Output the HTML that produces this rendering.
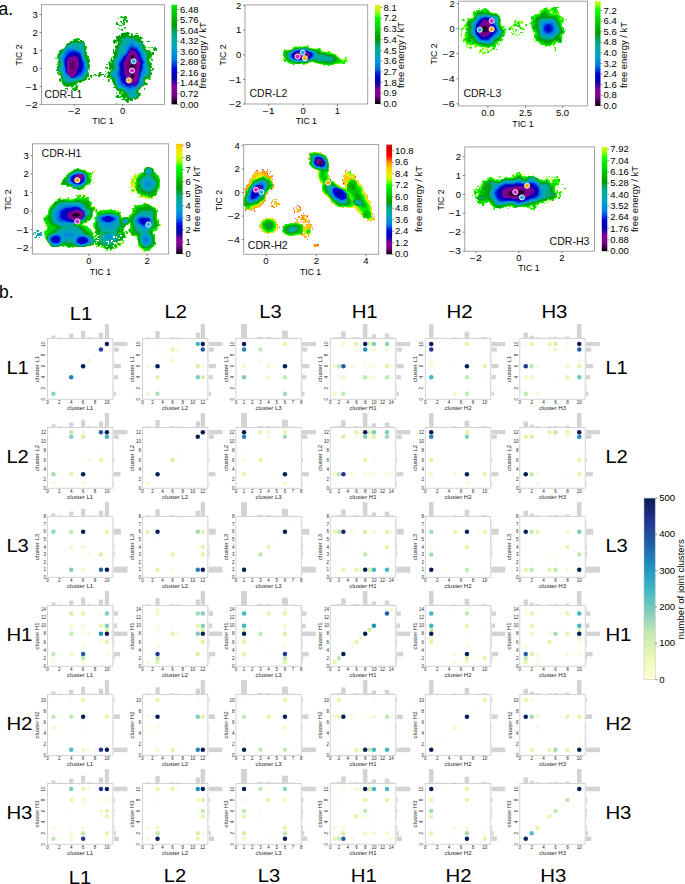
<!DOCTYPE html>
<html><head><meta charset="utf-8"><style>
html,body{margin:0;padding:0;background:#fff;}
svg{display:block;}
text{font-family:"Liberation Sans", sans-serif;}
.tk{font-size:4.5px;fill:#2a2a2a;text-anchor:middle;}
.te{text-anchor:end;}
</style></head><body>
<svg width="685" height="884" viewBox="0 0 685 884">
<rect width="685" height="884" fill="#fff"/>
<g clip-path="url(#ax0)"><g transform="scale(0.5)"><path d="M249 50l-3 0-2-3 4-1-2-1 0-3 0-1 2-4-2-1-4 0-2-2 2-2 2 0 1 2 1-2 0 2 2 0 0-1 0-3 0 2 3 0 1 2 2 2-1 2-2 0-1-2 0 1 2 2-1 3-1 0-2 1 2 1-2 3 2 1 0 1zM253 34l-1 0 1-2 1 1zM236 38l0-2 1 0 1 0zM242 38l0-1 0-1 0 1zM230 40l0-1 0-1 0 1zM253 46l-1-4 2-2 1 0 1 3zM243 46l-1-2-2 0 0-1 1-1 1 0 2 1 0 1zM235 44l-1-1 1-1 1 1zM240 54l-3-4-5 0 2-2-2-2 0-2 1 0 6 6 1 0 4 0 0 2-3 0zM252 48l0-1 0-1 0 1zM247 52l-1-1 1-1 1 1zM249 58l-1-2 2-2 2 2zM237 58l-1-1 0-1 2 0zM245 62l-2-2-4 0-1-1 2-1 1 2 2-2 2 0 1 3zM256 206l-2 0 0-2-3-2-1 0-1-2-1 0-3 0-2 0-1-1 1-1 5-1-5-3-2 2-7 0-1-2-3-1 2-1 2-2 2 0 1 0 2 4 3-2 0-3-1-1-1 0-2 2 0-4 0-2-1-2-3 0-2-2 2-1-3-3-5 0 0-2 3 0 1-2-2-2-2-2 0-2-2-3 0-3-1-2-2 0-2 2-1 1 2 2-3 1-1 0 0-3 2-1-2-1 6-3 2-1-2-1-2 1 0 1-1 0-1 0-2 0-2-2 0-2 2-2 0-2-2-3 3-3 1 2 4-1-2-2 2-1-4-1 0-4 2-2-2-2 0-4-2-2 3-3 2 4 3-1-1-1-3-1 2-2-2-2 2-2 0-2 0-1 2 2 0 4 1 0 1-1 0-3-2-2 3-2 1-1 0-2 0-2-2-1 0-1 0-1 0-5 0-1 2 1 0 1 0 4 1 0 1-2 0-1 0-2 1-1 1-1-2-1 0-2 0-2 1-2 1 2 1 0 1-3 2-2 0-2 0-2-3-1-1 2 2 2-3 0-1-2 0 2 0 2-1 0-1-1 0-2-2-2 2-3 1-2 1 0 0 1 1 1 1 0 2-2-2-2 0-2 9-4 1 1-2 3 0 2 0-2 2-2 0-2 0-2 0-2 1 0 5 0 1-2 3 2 2-2 2 2 3 0 1 1-4 3 4 2 1 0 1-2 1-4 3 3 0 3 2 0 0-2 9 0 1 4 1 2 1-4 1 0 3 4 1-2 1 2-4 3 0 2 2 1 1 0 3 2-2 1 0 1 0 2 4 3 1 3 2 0 1-2 0 1 0 1-3 2-1 1 4 3 3 0 1 0 4 4 0 4 2-2-2-1 2-1 3 0 1 1 0 2 0 2-4 1 0 3-2 2 0 2 4 2 0 1-2 2-3-4-2 0-1 2 1 0 1 2 0 2 4 3 0 3-2 1 2 2 0 2-4 2 0 2 2 1 2-2 1-2 3 1-2 3-1 2-3 0 0 2 2 2 0 3-1 1-3 1 2 3-2 2 0 1 2 2-2 1-2-2-4 0-2 0 0 1-2 2 0 2 6 5-2 2-2 0-2 2-1-2-4 2-7 8 0 1-2 2 2 3 2 0 2 1-2 2 2 3-4 0-3 6-3 0 0 2-1 0-3-4-2 2 0 2 0 2-5 0-1-2-2 0 0 5zM276 68l-4 0-2-2 1 0 5 0zM151 182l-3 0-4-4 0-1 2-1 2 0 0-1 4-2 0-1-3-2-1 1 0 2-4 3-4-4-2 0-1 2-2 0-2-2-1 0-2 2 0-1-4-3 0-1-2-3 0-2 0-1-2-1-1 2-3-3 0-2 4-3 0-3-2-3-3 0-3-4 0-1 4-3-2 0-2 0-2-1 2-2 0-6 2-1 0-2-4-2 4-1 0-2-2-1 4-2-2-2 0-2-2-3 0-3 2-4 2-2 0-4 0-1 3-1 4-2 2 0 5-6 0-2 0-2 2 0 2-2 2 0 2-2 1-2 5 0 1-4 11-2 2 2 0 1-4 1 0 1 1 1 1 0 3-2 3 0 0 2 2 0 1 0 1 0 2 9 4 4-2 2 2 1-2 2 0 4 4 1-2 1 0 2 0 2 4 2 0 5 2 4 0 3-2 2 0 2 2 2 0 5-2 2 0 2-2 1 0 3 2 2 0 2 0 1-2-2 0 1 2 2 0 3 0 2-2 0-2 2-1 4-2 0-1 2-1 0-2 0-4 2-2 2-2 0-2-2-3 4-1 0-1 0 4 4 0 3-2 1 2 1 0 2zM299 84l-5 0 0-1 1-1 4 0 1 0zM305 96l-1 0-2-1 2-1 2 1zM299 98l-1-1-2-2 1-1 3 1zM313 102l-1-2-1 0-1 2-1 0-3-3 2-3 1-2 5 3 0 4zM222 106l0-2 0 1zM177 106l-1 0 1 0 1 0zM113 118l-1 0-2-1 2-1 2 0zM300 117l-1-1-1 0 2 2zM215 130l-2 0-1-2 2 0 2 1zM216 138l-1 0-2-2-3 0 2-2 3 0 1 2zM180 142l-2-2 1-2 1 1zM224 139l-1-1-1 1 1 1zM211 144l-1-2 2 0zM197 154l-1-3 2-2-2-2 2-1 1-2 2 0 3 1-4 2 1 1 4 0 1 0 2 1-3 1-2 0zM120 147l0-1-1-2-1 1 0 1 1 2zM214 148l-2-1 2-1 0 1zM190 150l-2-1 2-1 1 0 1 0zM211 150l-1-2 2 0zM187 152l-1-1 0-1 2 0zM193 152l-1 0-2-2 1 0 1 0 2 1zM182 156l0-2-2-2 0-2 4 1 0 2 0 2zM211 154l-3-1 1-3 1 1 2 2zM218 153l0-1-2 1 1 1zM174 154l-1 0-1 0 1 0zM296 156l0-2 0 2zM213 156l-1 0 0-2 2 2zM179 160l-3-1 2-3 2 1zM124 161l0-2-1-1-1 3 1 1zM207 160l-1-1 1-1 1 1zM184 162l0-1 0-1 0 1zM157 170l-1-2 2 0zM158 174l0-1 0-1zM136 180l-1 0-1-1-1-1-2 0-1-2 1 0 2 0 1 0 2 0zM152 176l-1 0-1 0 1 0zM289 180l-1-1 0-3 2 1zM138 184l0-1 0-1 0 1zM234 188l-2 0 0-2 2-2 0 1zM246 186l0-2-4 1 1 1zM254 197l-1-3-1 0-2 3 0 1zM233 208l-1 0 0-2 2 2zM252 208l0-2 0 1z" fill="#00cc00" fill-rule="evenodd"/><path d="M253 38l-1 0-2-2-1 0-2 0-1 0-4 0-2-2 1 0 5 0 2 0 0-1 0-3 0 2 3 0 1 2 2 2zM253 34l-1 0 1 0 1 0zM236 38l0-2 1 0 1 0zM230 40l0-1 0-1 0 1zM249 50l-2-2-1 2-2-3 4-1-2-2 0-2 0-1 0-1 1-2 5 1-1 1-3 1 0 2 2 1-2 3 2 1 0 1zM253 46l-1-4 2-2 2 2 0 1zM243 46l-1-2-2 0 0-1 1-1 1 0 2 1 0 1zM235 50l-3 0 2-2-2-1 1-3 3 4 0 1zM244 52l-1 0-1-2-1 0-1 2-1 0-1-1 2-1 3 0 1 2zM249 58l-1-2 2-2 2 2zM237 58l-1-1 0-1 2 0zM246 62l-2 0-2-2 0-1 1-1 2 0 1 3zM239 60l-1 0 1 0 1 0zM255 206l-3-4-2 0-1-4-2 2-2 0-3-1 3-1 3-1 0-1-2 0-2-2-2 0-2 2-6 0-1-2-3-1 2-1 2-2 3 0 2 4 3-3 0-3 4 0 0-3-1-1-4 0-3-4-1 0-1 2-2 0 0-4-2 0-1-2-2 0-2 0-1-2 2 0 1 0 1-1 0-1-2-3 0-3-2-2-2-2 0-2-1-2-3 0 0-1 3-1 1-1-2-1-1 0-1 2-1 0-1 0-2 0-2-2 0-2 2-2 0-2 0-1 0-3 2 0 2 0 2-2 0-1 2-1-1-2-4 2-1-1 0-4 2-2-2-2 0-5-2-1 2-1 1 0 1 1 1 1 1 0 2-1-1-1-3-1 2-2 0-5 2 1 0 2-2 1 1 0 3 0 2-3-2-4 3-1 1-2-4-4 0-2 0-1 0-4 0-1 2 1 0 5 2-2 0-1 0-2 2-1 0-2-2-4 1 0 2 0 1-3 2-2 0-2 0-2-2-1-2 1 0 1 2 2-2 0-2-2-1 0-1 1 2 2-1 1-3-4 0-2 3-2 2 0 3 0 0-2-2-2 0-2 2-2 3 0 3-2 0 2-2 2 0 1 1 1 1-1 2-3 0-2 0-1 0-1 1-2 8 0 1 0 2-2 6 2 0 1-4 3 4 2 1 0 1-1 1-5 3 3-2 2 2 1 1 0 2-2 1 0 4 0 1 0 2 0 1 6 2-1 0-1 1-2 2 4 3 0-2 0-2 3 0 2 1 1 3 1 0 1 0 5 3 1 1 3 2 1 0 1-2 1 0 1 3 3 2 2 2-2 2 0 3 5 0 3 2-1 0-3 2 0 2 1 0 1 0 3-3 1-1 1 0 2-2 1 0 2-1 0-1 0-2 0 0 1 0 2 0 2 2 1 0 2-2 0 1 2 1-2 4 3 0 3-4 1 4 3 0 1-4 2 0 2 3 1 3-4 2 1 0 1-3 2-3 1 0 4 2 1 0 3-1 1-2 0-1-2 0 3 2 2 0 1-2 2 0 2 2 1-3 1-3-2-3 0-1-2-2 2 0 2 0 1 0 4 2 1 4 2-2 2-3 0-1 0-2 0-2 2-3 2-1 0-2 4-1 0-1 1-2 5 2 2 2 0 2 1-2 2 0 2 2 1-4 0-2 2-1 4-2 0-1-2 0 1 0 1 0 2-1 0-3-4-1 0-3 3 2 1 0 2-4 0-1-2-3 0 0 2-2 1 0 2zM275 68l-3 0 0-2 4 0zM274 76l0-2-2 2zM145 174l-1 0-2-2-4 0-2 2-4-2-2 2 0-2-4-2 0-2-2-2 0-3-2-1-1 2-3-3 2-3 1 0 1-3 0-3-2-2-1 0-2 0-1-2 0-2-2-1 4-3 0-1-1-1-2 2-1 0-2-1 2-2 0-6 4-3-4-1 0-1 1 0 1-1 0-3 2-1 0-3-2-4 0-6 0-2 4-3-2-1 2-1-2-1 2-2 2 0 2-2 3 0 5-5 2-5 2-2 2 0 4-4 4 0 2-2 2-1 0-1 3 0 3-2 1 2 3 0-1 2-2-2-1 2 0 1 2 3 4-4 2 0 0 2 0 2 4-2 0 3 2 4 0 3 0 1 0 1 2-2 2 2 0 2-2 1 0 9 2 1 0 2-2 1 3 4 1-2 0 1 2 5 2 3 0 3-2 1 0 3 2 2 0 4-4 5 0 5 2 1 0 2-1 1-1-2-2 1 4 3 0 2 0 2-3 0-1-1-1-1-1 2 2 1-1 5-2-2-1 4-4 0-2 2-2 0-1 2-1 0-2-2-3 0-1 2-2 0-2 2-2 2 0 2zM299 84l-4 0-1-2 1 0 2 0 2 0 1 0zM305 96l-1 0-2-1 2-1 2 1zM299 96l-1 0 0-2 2 1zM313 102l-1-2-1 0-2 2-3-3 0-1 2-1 1-3 3 2 2 2 0 3zM113 118l-3-1 2-1 1 0 1 0zM304 122l0-2-2-1 0-3 4 4zM118 127l0-1 0 1 0 1zM214 130l-2-1 2-1zM216 138l-1 0-2-2-3 0 2-2 3 0 1 2zM180 140l0-2 0 1zM211 144l-1-2 2 0zM198 154l-2-1 0-2 2-2 0-1 0-1 0-2 3-1 1 1 0 1-2 1 1 1 4 0 1 0 2 1-3 1-2 0-3 2zM120 148l2-1-3-3-1 0 0 2 2 2zM214 148l-2-1 2-1 0 1zM190 150l-2-1 2-1 1 0 1 0zM211 150l-1-2 2 0zM187 152l-1-2 2 0zM193 152l-1 0-2-2 1 0 1 0 2 1zM184 156l-2-1 0-1-2-2 0-2 4 1 0 2 0 1zM210 154l-2-1 1-3 1 1zM218 154l2-1-2-1-2 1 2 1zM298 156l0-1-2-1 0 2zM213 156l-1 0 1 0 1 0zM178 160l-2-1 0-1 2-2 1 0 1 2zM124 161l0-3-2 1 1 3zM218 164l-2-1 0-2 2-1-2-1 1-1 3 1-2 1 2 2zM136 168l-1 0-1 0 1 0zM154 176l-2 0-2-2 2-1 0-2-2-1 1 0 2 0 3 2 0 2zM135 180l-3-3 2-1 1 0 1 1 0 2zM151 182l-3 0 0-2-4-2 0-1 2-1 1 0 5 0 1 2 3 0zM131 178l-1 0 1-2 1 1zM289 180l-1-1 0-1 1-2 1 1zM138 184l0-1 0-1 0 1zM234 188l-2-1 2-1zM239 188l-1 0 0-2 3 0 1 1zM246 189l0-1-2 1 1 1zM254 198l-1-4-2 0-1 3 2 1 1 0zM233 208l-1 0 0-2 2 2zM252 208l0-2 0 1z" fill="#00ba00" fill-rule="evenodd"/><path d="M248 34l0-1 0-1 0 1zM253 38l-2-2-1-2-1 2-3 0-1-2-2 2-1-1 1-1 3 0 2 0 3-2 1 2 2 2zM253 34l-1 0 1 0 1 0zM230 40l0-1 0-1 0 1zM247 44l-1-4 2-2 2 0 0 1 0 1-2 1zM254 44l-2 0 0-2 2-2 2 2 0 1zM243 46l-1-2-2 0 1-2 3 0 0 1zM235 50l-3 0 2-2-2-1 1-3 3 3zM249 46l-1-1 1-1 1 1zM249 50l-1-2 0-2 0 1 2 1 0 1zM245 48l-1-1 1-1 1 1zM243 50l-1 0 1 0 1 0zM239 52l-1 0 1 0 1 0zM251 56l-3 0 2-2 2 2zM236 58l0-1 0-1 0 1zM246 62l-2-1 0-3 2 1 0 2zM256 206l-1 0-1-2 0-1-4-3 1-2 2 0 3 0-2-2 0-2-1 0-4 2-1 0-4-4-2 0 1-2 2 2 5-4-4-3 0-1-2-2-2 0-3-2-2 0-2 2-1-2 0-1-4-4 0-4-2-2 0-2 0-1-2-1 0-2-2-4-2-2 2-2-2-1-1 0-1 2-3 0-3-3 0-1 2-2 0-2 0-1 0-3 1 0 1 0 2 0 2 0 0-2 2-2 0-2-2-1 0-1-2 0 2 1-2 1-1 0-1-2 2-2-2-4 0-6 1 0 1 2 1 2 3-3 0-1-2 0 0-2 1-2 1 2 2-1 2-2 0-3 0-1-1-1-1-1 4-1 0-3-2-3 2-3 0-2 0-1 4-2-4-3 0-2 3-1 3-4 0-5-2-1-2 0 0 2 2 2-2 0-2-2-2 2-2-2 0-2 3-2 1 0 3 0 1-1 0-2-2-1 0-1 2-3 4 0 2-2 0 2-2 2 0 1 3 1 1-3 0-1 0-5 2-1 6 0 2 0 2-2 6 2 0 1-4 2 0 1 4 4 2-2 0-5 1-1 3 3-2 1 0 2 2 2 2 0 1-4 2 2 1-2 5 0 1 2-2 1 2 1 0 2 3-2 3 2-2 2-2 1 0 1 3 2 3 1 0 4 2 4 0 4 4 4 0 1 3 4 1 0 1-2 2 0 1 4 3 2 1-3 1-1 1 0 2 1 0 1-1 4-4 0-1 1 2 1-2 2-6 1 2 2 0 2-2 1 0 2 2 1 0 4 1 1 2-2 3 1 0 2-4 2 0 1 2 1 0 2-2 2 0 2 2 2 0 2 0 2 2 2 0 1-1 2-1 0-2-2 0 5 1 1 1 0-1 0-1 0-2 2 0-2-2-2-2 2 0 2-3 0-3 5 2 2-2 1 0 2 1 0 5 0 0 3 0 1-6 0-2 2-1 0-9 8-2 4 3 2 3 0 2 1 0 1-2 1 0 3-2 1-3 5-2-2-1 1 0 1 0 2-2 0-2-4-1 0-3 2 0 1 2 1-1 2-7-2-2 3 0 2zM275 68l-2 0-1-2 3 0 1 0zM272 77l4-1 0-1-2-1-2 1 0 2 0 1zM136 174l-1 0-2-2-1 0-2 2 0-3-4-2 2-1-4-2 0-1 2-2-2-2 2-2-2-1-2-1 0-2 0-3 0-1 0-5-4-3-1-3-2 2-3-1 2-2 0-5 2-2 1 0 3-4 0-1-2-1-2-1 0-1 2-2 0-1 0-3-2-2 0-5 0-2 4-3 0-4 1-2 1 2 1 0 1-2 6-4 0-1 2-3 0-2 4-4 2 2 5-6 3 2 2-2 0-1 2-1 0-2 4 0 2 0-2 2 3 4 1 0 4-4 1 0 1 1-2 1 2 2 4-2 0 4 2 1 0 7 2-2 2 2 0 1-2 2 0 2 0 1 0 4 0 1 0 2 0 6 4 3 0 3 3 1 1 2 0 2-4 0 0 3 2 3 0 2 0 1 0 2-2 3 0 5-2 3 0 1 4 3 0 2 0 2-2 0-1-2-2 0-1 2 1 2 1-2 0 2 0 2-3 0-1 2-5 2-1 0-6 0-1 2-2 0-4 2-4 4-2 0-1 0-1 0-2 2-3 0zM159 80l-1-1 0-1 2 0zM299 84l-2 0-3-1 3-1 1 0 2 1zM229 88l-1 0 1-2 1 1zM305 96l-1-1 1-1 1 1zM313 102l-1-4-3 4-3-3 0-1 2-1 1-3 1 0 4 4 0 2zM226 104l0-5 1-1 1 2-2 1zM113 118l-1-1 0-1 2 1zM222 120l0-3 1-1 1 2zM304 120l-2-1 1-1 1 1zM178 121l-1-1-1 1 1 1zM228 123l-1-1-1 1 0 1zM214 130l0-1 0-1zM216 138l-2 0-1-2-3 0 2-2 2 0 2 2zM305 140l-1 0 2-2 0-2 1 0 1 2zM211 142l-1 0 1 0 1 0zM116 146l0-1 1-1 1 1zM198 154l-2-2 0-1 2-2 0-1 2-2-2-1 3-1 1 2-2 1 1 1 4 0 1 0 2 1-3 1-2 0-3 2zM178 146l-2 0 2 0zM118 150l-2-1 1-3 3 3zM214 148l0-1 0-1 0 1zM190 150l-2-1 2-1 1 0 1 0zM211 150l-1-2 2 0zM187 152l-1-2 2 0zM193 152l-1 0-2-2 1 0 1 0 2 1zM184 156l-2-1 0-1-2-2 0-2 4 1 0 2 0 1zM209 154l-1-1 1-3 1 2zM220 154l0-1-2-1-2 0 0 1 2 1zM213 156l-1 0 1 0 1 0zM178 160l0-3 1-1 1 2zM122 162l-2 0-2-1 0-1 2-2 2 1 0 2zM218 164l-2-2 2-2-2-1 1-1 1 1zM300 160l0-1 0-1 0 1zM136 169l0-1-1-2-1 2 2 2zM154 176l-2-1 0-2 1-3 1 1zM145 174l-1-1 1-1 1 1zM228 176l-2-1 1-1 1 1zM131 178l-1 0 1-2 1 1zM136 180l-1 0-1-2 0-2 2 1zM151 182l-3 0 0-2-2-2 0-1 1-1 1 2 6 0 0 1-1 1zM289 180l-1-1 0-1 2 0zM138 184l0-1 0-1 0 1zM239 188l-1-1 1-1 1 0zM234 188l0-1 0-1 0 1zM252 190l-1 0-1 0 1 0zM236 196l-2 0-2-3 3-3 3 1 0 3zM258 198l0-2 0 2zM248 200l-4-1 2-1 2 0zM252 208l0-2 0 1zM233 208l-1 0 1 0 1 0z" fill="#00a700" fill-rule="evenodd"/><path d="M254 36l-2 0-2-1 0-1 1 0 2 2 1 0zM253 34l-1 0 1 0 1 0zM242 36l0-1 0-1 0 1zM247 36l-1-1 1-1 1 1zM230 40l0-1 0-1 0 1zM247 42l-1-1 1-1 1 0zM254 44l-2 0 0-2 2-2 2 2 0 1zM242 44l-2 0 2-2 0 1zM243 46l-1-1 1-1 1 1zM234 50l-2-1 3-3 1 3zM245 48l-1-1 1-1 1 1zM250 50l-1 0-1-2 0-2 2 2zM251 56l-1 0 1 0 1 0zM246 62l-2-1 0-3 2 1 0 2zM254 204l-2-2 0-1-2-1 1-2 2 0 1 2 2-2-2-1 0-4-2-1 0-3-6-7-1 0-2-2-2 0-3-2-2 0-1 0-3-1 0-2 0-3-4-3 0-2 2-1-2-2 0-4-1-2-2 0-1 0 0-3-1-1-3 0-1-2-2 0-1 0 2 2-1 2-3-3 2-3 0-3 0-2 0-1 5 0 3-4 0-3-2-2 2-1-2-2-2 2-2-4 0-5 1-1 1 3 2 1 6-4 0-6 2-4 0-4-2-3 0-2 2-1 2 0 0-1-2-2 0-1 3 0 3-2-1-2-3 0-2-2 0-1 1-1 2 2 2-4 1 1 0 1 1 2 1-2 0-2 0-4-2-2-1-2-3 0 0 2 2 1-1 1-1 0-2-2-2 2-2-2 0-2 3-2 4 0 1-1 0-2-2-1 0-1 2-3 4 0 1 0 1 1-2 2 5 1 1 0-2-1 0-1 0-1 0-6 2-1 6 0 2 0 3-2 2 2 2 0 1 0 0 1-4 2 0 2 2 1 1 2 2 0 2-2 1 0 1 4 1-2 2 0 2-2 3 0 1-2 4 1-3 3-2 0-2 0-1 3 4 1 2 2 2 0 1 0 5 4 2 2 0 2 0 1 0 6 2 2 8 9 2 0 0 2 2 1-2 1 0 3-1 1-1 2 0 5 0 1 0 3 2 1 0 2 2 2 0 2 1 0 1 2 0 1-2 1 0 4 2 1 0 5-2 1-2 7-1-2-2 0-2 4-2 0-1 1-2 2 0 7 0 1 0 2-8 7-1 0-5 5 0 2 2 3 2 2 1-2 1 1 0 1-2 2 2 0 0 2-2 0-4 6-1-2-2 0-1 2-1-2-3 0-2 2 0 2-1 2-3-3 0-2-2-1-2 1 2 2 0 2-2 1zM275 66l-3 0 3 0 1 0zM264 70l0-1 0-1zM248 73l-2-1-2 0 2 2zM276 76l0-1 0-1zM280 78l0-2 1 0 1 0zM159 78l-1 0 1 0 1 0zM154 80l0-1 0-1 0 1zM136 174l-1 0-2-2-2 0-2-2-1-1 0-1 0-2-4 0 0-1 2-2 0-1 0-3-4-2 0-4 2-2-2-1 0-2 0-2-6-7 0-2-2-1 2-3 1-1 3-2 0-5-2-1 0-3 0-1 0-4-2-1 0-4 0-2 4-3 0-1 4-2 0-3 2 0 6-7 2-3 2-2 3 0 5-4 3 0 1-2 1 0 2-2 2 0 4 4 2 0 1-2 1 0 1-2 1 0 1 1-2 2 3 1 1-2 2 0 0 5 2 1 0 3-2 2 2 4 0 3 2 1 0 8-2 1 0 2 2 1 0 2 4 4 0 5 0 1 0 4 2 1-2 1 0 2 2 1 0 2-2 1 0 5-2 4 0 2 4 3 0 2-2 1-1-2-2 0-1 1 0 4-3 3-2 0-3 0-1 2-4 0-4 2-2 0-4 2-2 2-2 0-1 0-2 0-5 0-1-2-2 0 0 3 2 1zM152 83l0-1-2 0 1 2zM298 84l-2-1 2-1 2 1zM229 88l-1-1 1-1 1 1zM173 94l-1 0 1 0 1 0zM304 96l0-1 0-1 0 1zM313 102l-1-4-3 4-1-2 0-2 0-1 1-3 5 5 0 1zM227 100l-1-1 1-1 1 1zM305 110l-1-1 0-2 0-2 3-1 1 4zM232 109l0-3 0 3 0 1zM301 110l-1-1 1-1 1 0zM302 112l-2 0 2 0zM112 118l0-1 0-1 0 1zM222 118l0-2 0 1zM224 122l-2 0 2 0zM214 130l0-1 0-1zM303 130l-1-1 0-1 2 0zM224 130l0-1 0-1-2 2 1 0zM220 138l-2-1 1-3 1 1zM216 138l-2 0-2-2 4 0zM306 138l0-1 1-1 1 1zM115 142l-3-1 3-1 1 0zM305 140l-1 0 1 0 1 0zM211 142l-1 0 1 0 1 0zM198 154l-2-2 0-1 2-2 0-1 2-1 0-2 1-1 1 0 0 2-2 1 1 1 4 0 1 0 2 1-3 1-2 0-3 2zM117 148l-1 0 1 0 1 0zM190 150l0-2 1 0 1 0zM303 150l-1-1 0-1 2 1zM187 152l-1-2 2 0zM193 152l-1 0-2-2 1 0 1 0 2 1zM183 156l-3-4 0-2 4 1 0 2 0 1zM219 156l-1-1 1-1 1 1zM178 160l0-3 1-1 1 2zM121 162l-1 0-2-1 0-1 2-2 2 2zM218 160l0-1 0-1 0 1zM300 160l0-1 0-1 0 1zM218 162l-2 0 1-2 1 1zM293 170l-1-2 2 0zM153 176l-1-2 1-2 1 0 0 2zM131 178l-1-1 1-1 1 1zM136 180l-1 0-1-2 0-2 1 0 1 2zM150 182l-1 0-1-2 0-1-2-1 0-2 1 2 5 0 0 2zM289 178l-1 0 1 0 1 0zM235 196l-1-2 0-2 3 0 1 1zM249 196l-1-1 0-1 2-2 2 0 0 1zM272 200l-2-1 1-1 1 1zM247 200l-3-1 3-1 1 1z" fill="#009a08" fill-rule="evenodd"/><path d="M263 198l-1 0-2-1 4-2-1-1-1 2-2 0-2-2-1 0-1-2-2-3 0-1-9-8-4-2-5 0-4-3 0-3-2-4 0-2 0-2 0-1 0-3-2-2-2-2 0-1-2-2 0-2-2-1-2-1 0-2 2-2 2-3 2-2 0-3 2-2 0-3-1 0-2 2-1-2 2-3 0-2 1-1 1-2 0-6 6-6 0-2 0-1 0-1 0-7 4-4 0-2 2-3 0-2-2-2 3 0 3-2 0-1-2-2 0-1 0-3 3-3 5 2 1-2 3-1-2-1 1-2 2 2 2 0 2 2 2 0 1 2 1-2 6 0 6 6 3 0 4 2 2 2 2 2 0 8 6 7 0 1 2 2 0 2 4 1 0 1-4 4 0 6 2 1 0 7 2 3 0 10 2 2 0 1-2 2 0 4-1 0-4 4-2 0-3 3 0 2 0 9-14 13-2 2 2 1-2 1 3 3 1 0 0 1-1 1-1 0-2 2 2 2-3 2-2 0-2-2-1 1-2 2zM239 78l-1 0 1 0 1 0zM246 82l0-2-2 1 1 1zM239 84l-1 0-2-1 1-1 2 0 1 1zM146 166l-7 0-1 0-8 0-2-3-2-5-2-2 0-8-2-2-4-4 0-2-2-4 0-2 4-4 0-5 0-1 0-3-2-1 0-5-2-3 4-2 0-1 4-6 0-1 13-14 2 0 2 0 4-4 2 0 1 2 3 0 1-2 2 0 2 2 2 0 0-1 3-3 1 3-2 2 0 1 2 0 4-4 2 3 0 3-2 2 2 2 0 2 2 1 0 4 0 1 0 6 0 1 0 4 2 4 2 3 0 2 2 1 0 9 0 1 0 3 0 1 0 6-2 3 0 2-2 2-2 2 0 3-3 5-3 0-1 0-4 0-1 2-2 0-1 0-5 2zM220 132l0-1 0-1zM131 168l-1 0 1 0 1 0z" fill="#00a353" fill-rule="evenodd"/><path d="M263 198l-1 0-2-1 4-2-1-1-1 2-2 0-4-4 0-2 0-2-4-4-1 0-4-4-6-2-2 0-5-3-2-6-2-9-2-4-4-2 0-1 0-2-2-1-2-1 0-2 2-2 2-3 1-2 2 0 3-3 0-3 0-1 0-2-2-2 0-1 0-3 2-1 0-2-2-2 8-9 0-3-2-4 0-3 4-4 0-3 2-2 0-2-2-2 3 0 3-2 0-1-2-2 0-1 0-3 3-3 5 2 1-2 3-1-2-1 1-2 2 2 2 0 2 2 2 0 1 2 1-2 5 0 6 6 2 2 3 0 5 2 0 2 0 8 2 2 6 6 2 4 0 12 0 1 0 3 2 1 0 4 2 3 0 8 2 4-2 6-10 5-2 4 0 9-2 3-1 1-1 0-4 4-1 0-5 6 0 2 0 2 4 2 0 2-4 2 2 2-3 2-2 0-2-2-1 1-2 2zM239 78l-1 0 1 0 1 0zM246 82l0-2-2 1 1 1zM239 84l-1 0-2-1 1-1 2 0 1 1zM145 166l-4 0-1-2-3 0-1 0-2 0-5 0-1-1-2-2 0-2-2-3 0-7 0-1 0-2-6-5 0-2 0-2 0-2 4-4 0-7-4-6 0-4 0-2 2-2 0-1 6-6 0-3 10-10 10-4 8 0 1 0 3 0 0-1 3-3 1 3-2 2 0 1 2 0 4-4 2 3 0 3-2 2 2 2 0 3 2 1-2 2 2 1 0 6-2 1 0 6 2 2 2 3 2 4 0 5 2 1 0 4 0 1 0 1 0 8-4 6-2 2 0 2 0 2-4 3-2 0-1 2-3 0-1 0-3 0-1 2-5 0z" fill="#00aa8d" fill-rule="evenodd"/><path d="M253 74l-1 0 1-2 1 1zM270 196l-1 0-2-2-2 2-2-2-1 0-2 0 0-1-2-2 0-3-5-4-1 0-3-4-13-6-2-1-2-4 0-3 0-1 0-5-2-4-2-2-3 0-1-2-2-2-2-1 0-2 1-1 1 0 3-4 3 0 4-4 0-5-2-1 0-12 6-8 0-7 2-1 0-4 2-2 0-4 2-3 0-3 4 0 2 0 0-1 3-3 1 0-1-4-2 2-1 0-2-2-1 0-1 2-2 0 0-3 3-3 5 2 1-2 6 0 1 2 2 0 1 0 2 0 4 0 7 6 3 0 1 2 2 0 4 4 0 7 0 2 6 4 2 4 0 9 0 1 0 3 2 1 0 4 0 1 0 5 2 1 0 4 0 1 0 7 2 1 0 2-2 3-6 2-4 4 0 2 0 10-4 3 0 1-1 0-4 4-1 0-6 6 0 3 1 1 3 3 0 1-2 2 0 2zM239 78l-1 0 1 0 1 0zM239 84l-2 0-1-2 3 0 1 0zM161 84l-1 0 1 0 1 0zM146 164l-6 0-3-2-4 0-1 0-2 0-2-1-2-6 0-7-4-4 0-1-2-2 0-6 2-3 2-2 0-2-2-1 0-3 0-1 0-2-2-4 0-1 0-2 0-1 6-8 2-5 6-6 1 0 2-2 8-4 4 0 1-2 2 0 3 2 6 0 3-2 2 0 2 1 0 3-2 2 2 2-2 2 2 1 0 5 0 1 0 2 0 1 0 8 2 4 2 3 2 2 0 3 0 1 0 5 2 1 0 9-2 2 0 2-2 2 0 1-2 2-2 4-3 3-2 0-3 0-1 2-3 0-1 0-5 2-1 0-2 0zM263 198l-1-1 1-1 1 1z" fill="#00aaa0" fill-rule="evenodd"/><path d="M254 78l-2-1 2-1 0 1zM246 80l-2-1 1-1 1 0zM249 80l-1 0 0-2 2 1zM262 194l-2-4 0-3-4-3-6-4-2-2-11-4-1-2-2-4 0-3-2-1 0-4 0-1 0-2-4-5-2 0 0-1-3-3-3 0 1-2 3 0 1-2 4 0 3-3 0-2 0-2 2-1-2-1 0-3 0-1 0-8 0-1 0-2 2-2 2-3 2-4 0-2 2-2 1-1 4 0 3-3 0-3-2-2-2 0-2-2 0-2 1-2 1 0 2-2 1 0 3 0 2-2 1 0 3-2 2-4 0-2 1-2 1 2 5-2 4 4 3 4 2 0 4 0 4 3 0 6 0 1 0 2 6 5 0 1 2 2 0 5 0 1 0 5 2 1 0 2 0 1 0 4 2 1 0 10 2 4 0 7-2 2-5 3-3 2-2 4 0 9 0 2-8 7-6 4-2 2 0 3 1 1 2 0 3 3 0 1-5 0-1 2-5 0zM162 94l-4-3 3-1 1-2 3 0 1 0-2 1 0 3zM146 162l-4 0-2 0-3-4-7 0-2-1 0-2 0-1 0-3-2-1 0-5-2-2 0-1-4-4 4-4 0-2 0-1 0-7-2-4 0-8 0-2 4-3 2-5 3-4 1 0 4-4 2-2 2 0 1 0 2 0 1-2 5 0 5 6 1 0 2 2 2 0 1 0 3 0 3 4 0 12 2 4 4 5 0 2 2 1 0 7 0 1 0 8-2 4-4 6 0 1-4 3-2 2-2 0-1 0-7 2zM272 194l-2 0 0-1 2-1 0 1z" fill="#00a6b7" fill-rule="evenodd"/><path d="M262 184l-2 0-3-2-2 0-4-4-11-4-4-5-2-2 0-4 0-1 0-4-6-8 0-3 2-2 0-1 2-2 2-4 0-4-2-4 0-5 2-1 0-2 0-2 4-5 2-2 0-2 3-3 2 0 2-2 3-3 0-9 2-2 0-1 10-11 3 0 2 2 1 1 0 1 5 4 5 2 2 1 0 2 0 1 0 3 8 10 0 7 2 1 0 2 2 4 0 16 0 1 0 3 2 1 0 5-2 1-3 2-3 3-2 4 0 9-2 4-6 6-1 0-4 2-2 0-2 2zM148 160l-5 0-2 0-4-4-4 0-2-2-3-3 0-5-4-7 0-2 0-2 2-1 0-6-2-1 0-3-2-4 0-7 2-2 2-3 2-6 6-6 4-2 4 0 1 0 4 0 4 2 2 2 4 2 2 0 4 2 1 1 0 2 2 1 0 7 0 1 0 2 2 4 4 4 0 2 0 1 0 7 2 1 0 6-2 4-4 5 0 1-4 3-4 2-2 0-1 2-2 0-1 0-2 0zM264 188l-2-1 2-1 0 1zM267 190l-3-1 3-1 1 1z" fill="#009cd3" fill-rule="evenodd"/><path d="M261 180l-2 0-1 0-3 0-12-6-3-4-2 0-2-6 0-5-2-1 0-2-2-5 0-4 4-8 0-5-2-1 0-9 2-4 4-3 2-5 3-4 2 0 5-4 0-2 0-3 2-1 0-4 2-2 0-1 7-7 2 0 5 6 8 3 2 7 4 5 0 2 2 1 0 2 0 1 2 5 2 6 0 11 0 1 0 11-2 2-2 3-4 6 0 5 0 1 0 5-2 2-6 7-4 2-5 0-1 2-2 0zM150 158l-7 0-4-4-7-2-2-2-2-6 0-2-2-1 0-14-2-4 0-5 0-1 0-1 0-3 4-4 2-4 0-2 4-5 4-2 10 0 1 2 2 0 10 4 3 3 0 2 0 1 0 5 2 1 0 5 4 5 0 3 2 1 0 9 0 2 0 1 0 2-2 4-4 3 0 1-4 4-6 2-5 2z" fill="#008ddd" fill-rule="evenodd"/><path d="M265 178l-9 0-12-6-4-5-2-2 0-2 0-1 0-4-2-1 0-3-2-3 0-7 4-6 0-2-2-1 0-3 0-1 0-5 2-4 2-3 2-5 10-9 6-13 3-4 2 0 1 0 5 4 5 2 4 3 2 6 2 2 0 2 2 1 0 5 4 7 0 3 2 1 0 3-2 1 0 6 0 1 0 4-2 1 0 2 0 1 0 2-2 1 0 2-2 4 0 2 0 1 0 3-2 1 0 5 0 1 0 2-2 2-5 5-2 2-2 0-1 0-2 0zM148 158l-3 0-2-2-4-4-6-2-1-2-2-2 0-2 0-2-2-1 0-7 0-1 0-6-2-1 0-4 0-1 0-5 6-14 2 0 2-2 5 0 1-2 6 0 1 2 3 0 8 4 2 3 0 2 2 1 0 3 0 1 2 5 4 7 0 16-2 4-6 6-8 4-2 0z" fill="#007add" fill-rule="evenodd"/><path d="M262 176l-5 0-1-2-2 0-4-2-2-2-1 0-5-4-2-6 0-4-2-1 0-3-2-3 0-5 2-3 0-7 0-1 0-7 0-2 4-3 2-5 2-3 0-1 2 0 6-6 4-10 4-4 3 0 1 2 2 0 6 2 2 3 0 1 4 5 2 5 2 3 0 2 4 8 0 5-2 1 0 6 0 1 0 2-2 4 0 2-2 1 0 3 0 1 0 3-2 1 0 2 0 1 0 3-2 1 0 3 0 1 0 2-6 6-6 2-3 0zM149 156l-4 0-4-2-9-8-2-4 0-3 0-1 0-6-2-1 0-6 0-1 0-6 6-12 4-4 2 0 1 0 3 0 1-2 4 0 1 2 3 0 4 2 5 4 0 2 2 4 0 3 4 8 0 3 0 1 0 2 0 1 0 7-2 1 0 2-2 4-3 4z" fill="#0041dd" fill-rule="evenodd"/><path d="M261 172l-5 0-1 0-2 0-2-2-1-1-6-7-2-2 0-2 0-1 0-3-2-4 0-8 0-1 0-6 0-1 0-3-2-1 2-1 0-3 2-3 0-1 2-2 4-6 8-9 0-1 4-3 0-1 3-4 4 0 1 2 2 0 2 0 6 6 2 4 0 5 4 7 0 2 2 1 0 5-2 1 0 6 0 1-2 5-2 4 0 3 0 1 0 3-2 1 0 3 0 1 0 5-4 4 0 2-3 4-2 0-1-2-4 0zM146 156l-5-2-1-2-6-6-2-4 0-2 0-1 0-4-2-1 0-5 0-1 0-9 2-6 8-7 4-2 9 0 4 2 3 2 2 4 0 2 0 1 0 3 2 1 0 2 0 1 2 5 0 1 0 4 0 1 0 3-2 1 0 3 0 1 0 2-6 5-10 6z" fill="#0000dd" fill-rule="evenodd"/><path d="M271 172l-2 0-1-2-3 0-3-1-1-3-1 2 0 1-3 3-1 0-2-2 0-2-2-2-4-4 0-1-2-2-2-2 0-3 0-1 0-2-2-4 0-3 0-1 0-9 0-1 0-6 6-8 0-3 10-10 0-1 2-2 0-3 3-4 4 0 1 1-1 1-3 1 5 1 2 2 1 0 4 5 2 2 0 2 0 1 0 2 4 7 0 14-2 6 0 2-2 1 0 3 0 1 0 4 0 1 0 3 0 1 0 5-4 2 0 2 0 2zM146 156l-5-2-7-8 0-3 0-1 0-5-2-1 0-4 0-1 0-11 2-4 7-8 6-2 5 0 4 2 2 2 2 4 0 2 2 1 0 3 0 1 0 3 2 1 0 3 0 1 0 2 0 1 0 3-2 1 0 2-2 4-4 4-1 0zM272 166l-1-2-1 1 0 1z" fill="#0000c1" fill-rule="evenodd"/><path d="M271 172l-2 0-1-2-3 0-2 0-1-2-1-2-1 0 0 3-3 3-1 0-2-2 0-7 0-2-4-4-6-10 0-4 2-1 0-5-2-1 0-7 2-6 4-5 2-5 2-2 0-2 6-6 0-3 3-4 5 1-4 2 5 1 2 2 1 3 2 1 0 3 2 2 0 3 2 1 0 5 2 2 0 5 2 1-2 1 0 7-2 3 2 3-2 1 0 4 0 1 0 4 0 1 0 3 0 1 0 5-4 2 0 2 0 2zM146 156l-5-2-7-8 0-3 0-1 0-2 0-1 0-3-2-1 0-2 2-1 0-10 0-1 0-2 2-2 5-5 6-4 6 0 5 4 2 4 0 3 0 1 0 5 2 1 0 6-2 1 0 2 0 1 0 2-2 2-4 5 0 2-2 2 0 1zM272 166l-1-2-1 1 0 1z" fill="#0300aa" fill-rule="evenodd"/><path d="M271 172l-2 0-1-2-3 0-2 0-1-2-1-2-1 0 0 3-3 3-1 0-2-2 0-7 0-1 0-2-4-2 0-2 2-2-2-4-2-2 0-3 0-1 0-10-2-1 2-7 0-1 0-2 2-2 0-3 2-1 0-2 0-2 2-2 0-2 6-6 0-3 3-4 5 1-4 2 5 1 2 2 1 3 2 1 0 3 2 2 0 3 2 1 0 5 2 2 0 3 2 3-2 1 0 7-2 3 2 3-2 1 0 4 0 1 0 4 0 1 0 3 0 1 0 5-4 2 0 2 0 2zM146 156l-5-2-7-8 0-3 0-1 0-2 0-1 0-3-2-1 0-2 2-1 0-5 0-1 0-3 0-1 2-3 0-2 1-1 1 0 1-2 4 0 3-2 6 0 4 2 2 4 0 3 0 1 0 10 0 1 0 3-4 4 0 2 0 1 0 4-2 2 0 1zM272 166l-1-2-1 1 0 1z" fill="#4d00a0" fill-rule="evenodd"/><path d="M257 166l-3-4 0-5 0-1-2-5-2-3 0-9-2-1 0-6 0-1 0-3 0-1 0-3 2-2 2-4 0-2 4-4 0-3 4-5 2 0 2-1 0-1 1 0 1 0 2 0 0 2 6 4 0 7 4 3 0 2 0 1 0 4 2 1 0 6-2 1 2 1 0 2-2 4 0 3-2 1 0 5 0 1 0 2 0 1 0 5-2 1 0 3-4 0-2 2-3 0-1 2-1 0-2-2zM146 154l-2 0-4-2-4-5 0-2 0-2-2-1 0-5 0-1 0-4 0-1 0-2 0-1 0-6 4-3-2-2 2-1 2-2 2 0 1 0 3 0 2-2 6 7 0 2 2 1 0 13-2 1 0 5-2 3 0 2-2 4zM271 170l-1-1 1-1 1 1z" fill="#860097" fill-rule="evenodd"/><path d="M268 158l-7 0-5-3-4-8 0-3 0-1 0-4-2-1 0-12 6-12 4-3 0-1 4-2 2 0 2 0 2 3 4 6 0 2 2 3 0 5 2 1 0 6-2 1 0 3-2 4 0 3 0 1 0 4-2 1 0 2 0 2zM146 150l-3 0-3-3 0-1-2-2 0-2-2-1 0-4 0-1 0-7 0-1 0-3 2-1 0-2 3-4 2-2 2 0 1 0 1 0 2 0 5 6 0 14-2 1 0 2 0 1 0 2-2 4z" fill="#7d008e" fill-rule="evenodd"/><path d="M266 158l-1 0-3-3 0-2 0-2-1-1-5-4 0-2 0-2-2-1 0-4 0-1 0-4 0-1 0-3 2-1 0-2 2-4 0-1 4-4 0-5 2-1 3 0 1 2 0 4 0 2 2 2 2 4 0 2 0 3 2 1-2 7 0 1-2 5-2 5 0 3 0 1 0 1 0 2zM145 140l-2 0-3-4 0-9 2-2 3-3 1 0 2 1 2 4 0 6 0 1 0 2-2 2z" fill="#5d006b" fill-rule="evenodd"/><path d="M266 118l-2 0-2-2 0-3 2-3 2 0 2 2 0 5zM265 140l-2 0-1-2 0-3-2-1 2-3 2-3 2 2 0 2 2 1-2 5zM266 156l-2 0-2-2 0-4 2-2 2 0 2 2 0 4z" fill="#1c0020" fill-rule="evenodd"/></g></g><defs><clipPath id="ax0"><rect x="41.5" y="4.7" width="122.90" height="99.70"/></clipPath></defs><circle cx="133.6" cy="61.3" r="2.55" fill="#1ab0e8" stroke="#fff" stroke-width="0.9"/><circle cx="132" cy="70.6" r="2.55" fill="#e21fd0" stroke="#fff" stroke-width="0.9"/><circle cx="128.8" cy="80.3" r="2.55" fill="#f7a900" stroke="#fff" stroke-width="0.9"/><rect x="41.5" y="4.7" width="122.90" height="99.70" fill="none" stroke="#999" stroke-width="0.9"/><line x1="74.3" y1="104.4" x2="74.3" y2="106.4" stroke="#555" stroke-width="0.7"/><text x="74.30" y="114.20" font-size="8.47" text-anchor="middle" textLength="12.23" lengthAdjust="spacingAndGlyphs">−2</text><line x1="122.6" y1="104.4" x2="122.6" y2="106.4" stroke="#555" stroke-width="0.7"/><text x="122.60" y="114.20" font-size="8.47" text-anchor="middle" textLength="5.28" lengthAdjust="spacingAndGlyphs">0</text><line x1="39.5" y1="14.60" x2="41.5" y2="14.60" stroke="#555" stroke-width="0.7"/><text x="37.70" y="17.70" font-size="8.47" text-anchor="end" textLength="5.28" lengthAdjust="spacingAndGlyphs">3</text><line x1="39.5" y1="32.56" x2="41.5" y2="32.56" stroke="#555" stroke-width="0.7"/><text x="37.70" y="35.66" font-size="8.47" text-anchor="end" textLength="5.28" lengthAdjust="spacingAndGlyphs">2</text><line x1="39.5" y1="50.52" x2="41.5" y2="50.52" stroke="#555" stroke-width="0.7"/><text x="37.70" y="53.62" font-size="8.47" text-anchor="end" textLength="5.28" lengthAdjust="spacingAndGlyphs">1</text><line x1="39.5" y1="68.48" x2="41.5" y2="68.48" stroke="#555" stroke-width="0.7"/><text x="37.70" y="71.58" font-size="8.47" text-anchor="end" textLength="5.28" lengthAdjust="spacingAndGlyphs">0</text><line x1="39.5" y1="86.44" x2="41.5" y2="86.44" stroke="#555" stroke-width="0.7"/><text x="37.70" y="89.54" font-size="8.47" text-anchor="end" textLength="12.23" lengthAdjust="spacingAndGlyphs">−1</text><line x1="39.5" y1="104.40" x2="41.5" y2="104.40" stroke="#555" stroke-width="0.7"/><text x="37.70" y="107.50" font-size="8.47" text-anchor="end" textLength="12.23" lengthAdjust="spacingAndGlyphs">−2</text><text x="103.00" y="124.00" font-size="8.47" text-anchor="middle" textLength="21.23" lengthAdjust="spacingAndGlyphs">TIC 1</text><text x="21.60" y="55.00" font-size="8.47" text-anchor="middle" textLength="21.23" lengthAdjust="spacingAndGlyphs" transform="rotate(-90 21.60 55.00)">TIC 2</text><text x="44.40" y="98.00" font-size="11.5" fill="#111" textLength="37.91" lengthAdjust="spacingAndGlyphs">CDR-L1</text><defs><linearGradient id="cbg0" x1="0" y1="0" x2="0" y2="1"><stop offset="0.000" stop-color="#00ea00"/><stop offset="0.025" stop-color="#00df00"/><stop offset="0.050" stop-color="#00d700"/><stop offset="0.075" stop-color="#00cc00"/><stop offset="0.100" stop-color="#00c200"/><stop offset="0.125" stop-color="#00ba00"/><stop offset="0.150" stop-color="#00af00"/><stop offset="0.175" stop-color="#00a700"/><stop offset="0.200" stop-color="#009c00"/><stop offset="0.225" stop-color="#009d1d"/><stop offset="0.250" stop-color="#00a13d"/><stop offset="0.275" stop-color="#00a668"/><stop offset="0.300" stop-color="#00aa8b"/><stop offset="0.325" stop-color="#00aa93"/><stop offset="0.350" stop-color="#00aa9d"/><stop offset="0.375" stop-color="#00aaa8"/><stop offset="0.400" stop-color="#00a7b3"/><stop offset="0.425" stop-color="#00a2c3"/><stop offset="0.450" stop-color="#009ecf"/><stop offset="0.475" stop-color="#0098dd"/><stop offset="0.500" stop-color="#008ddd"/><stop offset="0.525" stop-color="#0085dd"/><stop offset="0.550" stop-color="#007add"/><stop offset="0.575" stop-color="#005ddd"/><stop offset="0.600" stop-color="#0041dd"/><stop offset="0.625" stop-color="#001cdd"/><stop offset="0.650" stop-color="#0000d9"/><stop offset="0.675" stop-color="#0000cd"/><stop offset="0.700" stop-color="#0000bd"/><stop offset="0.725" stop-color="#0000b1"/><stop offset="0.750" stop-color="#1800a7"/><stop offset="0.775" stop-color="#4300a2"/><stop offset="0.800" stop-color="#63009e"/><stop offset="0.825" stop-color="#870098"/><stop offset="0.850" stop-color="#820093"/><stop offset="0.875" stop-color="#7e008f"/><stop offset="0.900" stop-color="#79008a"/><stop offset="0.925" stop-color="#5d006b"/><stop offset="0.950" stop-color="#41004b"/><stop offset="0.975" stop-color="#1c0020"/><stop offset="1.000" stop-color="#000000"/></linearGradient></defs><rect x="171.5" y="4.7" width="5.60" height="99.70" fill="url(#cbg0)"/><line x1="177.1" y1="104.40" x2="178.9" y2="104.40" stroke="#555" stroke-width="0.6"/><text x="180.10" y="107.50" font-size="8.47" textLength="18.48" lengthAdjust="spacingAndGlyphs">0.00</text><line x1="177.1" y1="93.87" x2="178.9" y2="93.87" stroke="#555" stroke-width="0.6"/><text x="180.10" y="96.97" font-size="8.47" textLength="18.48" lengthAdjust="spacingAndGlyphs">0.72</text><line x1="177.1" y1="83.35" x2="178.9" y2="83.35" stroke="#555" stroke-width="0.6"/><text x="180.10" y="86.45" font-size="8.47" textLength="18.48" lengthAdjust="spacingAndGlyphs">1.44</text><line x1="177.1" y1="72.82" x2="178.9" y2="72.82" stroke="#555" stroke-width="0.6"/><text x="180.10" y="75.92" font-size="8.47" textLength="18.48" lengthAdjust="spacingAndGlyphs">2.16</text><line x1="177.1" y1="62.30" x2="178.9" y2="62.30" stroke="#555" stroke-width="0.6"/><text x="180.10" y="65.40" font-size="8.47" textLength="18.48" lengthAdjust="spacingAndGlyphs">2.88</text><line x1="177.1" y1="51.77" x2="178.9" y2="51.77" stroke="#555" stroke-width="0.6"/><text x="180.10" y="54.87" font-size="8.47" textLength="18.48" lengthAdjust="spacingAndGlyphs">3.60</text><line x1="177.1" y1="41.25" x2="178.9" y2="41.25" stroke="#555" stroke-width="0.6"/><text x="180.10" y="44.35" font-size="8.47" textLength="18.48" lengthAdjust="spacingAndGlyphs">4.32</text><line x1="177.1" y1="30.72" x2="178.9" y2="30.72" stroke="#555" stroke-width="0.6"/><text x="180.10" y="33.82" font-size="8.47" textLength="18.48" lengthAdjust="spacingAndGlyphs">5.04</text><line x1="177.1" y1="20.20" x2="178.9" y2="20.20" stroke="#555" stroke-width="0.6"/><text x="180.10" y="23.30" font-size="8.47" textLength="18.48" lengthAdjust="spacingAndGlyphs">5.76</text><line x1="177.1" y1="9.67" x2="178.9" y2="9.67" stroke="#555" stroke-width="0.6"/><text x="180.10" y="12.77" font-size="8.47" textLength="18.48" lengthAdjust="spacingAndGlyphs">6.48</text><text x="206.20" y="55.40" font-size="8.47" text-anchor="middle" textLength="66.20" lengthAdjust="spacingAndGlyphs" transform="rotate(-90 206.20 55.40)">free energy / kT</text><g clip-path="url(#ax1)"><g transform="scale(0.5)"><path d="M659 132l-4-2-2 0-1 2-1-2-2 0-2 2-1-4-3 0-1 2-1 0-2-2-2 0-2 0-2-2-4 0-4-2-2 0-2 2-1-2-2 0-2 4-3 0-2 2-1-2-1 2-2 0-2-2-3 0-1 0-5 0-1 0-2 0-1 0-3 0-1 2-2 0-2-2-2 0-2 0-2-2-1 0-2-2-1-2-1 0-2 2-2 0-1-1-2-2 2-2 0-4-4-4 2-1 0-5 4-7 2 2 3 0 1 0 1 0 2-2 1 2 2 0 4-6 4 0 1-2 4 2 3-2 1 2 2-2 2 2 4 0 1-2 5 0 3-2 2 2 0 2 1 2 6 0 1 2 3 0 1-2 1 2 3 0 1-2 3 0 2 0 2 1-2 1 4 3 0 3 2-2 2 0 1 2 3 0 2 0 3-2 1 0 2 0 2 2-2 1 1 1 2-2 2 4 5 0 3 2 1 0 2 4 5 2 5 4 2 0 2-4 2-2 2 1-2 2 2 3 2 1-2 3-4 1 0 3-2 0-1 0-2 0-1-2-2 2-2 0-2-2-2 2-3 0-2 0-1 0-2 0-2 2-5 0zM567 120l-1-1 0-3 2 0zM687 116l-1 0 1 0 1 0z" fill="#c4fc00" fill-rule="evenodd"/><path d="M659 132l-1 0-2-2-8 0-1 2-1-3-2-1-1 0-3 0-4-2-1 2-2-2-3 0-4-2-3 0-2 2-1-2-3 0-2 4-2 0-1 0-3 0-1 2-1 0-3-4-1 0-2 2-1 0-1 0-7 0-1 0-2 0-1 2-1 0-3-2-3 0-3-2-1 0-1-1-3-3-2 2-3 0 0-3 2-4-2-4-2-2 0-6 4-7 2 2 2 0 1 0 2 0 1 0 5 0 1-2 0-1 2-2 0-1 2 0 1 0 2-2 4 2 2 0 2 0 2-2 1 0 2 2 1 0 3-2 5 0 3-2 2 2 0 4 2 0 5 0 3 2 1 0 6 0 1-2 2 0 2 0 2 1-2 2 2 1 2 2-2 1 2 1 2-2 4 2 1 0 3 0 2-2 3 0 1 2 1 2 2 0 1 2 6 0 2 1 0 1 1 0 5 6 2 0 2 2 2 0 1 4 1-2 4-1 0-3 2-2 2 1-2 3 2 1-3 1-1 1 1 1 2-2 3 1-1 1-1 2-2 0-2 1 0 3-2 0-2 0-2-2-2 0-1 2-3-2-2 2-2 0-1 0-3 0-4 2-5 0zM588 97l-1-1-1 1 0 1zM566 120l0-3 1-1 1 2zM688 124l-1 0-1 0 1 0z" fill="#58ff00" fill-rule="evenodd"/><path d="M659 132l-1 0-2-2-8 0-1 2-1-3-1-1-6 0-1-2-5 0-6-2-5 0-1 0-2 0-4 2-4 0-3 4-1 0-1-2-3-2-1 2-3 0-1 0-2 0-1 0-5 0-2 2-1 0-2-2-2 0-2 0-1-1 0-1-3 0-3-3 0-1-2 0-2 2-2 0 0-3 2-2 0-3-4-7 0-4 4-7 1 2 3 0 2 2 3-2 5 0 2-2 3-2 1-2 3 0 1 0 2 0 2 0 2 0 1-2 2 2 3 0 1 0 6 0 2-2 1 0 1 4 2 0 3 0 1 2 3 0 1 0 5 0 1 0 3 0 0 1 2 1 0-1 0-2 2-1 0 3 2 2 1 3 2 0 3 0 1 0 4 0 3 2 0-2 0-2 2 2 2 0 0 1 0 1 10 2 2 4 1 0 5 4 2 2 1 2 2 0 3 4 2 0 0-2-2-1 1-1 3 0 1 2 1 0 2 0-4 3 0 3-2 0-2 0-2-2-7 0-1 2-3 0-1-2-1 2-3 0-2 2-5 0zM588 96l-2 0 0-2 2 0zM690 120l0-3 0-2 2-1 0 2zM567 118l-1 0 0-2 2 1zM696 122l0-1 0-1 0 1z" fill="#00fa00" fill-rule="evenodd"/><path d="M615 94l-1-1 1-1 1 1zM587 94l-1 0 1 0 1 0zM659 132l-1 0-5-4-1 2-3 0-1 0-2-2-6 0-4-2-4 0-4-2-2 0-1-2-2 0-1 2-3 0-4 2-5 0-2 2-1 0-2-2-3 0-4 2-6-2-1 2-2 0-1 2-1 0-4-6-1 2 2 1-2 1-1 0-1-1 0-1-2 0-4-4 0-2-1 0-3 4 0-1-2-1 0-1 4-5-4-2-2-6 0-2 2-4 3-2 3 0 1 2 2-2 5 0 8-4 1-2 2 0 1 0 10 0 1 2 3-2 5 0 8 4 4 0 1 0 7 0 1 0 2 0 1 2 1 0 0-3 2-1 0 3 2 2 0 2 0 1 3 0 1 0 2 0 1 0 3 0 2 2 3 0 1 2 4 0 1 0 7 0 0 2 4 4 8 8 1 0 1 1-1 1-1 0-1 2-2 0-3 0-1 0-1 0-3 0-4 2-1 2-6 0zM658 106l-2-2 1 0 3 0zM570 107l-1-1-1 1 1 1zM692 116l-2 0 1-2 1 1zM696 122l0-1 0-1 0 1zM690 124l-2 0 1-2 1 1zM694 122l-2 0 2 0zM690 128l-1 0-4 0-1-2 5 0 1 1zM647 132l-1-1 1-1 1 1z" fill="#00e200" fill-rule="evenodd"/><path d="M659 128l-3 0-1 0-8 0-1-2-7 0-1 0-3 0-4-2-2 0-1-2-7 0-6 4-4 0-3 2-2-2-7 0-1 2-2 0-4-2-3 0-2-2-1 2-2-2-2-2-4 2-2-1 2-1-2 0-2-2-2 0-1 0-1 0 0-1 2-2 0-1-4-3 0-2 0-1 2-1 0-4-2-1 1-2 2 2 2 0 5-4 5 0 6-2 3-4 2 2 2 0 1-2 1 2 8 0 1-2 7 0 5 4 3 0 1 0 4 0 1 2 4 0 1-2 2 0 2 2 3 0 2 1-2 2 1 3 9 0 1 0 3 0 4 2 6 0 1 2 2 0 2 0 11 11 0 1-2 2-4 0-1 0-5 2-3 2-5 0z" fill="#00ca00" fill-rule="evenodd"/><path d="M659 128l-3 0-4-2-9 0-1 0-4 0-1-2-3 0-1 0-5-2-1 0-4 0-1 0-5 2-2 2-5 0-2 2-2-2-5 0-1 0-2 2-2 0-4-2-3 0-2-2-1 2-2-2-3-2-1 1 0 1-2 0-2-1 2-1-2 0 0-2-4-3 0-2-2-2 0-1 2-2-2-1 0-4-2-1 1-2 2 2 3 0 3-2 4 0 10-6 4 0 1 0 11 0 1-2 4 0 8 4 9 2 1 0 3 0 2 0 2 2 3-2 2 1-2 2 0 2 1 1 4 0 1 0 1 0 4 0 1 2 5 0 1 2 8 0 2 0 8 9 0 2-2 1-2 2-2 0-6 4-4 0zM571 120l-1 0 1-2 1 0 0 1z" fill="#00b400" fill-rule="evenodd"/><path d="M597 128l-4-2-4 0-1-2-3 0-3-2-3 0-1-2-2 0-2-3-2-7-2-3 2-2 2-1 4-2 1 0 4-2 2 0 7-4 14 0 1 0 6 0 6 2 3 0 1 2 3 0 1 0 3 0 1 2 2 0 4 2 1 0 3 4 2-2 3 0 1 2 4 0 6 2 8 0 2 2 3 3 2 4 0 1-3 4-6 2-8 0-1 0-5 0-1-2-11 0-1 0-2 0-4-2-2 0-1-2-3 0-10 6-5 0-1 0-2 0-1 0-6 0zM569 104l-1 0 1-2 1 1zM571 120l-1-1 1-1 1 1z" fill="#009c00" fill-rule="evenodd"/><path d="M597 126l-2 0-1 0-4 0-2-2-3 0-4-4-3 0-2 0-2-3 0-3 0-1 0-5-2-1 5-3 2-2 2 0 1 0 2 0 7-4 3 0 1-2 14 0 2 0 1 0 2 0 6 4 4 0 4 2 5 0 5 6 2 0 1 0 8 0 1 2 2 0 4 2 5 0 1 0 3 0 5 5 0 3-4 4-4 2-5 0-1-2-3 0-1 0-14 0-1-2-3 0-6-2-2 0-1 0-5 2-6 2-4 0-1 2-7 0-1-2-3 0z" fill="#00a248" fill-rule="evenodd"/><path d="M607 126l-1-2-9 0-1 2-1-2-5 0-2-2-3 0-2-2-5 0-2-2 0-2 0-2-2-1 0-5 2-2 3-2 2 0 12-6 13 0 1-2 5 0 6 4 7 0 1 2 2 0 2 0 2 2 6 6 9 0 6 2 3 0 1 2 4 0 1 0 2 0 2 3 0 2 0 2-5 3-3 0-1-2-4 0-1 0-16 0-6-4-4 0-8 4-2 0-1 2-3 0-1 0-3 0z" fill="#00aa90" fill-rule="evenodd"/><path d="M613 124l-23 0-7-4-2 0-2-2-1-1-2-2 0-7 7-6 8-4 5 0 1 0 16 0 3 2 7 0 1 2 2 0 4 2 4 4 2 4 7 0 1 0 3 0 6 4 1 1 0 1-8 0-1 2-5 0-1-2-3 0-1 0-5-2-1 2-5 0-5 4-2 0z" fill="#00aaa8" fill-rule="evenodd"/><path d="M614 122l-24 0-10-4-2-4 0-4 0-2 5-4 3-2 2-2 2 0 4-2 13 0 1 0 2 0 1 0 3 0 3 2 7 2 4 2 4 4 0 4 0 2-2 0-2 2-8 4-2 0z" fill="#00a0c7" fill-rule="evenodd"/><path d="M608 122l-4 0-1 0-13 0-8-4-2-2 0-2 0-5 3-5 1 0 2-2 4-2 2 0 1 0 9 0 1-2 8 0 4 2 3 0 1 2 5 0 6 4 0 2 0 4-4 4-8 4-2 0-1 2-6 0z" fill="#0090dd" fill-rule="evenodd"/><path d="M610 122l-8 0-1-2-11 0-6-2-2-3 0-2-2-1 2-2 0-2 4-4 6-4 5 0 1 0 14 0 4 2 2 0 4 2 2 0 4 4 0 4-4 4-6 4-2 0-1 0-4 0z" fill="#0078dd" fill-rule="evenodd"/><path d="M611 120l-10 0-1 0-9 0-1-2-2 0-4-3-2-2 0-3 2-2 4-4 4-2 3 0 1-2 16 0 1 2 2 0 1 0 2 0 1 2 2 0 2 0 3 4 0 4-4 4-6 4-4 0z" fill="#002fdd" fill-rule="evenodd"/><path d="M610 120l-8 0-1-2-10 0-4-2-3-2 0-5 2-3 2 0 2-2 2-2 3 0 1 0 16 0 1 0 2 0 1 2 2 0 4 2 2 2 0 4-4 4-2 2-2 0-1 0-4 0z" fill="#0000cd" fill-rule="evenodd"/><path d="M609 118l-6 0-1 0-9 0-1-2-2 0-4-3 0-4 2-3 1 0 4-2 3 0 1-2 6 0 1 0 3 0 1 0 4 0 1 2 2 0 7 3 0 2 0 3-3 4-4 2-5 0z" fill="#0300aa" fill-rule="evenodd"/><path d="M613 116l-17 0-1 0-3 0-4-4 0-2 3-4 4-2 2 0 1 0 13 0 1 0 2 0 4 2 2 4 0 1-4 5-2 0z" fill="#58009f" fill-rule="evenodd"/><path d="M610 116l-9 0-1-2-3 0-1 0-2 0-2-2 0-3 3-3 2 0 3 0 1-2 12 0 1 2 2 0 2 2 0 3-1 1-2 2-2 0-2 0z" fill="#820093" fill-rule="evenodd"/><path d="M611 114l-8 0-1-2-2 0-2-1 0-2 3-3 2 0 1 0 8 0 1 0 2 0 1 2 0 2-2 2-2 0z" fill="#700080" fill-rule="evenodd"/><path d="M611 112l-4 0-3-2 0-1 2-1 2 0 1-2 2 2 2 0 1 2z" fill="#25002b" fill-rule="evenodd"/></g></g><defs><clipPath id="ax1"><rect x="245" y="4.9" width="122.70" height="99.10"/></clipPath></defs><circle cx="302.7" cy="52.6" r="2.55" fill="#1ab0e8" stroke="#fff" stroke-width="0.9"/><circle cx="297.6" cy="56.6" r="2.55" fill="#e21fd0" stroke="#fff" stroke-width="0.9"/><circle cx="304.9" cy="58.2" r="2.55" fill="#f7a900" stroke="#fff" stroke-width="0.9"/><rect x="245" y="4.9" width="122.70" height="99.10" fill="none" stroke="#999" stroke-width="0.9"/><line x1="268.7" y1="104" x2="268.7" y2="106" stroke="#555" stroke-width="0.7"/><text x="268.70" y="113.80" font-size="8.47" text-anchor="middle" textLength="12.23" lengthAdjust="spacingAndGlyphs">−1</text><line x1="303.2" y1="104" x2="303.2" y2="106" stroke="#555" stroke-width="0.7"/><text x="303.20" y="113.80" font-size="8.47" text-anchor="middle" textLength="5.28" lengthAdjust="spacingAndGlyphs">0</text><line x1="337.5" y1="104" x2="337.5" y2="106" stroke="#555" stroke-width="0.7"/><text x="337.50" y="113.80" font-size="8.47" text-anchor="middle" textLength="5.28" lengthAdjust="spacingAndGlyphs">1</text><line x1="243" y1="5.60" x2="245" y2="5.60" stroke="#555" stroke-width="0.7"/><text x="241.20" y="8.70" font-size="8.47" text-anchor="end" textLength="5.28" lengthAdjust="spacingAndGlyphs">2</text><line x1="243" y1="30.20" x2="245" y2="30.20" stroke="#555" stroke-width="0.7"/><text x="241.20" y="33.30" font-size="8.47" text-anchor="end" textLength="5.28" lengthAdjust="spacingAndGlyphs">1</text><line x1="243" y1="54.80" x2="245" y2="54.80" stroke="#555" stroke-width="0.7"/><text x="241.20" y="57.90" font-size="8.47" text-anchor="end" textLength="5.28" lengthAdjust="spacingAndGlyphs">0</text><line x1="243" y1="79.40" x2="245" y2="79.40" stroke="#555" stroke-width="0.7"/><text x="241.20" y="82.50" font-size="8.47" text-anchor="end" textLength="12.23" lengthAdjust="spacingAndGlyphs">−1</text><line x1="243" y1="104.00" x2="245" y2="104.00" stroke="#555" stroke-width="0.7"/><text x="241.20" y="107.10" font-size="8.47" text-anchor="end" textLength="12.23" lengthAdjust="spacingAndGlyphs">−2</text><text x="306.30" y="124.00" font-size="8.47" text-anchor="middle" textLength="21.23" lengthAdjust="spacingAndGlyphs">TIC 1</text><text x="225.60" y="55.00" font-size="8.47" text-anchor="middle" textLength="21.23" lengthAdjust="spacingAndGlyphs" transform="rotate(-90 225.60 55.00)">TIC 2</text><text x="249.50" y="97.40" font-size="11.5" fill="#111" textLength="37.91" lengthAdjust="spacingAndGlyphs">CDR-L2</text><defs><linearGradient id="cbg1" x1="0" y1="0" x2="0" y2="1"><stop offset="0.000" stop-color="#e8f000"/><stop offset="0.025" stop-color="#d8f500"/><stop offset="0.050" stop-color="#c4fc00"/><stop offset="0.075" stop-color="#a1ff00"/><stop offset="0.100" stop-color="#58ff00"/><stop offset="0.125" stop-color="#1dff00"/><stop offset="0.150" stop-color="#00f700"/><stop offset="0.175" stop-color="#00ec00"/><stop offset="0.200" stop-color="#00df00"/><stop offset="0.225" stop-color="#00d400"/><stop offset="0.250" stop-color="#00ca00"/><stop offset="0.275" stop-color="#00bc00"/><stop offset="0.300" stop-color="#00b200"/><stop offset="0.325" stop-color="#00a400"/><stop offset="0.350" stop-color="#009a00"/><stop offset="0.375" stop-color="#009f33"/><stop offset="0.400" stop-color="#00a55d"/><stop offset="0.425" stop-color="#00aa88"/><stop offset="0.450" stop-color="#00aa95"/><stop offset="0.475" stop-color="#00aaa0"/><stop offset="0.500" stop-color="#00a8af"/><stop offset="0.525" stop-color="#00a3bf"/><stop offset="0.550" stop-color="#009cd3"/><stop offset="0.575" stop-color="#0095dd"/><stop offset="0.600" stop-color="#0088dd"/><stop offset="0.625" stop-color="#007ddd"/><stop offset="0.650" stop-color="#0067dd"/><stop offset="0.675" stop-color="#0038dd"/><stop offset="0.700" stop-color="#0013dd"/><stop offset="0.725" stop-color="#0000d1"/><stop offset="0.750" stop-color="#0000c1"/><stop offset="0.775" stop-color="#0000ad"/><stop offset="0.800" stop-color="#2300a6"/><stop offset="0.825" stop-color="#4d00a0"/><stop offset="0.850" stop-color="#83009a"/><stop offset="0.875" stop-color="#830094"/><stop offset="0.900" stop-color="#7d008e"/><stop offset="0.925" stop-color="#770088"/><stop offset="0.950" stop-color="#4b0055"/><stop offset="0.975" stop-color="#25002b"/><stop offset="1.000" stop-color="#000000"/></linearGradient></defs><rect x="375" y="4.9" width="5.50" height="99.10" fill="url(#cbg1)"/><line x1="380.5" y1="104.00" x2="382.3" y2="104.00" stroke="#555" stroke-width="0.6"/><text x="383.50" y="107.10" font-size="8.47" textLength="13.20" lengthAdjust="spacingAndGlyphs">0.0</text><line x1="380.5" y1="93.28" x2="382.3" y2="93.28" stroke="#555" stroke-width="0.6"/><text x="383.50" y="96.38" font-size="8.47" textLength="13.20" lengthAdjust="spacingAndGlyphs">0.9</text><line x1="380.5" y1="82.56" x2="382.3" y2="82.56" stroke="#555" stroke-width="0.6"/><text x="383.50" y="85.66" font-size="8.47" textLength="13.20" lengthAdjust="spacingAndGlyphs">1.8</text><line x1="380.5" y1="71.84" x2="382.3" y2="71.84" stroke="#555" stroke-width="0.6"/><text x="383.50" y="74.94" font-size="8.47" textLength="13.20" lengthAdjust="spacingAndGlyphs">2.7</text><line x1="380.5" y1="61.12" x2="382.3" y2="61.12" stroke="#555" stroke-width="0.6"/><text x="383.50" y="64.22" font-size="8.47" textLength="13.20" lengthAdjust="spacingAndGlyphs">3.6</text><line x1="380.5" y1="50.40" x2="382.3" y2="50.40" stroke="#555" stroke-width="0.6"/><text x="383.50" y="53.50" font-size="8.47" textLength="13.20" lengthAdjust="spacingAndGlyphs">4.5</text><line x1="380.5" y1="39.68" x2="382.3" y2="39.68" stroke="#555" stroke-width="0.6"/><text x="383.50" y="42.78" font-size="8.47" textLength="13.20" lengthAdjust="spacingAndGlyphs">5.4</text><line x1="380.5" y1="28.96" x2="382.3" y2="28.96" stroke="#555" stroke-width="0.6"/><text x="383.50" y="32.06" font-size="8.47" textLength="13.20" lengthAdjust="spacingAndGlyphs">6.3</text><line x1="380.5" y1="18.24" x2="382.3" y2="18.24" stroke="#555" stroke-width="0.6"/><text x="383.50" y="21.34" font-size="8.47" textLength="13.20" lengthAdjust="spacingAndGlyphs">7.2</text><line x1="380.5" y1="7.52" x2="382.3" y2="7.52" stroke="#555" stroke-width="0.6"/><text x="383.50" y="10.62" font-size="8.47" textLength="13.20" lengthAdjust="spacingAndGlyphs">8.1</text><text x="404.30" y="55.00" font-size="8.47" text-anchor="middle" textLength="66.20" lengthAdjust="spacingAndGlyphs" transform="rotate(-90 404.30 55.00)">free energy / kT</text><g clip-path="url(#ax2)"><g transform="scale(0.5)"><path d="M1092 94l-2 0 0-2-1-2-4 0-1 2-2-2 0-1-3-3-1 0-1-2-1 0-2-2-1 0-1 2-4-1 4-2 0-2-4-3 0-2 0-5 2-3 0-1-1-1-1 2-2-3 0-3-4-5 2-2-2-2 0-2-2-1-2-1 3-1 1-1 0-2 2-2-2-3 0-4 1-2 2 0 1 2 2-2 0-4 3 2 5-4 3 2 1-2 0-1-1-1-1-1 6-5 1 0 1 2 0-3 2-1 3 0 2-2 2 2 2 2 3 0 2-2 3 0 2-2 2 0 1 0 3 0 1 0 2 0 1 0 1 1-2 1-2 0-2 2 4 3 0 1 2 3 2 2-2 2 2 3 3 0 1 2 2 0 2 1-2 2 2 2 0 1 0 2-2 2-2 2 0 7 4 2 0 5 2 2 0 2-2 2 0 1-1 1-3 3 2 4-2 2 0 2 0 3-2 4-5 0-1-2-2 0-2 2-1 2-1 0 0 2-2 2-2-1-1-3-2 2-2 0-1 4-2-2-2 0zM960 18l-3 0-1-1 2-1 2 2zM962 18l0-1 0-1 0 1zM977 106l-3 0 0-1 0-4 0-1 0-1-1-1-1 2-2-2 2-1-1-3-2 0-1 2-1-2-2 0-1 1 4 1 0 4-3 0-1-3-1-1-1-2-3 0-4-2-2 2-3 2-2-3 2-3-2 0-1 0-4 0-1 2-4-2-1 0-3 0 0 3-2 1 0-3 2-2-2-3-2-5 0-1 0 1 0 2-2 1-1 0-1-2-2-2 2-2 1-2 2 0 1-1-2-3 0-1 2-2 0-3 2-3 0-3-6-10 4 0 2-3 0-3 2-2 2-1 0-1-2-2 0-2 9 0 1 0 2-1 0-2 0-2-2-1 2-2 0-2 0-2 4-4 0 4 2 0 0-2 0-1 0-1 1 0 2 2 1 0 2-2 4 2 3-4 2 0 2-2 2 0 1 2 2 0 0 1 3 1 3 4 2 0 2 0 2 2 6 0 4 2 0 2 4 3 0 4 2 2 0 2 0 1 0 7 2 2 0 1 2 0 1 0 3 1-2 1-2 2 0 2 2 0 2-2 1 0 1 1 0 3-1 0-1 0 2 2-4 4 2 4-2 2 0 2-2 0-2 0 0 2-2 2 1 0 2-2 1 5-2 1-3 2-2-2-3 2 0 2 2 2 1-2 1 3-3 1-2 2-1-2 2-2-3 0-1 1 0 1 0 1 0 3-2 1 0 4-5 1-2 2-2 0-2 2zM1119 22l-1 0 1-2 1 1zM1104 26l2-1-2-1-4 0 0 2 3 0 1 0zM1110 27l-1-1-1 1 1 1zM1114 28l2-1-1-1-1 1 0 1zM1129 34l-1 0 1 0 1 0zM1122 37l0-1 0 1 0 1zM1037 38l-1 0 0-2 2 2zM930 42l-2 0-2 0-2-3 2-1 2 2 2 0zM1133 40l-1 0-2-1 2-1 2 1zM917 40l-1-1 1-1 1 1zM1043 50l-1-2-1-2-2 2-1 0-3 0-2-2-1-2-3 0-1-2 0-1 0-1 1 2 1-2 1 0 1 3 2 1 3-2 2 0 1 2 2-2 3 0 1 1-2 1 2 2-2 1zM1043 42l-1-1 1-1 1 1zM1048 42l0-1 0-1 0 1zM1047 44l-1-2 2 0zM1029 54l-1 0-2-2-2-1 1-1 2 0 1-2 1 2 1-1 0-1-2-2 0-2 2 0 0 2 2 1 0 2 2 1-1 2-3 0zM1047 46l-1-1 1-1 1 1zM1127 46l-1-1 1-1 1 1zM1052 52l-2-1 1-1 1-2 1 0 1 2zM1050 60l-6 0-2-2-2 0-1-4-3 0-2-2 0-2 3 0 1-2 2 2 0 2 2 2 1 0 1 2 3 0 1 2 2 0zM1042 52l0-1 0-1 0 1zM1041 52l-1 0 1 0 1 0zM1019 54l-1-1 1-1 1 1zM1026 60l-2 0 0-2-1-2-1 1 2 1-4 2-2 0-2-1 2-1 0-2 1-2 2 0 1-1 1-1 1 2 1 0 1 2 2 1-2 2zM934 55l0-1-2 0 1 2zM1052 54l-2 0 2 0zM923 66l-1-2 2-2 0-1-2-1-2-1 0-1 4 0 0-3 2-1 2 2 0 1-4 4 0 3zM1035 56l-3 0 3 0 1 0zM1033 62l-3-1 2-2 1-1 1 0-2 2 2 1zM1132 60l-2-1 1-1 1 0zM1040 60l0-1 0-1 0 1zM1022 62l0-1 0-1 0 1zM1037 62l-1-1 0-1 2 1zM1021 62l-1 0 1 0 1 0zM1029 66l-3-3 0-1 2 0 0 1 2 2zM928 64l0-1 0-1 0 1zM1031 64l-1-1 1-1 1 1zM1045 66l-2 0-2 0-1-2 2 0 2 0 1 0 1 0zM1012 68l-2-2 1-2 1 1zM1028 72l0-2-2 0-2-3-2-2 1-1 1 0 0 2 3 2 1-2 0 1zM923 70l-3-1 2-3 1 0 1 2zM1033 70l-2 0-1-2 3 0 1 0zM1040 70l-2 0 0-1 2-1 2 1zM1035 72l-3-1 2-1 2 0zM923 74l-1 0 0-2 1-2 1 2 0 1zM1067 78l-1-1 1-1 1 1zM929 88l-1 0 1 0 1 0zM942 98l-2 0-2-2 0-1 4-3 2 0 0 2zM937 96l-3-1 3-1 1 0zM980 101l2-2 2-3 2 0 0-1-2-1-4 0 0 1-2 1-1 0-1 3 1 3zM1111 102l-1-1 0-3-2-2 1-2 1 0 2 2 0 2 0 1 0 1zM976 97l-1-1-1 0 0 2zM994 100l-2 0 0-1 1-1 1 0zM956 100l0-1 0-1 0 1zM960 106l-2-1 0-1 2-2-2-2 2-2 2 0 2 3 2 3-1 0-1 0-2 0zM955 100l-1 0 1 0 1 0zM969 102l-1-1 1-1 1 1zM971 108l-6 0-1-2 2-2 5 0 1 2z" fill="#a1ff00" fill-rule="evenodd"/><path d="M1092 94l-2 0 2-2-3-2-6 0-1-1-3-3-1 0-1-2-1 0-2-2-1 0-1 2-2-2 2-1 0-2-4-5 0-5 2-2 0-2-1-1-1 2-2-2 0-2 0-2-2-3-2-2 2-1-2-5-2-1 0-1 2-2 0-2 4-2-2-1-2-2 0-3 2-3 2 2 2-2 0-4 3 2 4-2 1 1 1 1 2-2 1 0 0-2 2-1 0-1-4-1 2-1 2 0 2-4 0 3 2 1 2-2-2-3 3-1 2 0 2-2 3 3-2 1 2 2 4 0 2-2 0-2 3 0 2-2 2 0 1 0 7 0 1 1-1 1-3 0-2 2 4 3 0 1 2 3 0 2-1 1-3-3 0-1-2 4 3 0 1 0 0 1 3 3 3 1 0 1-2 1 0 1 2 2 2 2 0-2-2-2 0-1 2-1 2 0 2 7-2 2 0 2-2 3 0 2 0 1 0 3 1 0 1 0 2 1 0 2 0 1 0 3 2 1 0 2-2 2 0 1-3 1-1 3 0 2 0 3 0 1 0 2 0 2 0 1 0 2-2 2-5 0-1-2-4 0 0 3-4 2 0 3-1 0-1-2 0-2 0-2-3 4-3 1 0 3-2-2-2 0-1 0-2 0zM959 18l-3 0 2-2 2 2zM976 106l-2 0 2-2 0-2-2-2 1 0 1 0 1 2 2 0 2 0 1-2 2-2 2-1 0-2-1-1-2-2-1 2-2 0-3 2-1 0-2-2-2 2-2-2-5 0-1 0-2 0-8-4 0 3-2 1-2 0 0-2 2-2 0-2-1 2-2-2-2 0-3 2-1 0-1 0-2 0-1-2-2 0-2 2-3-3 0-2-2-4-1-1-1 4-1 0-1-3 0-1 1-2 2 0 1-2 0-1 2-1 0-2-3 0-1-1 2-1 1 0 1 0-2-2 0-3 4-3 0-1-4-3 0-2 3 0 1-2-3 0-1 0-2-1 0-2 4-3 2-2 0-3 2-2 0-2-2-1 0-1 2-1 1 2 2 0 2-2 1 2 1-2 2 0 3-2 0-1-2-1 0-3 0-1 0-2 0-2 1 0 3-4 0 4 2 0 0-2 0-1 1-1 2 2 1 0 2-2 4 2 3-4 2 0 2-2 2 2 2 0 2 2 2 0 1 1 0 2 2 1 2 2 2 0 1 0 7 0 8 7 0 4 2 2-2 4 2 2 0 4 0 1 0 2 3 2 1-2 4 1-2 1 0 1-2 2 1 1 2 0 1 2 2 2-4 4 2 4-3 4-2 0-1 0 0 2-2 2 1 2 1-2 1-2 1 3 0 1-3 2-5 0-2 2 0 2-4 3 0 5-2 1 0 3-2 2-2-2-2 2-1 2-2 0-2 2zM1106 26l0-2-2-2 2-1-1-1-1 0-3 2-1 1 0 3 2 0zM1098 21l0-1-2 1 1 1zM1119 22l-1 0 1 0 1 0zM1110 28l0-1 0-1-1 0-1 2zM1129 34l-1 0 1 0 1 0zM929 42l-1 0-2 0-2-3 3-1 1 2 2 0 0 1zM1133 40l-1 0-2-1 3-1 1 1zM1032 44l-4-1 2-1 0-2 2 0 0 2zM1039 48l-1 0-3 0-2-2-1-1 6-3 2 2-2 1 2 2zM1042 46l0-1 0-1 2 0zM1029 54l-1 0 0-2-4-2 3 0 1-2 1 2 1-1 0-1-2-2 1-2 1 0 0 2 2 1 0 2 2 2-4 1zM1045 46l-1-1 1-1 1 1zM1041 46l-1 0 1 0 1 0zM1042 48l0-1 0-1 0 1zM1043 48l-1 0 1 0 1 0zM1052 52l-2-1 2-1 0-2 2 1 0 1zM1050 60l-2 0-1-2-2 2-3-2-2 0-1-4-3 0-2-2 0-2 3 0 1-2 2 2 0 4 1 0 4 4 2-2 1 2 2 0zM1042 52l0-1 0-1 0 1zM1020 60l-2 0-2-1 2-1 0-2 2 0 2-4 2 2 0 1-2 1 0 3zM1052 54l-2 0 2 0zM925 60l-3 0-2-1 2-1 2 0 2-4 2 2zM1012 60l-2-2 0-2 1 0 1 1zM1035 56l-3 0 3 0 1 0zM1025 58l-1-1 1-1 1 1zM1028 58l0-1 0-1 0 1zM1026 60l-2 0 2-2 1 0 1 0zM1033 62l-3-1 2-2 1-1 1 0-2 2 2 1zM1132 60l-2-1 1-1 1 0zM1037 62l-1-1 1-1 1 1zM1027 64l-1-1 0-1 2 0zM923 64l-1 0 1-2 1 0 0 1zM1031 64l-1-1 1-1 1 1zM1045 66l-2 0-2 0-1-2 2 0 2 0 1 0 1 0zM1012 66l-2 0 1-2 1 2zM1028 72l0-2-2 0-2-3-2-2 1-1 1 0 0 2 2 0 2 3zM1029 66l-1-1 1-1 1 1zM922 70l0-1 0-3 2 2zM1033 70l-1-1 1-1 1 1zM1040 70l-2 0 1-2 1 1zM1036 70l-2 0 2 0zM923 74l-1 0 0-2 2 0zM936 86l0-2 0 2zM944 87l-2-1 0 2zM929 88l-1 0 1 0 1 0zM996 90l0-2 3 0 1 1-3 1zM933 92l-1 0 0-2 2 1zM995 92l-1-1 1-1 1 1zM941 98l-1 0-2-3 3-1 2 0 1 0zM936 96l-2-1 2-1 0 1zM1111 96l-2 0-1-1 2-1 2 2zM966 100l-2-3 1-1 1 1zM994 100l-2 0 2-2zM1111 102l-1 0 0-2 1-2 1 0 0 2zM959 106l-1-2 2-1 0-3 2 0 2 1 0 1zM967 108l-2 0-1-2 4 0 1-2 2 0 1 2-4 0z" fill="#2cff00" fill-rule="evenodd"/><path d="M1111 28l-1-2-2 0-1 0-1-2-2-1 3-1 1-1-2-1-4-1 0-3 3 0 2-2 2 0 2 0 2 0 1 0 4 1-4 1-2 2 4 2 0 2-1 0-2 0-1 0-2 0 0 1 4 2zM1092 94l-2 0 2-2-2-2-7 0-1-1-7-7-2 0-1 0 0-3-4-5 0-5 3-1 1-3-2-1-2 0-2-2 0-2-2-3 0-8-4-1 0-2 2 0 0-3 1-1 2 2 1-3 0-1-3 0-1-2 0-3 2-3 2 2 2-2 0-2 1-2 2 2 2 0 4 0 2-2 5-4-2-2 4 0 2-3 0-2 1-1 4 0 1 1 0 3 2 2 2 0 2-1 0-1 1 0 1 1-2 2 0 3 1 0 2 2 4 0 1 2 6 0 2-2 1 2 1 0 2 2 2 1-2 2 0 3 0 1 1 1 3 0 2-2 2 1-2 1 0 2-3 4-1 0 0 1 2 4 0 3 4 3 0 2 0 2 2 2-2 4-2 1-4 3 2 3 0 2 0 1 0 2 0 2 0 1 0 2-2 2-5 0-1-2-3 0-1 0-2 1 0 2-3 5-1-2 2-2 0-1-3-1-1 2-5 4-2-2-2 2-2 0zM989 98l-3 0 0-1 2-2-2-1-2-2-3 0-3 4-2 0-1-2-3 0-1 0-9 0-1-2-2 0-3-1 0-1-2 0-1-2-4 0-1 0-2 2-3 0-1-1 2-2-2-3-2 1 0 3-2 0 0-3-2-1-1 0-1 2 2 2-1 0-1-1-2-4 0-2-2-1-2 0 0 3 0 1-2-1 2-2 0-3 6-4-2-2 0-3-2-2 2-3 2-1 0-2-4-4 2-1 2 0 2-2-2-2-2 0 0-2 0-3 2-1 0-3 2-2 0-1 0-2 8 0 4-3 0-2 0-2 2-2-4-1 0-2 0-2 1 0 2-2 1 0 0 3 2 1 2-3-2-2 1-1 2 2 2-2 2 0 2 2 4-4 2 0 2-2 1 0 6 4 2 1 0 2 3 1 2 2 2 0 1 2 3 0 1-2 2 2 2 0 4 4 1 0 1 1 0 4 2 1 0 3-2 1 0 6 2 1 0 2 1 3 3 0 1-2 3 1-4 2 0 3 3 0 1 3 0 2 0 2-2 2 2 1 0 2-2 1 0 1-1 2-5 0 0 3 0 1 0 2 0 2-5 0-3 2 2 2-2 2-2 0 0 5-2 2zM970 21l-1-1-1 1 1 1zM1117 26l-1-1 0-1 2 1zM1070 33l0-1-2 0 2 2zM1126 36l-2 0 0-1 2-1 0 1zM934 38l0-1 0-1 0 1zM930 42l-3 0-3-3 3-1 1 2 2 0zM1132 40l0-2 0 1zM1031 44l-1-1 0-2 1-1 1 2 0 1zM1039 48l-1 0-2 0-1-2-3 0 2 0 2-2 2 0 0 2 2 1zM1030 46l-2-1 2-1 0 1zM1045 46l-1-1 1-1 1 1zM1028 52l0-1-2-1 2-2 1 2 1-3 2-1 2 5-3 1-2-2zM1052 52l-2-1 2-1 0-2 2 1 0 1zM1043 58l-3 0-1-4-3 0-2-2 0-2 3 0 1-2 2 2 0 3 2 2 2 2zM930 54l0-1 0-1 0 1zM1020 60l-2 0-2-1 2-1 0-2 2 0 2-2 0 5zM1051 54l-1 0 1 0 1 0zM926 58l0-1 0-1zM1012 60l-1 0-1-2 0-2 2 0 0 2zM1035 56l-3 0 3 0 1 0zM924 60l-2 0-2-1 2-1 3 0 1 1zM1026 60l0-2 1 0 1 0zM1033 62l-3-1 2-2 1-1 1 0-2 2 2 1zM1050 58l-4 0 4 0zM1131 60l-1-1 1-1 1 0zM1036 62l0-1 0-1 0 1zM1026 64l0-1 0-1zM923 64l-1 0 1 0 1 0zM1042 66l-2-1 1-1 1 0zM1045 66l-1-1 1-1 1 0zM1024 66l0-2 0 1zM1027 70l-1-1 0-1 2 0zM1033 70l-1-1 1-1 1 1zM1035 70l-1 0 1 0 1 0zM1028 72l0-1 0-1 0 1zM922 74l0-1 1-1 1 1zM1005 82l-1-2 0-2 1-2 1 3 0 1zM999 90l-1 0-2-2 3 0 1 0zM941 90l-1-1 1-1 1 1zM990 91l-1-1-1 0 0 2zM951 94l-1-1 1-1 1 0 0 1zM1100 94l0-1 0-1 0 1zM935 96l-1-1 1-1 1 1zM941 96l-1 0 0-2 2 1zM1111 96l-2 0-1-1 2-1 2 2zM994 100l-2 0 0-1 2-1zM984 100l0-1 0-1 0 1zM1111 102l-1-1 0-1 1-2 1 2zM976 106l-1 0-1-1 3-1 1 1zM966 108l-2-1 2-1zM972 106l-4 0 4 0z" fill="#00ef00" fill-rule="evenodd"/><path d="M1112 20l-2 0-1 0-3 0-2-3 1-1 1 0 1-2 2 0 2 0 2 0 1 1 0 1-2 2 0 2zM1117 16l-1-1 1-1 1 1zM1094 92l-2 0-1-2-3 0-2-2-3 2-1-2-4-6-2 0-3 0-1 0 0-4-4-5 1-3 2 2 1 0 0-2 2-1 0-3-2-2-3-4-2 0-1-1-2-3 0-7-2-2 2-2 2-3 0-3-1-1-1 2-2-2 0-2 2-4 1 2 2 0 2 0 3-2 0-2 2 0 2 0 1 0 2-2 1 0 0-1 4-2 0-3 6-2 0-2-2 0 0-1 3-1 1 0 2 1 0 2 2 2 0 2-2 2 5 3 4 2 11 0 1 0 1 1 0 3 4 10 0 3 2 1 0 5 4 4 0 1 2 2 0 1 2 2-3 5-3 0 0 1-4 2 4 3 0 5 0 1 0 2 0 2-2 2-2 0-1-2-5 0-2-2-2 2-2 0-4 2 0 2-3 2-6 0zM977 96l-1 0-1-2-5 0-1-2-4 0-5-2-2 0-1-2-3 0-1 0-6 0-2 2-1 0 0-2 0-1-2-2 0-1-1 0-2 2-1-1-2-3-1 0-1 2-1 0-1-1 0-3-2-1 0-2 4-2 0-4 0-1-2-2 0-4 1 0 1 2 0-2 0-1 0-2-2-3 0-2 2 0 2-1-1-3-3 0 2-2-2-2 2-1 0-3 2-3 1-3 2 0 2 0 1 2 4-2 2-2 0-2 0-2 2-2 0-1-4-3 0-2 2 0 1-2 1 0 0 3 2 1 2-2 0-1-2-2 1-1 2 2 2-2 2 0 2 2 1 0 3-2 2 0 1 2 1 0 1-1 0-3 3 0 2 2 3 1 0 3 2 0 2 2 2 0 1 2 8 0 2 0 2 4 1 0 2 1 0 4 2 2-2 2 0 9 2 1 0 2 4 6 1 3 1-2 1 0 1 1-2 5-2 1 2 1 2 1-2 3-1 2-5 0 0 2 0 1 0 5-2 0-1 0-1 0-4 1 0 1 0 2-4 2 2 2-2 1 2 1-1 2-3 0-1 0-2 0-2-2-1 0-2 0zM1100 22l0-1 0-1 0 1zM1115 22l-1-1 1-1 1 1zM1112 26l-2-2-2 0-2-1 2-1 1 0 1 2 2 0zM1098 26l-1 0-1-2 1-2 1 1zM1069 30l-1 0 1 0 1 0zM927 40l-1 0 0-2 2 1zM1126 40l0-2 0 1zM930 42l-2-1 1-1 1 1zM1031 44l-1-1 1-3 1 1zM1037 48l-1-3 1-1 1 0 0 1zM1033 52l-1 0-2-3 0-1 1-2 1 1 0 2 2 1zM1061 48l-1 0 0-2 2 1zM1039 48l-1 0 1 0 1 0zM1038 50l0-1 0-1 0 1zM1052 52l-2-1 2-3 2 2zM1039 54l-3 0-2-2 1-2 3 0 2 4zM1042 58l-1 0-1-2 0-2 1 0 1 2zM1020 60l-2 0-2-1 3-3 3 0 0 2 0 1zM1033 56l-1 0 1 0 1 0zM1012 60l-2-1 0-2 0-1 1 0 1 2zM923 60l-3-1 2-1 2 1zM1027 58l-1 0 1 0 1 0zM1050 58l-2 0 2 0zM1033 60l-1-1 1-1 1 1zM1033 62l-3-1 2-1 2 1zM1026 64l0-1 0-1 0 1zM1042 64l-2 0 2 0zM1045 66l-1-1 1-1 1 0zM1028 72l0-1 0-1 0 1zM922 74l0-2 0 1zM1006 80l-2 0 0-1 1-1 1 2zM944 79l-1-1-1 1 1 1zM1084 86l0-1 0-1-2 1 1 1zM990 91l-1-3-1 0-2 2 1 2zM951 94l-1-1 1-1 1 1zM1091 94l-1 0 1 0 1 0zM941 96l-1 0 0-2 2 1zM988 98l-2 0 1-2 1 0 2 1zM994 100l-2-1 2-1zM1111 102l-1-1 0-1 2 0zM976 106l0-1 0-1 0 1zM971 106l-1 0 1 0 1 0z" fill="#00da00" fill-rule="evenodd"/><path d="M979 92l-12 0-5-2-2 0-4-2-3 0-1-2-4 0-2 2 0-2-2-2 2-3 0-1-2-2-2 0-2 1 2 1 0 2-2 2-1 0-5-4 2-2 0-1-2-2 2-4 0-2 0-1 0-8-2-2 2-4 0-2-2-1 0-6 2-2 2-1 0-2 4 0 4-2 2-2 0-2 4-4 0-2-2-1 2-1 1 0 4-4 2 0 1 1 1 1 5-4 2 4 1 2 1 0 2-2 0-1 3-3 1 2 1 2 6 4 2 0 1 0 1 0 1 0 2 0 2 0 2 0 2 2 0 1 2 2 0 2 2 4 0 3 0 1 0 7 0 1 0 2 6 6 0 2 2 2 0 2-4 2 2 2 0 2-2 1-2 1 0 4-4 2 0 2-4 1-4 3 0 1-2 2-2 1 0 3-6 0zM972 22l-2-1 2-1zM1100 90l-3 0-3-2-1 2-2 0-1-2-4-4-2 0-2 0-4-2-2-2-3 0-1-2 2-1-4-2 0-1 4-1 0-2 0-1 0-5-2-3-2-2-2 0 0-2-4-3 2-4 0-1 2 0 2-3 0-2-3-1-1-1 2-3 2 0 2-1 0-5 1 0 1 0 4-2 7-8 2 2 3-3 0-1 2 0 0 2 0 1 7 5 2 0 1 2 7 0 1 0 3 0 1 2 0 2 4 7 0 2 2 1 0 5 6 12 2 1 0 1-1 1-3 0-2 2-1 0-1 3 0 2 2 2 0 2 0 1 0 5 0 1-2 0-1-2-5 0-2 0-1 0-2 0-4 2z" fill="#00c200" fill-rule="evenodd"/><path d="M973 92l-2 0-3 0-6-4-3 0-3-2-3 0-2 0-3-8-4-2-1 0-3 3 2 2-3 3-5-4 2-2 0-2 3 0 1-1-2-1 2-1-2-2 0-2-2-4 0-2 0-1 0-2 0-2 2-1 0-3 0-1-2-2-2-2 2-2-2-1 2-2 2 0 1-2 3 0 4-2 4-4 0-3 2-3 0-2 0-1 3-1 1-1 1-3 1 0 1 2 3 0 2-2 2 0 0 1 0 2 2 1 9 0 6 2 5 0 1 2 2-2 2 0 1 2 4 4 0 2 2 4 0 1 0 4-2 1 0 3 2 1 0 2 2 4 6 7 0 1-4 3 0 2 2 2-4 2 0 3-6 4-2 0-2 2-7 8-7 0-1 2-3 0zM1098 88l-2 0-3 0-8-6-5 0-6-5 0-4 2-1 0-9-5-5-1 0-2-2 2-1-1-1-2 2-1-1 0-2 1-1 2 0 1-2 0-1 0-5-4-1 2-3 2 0 1 2 1 0 0-1 0-7 1 0 1 0 1 0 2 0 2-2 3-3 2-4 2-1 1 2 3-3 0-1 2 0 0 2 0 3 3 3 2 2 2 0 1 0 3 0 1 2 5 0 5 3 0 3 4 4 0 2 0 1 2 5 2 2 0 3 2 2 0 2 2 2 2 1-1 2-2-2-2 2-5 5 0 2 4 5 0 5 0 1-5-2-4-2-4 0-6 4-2 2-1 0zM936 76l0-1 0-1 0 1zM947 86l-1-2 2 0z" fill="#00ac00" fill-rule="evenodd"/><path d="M984 90l-1 0-1 0-2 0-1 0-2 0-1 0-7 0-3-2-7 0-4-2-5-5-2-4-8-7 0-1-2-3-2-2 2-2 0-3 2-3 0-5-2-1-1 0-1 0 0-1 2-1 0-2-2-1 3-1 2-2 7-2 0-2 2-2 0-2 2-2 4-4 0-2 2 0 3 0 1 0 4 0 1 2 7 0 1-2 1 2 3 0 1 0 2 0 1 2 6 0 1 0 2 0 6 5 0 4 2 1-2 2 0 4 0 1 0 2 0 3 4 4 0 1 2 3 2 4-2 2 0 4-4 3 0 4-7 3-5 4-2 4zM1098 84l-5 0-5-2-2 0-6-4-2-2 0-10-2-1 0-3-4-8 0-1 0-3 2-1 0-3 0-1 0-3-2-3 0-3 2-2 2 0 2 2 4-2 2-2 0-1 5-5 1 3-4 1 2 0 2 2 2 2 9 0 1 0 4 0 1 2 2 0 5 4 0 1 2 2 0 2 0 2 2 1 0 2 2 6 4 4 0 3-8 7 0 2 0 4 3 0 1 2 2 2 0 1-1 1-2 0-2 0-1-4-5 0zM1069 42l-1 0 1 0 1 0zM940 82l-2 0 0-2 1 0 1 1z" fill="#009a08" fill-rule="evenodd"/><path d="M982 90l-2 0-1-2-3 0-1 2-2-2-5 0-1 0-3 0-1-2-4 0-4-2-3-2-2-4-8-9-2-3-2-2 0-2 4-4 0-9-2-2 0-1 1 0 3-4 3 0 3-4 2-6 6-4 5 0 1 0 14 0 1 2 4 0 1 0 6 0 1 2 2 0 2 0 3 3 0 4 0 1 0 2 0 9 2 6 6 6 0 1-2 2 0 4-2 0-2 3 0 3-4 0-4 2-4 5-2 5-3 0zM1097 82l-2 0-1-2-3 0-6-2-2 0-3-4 0-3-2-1 0-5 0-1 0-4-2-1 0-3 0-1 0-9 0-1 0-5 5-4 10 0 1 0 11 0 1 0 3 0 2 2 5 6 2 2 0 2 0 1 0 2 6 9 0 2-2 2-10 12-1 0-2 2-6 2-3 0zM1119 82l-1-1 1-1 1 1z" fill="#00a668" fill-rule="evenodd"/><path d="M984 88l-14 0-1-2-4 0-1 0-5 0-2-2-5-4-2-4-6-7-2-4 0-5 2-1 0-13 4-4 2-1 4-8 4-3 20 0 1 0 5 0 1 2 6 0 4 2 1 1 0 4 2 1-2 1 0 9 6 12 0 5 0 1 0 2-2 0 0 2-3 2-3 2-2 2-4 1 0 1-2 2 0 2-2 2zM1099 78l-4 0-1 0-3 0-1-2-5 0-5-5 0-2 0-1 0-5-2-1 0-6 0-1 0-10 0-1 0-2 5-4 8 0 1 0 13 0 2 0 2 2 1 0 4 5 0 2 2 3 0 2 4 7 0 3-2 2-6 8-1 0-6 4-2 2-3 0z" fill="#00aa95" fill-rule="evenodd"/><path d="M982 86l-10 0-1 0-5 0-1-2-5 0-2 0-6-6 0-1-6-8-2-2 0-10 2-1 0-9 0-2 6-6 2-5 4-2 4 0 1-2 15 0 1 2 4 0 1 0 7 0 5 3 0 8-2 1 0 3 2 1 0 5 4 7 2 5-2 4-6 5-3 2-5 3-2 5zM1102 76l-10 0-1-2-2 0-4-2-3-2-2-4 0-6 0-1 0-13 3-4 2-2 5 0 1 0 6 0 1-2 4 0 1 2 2 0 2 0 5 5 2 4 0 2 2 3 0 2 2 4 0 2-5 6-1 0-7 6-2 0z" fill="#00a8af" fill-rule="evenodd"/><path d="M979 86l-3 0-1-2-7 0-1 0-6 0-2-2-7-6 0-1-6-7 0-2 0-1 0-4 0-1 0-10 4-6 2-3 2-4 4-3 2 0 1-2 3 0 1 0 13 0 1 0 3 0 1 2 5 0 1 0 2 0 2 2 1 1 0 1 0 4-2 1 0 2 4 6 0 2 2 5 0 2 2 1 0 5-8 8-4 2-4 3 0 3zM1102 74l-9 0-1-2-5 0-3-4-2-2 0-2 0-1 0-15 3-4 2-2 2 0 1 0 4 0 1-2 8 0 4 2 3 3 2 6 2 5 0 1 0 6 0 2-6 5z" fill="#009ecf" fill-rule="evenodd"/><path d="M978 84l-6 0-1-2-8 0-1 0-2 0-2-2-2-1 0-1-6-8-2-4 0-12 0-1 0-4 4-4 0-1 2-2 0-1 2-2 0-1 4-4 2 0 1 0 3 0 1-2 10 0 1 2 3 0 1 0 5 2 3 3 0 6 6 9 0 5 2 1 0 4-2 2-7 8-1 0-6 5 0 1-2 2zM1101 72l-8 0-1-2-2 0-4-3-2-4 0-13 1-2 3-4 2 0 3 0 1-2 8 0 4 3 2 2 2 4 0 3 2 1 0 8-2 2-3 3z" fill="#008add" fill-rule="evenodd"/><path d="M977 82l-11 0-1-2-3 0-2 0-6-7-2-4-2-2 0-14 0-1 0-3 2-2 2-2 2-4 5-5 2 0 1-2 3 0 1 0 8 0 1 0 3 0 1 2 2 0 2 0 3 3 0 3 0 1 0 2 2 4 2 2 2 4 0 2 2 1 0 5-2 2-8 9-1 0-6 6zM1097 70l-1-2-4 0-2 0-4-4 0-2 0-1 0-9 0-2 4-4 2 0 5 0 1-2 1 2 3 0 2 0 2 3 2 2 0 2 0 1 0 8 0 2-6 4-4 0z" fill="#0070dd" fill-rule="evenodd"/><path d="M975 80l-12 0-2-2-9-9 0-2 0-2-2-1 0-6 2-1 0-5 0-1 0-2 2-2 2-2 2-4 3-3 4-2 3 0 1-2 6 0 1 2 3 0 4 2 1 1 2 2 0 2 2 6 4 3 0 2 0 2 2 1 0 4-2 4-13 13zM1100 66l-6 0-4-3-2-3 0-7 5-5 7 0 2 2 2 1 2 4 0 4-2 4-2 1z" fill="#001cdd" fill-rule="evenodd"/><path d="M970 78l-7 0-2-2-3-3 0-1-4-3-2-4 0-8 2-1 0-4 0-1 0-2 2-2 2-3 2-3 1-1 6-4 11 0 2 2 4 3 0 2 2 6 4 5 2 5-4 6-10 11-4 2-3 0zM1098 62l-2 0-4-5 0-1 4-4 2 0 2 3 0 4z" fill="#0000c9" fill-rule="evenodd"/><path d="M969 76l-3 0-1 0-2 0-7-7-2-4 0-9 2-1 0-3 2-6 6-6 2-2 2 0 1 0 6 0 1 0 2 0 2 3 8 16 0 1 0 3-2 4-4 3 0 1-5 5-4 2-3 0z" fill="#0300aa" fill-rule="evenodd"/><path d="M972 74l-7 0-2-2-5-5 0-2-2-1 0-8 2-1 0-2 0-1 0-2 2-2 5-6 2-2 2 0 1 0 3 0 1 0 2 0 2 3 0 1 2 2 2 3 2 4 0 8-2 4-3 5-1 0-2 2z" fill="#63009e" fill-rule="evenodd"/><path d="M969 72l-6-2-3-4 0-2-2-1 0-6 2-1 0-3 2-4 5-5 6 0 2 0 5 5 2 6 0 4 0 1 0 2-2 2-5 6-2 0-3 0z" fill="#820093" fill-rule="evenodd"/><path d="M970 68l-5 0-3-4 0-3-2-1 2-2 0-4 0-2 5-4 6 0 2 2 1 0 4 4 0 7-2 2-3 3-2 2-2 0z" fill="#700080" fill-rule="evenodd"/><path d="M972 64l-5 0-3-2 0-2 0-1 0-2 0-2 4-3 5 0 3 4 0 4 0 2z" fill="#25002b" fill-rule="evenodd"/></g></g><defs><clipPath id="ax2"><rect x="458.5" y="1.2" width="129.00" height="104.70"/></clipPath></defs><circle cx="479.7" cy="29.7" r="2.55" fill="#1ab0e8" stroke="#fff" stroke-width="0.9"/><circle cx="491.7" cy="20.9" r="2.55" fill="#e21fd0" stroke="#fff" stroke-width="0.9"/><circle cx="491.7" cy="29.2" r="2.55" fill="#f7a900" stroke="#fff" stroke-width="0.9"/><rect x="458.5" y="1.2" width="129.00" height="104.70" fill="none" stroke="#999" stroke-width="0.9"/><line x1="487.9" y1="105.9" x2="487.9" y2="107.9" stroke="#555" stroke-width="0.7"/><text x="487.90" y="115.70" font-size="8.47" text-anchor="middle" textLength="13.20" lengthAdjust="spacingAndGlyphs">0.0</text><line x1="525.5" y1="105.9" x2="525.5" y2="107.9" stroke="#555" stroke-width="0.7"/><text x="525.50" y="115.70" font-size="8.47" text-anchor="middle" textLength="13.20" lengthAdjust="spacingAndGlyphs">2.5</text><line x1="562.5" y1="105.9" x2="562.5" y2="107.9" stroke="#555" stroke-width="0.7"/><text x="562.50" y="115.70" font-size="8.47" text-anchor="middle" textLength="13.20" lengthAdjust="spacingAndGlyphs">5.0</text><line x1="456.5" y1="3.50" x2="458.5" y2="3.50" stroke="#555" stroke-width="0.7"/><text x="454.70" y="6.60" font-size="8.47" text-anchor="end" textLength="5.28" lengthAdjust="spacingAndGlyphs">2</text><line x1="456.5" y1="28.60" x2="458.5" y2="28.60" stroke="#555" stroke-width="0.7"/><text x="454.70" y="31.70" font-size="8.47" text-anchor="end" textLength="5.28" lengthAdjust="spacingAndGlyphs">0</text><line x1="456.5" y1="53.70" x2="458.5" y2="53.70" stroke="#555" stroke-width="0.7"/><text x="454.70" y="56.80" font-size="8.47" text-anchor="end" textLength="12.23" lengthAdjust="spacingAndGlyphs">−2</text><line x1="456.5" y1="78.80" x2="458.5" y2="78.80" stroke="#555" stroke-width="0.7"/><text x="454.70" y="81.90" font-size="8.47" text-anchor="end" textLength="12.23" lengthAdjust="spacingAndGlyphs">−4</text><line x1="456.5" y1="103.90" x2="458.5" y2="103.90" stroke="#555" stroke-width="0.7"/><text x="454.70" y="107.00" font-size="8.47" text-anchor="end" textLength="12.23" lengthAdjust="spacingAndGlyphs">−6</text><text x="523.00" y="127.00" font-size="8.47" text-anchor="middle" textLength="21.23" lengthAdjust="spacingAndGlyphs">TIC 1</text><text x="437.20" y="54.00" font-size="8.47" text-anchor="middle" textLength="21.23" lengthAdjust="spacingAndGlyphs" transform="rotate(-90 437.20 54.00)">TIC 2</text><text x="463.40" y="97.40" font-size="11.5" fill="#111" textLength="37.91" lengthAdjust="spacingAndGlyphs">CDR-L3</text><defs><linearGradient id="cbg2" x1="0" y1="0" x2="0" y2="1"><stop offset="0.000" stop-color="#c4fc00"/><stop offset="0.025" stop-color="#a1ff00"/><stop offset="0.050" stop-color="#67ff00"/><stop offset="0.075" stop-color="#1dff00"/><stop offset="0.100" stop-color="#00fa00"/><stop offset="0.125" stop-color="#00ef00"/><stop offset="0.150" stop-color="#00e400"/><stop offset="0.175" stop-color="#00da00"/><stop offset="0.200" stop-color="#00cc00"/><stop offset="0.225" stop-color="#00c200"/><stop offset="0.250" stop-color="#00b700"/><stop offset="0.275" stop-color="#00ac00"/><stop offset="0.300" stop-color="#009f00"/><stop offset="0.325" stop-color="#009b13"/><stop offset="0.350" stop-color="#00a13d"/><stop offset="0.375" stop-color="#00a668"/><stop offset="0.400" stop-color="#00aa8b"/><stop offset="0.425" stop-color="#00aa98"/><stop offset="0.450" stop-color="#00aaa3"/><stop offset="0.475" stop-color="#00a8af"/><stop offset="0.500" stop-color="#00a3bf"/><stop offset="0.525" stop-color="#009ecf"/><stop offset="0.550" stop-color="#0095dd"/><stop offset="0.575" stop-color="#008add"/><stop offset="0.600" stop-color="#0080dd"/><stop offset="0.625" stop-color="#0070dd"/><stop offset="0.650" stop-color="#0041dd"/><stop offset="0.675" stop-color="#001cdd"/><stop offset="0.700" stop-color="#0000d9"/><stop offset="0.725" stop-color="#0000c9"/><stop offset="0.750" stop-color="#0000b9"/><stop offset="0.775" stop-color="#0d00a8"/><stop offset="0.800" stop-color="#3800a3"/><stop offset="0.825" stop-color="#63009e"/><stop offset="0.850" stop-color="#870098"/><stop offset="0.875" stop-color="#820093"/><stop offset="0.900" stop-color="#7b008c"/><stop offset="0.925" stop-color="#700080"/><stop offset="0.950" stop-color="#4b0055"/><stop offset="0.975" stop-color="#25002b"/><stop offset="1.000" stop-color="#000000"/></linearGradient></defs><rect x="595.1" y="1.2" width="5.40" height="104.70" fill="url(#cbg2)"/><line x1="600.5" y1="105.90" x2="602.3" y2="105.90" stroke="#555" stroke-width="0.6"/><text x="603.50" y="109.00" font-size="8.47" textLength="13.20" lengthAdjust="spacingAndGlyphs">0.0</text><line x1="600.5" y1="95.30" x2="602.3" y2="95.30" stroke="#555" stroke-width="0.6"/><text x="603.50" y="98.40" font-size="8.47" textLength="13.20" lengthAdjust="spacingAndGlyphs">0.8</text><line x1="600.5" y1="84.69" x2="602.3" y2="84.69" stroke="#555" stroke-width="0.6"/><text x="603.50" y="87.79" font-size="8.47" textLength="13.20" lengthAdjust="spacingAndGlyphs">1.6</text><line x1="600.5" y1="74.09" x2="602.3" y2="74.09" stroke="#555" stroke-width="0.6"/><text x="603.50" y="77.19" font-size="8.47" textLength="13.20" lengthAdjust="spacingAndGlyphs">2.4</text><line x1="600.5" y1="63.49" x2="602.3" y2="63.49" stroke="#555" stroke-width="0.6"/><text x="603.50" y="66.59" font-size="8.47" textLength="13.20" lengthAdjust="spacingAndGlyphs">3.2</text><line x1="600.5" y1="52.89" x2="602.3" y2="52.89" stroke="#555" stroke-width="0.6"/><text x="603.50" y="55.99" font-size="8.47" textLength="13.20" lengthAdjust="spacingAndGlyphs">4.0</text><line x1="600.5" y1="42.28" x2="602.3" y2="42.28" stroke="#555" stroke-width="0.6"/><text x="603.50" y="45.38" font-size="8.47" textLength="13.20" lengthAdjust="spacingAndGlyphs">4.8</text><line x1="600.5" y1="31.68" x2="602.3" y2="31.68" stroke="#555" stroke-width="0.6"/><text x="603.50" y="34.78" font-size="8.47" textLength="13.20" lengthAdjust="spacingAndGlyphs">5.6</text><line x1="600.5" y1="21.08" x2="602.3" y2="21.08" stroke="#555" stroke-width="0.6"/><text x="603.50" y="24.18" font-size="8.47" textLength="13.20" lengthAdjust="spacingAndGlyphs">6.4</text><line x1="600.5" y1="10.48" x2="602.3" y2="10.48" stroke="#555" stroke-width="0.6"/><text x="603.50" y="13.58" font-size="8.47" textLength="13.20" lengthAdjust="spacingAndGlyphs">7.2</text><text x="627.00" y="55.00" font-size="8.47" text-anchor="middle" textLength="66.20" lengthAdjust="spacingAndGlyphs" transform="rotate(-90 627.00 55.00)">free energy / kT</text><g clip-path="url(#ax3)"><g transform="scale(0.5)"><path d="M304 398l-2 0-1-4-1 1-1 3-1 0-1-2-1 0-1 2-2 0-1-2-1 2-3-4-1 2-2-2-1 2-1 0-2-2-3 0 0-4 1 0 2 0 1-1-2-1-2 0-2 0-2-2 0-4-1-2-4 2-3 4-4-5 0-3 2 0 1 0 2 0 1-1 0-1-2-2-2 0-2 2-2-1 2-2 0-5-2-2 2-2 0-6 2-1 0-3 2 0 4-4 3 0 1 4 2 0 0-2-2-2 0-1 2-1 2 2 0-1 0-1-2 0 2-2 2 2 1-2 2 0 4-2 1 0 0-5 3-3 4-2 4 0 2 2 3 0 4 4 0 2 0 2 3 0 1 2 0 2 2 2 2 0 2 4 0 2 2 1 0 9 0 1 0 5 0 1-4 5 0 2-2 5 0 5-2 0 0 2-3 2-2-2-1 0 0 2 0 2zM161 382l-1-2-4 0-1-2-2 0-1 0-5 0-1-2-2-2-3 0-2-2-1 0-1 2-1 0-4-4-4 0-1 0-2 0-2 0-3-2 0-1 4-2 0-2 2-4 2-2 0-2 0-1 1 2 3-3 0-3 2 0 5-6 3 0 3-2 3-2 3-2 2 0 2-2 3 0 1 4 2-2 2 2 4 0 1-2 2 2 2 2 1 2 2 0 2 0 1 2 2 0 1-2 3 2 0-2 4-2 2 1 0 1-1 0-1 0-2 2 0 1-2 1 0 1-2 2 2 3-2 1 0 3 0 2 2-2 2 0-4 4-2 4 0 2-1 2-2-2-3 2-2 0-2 3 0 1-2 1 0 3-2 2-1-2-3 0zM271 348l-1 0 1-2 1 1zM267 350l-1-2 2 0zM272 363l0-2 2-1-3 0-1 1 0 1 1 2zM186 366l-2-1 2-1 1 0 1 1zM319 380l-1 0 0-1 1-1 1 0zM290 504l-2 0-2 0 0-1 0-1 1 0 1 0 0-1-4-3-1 0-5-5-2-4 0-2 0-1 0-5-2-1 0-6-2-2-3 0-1 0-5 0-1-1 2-1-2-2 0-2-4-1 0-3-2-1 0-2 3-1 3-2-2-2 0-2 0-1 0-5-1 0-4 4-2 0-1 1 0 2-4 3-2 1 2 1 0 2-2 3 2 3 1-2 1 1 0 2 0 1-1 2-1-2-2 2 4 0 2 2-2 1 2 2 0 1-2 0-2-2-2 1 0 2-2 1 2 2 2 0 0 1 0 2-2 2-1 1-1 1-2 2 0 2 0 1-4 0-4-4 3-2 2 0 1 0 1 0 2 0 1-1 2-1 0-2-3-2-2 0-1 2-5 0-1 4-2-1-1-3-1 0-2 2-2 0 0 2 2 1-2 3 0 2-2 1 1 1 2 0 1 2-6 2 0 1 0 1 1-2 1 2-2 0-1 2-1 0 0-2 0-1 0-2 2-1-2-1 0-3 0 3-6 4 2 2-2 1-1-2-1-1 0-1-1 0-7-4-1 2-1-1 0-2 0-1 2 2 2-3-2-1-3 0-1-2 0 3-2 3-1 0-4-4-2 0-1 0 0-2 2-2 0-1-2-1-2 0 0 3 0 1-1 4-1 0-1-2-2 0-2 2-1 0-5 0-1 0-4 2-3 0-1 0-6 0-1 0-11 0-1 2-2-2-4 0-2 2-1 0-2-2-2 0-2-2-3 0-2 2-3-2-3 0-2 0-1 2-14 0-4-4 0-1-6-7 0-2-2-2-2-3 0-1 0-3-2-4 2-2-2-2 0-1 3 0 3-3 0-2 0-3 0-2-2 0-1 2-1 0 0-3 2-1 1 0 1 0-1-2-3-1 0-2 2-1-1-2-2 2-1 0 0-5-1-1-1-1 6-4 0-3 4-1 0-7 2-3 0-3 2-1 0-2 2-1 4-4 1-2 1 0 3-4 3 0 2-1 0-1-2-1 0-1 1-2 1 2 2 0 2-4 2 2 0 3 3 1 2-4 1 2 6 0 2-2 0-1 1-1 1 2 1 2 2 0 1 0 1 0 3 0 1 0 2 0 2-2 2 0 3-2-1-2-3 0 0-1 2-1 2 0 0 2 2 0 0-1 0-1 1-2 1 0 2 2 0 3-3 1-1 2 3 0 2 0 3-4-2-1 0-3 1-2 1 1-2 2 1 1 7 0-2 2 2 3-2 3 4-4 3 0 1 2 0 2-2 0 2 3 0 1 2 1 1 1 3 1 0 3-2 3 0 2 3 1 2-2 2 0 2 4 1 2 1-2 1 2 0 2 0 2 2 2 1 0 1-1 2-3 4 2 4-4 1 2 3 0 1 0 2 0 1 0 1 0 3-2 2 0 2 2 5 0 1 0 2 1 1 3 3-1-2-2 2-1 2 4 2 0 2 1-2 2 0 2 2 2 0 3 2 2 4-2 8 0 1 2 1-2 0-2 4-3 0-1 4-3-2-2 0-1 1 0 1-2 0-1-2-1-2-1 1-1 6 0 1 0-2-2 1-4 2 0 1 2 1 0 2-2 1 0 3 0 1 2 1-2 3 0 1-2 3 0 0-2 1-2 3 4 2-2 2 2 3 2 2 2 2 0 3 2 2 0 4 3 0 3 4 1 0 2-2 1 0 11 0 1 0 4 2 0 0-4 2 2 0 7-2 2 3 1 3 1-1 3-3 0-2 0-2 3 0 2 2 1 0 1-2 1-3 2-2 0-1 1-2 2 0 3 4 1 0 2 0 2 0 2 0 1 0 4 0 1 0 3 2 2 0 2-2 2-1 2-3 2-4 3 0 1-2 1 0 3-5 0-1 0-2 0zM316 392l0-1 0-1zM288 392l0-2-2 1 2 1zM170 395l-1-1-1 0-2 1 1 1zM101 410l-1 0 0-2 2 1zM315 416l-1-1 1-1 1 1zM188 473l2-1 0-2 2-1 0-3-1 0-2 0-1-2 4-3-2-2 0-2-4-3 2-4-2-2 0-1 2-1 2-2 0-4 0-1-2-4 6-3-1-2-1 0 0-3 1-1 1-1-4-2 0-2 2-1-2-2 0 2-3 2-1 1 0 5-2 1 2 3-2 1 0 3-1 0-4 6-4 0-3 4-4 0-2 2-2 1 3 1 1 0-2 1 1 1 1 0 1-2 2 2 3 0 3 4 3 0 0 1-2 1 3 0 3 4 0 2 4 2-2 5 2 2 0 1zM94 424l0-1 0-1 0 1zM81 434l-1 0 1 0 1 0zM178 444l-2 0 2 0zM166 451l-1-1-1 1 0 1zM102 455l-1-1-1 1 1 1zM170 454l-2 0 1 0zM317 456l-1 0 1-2 1 1zM76 464l-4-3 2-1 1 2 1-2 2 0 0 2zM254 468l-2 0 0-2 0-1-2-1 1-2 2 2 2 0 1 1zM71 468l-1 0 0-2-2-1 0-1 1 0 3 2zM74 476l-2 0-2 0-2-2 3 0 1 0 0-1 0-1 0-2 3 0 1-4 4 0 0-2 3 0 1 2 0 1 0 2 0 2-2 1-2 0-1 0-5-2 0 1 0 1zM242 467l2-1-3 0-1 1 0 1zM68 470l-1 0-1-2 1-2 1 2zM200 468l-1 0-1 0 1 0zM82 470l0-2-4 1 1 1zM194 488l0-2 2-4 2 4 2-1-2-2 2-5-2-1 4-1 2 2 0-4-1 0-1 1-1 1-2-2-1 0-2 2-1 0-1-1 2-2 2-1 0-2-5-2-1 2 2 1-6 5 0 3 2 3 4 0-2 1 0 3 2 1-2 1 1 0zM236 470l0-2 0 2zM244 473l0-1 0-1 0-2 0-1-4 2 0 4zM189 470l-1 0 1 0 1 0zM66 472l0-2 0 1zM188 472l0-1 0-1 0 1zM202 472l-1-2-1 2zM228 478l2-2 0-1 0-3 2 2 0 2 2 0 0-2 0-1-1-1-3 0-1-2-1 2-4 0 2 1 0 2 0 2 2 1zM255 472l-1-1 2-1 0 1zM208 475l0-2-1-1-1 0 0 1 2 3zM248 472l-1 0-1 0 1 0zM236 475l0-3 0 3 0 1zM79 476l-1-1 0-1 2 0zM227 474l-1 0 1 0 1 0zM240 479l0-2 0-2-1-1-3 3 0 1 1 0 2 0 1 1 0 1zM197 480l-3 0-1 0-2 0-1-2 2-2 2 2 2 0 2 1zM224 487l-2-2 2-1 2-1 0-3-3 0-1-2-1-2-1 0 0 2 1 2 1 0 0 1-2 4 2 3zM218 479l0-1-2 0 0 1 1 1zM204 483l2-1-1-2-3 1 0 2 1 1zM208 480l-2 0 1 0zM218 489l0-1 0-1 0-6-1-1-1 2-3 0-1-2-2 2 2 2 2 0 2 2-2 2 0 1 1 1zM208 483l0-1-2 0 2 2zM252 482l-2 0 2 0zM237 484l-1 0 1 0 1 0zM247 488l-1 0 0-2 2 0zM208 489l0-1-2 0 2 2zM240 489l0-1 0 1 0 1zM230 498l-2 0 2-3 2-2-1-3-1 4-2-2 2-3 1-1 2 2 1 0 0 3 2 1-1 2-3 0zM220 490l-1 0-1 0 1 0zM208 493l0-1 2-1-1-1-1 0-2 2 0 1 1 1zM216 494l0-1-1-1-3 0-2 1 2 1 2 0 1 0zM193 496l-1-3 2-1 0 2zM191 494l-1 0 1 0 1 0z" fill="#f9d700" fill-rule="evenodd"/><path d="M304 398l-2 0-1-4-1 1-1 3-1 0-1-2-1 0-2 2-2-2-2 0 0-4-2-2-2 1 0 1-2 2 0 2-1 0-2-2-3 0 0-4 2 2 1 0 1-3-2-1-3 0-2-2-1-4-1-2-2 2-3 0 0 2-2 2-2-2 0-2-2-2 0-2 2 0 1 0 3 0 0-2 0-1 0-3-1 0-1 0-2 0-2-1 2-2-4-3 2-2 0-2 2-1 0-3 0-1 0-2 0-1 2 0 4-4 4 3 0 3 0-2 2-1 0-1-2-2 2-2 2 2 3-4 2 0 4-2 1 0 0-5 7-5 3 0 3 2 2 0 2 0 3 6 0 2 3 0 1 2 0 2 2 2 2 0 2 4 0 2 2 2 0 1 0 1 0 6 0 1 0 5 0 1-4 5 0 2-2 5 0 5-2 0-2 4-2-2-2 0 0 3 0 1zM161 380l-4 0-2-2-2 0-1 0-5 0-1-2-2-2-3 0-2-2-1 1-1 1-2 0-3-4-3 0-1 0-3 0-2 0-1-1 0-2 2-2 0-2 2-4 2-2 0-2 0-1 1 2 3-3 0-3 2 0 5-6 3 0 3-2 3-2 3-2 2 0 3-2 2 1 1 3 2-2 2 2 7 0 2 2 1 2 2 0 2 0 1 2 2 0 2-2 0 3 2 1 0 1-2 2 2 3-2 1 0 3 0 2 2-2 0 2-2 2-2 4 0 2-1 2-2-2-3 2-2 0-2 3 0 1-2 1 0 3-2 2-2-2-1 0zM185 346l-1 0 0-2 3-2 1 2zM189 344l-1-1 1-1 1 1zM271 348l-1 0 1-2 1 1zM268 348l-2 0 2 0zM270 355l-1-1-1 1 0 1zM268 359l-1-1-1 1 1 1zM272 364l0-3 2-1-2-2-2 2-2 1 0 1 3 2zM186 366l-2-1 2-1 2 1zM262 376l-2-1 2-1zM272 378l-1-2-1 2 1 0zM319 380l-1 0 0-2 2 1zM165 388l-1 0 1 0 1 0zM290 504l-2 0-2-1 2-1 0-1-4-3-1 0-5-5-2-4 0-2 0-1 0-5-2-1 0-6-2-2-3 0-1 0-5 0-1 0 2-2-2-2 0-3-1-1-2 2-1-1 0-3-1 0-1-2 6-4-2-2 0-2 0-1 0-5-1 0-4 4-2 0-2 0-1 1 2 1-2 2-2 2-2 1 2 1 0 2-2 3 2 3 1-2 1 1 0 2 0 1-1 2-1-2-2 2 4 0 2 2-2 1 2 2 0 1-2 0-2-2-2 1 0 2-2 1 2 2 2 0 0 1 0 2-2 2-1 1-1 1-2 2 0 2 0 1-4 0-4-4 3-2 2 0 1 0 1 0 2 0 1-1 2-1 0-2-3-2-2 0-1 2-5 0-1 4-2-1-1-3-1 0-2 2-2 0 0 2 2 1-2 3 0 2-2 1 1 1 2 0 1 2-6 2-1 4-1 0 0-2 0-1 0-2 2-1-2-1 0-3 0 3-6 4 2 2-2 1-1-2-1-1 0-1-1 0-7-4-1 2-1-1 0-2 0-1 2 2 2-3-2-1-3 0-1-2 0 3-2 3-1 0-4-4-2 0-1 0 0-2 2-2 0-1-2-1-1 0-1 2-1 4-2 0-2 0-2 2-1 0-5 0-1 0-4 2-3 0-1 0-6 0-1 0-11 0-2 2-1-2-4 0-2 2-1 0-2-2-2 0-2-2-3 0-2 2-3-2-3 0-2 0-1 2-14 0-4-4 0-1-6-7 0-2-2-2-2-3 0-1 0-3-2-4 2-2-2-2 6-4 0-2 0-2 1-1 1 2 0-2-1 0-1-2-2-1 2-1-4-4 2-2 0-1-1-1-2 2-1-1 0-1 0-3-1-1-1-1 6-4 0-3 4-1 0-7 2-3 0-2 2-2 0-2 2-1 4-4 1-2 1 0 3-4 3 0 2-1-2-3 4 0 2-4 2 2 0 4 3 0 1-2 8 0 2-4 1 0 1 2 1 2 2 0 1 0 1 0 3 0 1 0 2 0 2-2 2 0 3-2 0-1-4-2 2-1 2 0 1 2 1 0 1-4 1 0 2 2 0 3-4 1 1 2 2 0 4-2 1 0 0-1 0-1 0-2 5 0 1 1-2 2-2 1-2 1 4 1 0 2 4-4 3 0 1 2 0 1-1 1-2-2-1 2 2 0 2 3 0 1 2 0 1 2 1 0 2 2 0 2-2 3 0 2 2 1 5 0 1 1 2 2-4 3 0 1-2 2 0 5-2 1 2 3-2 1 0 3-1 0-4 6-4 0-3 4-4 0-2 2-2 1 3 1 1 0-2 1 1 1 1 0 1-2 2 2 3 0 3 4 3 0-2 2 3 0 1 2 0 1 2 1 0 2 4 3-2 2 0 2 2 3 2-2 0-2 2-1 0-3-1 0-2 0-1-2 2 0 2-3-2-2 0-2-4-4 2-3-2-2 0-1 2-1 2-2 0-4 0-1-2-4 6-3-1-2-1 0 0-3 1-1 1-1-4-2 2-5 2 0 0 2 0 2 2 2 1 0 3-2 0-2 2 0 2 2 3-2 5 0 1 0 2 0 1 0 1 0 3-2 2 0 2 2 7 0 2 4 3-1 0-3 1 4 2 0 3 1-2 2 0 2 2 2 0 3 2 2 4-2 8 0 1 2 1-2 0-2 4-3 0-1 4-3-2-2 2-3 0-1-2-2 6-1 0-2-2-1 1-3 2 0 2 2 1-2 5 0 1 2 1-2 3 0 2-2 2 0 1-4 2 4 5 0 3 2 2 2 2 0 3 2 2 0 4 3 0 3 4 1 0 2-2 1 0 3 0 1 0 2 0 5 0 1 0 4 1 0 1-1 0-1 1 0 1 0 0 2-2 1 2 2 0 2-2 2 2 1 4 1 0 1-2 2-3 0-3 3 0 2 2 1 0 1-2 1-3 2-2 0-1 1-2 2 0 3 4 1 0 2 0 2 0 1 0 2 0 4 0 1 0 3 2 2 0 2-2 2-1 2-3 2-4 3 0 1-2 1 0 2-1 1-2 0-2 0-1 0-2 0zM316 392l0-1 0-1 0 1zM294 394l0-1 0-1-2 1 0 1 1 0zM101 410l-1 0 1 0 1 0zM166 451l-1-1-1 1 0 1zM102 455l-1-1-1 1 1 1zM170 454l-2 0 1 0zM317 456l-1 0 1-2 1 1zM76 464l-4-3 2-1 1 2 1-2 2 0 0 2zM253 468l-1 0 0-2 0-1-2-1 1-2 2 2 2 0 1 1zM71 468l-1 0 0-2-2-1 0-1 1 0 3 2zM74 476l-2 0-2 0-2-2 3 0 1 0 0-1 0-1 0-2 3 0 1-4 4 0 0-2 3 0 1 2 0 1 0 2 0 2-2 1-2 0-1 0-5-2 0 1 0 1zM242 467l2-1-3 0-1 1 0 1zM68 470l-1 0-1-2 1-2 1 2zM200 468l-1 0-1 0 1 0zM82 470l0-2-4 1 1 1zM194 488l0-2 2-4 2 4 2-1-2-2 2-5-2-1 4-1 2 2 0-4-1 0-1 1-1 1-2-2-1 0-2 2-1 0-1-1 2-2 2-1 0-2-5-2-1 2 2 1-6 5 0 3 2 3 4 0-2 1 0 3 2 1-2 1 1 0zM236 470l0-2 0 2zM244 473l0-1 0-1 0-2 0-1-4 2 0 4zM189 470l-1 0 1 0 1 0zM66 472l0-2 0 1zM188 472l0-1 0-1 0 1zM202 472l-1-2-1 2zM228 478l2-2 0-1 0-3 2 2 0 2 2 0 0-2 0-1-1-1-3 0-1-2-1 2-4 0 2 1 0 2 0 2 2 1zM208 475l0-2-1-1-1 0 0 1 2 3zM248 472l-1 0-1 0 1 0zM255 472l-1 0 1 0 1 0zM236 475l0-3 0 3 0 1zM79 476l-1-1 0-1 2 0zM227 474l-1 0 1 0 1 0zM240 479l0-2 0-2-1-1-3 3 0 1 1 0 2 0 1 1 0 1zM197 480l-3 0-1 0-2 0-1-2 2-2 2 2 2 0 2 1zM224 487l-2-2 2-1 2-1 0-3-3 0-1-2-1-2-1 0 0 2 1 2 1 0 0 1-2 4 2 3zM218 479l0-1-2 0 0 1 1 1zM204 483l2-1-1-2-3 1 0 2 1 1zM208 480l-2 0 1 0zM218 489l0-1 0-1 0-6-1-1-1 2-3 0-1-2-2 2 2 2 2 0 2 2-2 2 0 1 1 1zM208 483l0-1-2 0 2 2zM251 482l-1 0 1 0 1 0zM237 484l-1 0 1 0 1 0zM247 488l-1 0 1-2 1 0zM208 489l0-1-2 0 2 2zM240 489l0-1 0 1 0 1zM230 498l-2 0 2-3 2-2-1-3-1 4-2-2 2-3 1-1 2 2 1 0 0 3 2 1-1 2-3 0zM220 490l-1 0-1 0 1 0zM208 493l0-1 2-1-1-1-1 0-2 2 0 1 1 1zM216 494l0-1-1-1-3 0-2 1 2 1 2 0 1 0zM193 496l-1-3 2-1 0 2zM191 494l-1 0 1 0 1 0zM224 500l-2 0 1-2 1 2z" fill="#e8f000" fill-rule="evenodd"/><path d="M304 398l-1 0-2-4-2 2-3-2-2 4 0-3 2-2-2-1-2 2 0 1 0 1-2 0 0-4-2-2-2 1-2 2 0 2-1 1-3-3 2-1 0-3-2-1-3 0-2-2-1-4-1-2-2 0-1 2-2-2 0 4-3 0-1-2-2-2 1-2 2 2 2-2 3 0 1 2 1-1 0-3-1 0-1 0-2-1 0-3 3 0 1-3-1-1-2 2-1 0-2-2-2 0-2-1 2-4 0-4 2-3-2-2 2 0 1 2 4 0 1-1-2-1-2-1 2-3 1 0 2 6 1-1 0-1 2-1 0-3 2 0 3-4 2 0 4-2 1 0 0-5 5-5 2 0 1 0 2 0 3 2 2 0 2 0 3 6 0 2 3 0 1 2 0 2 2 2 2 0 2 4 0 2 2 2 0 1 0 1 0 6 0 1 0 5 0 1-4 5 0 2-2 5 0 5-2 0 0 2-3 2-1-2-2 0-2 2 2 2zM160 380l-3 0-2-2-2 0-1 0-5 0-1-2-2-2-3 0-2-2-1 1-1 1-2 0-3-4-3 0-1 0-3 0-2 0-1-1 0-2 2-1 0-3 2-4 2-2 0-2 0-1 1 2 3-3 0-3 2 0 5-6 3 0 3-2 3-2 3-2 2 0 3-2 2 1 1 3 2-2 2 2 7 0 2 2 0 1 3 1 2 0 1 2 2 0 1-2 3 4 0 1-2 2 2 3-2 1 0 3 0 2 2-1 0-1 0 2-2 2-2 4 0 2-1 2-2-2-3 2-2 0-2 3 0 1-2 1 0 3-2 2-2-2-1 0zM185 346l-1-1 2-1 0 1zM271 348l-1 0 1-2 1 1zM272 364l0-3 2-1-2-2-3 2-2-2-1 0 0 2 4 4zM186 366l0-1 1-1 1 1zM265 372l-1-1 0-1 2 1zM262 376l-2-1 2-1zM318 380l0-1 1-1 1 1zM290 504l-2 0-2-1 2-1 0-1-4-3-1 0-5-5-2-4 0-2 0-1 0-5-2-1 0-6-2-2-3 0-1 0-5 0-1 0 2-2-2-2 0-3-1-1-2 2-1-1 0-3-2-2 6-4-2-2 0-2 0-1 0-5-1 0-4 4-2 0-2 0-1 4-2 2-2 1 2 1 0 2-2 3 2 3 1-2 1 1 0 2 0 1-1 2-1-2-2 2 4 0 2 2-2 1 2 2 0 1-2 0-2-2-2 1 0 2-2 1 2 2 2 0 0 1 0 2-2 2-1 1-1 1-2 2 0 2 0 1-4 0-4-4 3-2 2 0 1 0 1 0 2 0 1-1 2-1 0-2-3-2-2 0-1 2-5 0-1 4-2-1-1-3-1 0-2 2-2 0 0 2 2 1-2 3 0 2-2 1 1 1 2 0 1 2-6 2-1 4-1 0 0-2 0-1 0-2 2-1-2-1 0-3 0 3-6 4 2 2-2 1-1-2-1-1 1-1 1 0-1 0-2 0-7-4-1 2-1-1 0-2 0-1 2 2 2-3-2-1-3 0-1-2 0 3-2 3-1 0-4-4-2 0-1 0 0-2 2-2 0-1-2-1-1 0-1 2-1 4-1-2-1 2-2 0-2 2-3 0-1 0-2 0-1 0-4 2-3 0-1 0-6 0-1 0-11 0-2 2-1-2-4 0-2 2-3-2-2 0-2-2-3 0-2 2-3-2-3 0-2 0-1 2-14 0-4-4 0-1-6-7 0-2-2-2-2-3 0-1 0-3-2-4 2-2-2-2 6-4 0-2 0-1 2 0 0-2-1 0-1-2-2-1 2-1-4-4 2-2 0-1-1-1-2 2-1-1 0-1 0-3-2-1 2-2 4-3 0-3 4-1 0-7 2-3 0-2 1-1 1 0 0-3 2-1 4-4 1-2 1 0 3-4 3 0 2-1-2-2 1-1 3 0 2-2 2 1 0 3 3 0 1-2 8 0 2-2 0-1 1-1 1 2 1 2 2 0 1 0 1 0 3 0 1 0 2 0 2-2 2 0 3-2 0-1-4-2 2-1 1 0 2 2 1 0 1-2 2 0 1 3-4 1 1 2 2 0 5-3 0-2 1-1 2 0 2 0 1 1-2 2-2 1-2 1 4 1 0 2 4-4 3 0 1 2 0 1-1 1-2-2-1 2 2 0 2 3 0 1 2 0 1 2 1 0 2 2 0 2-2 3 0 2 2 1 5 0 1 2 0 2-2 2 0 1-2 2 0 5-2 1 2 3-2 1 0 3-1 0-4 6-4 0-3 4-4 0-2 2-2 1 3 1 1 0-2 1 1 1 1 0 1-2 2 2 3 0 3 4 3 0-2 2 3 0 1 2 0 1 2 1 0 2 4 3-2 2 0 2 2 3 2-2 0-2 2-1 0-3-1 0-2 0-1-2 2 0 2-3-2-2 0-2-4-4 2-3-2-2 0-1 2-1 2-2 0-4 0-1-2-4 6-3-1-2-1 0 0-2 2-2 0-1-4-2 2-2 0-2 1-1 1 1 0 1 0 2 2 2 1 0 3-2 0-2 2 0 1 2 4-2 5 0 1 0 2 0 1 0 1 0 3-2 2 0 2 2 7 0 2 4 2 0 1-2 1 2 2 0 3 2-2 1 0 2 2 2 0 3 2 2 4-2 8 0 1 2 1-2 0-2 4-3 0-1 4-3-2-2 2-3 0-1-2-2 6-1 0-3-2-1 1-2 1 0 2 2 1 0 1-2 5 0 1 2 1-2 3 0 2-2 1 0 2-2 1 0 1 2 5 0 3 2 2 2 2 0 3 2 2 0 4 3 0 3 1 2 1-2 2 1 0 2-2 1 0 3 0 1 0 2 0 5 0 1 0 4 1 0 1-1 0-1 1 0 1 0 0 2-2 1 2 2 0 2-2 2 2 1 4 1-1 1-2 2-2 0-3 3 0 2 2 1-5 4-2 0-1 1-2 2 0 3 4 1 0 4 0 1 0 2 0 4 0 1 0 3 2 4-1 0-1 2 0 1-8 6 0 1-2 1 0 2-1 1-2 0-2 0-1 0-2 0zM316 392l0-1 0-1 0 1zM279 394l-1-1 1-1 1 0zM299 398l-1-1 1-1 1 1zM166 451l-1-1-1 1 0 1zM102 455l-1-1-1 1 1 1zM170 454l-2 0 1 0zM317 456l-1 0 1 0 1 0zM76 464l-4-3 2-1 1 2 1-2 2 0 0 2zM253 468l-1 0 0-2 0-1-2-1 1-2 5 2 0 2zM71 468l-1 0 0-2-2-1 0-1 1 0 3 2zM74 476l-2 0-2 0-2-2 3 0 1 0 0-1 0-1 0-2 3 0 1-4 4 0 0-2 3 0 1 2 0 1 0 2 0 2-2 1-2 0-1 0-5-2 0 1 0 1zM242 467l2-1-3 0-1 1 0 1zM68 470l-1 0-1-2 1-2 1 2zM200 468l-1 0-1 0 1 0zM82 470l0-2-4 1 1 1zM194 488l0-2 2-4 2 4 2-1-2-2 2-5-2-1 4-1 2 2 0-4-1 0-1 1-1 1-2-2-1 0-2 2-1 0-1-1 2-2 2-1 0-2-5-2-1 2 2 1-6 5 0 3 2 3 4 0-2 1 0 3 2 1-2 1 1 0zM236 470l0-2 0 2zM244 473l0-1 0-1 0-2 0-1-4 2 0 4zM189 470l-1 0 1 0 1 0zM202 472l0-1-1-1-1 2zM66 472l0-2 0 1zM188 472l0-1 0-1 0 1zM228 478l2-2 0-1 0-3 2 2 0 2 2 0 0-2 0-1-1-1-3 0-1-2-1 2-4 0 2 1 0 2 0 2 2 1zM208 475l0-2-1-1-1 0 0 1 2 3zM248 472l-1 0-1 0 1 0zM236 475l0-3 0 3 0 1zM79 476l-1-1 0-1 2 0zM227 474l-1 0 1 0 1 0zM240 479l0-2 0-2-1-1-3 3 0 1 1 0 2 0 1 1 0 1zM197 480l-3 0-1 0-2 0-1-2 2-2 2 2 2 0 2 1zM224 487l-2-2 2-1 2-1 0-3-3 0-1-2-1-2-1 0 0 2 1 2 1 0 0 1-2 4 2 3zM218 479l0-1-2 0 0 1 1 1zM204 483l2-1-1-2-3 1 0 2 1 1zM208 480l-2 0 1 0zM218 489l0-1 0-1 0-6-1-1-1 2-3 0-1-2-2 2 2 2 2 0 2 2-2 2 0 1 1 1zM208 483l0-1-2 0 2 2zM251 482l-1 0 1 0 1 0zM237 484l-1 0 1 0 1 0zM247 488l-1 0 1-2 1 0zM208 489l0-1-2 0 2 2zM240 489l0-1 0 1 0 1zM230 498l-2 0 2-3 2-2-1-3-1 4-2-2 2-3 1-1 2 2 1 0 0 3 2 1-1 2-3 0zM220 490l-1 0-1 0 1 0zM208 493l0-1 2-1-1-1-1 0-2 2 0 1 1 1zM216 494l0-1-1-1-3 0-2 1 2 1 2 0 1 0zM194 494l-2 0 1-2 1 1zM224 500l-2 0 1-2 1 2z" fill="#c4fc00" fill-rule="evenodd"/><path d="M303 398l-2-4-2 0-1 2-2-2-2-2-2 1-1 3-1-3-2-3-4 2-1 4-1-2 0-2 0-3-2-1-3 0-3-3 0-3-2-2 0-4-2-2 0-1 2-2 0-2-2-2 0-1 2-2 0-3 2-1-2-1 0-2 2-2 0-1 2-1 0-3 2 0 3-4 2 0 4-2 1 0 0-5 5-5 2 0 1 0 2 0 3 2 2 0 2 0 3 6 0 2 3 0 1 2 0 2 2 2 2 0 2 4 0 2 2 2 0 1 0 1 0 6 0 1 0 5 0 1-4 5 0 2-2 5 0 4-5 3-3 0-2 2 2 2zM160 380l-3 0-2-2-2 0-1 0-5 0-1-2-2-2-3 0-2-2-1 1-1 1-2 0-3-4-3 0-1 0-5 0-1-2 0-1 2-1 0-3 2-4 2-2 0-2 0-1 1 2 3-3 0-3 2 0 5-6 3 0 3-2 3-2 3-2 2 0 3-2 2 1 1 3 2-2 2 2 7 0 2 2 0 1 3 1 2 0 1 2 2 0 1-2 3 4 0 1-2 2 2 3-2 1 0 3 0 2 2-1 0-1 0 2-2 2-2 4 0 2-1 2-2-2-3 2-2 0-2 3 0 1-2 1 0 2-2 1-3 0zM185 346l-1-1 2-1 0 1zM271 348l-1-1 1-1 1 1zM271 354l-3-1 0-1 2-2 2 1zM266 358l0-1 0-1zM270 358l-1 0-1-1 3-1 1 1zM264 360l0-1 1-1 1 1zM268 366l-2 0-1-2-1 2 0-3 4-1 0 1zM186 366l0-1 1-1 1 1zM262 376l-2-1 2-1zM266 384l-4-4 1-2 5 2 0 3zM318 380l0-1 1-1 1 1zM290 504l-4-1 2-1 0-1-5-5-1 0-4-3-2-4 0-2 0-1 0-5-2-1 0-6-2-2-3 0-1 0-4 0 0-2-2-2 0-3-4-1 0-2-2-2 6-4-2-2 0-2 0-1 0-5-1 0-4 4-2 0-2 0-1 4-2 2-2 1 2 1 0 2-2 3 2 3 1-2 1 1 0 2 0 1-1 2-1-2-2 2 4 0 2 2-2 1 2 2 0 1-2 0-2-2-2 1 0 2-2 1 2 2 2 0 0 1 0 2-2 2-1 1-1 1-2 2 0 2 0 1-4 0-4-4 3-2 2 0 1 0 1 0 2 0 1-1 2-1 0-2-3-2-2 0-1 2-5 0-1 4-2-1-1-3-1 0-2 2-2 0 0 2 2 1-2 3 0 2-2 1 1 1 2 0 1 2-6 2-1 4-1 0 0-2 0-1 0-2 2-1-2-1 0-3 0 3-6 4 2 2-2 1-1-2-1-1 1-1 1 0-1 0-2 0-7-4-1 2-1-1 0-2 0-1 2 2 2-3-2-1-3 0-1-2 0 3-2 3-1 0-4-4-2 0-1 0 0-2 2-2 0-1-2-1-1 0-1 2-1 4-1-2-1 2-2 0-2 2-3 0-1 0-2 0-1 0-4 2-3 0-1 0-6 0-1 0-11 0-2 2-1-2-4 0-2 2-3-2-2 0-2-2-3 0-2 2-3-2-3 0-2 0-1 2-14 0-4-4 0-1-6-7 0-2-2-2-2-3 0-1 0-3-2-4 2-2-2-2 6-4 0-2 0-1 2 0 0-2-1 0-1-2-2-1 2-1-4-4 2-2 0-1-1-1-2 2-1-1 0-1 0-3-2-1 2-2 4-3 0-3 4-1 0-7 2-3 0-2 1-1 1 0 0-3 2-1 4-4 1-2 1 0 3-4 3 0 2-1 0-2-2-1 1 0 3 0 2-2 2 1 0 3 3 0 1-2 8 0 2-2 0-1 1-1 1 2 0 2 2 2 2-2 1 2 1-2 5 0 2-2 2 0 2-2 1-1-4-2 2-1 1 0 2 2 1 0 1-2 1 0 2 1 0 2-4 1 1 2 2 0 4-2 1 0 0-1 0-2 1-1 1 0 2 0 0 3-2 1-2 1 4 1 0 2 4-4 3 0 1 2 0 1-1 1-2-2-1 2 2 0 2 3 0 1 2 0 1 2 1 0 2 2 0 2-2 3 0 2 2 1 5 0 1 2 0 2-2 2 0 1-2 2 0 5-2 1 2 3-2 1 0 3-1 0-4 6-4 0-3 4-4 0-2 2-2 1 3 1 1 0-2 1 1 1 1 0 1-2 2 2 3 0 3 4 3 0-2 2 3 0 1 2 0 1 2 1 0 2 4 3-2 2 0 2 2 3 2-2 0-2 2-1 0-3-1 0-2 0-1-2 2 0 2-3-2-2 0-2-4-4 2-3-2-2 0-1 2-1 2-2 0-4 0-1-2-4 6-3-1-2-1 0 0-2 2-2 0-2-4-1 2-2 0-2 1-1 1 1 0 1 0 2 2 2 1 0 3-2 0-2 2 0 1 2 4-2 5 0 1 0 2 0 1 0 1 0 3-2 2 0 2 2 7 0 2 4 2 0 1-2 1 2 2 0 3 2-2 1 0 2 2 2 0 3 2 2 4-2 8 0 1 2 1-2 0-2 4-3 0-1 4-3-2-2 2-3 0-1-2-2 6-1 0-3-2-1 1-2 1 0 2 2 1 0 1-2 5 0 1 2 1-2 3 0 2-2 1 0 2-2 1 0 1 2 5 0 3 2 6 4 2 0 2 2 1 0 2 2 0 2 1 2 1-2 2 2-2 2 0 3 0 1 0 2 0 5 0 1 0 4 1 0 1-1 0-1 1 0 1 0 0 2-2 1 2 2 0 2-2 2 2 1 4 2-3 2-2 0-3 3 0 2 2 1-5 4-2 0-1 1-2 2 0 3 4 1 0 4 0 1 0 2 0 4 0 1 0 3 2 3-2 3 0 1-3 3-1 0-4 3 0 1-2 1 0 2-1 1-2 0-2 0-1 0-2 0zM166 451l-1-1-1 1 0 1zM102 455l-1-1-1 1 1 1zM170 454l-2 0 1 0zM317 456l-1 0 1 0 1 0zM76 464l-4-3 2-1 1 2 1-2 2 0 0 2zM253 468l-1 0 0-2 2-1-4-1 1-2 5 2 0 2zM71 468l-1 0 0-2-2-1 0-1 1 0 3 2zM74 476l-2 0-2 0-2-2 3 0 1 0 0-1 0-1 0-2 3 0 1-4 4 0 0-2 3 0 1 2 0 1 0 2 0 2-2 1-2 0-1 0-5-2 0 1 0 1zM242 467l2-1-3 0-1 1 0 1zM68 470l-1 0-1-2 1-2 1 2zM200 468l-1 0-1 0 1 0zM82 470l0-2-4 1 1 1zM194 488l0-2 2-4 2 4 2-1-2-2 2-5-2-1 4-1 2 2 0-4-1 0-1 1-1 1-2-2-1 0-2 2-1 0-1-1 2-2 2-1 0-2-5-2-1 2 2 1-6 5 0 3 2 3 4 0-2 1 0 3 2 1-2 1 1 0zM236 470l0-2 0 2zM244 473l0-1 0-1 0-2 0-1-4 2 0 4zM189 470l-1 0 1 0 1 0zM202 472l0-1-1-1-1 2zM66 472l0-2 0 1zM188 472l0-1 0-1 0 1zM228 478l2-2 0-1 0-3 2 2 0 2 2 0 0-2 0-1-1-1-3 0-1-2-1 2-4 0 2 1 0 2 0 2 2 1zM208 475l0-2-1-1-1 0 0 1 2 3zM248 472l-1 0-1 0 1 0zM236 475l0-3 0 3 0 1zM79 476l-1-1 0-1 2 0zM227 474l-1 0 1 0 1 0zM240 479l0-2 0-2-1-1-3 3 0 1 1 0 2 0 1 1 0 1zM197 480l-3 0-1 0-2 0-1-2 2-2 2 2 2 0 2 1zM224 487l-2-2 2-1 2-1 0-3-3 0-1-2-1-2-1 0 0 2 1 2 1 0 0 1-2 4 2 3zM218 479l0-1-2 0 0 1 1 1zM204 483l2-1-1-2-3 1 0 2 1 1zM208 480l-2 0 1 0zM218 489l0-1 0-1 0-6-1-1-1 2-3 0-1-2-2 2 2 2 2 0 2 2-2 2 0 1 1 1zM208 483l0-1-2 0 2 2zM251 482l-1 0 1 0 1 0zM237 484l-1 0 1 0 1 0zM247 488l-1 0 1-2 1 0zM208 489l0-1-2 0 2 2zM240 489l0-1 0 1 0 1zM230 498l-2 0 2-3 2-2-1-3-1 4-2-2 2-3 1-1 2 2 1 0 0 3 2 1-1 2-3 0zM220 490l-1 0-1 0 1 0zM208 493l0-1 2-1-1-1-1 0-2 2 0 1 1 1zM216 494l0-1-1-1-3 0-2 1 2 1 2 0 1 0zM194 494l-2 0 1-2 1 1zM224 500l-2 0 1-2 1 2z" fill="#49ff00" fill-rule="evenodd"/><path d="M303 396l-2-2-2 0-1 2-2-2-2-2-3 2-3-4-2 2-3 0-3-4-3 0-3-3 0-3-2-2 0-4-2-2 0-1 2-2-2-5 2-2 0-3 2-1-2-1 0-2 2-2 0-1 2-1 0-2 5-5 2 0 4-2 1 0 0-5 5-5 2 0 1 0 2 0 3 2 2 0 2 0 3 6 0 2 3 0 1 2 0 2 2 2 2 0 2 4 0 2 2 2 0 1 0 1 0 6 0 1 0 5 0 1-4 5 0 2-2 5 0 4-5 3-3 0zM160 380l-3 0-2-2-2 0-1 0-5 0-1-2-2-2-2 0-3-2-2 2-2 0-3-4-3 0-1 0-5 0-1-2 0-1 2-1 0-3 2-4 2-2 0-2 0-1 2 2 2-2 0-3 1-1 1 0 4-4 2-2 2 0 3-2 3-2 3-2 2 0 3-2 2 1 1 3 2-2 2 2 6 0 3 2 0 1 2 1 3 0 1 2 2 0 1-2 1 2 2 3-2 1-2 0-2 1 2 1 0 3 2 1 0 4 2-1 0-1 0 2-2 2-2 4 0 2-1 2-2-2-2 2-2 0-3 3 0 1-2 1 0 2-2 1-3 0zM185 346l-1 0 1-2 1 1zM182 354l-2 0 1-2 1 1zM186 366l0-1 0-1 0 1zM319 380l-1-1 1-1 1 1zM221 502l-1 0 0-2 0-1 0-2 2-1-2-1 0-3 0 3-6 4 2 2-2 1-1-2-1-1 1-1 1 0-1 0-2 0-5-4 2-2 2-1-1-1-1 0-2 2 0 1-1 1-1-2 2-1-2-1-3 0-1-2-2 5-1 1-4-4-2 0-1-2 2-2 0-1-2-1-1 0-1 2-1 4-1-2-1 2-2 0-2 2-3 0-1 0-2 0-1 0-4 2-3 0-1 0-6 0-1 0-11 0-2 2-1-2-4 0-2 2-3-2-2 0-2-2-3 0-2 2-3-2-3 0-2 0-1 2-14 0-4-4 0-1-6-7 0-2-4-4 0-5-2-3 0-1 2-2-2-2 6-4 0-2 0-1 2 0 0-2-1 0-1-2-2-1 2-1-4-4 2-2 0-1-1-1-2 2-1-1 0-1 0-3-2-1 2-2 4-3 0-2 1-1 1 0 2 0 0-2 0-6 2-3 0-2 1-1 1 0 0-3 2-1 4-4 1-2 1 0 3-4 3 0 2-1 0-2-2-1 1 0 3 0 2-2 2 1 0 3 3 0 1-2 8 0 2-2 0-1 1-1 1 1 0 3-2 1 1 1 2 0 1 0 4 0 6-2 1-2 2 0 3-2 0-1-4-2 2-1 1 0 2 2 1 0 1-2 1 0 2 1 0 2-4 1 1 2 2 0 4-2 1 0 0-1 0-2 1-1 1 0 2 1 0 2-2 1-2 1 4 1 0 2 4-4 3 0 1 2 0 1-1 1-2-2-1 2 2 0 2 3 0 1 2 0 1 2 1 0 2 2 0 2-2 3 0 2 2 1 5 0 1 2 0 2-2 2 0 1-2 2 0 5-2 1 2 3-2 1 0 3-1 0-4 6-4 0-3 4-4 0-2 2-2 1 2 1 1 2 1 0 1-2 2 2 3 0 3 4 3 0-2 2 3 0 3 5 0 1 4 3-2 2 0 2 2 3 2-2 2-2 0-4-2 0 0-2 2-3-2-2 0-2-4-4 2-3-2-2 0-1 4-2 0-2 0-1 0-5-2-2 3-1 3-2-1-2-1 0 0-2 2-2 0-2-4-1 2-2 0-2 1-1 1 1 0 1 0 2 2 2 1 0 3-2 0-2 2 0 1 2 4-2 2 0 1 0 8 0 2-2 2 0 1 2 8 0 2 4 2 0 1-2 1 2 2 0 3 2-2 1 0 2 2 2 0 3 2 2 1 0 3-2 8 0 1 2 1-2 0-2 4-3 0-1 4-3-2-2 2-3 0-1-1-1-1-1 6-1 0-3-2-1 1-2 1 0 2 2 1 0 1-2 5 0 1 2 1-2 3 0 2-2 1 0 2-2 1 0 1 2 5 0 3 2 6 4 2 0 2 2 1 0 2 2 0 2 1 2 1-2 2 2-2 2 0 3 0 1 0 2 0 5 0 1 0 4 1 0 1-1 0-1 1 0 1 0 0 2-2 1 2 2 0 2-2 2 4 3-1 2-2 0-3 3 0 2 2 1-4 4-3-2-3 4 0 4 4 1 0 4 0 1 0 2 0 4 0 1 0 3 2 3-5 7-3 0 0 2-4 3-1 3-8 0-2-2-3-2-3-2-1 0-6-7 0-2 0-1 0-5-2-1 0-6-2-2-3 0-1 0-4 0 0-2-2-2 0-3-4-1 0-2-2-2 6-4-2-2 0-3 0-1 0-2 0-1-1-1-4 4-2 0-2 0-1 4-2 2-2 1 2 1 0 2-2 3 2 3 1-2 1 1 0 2 0 1-1 2-1-2-2 2 4 0 2 2-2 1 2 2 0 1-2 0-2-2-1 0-1 3-2 1 2 2-1 2-2-2-2 0-1 2-5 0-1 4-2-1-1-3-1 0-2 2-2 0 0 2 2 1-2 3 0 2-2 1 1 1 2 0 1 2-6 2zM166 451l-1-1-1 1 0 1zM102 455l-1-1-1 1 1 1zM172 455l-2-1-2 0 2 2zM317 456l-1 0 1 0 1 0zM76 464l-4-3 2-1 1 2 1-2 2 0 0 2zM253 468l-1 0 0-2 2-1-4-1 1-2 5 2 0 2zM71 468l-1 0 0-2-2-1 0-1 1 0 3 2zM74 476l-2 0-2 0-2-2 3 0 1 0 0-1 0-1 0-2 3 0 1-4 4 0 0-2 3 0 1 2 0 1 0 2 0 2-2 1-2 0-1 0-5-2 0 1 0 1zM242 467l2-1-3 0-1 1 0 1zM68 470l-1 0-1-2 1-2 1 2zM200 468l-1 0-1 0 1 0zM82 470l0-2-4 1 1 1zM194 488l0-2 2-4 2 4 2-1-2-2 2-5-2-1 4-1 2 2 0-4-1 0-1 1-1 1-2-2-1 0-2 2-1 0-1-1 2-2 2-1 0-2-5-2-1 2 2 1-6 5 0 3 2 3 4 0-2 1 0 3 2 1-2 1 1 0zM202 472l-1-4-1 3 0 1zM236 470l0-2 0 2zM244 473l0-1 0-1 0-2 0-1-4 2 0 4zM66 472l0-2 0 1zM228 478l2-2 0-1 0-3 2 2 0 2 2 0 0-2 0-1-1-1-3 0-1-2-1 2-4 0 2 1 0 2 0 2 2 1zM208 475l0-2-1-1-1 0 0 1 2 3zM248 472l-1 0-1 0 1 0zM236 475l0-3 0 3 0 1zM79 476l-1-1 0-1 2 0zM227 474l-1 0 1 0 1 0zM240 479l0-2 0-2-1-1-3 3 0 1 1 0 2 0 1 1 0 1zM197 480l-3 0-1 0-2 0-1-2 2-2 2 2 2 0 2 1zM224 487l-2-2 2-1 2-1 0-3-3 0-1-2-1-2-1 0 0 2 1 2 1 0 0 1-2 4 2 3zM218 479l0-1-2 0 0 1 1 1zM204 483l2-1-1-2-3 1 0 2 1 1zM208 480l-2 0 1 0zM218 489l0-1 0-1 0-6-1-1-1 2-3 0-1-2-2 2 2 2 2 0 2 2-2 2 0 1 1 1zM208 483l0-1-2 0 2 2zM237 484l-1 0 1 0 1 0zM239 490l-2 0-3-2 3-2 1 0 2 1zM208 489l0-1-2 0 2 2zM230 498l-2 0 2-3 2-2-1-3-1 4-2-2 2-3 1-1 2 2 1 1 0 2-4 4zM220 490l-1 0-1 0 1 0zM216 494l0-1-1-1-3 0-2 1 2 1 2 0 1 0zM194 494l-2 0 1-2 1 1zM204 494l-2 0 0-1 0-1 2 2zM224 500l-2 0 1-2 1 2z" fill="#00f200" fill-rule="evenodd"/><path d="M303 396l-2-2-2 0-1 2-3-4-3 0-1 0-2-2-3 0-2 2-2-3-1-1-2-2-3 0-2-1 0-3-2-2 0-4-2-1 0-3 2-1 0-3-2-2 2-1 2-9 4-3 0-2 2-1 2-2 3-2 3-2 0-5 5-5 2 0 1 0 2 0 3 2 2 0 3 1 0 1 2 4 0 3 3 1 1 1 0 2 4 2 0 2 2 1 0 4 2 2 0 4-2 1 0 8-2 4 0 3-2 4 0 5-5 3-3 0zM160 380l-3 0-2-2-2 0-1 0-4 0-3-4-4-2-2 0-1 0-1 0-3 0-2-2-3 0-1 0-5 0-1-2 0-1 2-1 0-3 0-2 4-3 0-1 1-1 1 0 1 0 3-3 0-2 5-5 2 0 2-2 7-6 3 0 3-2 2 1 1 3 6 0 1 0 3 0 1 1 0 2 2 1 5 2 1 0-2 2 2 1 0 4 0 1 0 2 2 1 0 2 0 2 2 1-2 5-1 1-2-2-2 2-3 2-4 4-2 1 0 3-3 0zM185 346l-1 0 1-2 1 1zM183 350l-1-1-2-2 1-1 1 0 0 2 2 1zM186 366l0-1 0-1 0 1zM140 496l-2 0-3-2-1 0-3-2-2 0-2 2-2-2-4 0-2 0-1 2-14 0-4-4 0-1-6-7 0-2-2-3 0-2 2-2 0-1-2-2 0-2 2-2 0-1-2-1 0-1 1-1 3-1-2-2 0-3 2-1 0-2-2-1 0-2 2-2 1 2 3-1-2-1-5 0-3-2 2-2-1-2-1 2-2-1 0-1 0-3 0-1 0-2 5-2 2-2 1-1 0-5 2-2 0-7 4-2 0-2 1-1 1-1 2-3 1-2 3-2 2-2 2 0 2-1 0-2-2-1 1 0 3 0 2-2 2 1 0 3 3 0 1-2 1 0 2 2 2-2 2 0 2 2 4 0 1 2 5 0 7-4 4-1 0-2-2-4 0-1 1 0 2 2 1 0 1-2 1 0 2 1 0 2-4 1 0 2 2 0 2 2 0-1 3-3 1-1 0-2 1-1 1 0 2 0 0 3-2 1-2 1 4 1 0 1-2 1-1-2-1 2 4 0 4-4 3 0 1 2 0 1-1 1-2-2-1 2 2 0 2 2 0 2 2 1 1 1 1 1 0 3 0 1 0 2-2 2 4 3 5-2 1 2 0 2-2 2 0 1-2 2 0 4-2 1 0 2 2 2-2 2 0 2-2 0 0 2-4 4-3-2-1 4-2 2-2 0-1-2-4 4-2 0-1 1 2 2-2 1 2 2 1-2 2 0 2 0 1 1-2 2 3 3 1 0 0-2-2-2 3 0 1-2 0 1 2 6 2 1 4 1-2 1 2 3 1 1 3 1 0 2 0 2 2 4-2 2 4 3 0 2 4 0-2 1 0 3 2 1-4 1 2-2 0-1-2-1-1 0-1 3-3 3-2 0-2 2-3 0-1 0-2 0-1 0-4 2-3 0-1 0-6 0-1 0-7 0-1-2-2 0-2 2-6 0zM221 502l-1 0 0-2 0-1 0-2 2-1-2-1 0-3 0 3-3 3-5 0-1-2-3-1 0-2 0-1 2-1-1-1-4 2-1 0 2-1-2-1-3 0-1-2 0 3-2 1-4-4 0-2 2-4 2 4 2-1-2-2 2-5-2-1 4-1 2 2 0-4-1 0-1 1-1 1-2-2-1 0-2 2-1 0-1-1 2-2 2-1 0-2-3 0-1-2-2 1 2 2-3 3-1-1 2-3 0-4-2 0 0-2 1-2 1 0 0-1-2-3 0-2-2-4 2-2 0-3 0-1 2-5 0-1 0-5 2-2 0-5 0-1 0-2-4-3 2-1 0-2 1-1 1 1 0 1 0 2 2 2 1 0 3-2 0-2 2 2 3 0 1 2 4-2 2 0 4 0 1 0 4 0 1 0 5 0 1 0 2 0 2 1-2 1 2 2 2 0 1-2 5 0 2 2-2 1 0 2 2 2 0 5 3 0 3-2 8 0 2 2 2-2 0-2 2-2 0-2 4-1 2-2-2-1 0-2 2-1 0-2-2-1 2-2 1 2 1-2-2-4 2-2 2 2 1 0 2-2 2 0 3 2 2-2 2 0 2-2 1 0 1-2 2 0 1 2 5 0 3 2 6 4 2 0 2 2 1 0 2 2 0 2 1 2 1-2 2 2-2 2 0 2 0 1 0 8-2 1 0 3 2 3 2 0 2 1 0 2-2 2 4 3-1 2-2 0-5 6-2 0-4 3 0 2 0 5 1 2 1-2 2 1 0 7-2 2 2 3 0 3 2 3-5 5-3 2-7 6-2 0-2 0-8-4-5-5 0-1-2-2 0-2-2-4 0-8-2-2-2-2-2 0-3 2-3 0 0-2-2-2 0-3-4-1 0-2-2-2 6-4 0-2 0-7-2-3-5 6-2 0-2 0-1 4-2 2-2 1 2 1 0 2-2 3 2 3 1-2 1 1 0 2 0 1-1 2-1-2-2 2 4 0 2 2-4 1 3 1 1 1-3 1-2-2-1 3-2 1 2 2-1 2-2-2-2 0-1 2-5 0-1 4-2-1-1-3-1 0-2 2-2 0 0 2 2 1-2 3 0 2-2 1 1 1 3 1-2 1-2 0-2 2zM265 418l-1-1 1-1 1 1zM260 437l-1-1-1 1 1 1zM102 455l0-1-2 0 1 2zM76 464l-4-3 2-1 1 2 1-2 2 0 0 2zM90 464l0-1 0-1 0 1zM253 468l-1 0 0-2 2-1-4-1 1-2 5 2 0 2zM71 468l-1 0 0-2-2-1 0-1 1 0 3 2zM74 476l-2 0-2 0-2-2 3 0 1 0 0-1 0-1 0-2 3 0 1-4 4 0 0-2 3 0 1 2 0 1 0 2 0 2-2 1-2 0-1 0-5-2 0 1 0 1zM200 468l-3-2-1 0-2-2 0 2 3 0 2 2zM242 467l2-1-3 0-1 1 0 1zM68 470l-1 0-1-2 1-2 1 2zM202 472l0-2 0-1 0-1-1-2-1 5 0 1zM236 470l2-2-3 0-1 0 2 2zM82 470l0-2-4 1 1 1zM244 473l0-1 0-1 0-2 0-1-4 2 0 4zM66 472l0-2 0 1zM208 475l0-3-1-2-1 2 0 1 2 3zM228 478l2-2 0-1 0-3 2 2 0 2 2 0 0-2 0-1-1-1-3 0-1-2-1 2-2-2-2 0 0 2 2 1 0 2 0 2 2 1zM248 472l-1 0-1 0 1 0zM236 475l0-3 0 3 0 1zM79 476l-1-1 0-1 2 0zM227 474l-1 0 1 0 1 0zM240 479l0-2 0-2-1-1-3 3 0 1 1 0 2 0 1 1 0 1zM197 480l-3 0-1 0-2 0-1-2 2-2 2 2 2 0 2 1zM224 487l-2-2 2-1 2-1 0-3-3 0-1-2-1-2-1 0 0 2 1 2 1 0 0 1-2 4 2 3zM218 479l0-1-2 0 0 1 1 1zM204 483l2-1-1-2-3 1 0 2 1 1zM208 480l-2 0 1 0zM218 489l0-1 0-1 0-6-1-1-1 2-3 0-1-2-2 2 2 2 2 0 2 2-2 2 0 1 1 1zM208 483l0-1-2 0 2 2zM237 484l-1 0 1 0 1 0zM239 490l-2 0-3-2 3-2 1 0 2 1zM208 489l0-1-2 0 2 2zM233 494l-3 0 2-1-1-3-1 4-2-2 2-4 1 0 2 2 1 1 0 2zM220 490l-1 0-1 0 1 0zM216 494l0-1-1-1-3 0-2 1 2 1 2 0 1 0zM204 494l-2 0 0-1 0-1 2 2zM224 500l-2 0 1-2 1 2z" fill="#00da00" fill-rule="evenodd"/><path d="M303 396l-2-2-3 0-2-4-4-2-2 2-4 0-2 0 0-1-6-5-1 0-1 0-2-3-2-1 0-3 2-1-2-2 2-3 0-5 0-1 0-5 2-4 2 0 4-5 2-2 4-3 0-6 0-2 2 0 3-4 2 0 1 0 2 0 6 2 2 3 2 4 0 2 2 3 0 1 4 3 0 3 2 4 2 1 0 3 0 1 0 5-2 1 0 3-2 4 0 3-2 3 0 6-1 1-5 2zM160 380l-4 0-2-2-2 0-1-2-3 0-2-2-6-2-5 0-2-2-10 0-1-2 0-1 2-1 0-2 0-2 4-3 0-1 1-2 1 2 1-2 3-2 0-3 5-5 5-2 7-6 2 2 2-2 2 0 2 2 2 0 2 0 3 0 1 2 1-2 2 2 0 1 6 5 0 2 0 1 0 3 2 1 0 5 4 3-3 3-1 0-2 0-3 2-1 0-4 6-2 0-2 1 2 2 0 1-3-2zM160 394l0-1 0-3 2 2zM169 392l-2 0-1-1 3-1 1 1zM165 398l-1-1 0-1 1-2 1 1zM166 494l-6 0-1 0-6 0-3-2-3 0-1 2-6 0-2 0-2-2-3 0-2-2-3 0-2-2-1 4-4 0-2 0-1 2-14 0-8-10 0-1-2-2-2-4 0-2 2-2 0-2 0-1 1-2 3 0 4-4 0-3 0-1 10-5-3-1-2-2-1 2 0 2-2 0-1-2-2-2-4 0-1-1 0-1 4 2 2-3-6-4 2-1-1-2-3 0-1-2-3 0 0-1-2-2 1-1 2 0 7-4 0-5 2-2 0-5 0-1 0-2 4-3 0-2 4-4 0-2 1 0 2-2 2 0 2-2 1-2 1-2 1 0 1-2 1 0 0 3 3 1 2 0 2 0 2 2 3-2 3 2 4 0 1 0 4 0 1 0 2 0 4-2 4 0 2-2 1 0 4 2 3 0 4 2 1 0 1-2 2 0 1 2 1-2 2 0 3 3 0 2 2 1-2 1 2 2-2 2 0 3 1 2 2 0 1 0 2 0 1 0 3 0 0 2-6 5 0 5 0 1 0 1 0 2 0 2-4 3 0 2-2 1-2-2-1 0-1 2 0 3-2 1-2 0-1 0-2 0-2 2-3 0 0 2-2 0-2 3 2 1 0-1 0-1 1 0 1 1 2 2-2 1 2 2 2-1-2-1 1-2 2 2 1 0 0 2 1 0 2 2 1 0 0 1 3 3 1 0 3 2 1 0 2 2 0 2 2 1 0 3 2 2 0 3 4 3 0 1 4 1-2 1 0 3 2 1-4 1 2-2 0-1-2-1-1 0-1 3-2 2-3 1-2 2-4 0-1 0-1 0-2 0-1 0-2 0zM221 500l-1-1 0-2 2-1-2-1 0-3 0 3-3 3-5 0-1-2-3-1 0-2 0-1 2-1-1-1-4 2-1 0 2-1-2-1-3 0-1-2 0 3-2 1-4-4 0-2 2-4 2 4 2-1-2-2 2-5-2-1 4-1 2 2 0-1 0-3-1 0-1 2-1 0-2-2-4 2-1-1 2-2 2-1 0-2-3 0-1-2-2 1 2 2-3 3-1-1 2-3 0-4-2 0 0-2 1-2 5 0-6-4 0-3 0-1 0-3 0-1 0-2 2-1 0-2 2-4 0-3-2-1 0-2 4-2 0-2 0-2 0-2 1-1 1-1 2-3 2 1-2 1 2 2 6 0 1-2 4 0 1 0 9 0 1 0 2 0 1 2 3 0 1 0 7 0 0 1 0 2 4 3 0 5 0 1 2 0 3-2 10 0 2 2 1 0 0-2 0-1 0-2 4-1 0-2 4-3 2-4 0-2 2-2 0-2-2-2 0-1 3 0 1 2 3-2 5 0 1-2 2 2 3-3 0-2 1-3 1 4 3-2 2 0 4 4 2 0 2 0 1 4 3 0 5 4 0 2 2 0 0 1-1 1-3 1 1 1 1 0 0 9 0 1 0 3 4 7-2 1 2 1 1 0 1 2-7 6-2 0-5 5 0 2 0 1 0 2 0 2 3 2 1 1 0 5 0 1 2 4 0 3 2 2 0 1-2 1-1 0-1 2-3 2-6 4-4 2-4 0-4-2-3-2-1 0-1-2-2-3-4-6 0-8 0-1 0-2-4-2-2 0-4 0-1 2-1-2-2-3 0-2-2-1 0-2-2-2 4-2 2-1 0-7-2-1 0-2 0-1-1-2-2 0-5 6-3 0-1 5-4 2 0 2 0 2 0 1 0 2 0 2 1 0 1 0 2 0 0 1 0 1-1 2-1-2-2 2 3 0 1 1-2 2 3 1 1 1-3 1-2-2-1 3-2 1 2 2-1 2-2-2-2 0-1 2-5 0-1 4-2-1-1-3-1 0-2 2-2 0 0 2 2 1-2 3 0 2-2 1 1 1 3 1-6 3zM294 412l-1 0-1 0 1 0zM239 426l-1 0 1 0 1 0zM97 458l-1-2 2-2 2 1 0 1zM76 464l-4-3 2-1 1 2 1-2 2 0 0 2zM264 461l-1-1-1 1 1 1zM244 461l-1-1-3 1 1 1zM71 468l-1 0 0-2-2-1 0-1 1 0 3 2zM74 476l-2 0-2 0-2-2 3 0 1 0 0-1 0-1 0-2 3 0 1-4 4 0 0-2 3 0 1 2 0 1 0 2 0 2-2 1-2 0-1 0-5-2 0 1 0 1zM200 468l-2-1 2-1-1 0-3 0-1-2-1 0 0 2 3 0 2 2zM236 470l0-1 2-1 3 0 2-2 1-1 0-1-2 0-2 0-1 0-2 0-2 2-2 0-1 1 1 1 1-2 2 4zM238 466l0-1 1-1 1 1zM202 472l0-2 0-1 2-1-2-2-1 0-1 0 0 5 0 1zM252 468l0-1 2-1 0 1zM68 470l-1 0-1-2 1-2 1 2zM82 470l0-2-4 1 1 1zM244 473l0-1 0-1 0-2 0-1-4 2 0 4zM228 478l2-2 0-1 0-3 2 2 0 2 2 0 0-2 0-1-1-1-3 0-1-2-2 2-2-2-1 0 0 2 2 1 0 2 0 2 2 1zM66 472l0-2 0 1zM208 475l0-4-1-1-1 2 0 1 2 3zM248 472l-1 0-1 0 1 0zM220 474l0-2 0 2zM236 475l0-3 0 3 0 1zM79 476l-1-1 0-1 2 0zM227 474l-1 0 1 0 1 0zM212 476l0-1 0-1-1 2-1-2 0 1 1 1zM240 479l0-2 0-2-1-1-3 3 0 1 1 0 2 0 1 1 0 1zM197 480l-3 0-1 0-2 0-1-2 2-2 2 2 2 0 2 1zM224 487l-2-2 2-1 2-1 0-3-3 0-1-2-1-2-1 0 0 2 1 2 1 0 0 1-2 4 2 3zM218 479l0-1-2 0 0 1 1 1zM204 483l2-1-1-2-3 1 0 2 1 1zM208 480l-2 0 1 0zM218 489l0-1 0-1 0-6-1-1-1 2-3 0-1-2-2 2 2 2 2 0 2 2-2 2 0 1 1 1zM208 483l0-1-2 0 2 2zM237 484l-1 0 1 0 1 0zM239 490l-2 0-3-2 3-2 1 0 2 1zM208 489l0-1-2 0 2 2zM233 494l-3 0 2-1-1-3-1 4-2-2 2-4 1 0 2 2 1 1 0 2zM220 490l-1 0-1 0 1 0zM216 494l0-1-1-1-3 0-2 1 2 1 2 0 1 0zM204 494l-2 0 0-1 0-1 2 2z" fill="#00bf00" fill-rule="evenodd"/><path d="M304 392l-1 0-2-2-5-2-1 0-6 0-1-2-3 0-2 0-5-6-1 0-1-1 0-14 0-1 0-3 2-1 0-2 10-10 0-2 0-6 5-4 2-2 3 0 6 4 2 1 2 4-2 2 0 4 6 6 0 1 2 2 2 4 0 6 0 1 0 3-2 1 0 2-4 10 0 3-2 0zM158 380l-20-10-3 0-3-2-5 0-1 0-2 0 2-1-2-2 2-3 2 1 0 1 0-4 4-3 4-6 3-3 3-2 2-2 4-2 3-2 2 0 2-2 1 0 2 2 5 0 1 2 2 0 2 0 6 7 2 2 0 3 0 1 0 4 2 1 0 2-2 2-5 6-1 0-1 2-3 0-6 6zM119 400l-1 0 1 0 1 0zM163 494l-2 0-1 0-7 0-2-2-3-2-2 0-4 2-3 0-1 0-3 0-1-2-2 0-4-2-2 0-1 4-2-2-1 2-2 0-2 2-3 0-1 0-6 0-1 0-2 0-2-2-1-1-4-5 0-1-4-5 0-5 2-4-2-1 5-2 4-4 3 0 2-3 6-6 0-1-1-2-9-4-2-1 0-3-2 0-2-4-1 0-1-1 0-2 2-2 0-3 2-1 0-5 0-1 0-3 2-1 0-2 0-2 4-3 0-2 2-2 0-3 1-1 2 0 2-2 4 0 3-4 2 0 1 2 2 0 2-2 2 2 5 0 1 0 4 0 1 2 4 0 1-2 3 0 1 0 2 0 1-2 6 0 6 4 3 0 1 0 6 0 2 2 2 1 0 2 0 1 0 5 2 1 3 0 1 2 0 1 2 2-2 3 0 8-2 2-4 0-1 2-4 2-1 6-1-2-5 2-14 6-2 2 2 2 1 0 2-2 2 0 1 0 2 0 1 0 3 1-4 2 2 1 1-2 1 2 2-2 2 3 2 3 3 4 3 0 2 3 2 2 0 2 2 1 1-2 1 2 2 2 0 3 4 3 0 1 4 1-2 1 0 3-1-2-2 0-1 3-3 3-3 0-1 0-5 0-1 2-3 0-4 2-4 0zM177 402l-1 0 1 0 1 0zM295 410l-1-1 1-1 1 1zM296 496l-7 0-2 0-5-6-4-6 0-2 0-1 0-10-2-1-2 0-1-2-4 0-2-2-1 1-1 1-1 0-2-1 0-2 4-1-2-2 2-1 0-9-2-1 0-3-2-4 0-10 10-8 2-4 0-2 4-6 2 0 2 2 1 0 2 0 2-2 2 0 1 0 9-2 1 3 1 1 5 0 2 4 1 0 1 1 0 2 0 4 0 1 0 8 0 1 2 6 0 3 2 4-2 2-1 0-5 4 0 1-2 3-2 2 0 2 0 1 2 2 0 3 4 3-2 1 0 2 2 1 0 3 2 2-2 1 2 3-2 0-3 4-1 0-3 4-1 0zM188 418l-2 0 1-2 1 1zM221 500l-1-1 0-2 2-1-2-1 0-3 0 3-3 3-4 0-5-4 0-2 1 0 1-1-1-1-3 2-2-2-3 0-1-2-1 2-2 0-3-2 0-2 2-4 2 4 2-1-2-2 2-5-2-1 4-1 2 2 0-4-1 0-1 1-1 1-2-2-1 0-2 2-1 0-1-1 2-2 2-1 0-2-3 0-1-2 0-1-4-2 1-1 2-2 1 4 3 0 2 2 1 0-2-1 2-1-1-2-2 2-1-1-2-2 2-1 0-1-2-1-2-6 0-5 2-6 0-1 0-4-2-1 0-2 2-1 1 0 5-6 2 0 6 0 4-2 5 0 1-2 1 2 4 0 6 2 7 2 4 3 0 4 2 3 3-2 2-2 3 0 1 0 6 2 3 2 0 3-6 5-3 2-1 1-2 3-1 0-2 2-3 0-4 4 2 2 3 0 2-2 1 0 0 2 0 2 0 2 1 0 1 0 2 0 0 1 0 1-1 2-1-2-2 2 4 1-2 1 1 2 3 0-2 2-3-2-1 3-2 2 0 1 0 2-1-2-2 0-1 2-5 0-1 4-2-1-1-3-1 0-2 2-2 0 0 2 2 1-2 3 0 2-2 1 1 1 3 1-6 3zM179 440l-1-1 0-1 2 0zM165 454l-1 0 1 0 1 0zM76 464l-4-3 2-1 1 2 1-2 2 0 0 2zM236 470l0-1 2-1 3 0 2-2 1-1 0-1-2 0-2 0-4-2-2 2 1 0 1 2-1 0-2 0-1 1 1 1 1-2 2 4zM71 468l-1 0 0-2-2-1 0-1 1 0 3 2zM74 476l-2 0-2 0-2-2 3 0 1 0 0-1 0-1 0-2 3 0 1-4 4 0 0-2 3 0 1 2 0 1 0 2 0 2-2 1-2 0-1 0-5-2 0 1 0 1zM202 472l0-2 0-1 2-1 0-1-2-3-2 2 0 5 0 1zM252 468l0-1 2-1 0 1zM68 470l-1 0-1-2 1-2 1 2zM228 468l0-2 0 2zM218 469l2-1-1 0-1 1 0 1zM82 470l0-2-4 1 1 1zM208 475l0-5 1 0 1 0 0-2-1 0-3 4 0 2 2 2zM244 473l0-1 0-1 0-2 0-1-4 2 0 4zM214 471l0-1 0 1 0 1zM228 478l2-2 0-1 0-3 2 2 0 2 2 0 0-2 0-1-1-1-3 0-1-2-2 2-2-2-1 0 0 2 2 1 0 2 0 2 2 1zM66 472l0-2 0 1zM193 472l-1-1 1-1 1 1zM248 472l-1 0-1 0 1 0zM220 474l0-2 0 2zM236 475l0-3 0 3 0 1zM79 476l-1-1 0-1 2 0zM212 476l0-1-1-1-1 0 0 1 1 1zM227 474l-1 0 1 0 1 0zM216 475l0-1-2 1 1 1zM240 479l0-2 0-2-1-1-3 3 0 1 1 0 2 0 1 1 0 1zM197 480l-3 0-2 0 0-3 1-1 1 2 2 0 2 1zM224 487l-2-2 2-1 2-1 0-3-3 0-1-2-1-2-1 0 0 2 1 2 1 0 0 1-2 4 2 3zM218 479l0-1-2 0 0 1 1 1zM204 483l2-1-1-2-3 1 0 2 1 1zM208 480l-2 0 1 0zM218 489l0-1 0-1 0-6-1-1-1 2-3 0-1-2-2 2 2 2 2 0 2 2-2 2 0 1 1 1zM208 483l0-1-2 0 2 2zM237 484l-1 0 1 0 1 0zM238 488l-1 0-1-1 1-1 1 0zM191 488l-1 0 1-2 1 1zM208 489l0-1-2 0 2 2zM235 488l-1 0 1 0 1 0zM232 494l-1-4-1 4-2-2 2-4 1 0 1 2zM220 490l-1 0-1 0 1 0zM216 494l0-1-1-1-3 0-2 1 2 1 2 0 1 0z" fill="#00a700" fill-rule="evenodd"/><path d="M304 386l-5 0-1 0-8 0-1-2-2 0-2 0-5-5-2-4 0-2 0-1 0-7 0-1 0-3 2-4 10-8 0-9 3-4 2 0 3 0 1 0 2 0 2 2 1 1 0 1 2 2 0 3-2 4 6 7 0 1 4 3 0 2 0 9-2 6-2 2-2 3-2 2 0 1zM160 378l-3 0-1-2-4 0-2-2-2 0-4-2-2-2-8-4-3 0-1-1 0-2 0-2 4-5 2-5 4-3 14-8 2 0 1 2 5 0 1 0 2 0 4 2 5 5 0 2 0 3 2 1 0 8-10 9-4 2zM166 494l-6 0-1-2-7 0-4-4-2 0-1 0-2 0-1 0-9 0-3-2-4 0-2 4-2 0-2 2-4 2-10 0-4-4 0-1-6-7-2-2 0-5 2-1 0-2 4-4 7-2 6-8 3 0 2-3 0-1-10-6-4-4-2-2 0-2 0-1 0-6-2-1 0-6 2-1 0-2 0-1 0-2 2-2 4-4 0-1 2-3 0-1 2-1 3-2 1-2 4-2 2 2 18 0 1 0 2 0 1 0 4 0 1-2 4 0 1 0 2 0 1 0 3 0 4 4 2 0 2 0 1 2 2 0 2 2 1 0 2 5 1 1 1 0 6 6-2 1 0 3 0 1 0 2 0 3-2 0-4 0-4 4 0 3-3 3-2 0-2 0-1 2-2 0-9 4-2 0-1 2 0 1 0 2 2 1 3-2 2 0 3 0 2 2-1 0-5 0 0 1 4 1 2 2 1-4 3 5 0 1-2-2 0 1 0 1 2 2 1 0 7 6 2 2 2 0 2 2 2 2 3 0 1 4 4 3 0 1-2 2 0 2-3 2-2 0-1 2-5 0-1 0-3 0-1 2-2 0zM109 408l-1-1 1-1 1 1zM295 496l-5 0-2-2-2-2-1 0-1-1-2-3-2-4 0-2-2-1 0-12-2-3-3 0-1 0-2 0-1 0-1-1 0-12-2-1 0-3 0-1 0-2-2-1 0-7 2-4 8-9 0-1 5-4 8 0 1-2 3 0 1 0 5 0 1-2 3 2 3 2 4 3 0 2 0 1 0 1 0 14 2 3 0 3 2 1-10 11-2 4 0 3 4 4 0 2 0 2 2 1 0 3 0 1 0 6 0 2-7 7zM223 496l-1 0-2-1 0-3 0 3-2 1-1 0-3 0 0-2 1 0 1 0 0-1-1-1-3 0-1 0-2-2-2 0-1 0-4 0-2-2-2-1 2-2-2-2 2-5-2-1 1-1 3 0 1 2 1-1 0-3-1 0-1 2-1 0-2-2-1 0-2 2-2-1 2-2 2-1 0-2-2-2 1 0 2 0 1 0-2-1 2-2-2-1-1 2-1-2 2-3-2-2 0-2-2-2 0-6 0-1 0-3 2-2-2-1 0-4-2-1 0-2 2-1 1 0 4-4 1 0 1 0 5 0 1-2 3 0 1 0 3 0 1-2 5 0 4 2 3 0 1 2 4 0 1 0 2 0 2 2 2 0 1 2-2 1 0 2 2 1-2 2 2 2 1 2 2 0 1-3 3-3 2-2 4 0 2 2 3 4 0 2-4 4-2 0-3 0-1 2-1-2-1 1 0 4-2 1-3 0-3 5 0 1 2 2-1 2-2 0-2-2-1 0 0 2 1 0 1 2-1 0-2 0-1 1 1 1 1-2 2 4 2-2 3 0 2-2 2-2 1 2 0 2 2 1-2 1 2 1-1 1-1 1-1 1-4 4-1-1 0-2-1-1-3 3 0 1 1 0 2 0 1 2-1 2-4 0-1 2-1 2-1-1-1-3-1 0-2 2-2 0 0 2 2 1-2 3 0 2-2 1 0 2zM76 464l-4-3 2-1 1 2 1-2 2 0 0 2zM198 463l0-1 0 1 0 1zM71 468l-1 0 0-2-2-1 0-1 1 0 3 2zM74 476l-2 0-2 0-2-2 3 0 1 0 0-1 0-1 0-2 3 0 1-4 4 0 0-2 3 0 1 2 0 1 0 2 0 2-2 1-2 0-1 0-5-2 0 1 0 1zM202 472l0-2 0-1 2-1 0-1-2-3-2 2 0 5 0 1zM208 475l0-5 1 0 1 0 0-1 2-1 1 0 1 4 0-3 2-1 0-2-1 0-3 0-1 0-3 2 0 1-2 3 0 2 2 2zM218 469l2-1-1-2-1 2 0 1 0 1zM228 468l0-2-1 0-1 1 2 1zM68 470l-1 0-1-2 1-2 1 2zM250 468l-2 0 1-2 1 2zM82 470l0-2-4 1 1 1zM244 473l0-1 0-1 0-2 0-1-4 2 0 4zM228 478l2-2 0-1 0-3 2 2 0 2 2 0 0-2 0-1-1-1-3 0-1-2-2 2-2-2-1 0 0 2 2 1 0 2 0 2 2 1zM66 472l0-2 0 1zM220 474l0-2 0 2zM236 475l0-3 0 3 0 1zM79 476l-1-1 0-1 2 0zM212 476l0-1-1-1-1 0 0 1 1 1zM227 474l-1 0 1 0 1 0zM216 475l0-1-2 1 1 1zM224 487l-2-2 2-1 2-1 0-3-3 0-1-2-1-2-1 0 0 2 1 2 1 0 0 1-2 4 2 3zM197 480l-1 0-2-1 1-1 1 0 2 1zM218 479l0-1-2 0 0 1 1 1zM204 483l2-1-1-2-3 1 0 2 1 1zM208 480l-2 0 1 0zM218 489l0-1 0-1 0-6-1-1-1 2-3 0-1-2-2 2 2 2 2 0 2 2-2 2 0 1 1 1zM208 483l0-1-2 0 2 2zM192 484l0-1 0-1 0 1zM196 484l0-1 0-1 0 1zM197 486l-1 0 1-2 1 1zM208 489l0-1-2 0 2 2zM220 490l-1 0-1 0 1 0zM230 492l-2 0 1-2 1 2zM221 498l-1-1 1-1 1 1z" fill="#009f33" fill-rule="evenodd"/><path d="M297 384l-4 0-1-2-3 0-7-6 0-1-2-2 0-11 2-4 4-4 1 0 2-2 1 0 2-2 2 0 0-1-4-3 0-5 2-3 4-2 5 2 3 3 2 3-2 2-2 2-2 1 0 1 12 12 0 2 2 1 0 2-2 1 0 3-2 4 0 1-6 6-2 0-4 0zM159 376l-2 0-1 0-4 0-8-4-2-2-3-2-5-4 0-5 4-8 2-3 3 0 2-2 4-2 2 0 1-2 9 0 1 2 3 0 4 2 3 3 2 2 0 2 0 1 0 8 0 2-8 8-6 2zM167 492l-10 0-1 0-4 0-7-6-12 0-1-2-6 0-6 6-4 2-10 0-2-2-2 0 0-2-4-4-2-4 0-6 4-4 6-4 2 0 2 0 4-4 0-1 1-1 2-2 4-2 1 2 2-2-2-4-3 0-3-2-2 0-8-5-2-4 0-5-2-4 0-8 2-1 0-2 6-7 0-1 1-1 3-4 1 0 3-2 2-2 21 0 2 2 1-2 6 0 1 0 7 0 6 2 2 2 1 0 3 4 2 3 3 3 5 2 2 2 0 3-2 2 0 1 2 2-2 2-1 0-2-2-7 6 0 1-2 3-6 2-2 0-12 6-2 3 4 1 2 2 2-2 2 4 4 0 0 3 8 8 1 1 2 2 3 0 1 0 2 0 5 4 2 0 2 2 0 2 2 3-2 5-1 2-2 0-4 0-1 2-3 0-1 0-2 0-1 2-3 0zM293 494l-2 0-4-2-5-5-2-4 0-3 0-1 0-5 0-1 0-7-1 0-2-2-3-2-2-1-2-4 0-2-2-3 0-3-2-4 0-9 13-12 2 0 1-2 20 0 4 3 0 13 0 1 0 4 2 1 0 5-4 4-2 6-4 4 0 2 4 5 2 4 0 2 0 1 0 8 0 2-6 5-2 2-2 0zM222 490l-2 0-1 0-1 0-2 0 2-2 0-1 0-6-1-1-1 2-3 0-1-2-2 2 2 2 2 0 2 2-2 2 0 2-2-2-2 0-1 0-3 0-4-2-2-4 0-4-2-1 1-1 3 0 1 2 1-1 0-3-1 0-1 2-1 0-1-2 0-2 2 0 0-2 0-1 2-1 0-1-2-2 0-2 0-2-2-2 0-1-4-4 0-9 2-1-2-2-2 0 0-4-2-1 0-2 2-1 1 0 4-4 1 0 1 0 5 0 1-2 3 0 1 0 4 0 2-2 1 2 4 0 1 0 9 2 1 0 2 0 2 2 3 1-2 2 0 2 2 1-2 2 0 3 2 6-2 6-4 4 0 2 0 1 0 2 0 1-2 1 1 2 1-2 0 1 2 3 1 0 1 1 0 4-2 2 0 2-1 1-1 0-2 2-2 0-2 2-2 0 0 2 2 1-2 1zM251 448l-3 0-2-2-2-2 0-2 2-2 3-2 4 0 3 2 0 4-2 2-2 0zM144 455l2-1-2-2-2 2 0 1 1 1zM158 458l-1-2-1 1 2 1zM76 464l-4-3 2-1 1 2 1-2 2 0 0 2zM71 468l-1 0 0-2-2-1 0-1 1 0 3 2zM74 476l-2 0-2 0-2-2 3 0 1 0 0-1 0-1 0-2 3 0 1-4 4 0 0-2 3 0 1 2 0 1 0 2 0 2-2 1-2 0-1 0-5-2 0 1 0 1zM208 475l0-5 1 0 1 0 0-1 2-1 1 0 1 4 0-3 2-1 0-2-1-2-4 0-1 2-4 6 0 2 2 2zM228 468l0-3 2-1-1 0-3 1 2 3zM218 469l2-1-1-4-1 3 0 1 0 1 0 1zM224 465l0-1-2 1 0 1zM68 470l-1 0-1-2 1-2 1 2zM82 470l0-2-4 1 1 1zM228 478l2-2 0-1 0-3 2 2 0 2 2 0 0-2 0-1-1-1-3 0-1-2-2 2-2-2-1 0 0 2 2 1 0 2 0 2 2 1zM66 472l0-2 0 1zM220 474l0-2 0 2zM236 475l0-3 0 3 0 1zM79 476l-1-1 0-1 2 0zM212 476l0-1-1-1-1 0 0 1 1 1zM227 474l-1 0 1 0 1 0zM216 475l0-1-2 1 1 1zM224 487l-2-2 2-1 2-1 0-3-3 0-1-2-1-2-1 0 0 2 1 2 1 0 0 1-2 4 2 3zM218 479l0-1-2 0 0 1 1 1zM204 483l2-1-1-2-3 1 0 2 1 1zM208 480l-2 0 1 0zM208 483l0-1-2 0 2 2z" fill="#00aa8d" fill-rule="evenodd"/><path d="M301 348l-6 0-2-2-1-2 0-2 0-2 3-2 5 0 2 2 2 1 0 4zM155 374l-2 0-3 0-4-2-2-2-3-2-5-5 0-6 2-4 5-5 6-4 2 0 1 0 8 0 1 0 4 0 2 2 5 5 0 2 2 1 0 7-2 4-6 5-6 4-4 0zM298 380l-6 0-2 0-6-6 0-2 0-2-2-1 0-3 2-1 0-3 0-2 4-4 4-2 2 0 1 0 3 0 4 2 8 7 0 2 0 1 0 2 0 2-4 4 0 1-5 5-2 0zM163 492l-1 0-6 0-4-2-6-5 0-1-1-2-13 0-1 0-4 0-1 1 0 1-6 6-4 2-3 0-1 0-3 0-1 0-2 0-2-2-1 0-5-6-2-4 0-5 4-5 1 0 2-2 2 0 1 0 2 0 4-2 2 0 4-4 7-4 2-2 3 0 1 2 6 0 1-1-2-1-5 0-1 0 2-2-1-2-2 2-3-2-4 0-1-2-3 0-6-2-4-5 0-2-2-1 0-4 0-1-2-5 0-1 0-2 0-1 0-3 4-4 7-7 1 0 2-2 4-2 3 0 1-2 6 0 1 0 6 0 1 0 6 0 1 0 6 0 2-2 1 2 3 0 4 2 1 0 4 4 2 6 6 5 0 3-2 2-2 3-2 3-4 4 0 1-1 1-4 0-1 2-2 0-12 6-2 2-3 0-1 2 4 1-2 1-1 0-1 0 2 4 1 0 1-2 2-2 5 0 1 0 3 0 2 2 1 0-1 0-3 2 5 4 1-2 0 2 6 6 2 2 2 0 1 0 3 0 6 4 6 4 0 2 2 2 0 1-6 5-3 0-1 0-2 0-1 2-5 0-1 2-5 0zM294 492l-4 0-2 0-4-4-2-4 0-2 0-1 0-9 2-4 2-3-2-1-6-4-4-3 0-1-2-2-2-4 0-2 0-1 0-4-2-1 0-3 2-1 0-2 4-4 0-1 1-1 3-2 4-2 8 0 1 0 3 0 4 2 2 2 1 0 3 5 0 5 0 1 0 8 0 1 0 2-4 4 0 1-8 7 8 6 2 6 0 9 0 2-5 5-2 0zM219 486l-1 0 0-5-1-1-1 2-3 0-1-2-2 2 2 2 2 0 2 1-5 1-3-2 0-2-2 0 0-2-1 0-1 0-2-1 0-1 2-1 0-3-2-1 2-1 0-2 0-2 5-4 1 0 0 2-4 6 0 1 2 3 1-6 1 0 0-1 2-1 1 0 1 4 0-3 2-1 0-2 0-1 0-2 0-1-3 2-2 0-1-1 2-2-1-1-2 0-1 0-3-2-1 0-2-3-2-4 0-5-2 0-2-4-2 0 0-4-2-2 7-6 1 0 1 0 5 0 1-2 3 0 1 0 4 0 2-2 1 2 4 0 1 0 9 2 1 0 2 0 2 2 3 1-2 2 0 2 2 1-2 2 0 2-2 1 2 2-2 2 0 4-4 6-2 2 0 3-1 0-1 0-2 3 2 3 0-3 2-1 2 7-2 1-1-2-2 2-2-2-1 0 0 2 2 1 0 2 2 3 2-2 0-1 0-3 2 2 0 2 0 1-5 5-1-2-3 0-1-2-1-2-1 0 0 2 1 2 1 0 0 1-2 2zM253 446l-5 0-2-2 0-3 3-3 4 0 3 3 0 2zM158 458l0-1 0-1 0 1zM150 458l-1 0-1 0 1 0zM159 460l-1-1 1-1 1 0zM76 464l-4-3 2-1 1 2 1-2 2 0 0 2zM222 462l-2 0 1 0zM71 468l-1 0 0-2-2-1 0-1 1 0 3 2zM74 476l-2 0-2 0-2-2 3 0 1 0 0-1 0-1 0-2 3 0 1-4 4 0 0-2 3 0 1 2 0 1 0 2 0 2-2 1-2 0-1 0-5-2 0 1 0 1zM218 469l2-1-1-4-1 3 0 1 0 1 0 1zM224 465l-1-1-1 0 0 2zM68 470l-1 0-1-2 1-2 1 2zM82 470l0-2-4 1 1 1zM66 472l0-2 0 1zM220 474l0-2 0 2zM79 476l-1-1 0-1 2 0zM212 476l0-1-1-1-1 0 0 1 1 1zM227 474l-1 0 1 0 1 0zM216 475l0-1-2 1 1 1zM218 479l0-1-2 0 0 1 1 1zM208 480l-2 0 1 0zM207 484l-1-1 1-1 1 1zM225 484l-1 0 1 0 1 0zM223 486l-1-1 1-1 1 1z" fill="#00aaa5" fill-rule="evenodd"/><path d="M298 346l-3 0-1-2 0-2 3-2 3 0 2 2 0 3-3 1zM158 372l-7 0-8-4-5-5-2-2 0-3 2-1 0-2 0-2 4-3 1 0 2-2 4-2 3 0 1-2 6 0 1 2 4 0 4 2 2 2 2 4 0 7-2 4 0 1-6 4-2 2-3 0zM296 378l-2 0-4-2-4-5 0-7 2-2 3-4 2 0 6 0 2 0 3 4 2 2 0 6-2 2-3 4-2 0-2 0zM134 450l-13 0-1-2-2 0-4-2-4-4 0-2-2-1 0-4-2-4 0-6 2-2 9-9 10-6 3 0 1 0 20 0 1-2 4 0 1 2 2 0 7 5 2 6 0 2 4 3-2 1 0 3 0 1 0 1 0 2 0 2-2 2-2 3-1 1-7 0-4 4-3 0-1 0-2 0-7 4-6 0zM218 460l-2-2-3 0-4-2-3-3-2-5-2 0 0-2-2 0-2-3-2-4 0-3-2-1 1-1 2 0 3-2 2-2 3 0 1 0 4 0 1-2 11 0 1 2 3 0 1 0 2 0 1 2 2-2 4 5 0 6-2 4-4 3 0 2-2 4-2 2-4 2-3 0zM291 460l-6 0-4-2-5-4-2-6-2-5 0-1 0-5 1-1 4-4 6-4 7 0 6 4 6 5 2 2 0 2 0 1 0 4-4 3 0 3 0 2-5 4zM252 444l-2 0-2-1 0-2 2-1 2 0 2 1 0 2zM165 492l-4 0-1-2-3 0-1 0-2 0-2-2-4-3 0-2 0-2-2-1-14 0-1-2-4 0-1 2-4 6-4 4-2 0-2 0-1 2-4 0-1-2-2 0-4-3 0-1-2-2-2-4 0-5 4-5 4-2 2 0 1 0 5 0 1-2 4 0 4-2 4-2 2 0 4-4 2 0 2 0 1 0-2-2 1 0 2 0 1-2 2 4 1 0 2-4 2 2 4 0 3 2-2 4 2 2 1 0 5 4 2 0 4 2 4 0 4 2 2 0 4 4 1 0 3 2 0 5-4 3-2 2-2 0-1 0-2 0-1 2-2 0-1 0-3 0zM148 461l-2-1 0-2-1 0-2 0-1 2-1 0-1-2-2 1 0 1 3 2 6 0zM152 462l-2-1 0-2-1-1-1 1 2 2 0 1zM76 464l-4-3 2-1 1 2 1-2 2 0 0 2zM71 468l-1 0 0-2-2-1 0-1 1 0 3 2zM74 476l-2 0-2 0-2-2 3 0 1 0 0-1 0-1 0-2 3 0 1-4 4 0 0-2 3 0 1 2 0 1 0 2 0 2-2 1-2 0-1 0-5-2 0 1 0 1zM220 482l-2 0-1-2-1 2-3 0-1-2-1 2-5-5 0-2 1-1 1 2 0-1 0-5 1 0 1 0 0-1 2-1 1 0 1 4 0-3 2-1 1-2 1 0 0 2 0 2 2-4 3 0 5 4-1 2-2-2-1 0 0 2 2 1 0 2 2 3-2 2-3 0-1-2-1-2-1 0 0 2 2 2 0 1zM68 470l-1 0-1-2 1-2 1 2zM82 470l0-2-4 1 1 1zM294 490l-4 0-4-4-2-4 0-9 4-5 6 0 2 2 2 2 2 4 0 8-3 4zM66 472l0-2 0 1zM220 474l0-2 0 2zM79 476l-1-1 0-1 2 0zM212 476l0-1-1-1-1 0 0 1 1 1zM227 474l-1 0 1 0 1 0zM216 475l0-1-2 1 1 1zM218 479l0-1-2 0 0 1 1 1z" fill="#009fcb" fill-rule="evenodd"/><path d="M298 344l0-1 0-1 0 1zM156 372l-3 0-1-2-5 0-2-2-1 0-6-6 0-6 2-2 4-4 1 0 2-2 2 0 1-2 3 0 1 0 3 0 1 0 5 0 1 2 2 0 4 4 0 2 2 1 0 5-2 4-5 4-4 2-4 0zM298 372l-4 0-2 0-2-3 0-4 4-3 4 0 4 4 0 2-2 2zM126 448l-4 0-1-2-2 0-4-2-3-4 0-3-2-1 0-3 0-1 0-6 2-2 0-1 8-9 6-2 5-2 1 0 26 0 6 5 0 2 0 2 2 1 6 4-2 2 0 3 0 1 0 2 0 2-2 2-2 3-1 1-7 0-4 4-3 0-1 0-2 0-1 2-3 0-1 0-2 0-1 0-1 0-12 0zM219 454l-4 0-4-2-4-6-5-2-4-3 0-2 0-2 2-3 4-2 2 0 1-2 4 0 1 0 9 0 1 0 3 0 1 2 2 0 4 2 2 1 0 2 0 3 0 2-2 2-4 1-2 3 0 1-2 2-1 1zM291 456l-5 0-2 0-4-5 0-1-2-2-2 0-4-3 0-2 0-1 0-5 0-1 1 0 3-2 3 0 1-2 4 0 1 0 1 0 5 0 1 2 6 0 4 3 2 2 0 2 0 1 0 4zM251 442l-1 0 1 0 1 0zM145 458l-3 0 3 0 1 0zM138 476l-2-2-4 0-4-2 0-3 4-3 12 0 4 3 0 2-2 3-2 0-5 0zM73 472l-1-2 3 0 1-4 2 0 2 2-2 1 0 1-4 0zM111 490l-1 0-3 0-2-2-5-4 0-2 0-2-2-1 0-2 2-2 4-5 2 0 3 0 1-2 7 0 1 2 2 0 4 3 0 6 0 1 0 2-5 6-4 2-3 0zM219 478l-1 0-2 0-4-2 0-2 1-2 2-2 2 0 1 0 1 0 2 0 3 3 0 2-2 1-2 0zM166 490l-6 0-1 0-2 0-4-2-3-4 0-5 0-2 7-5 2 0 1-2 5 0 1 2 3 0 1 0 5 2 7 5 0 4-3 3-4 2-2 0-3 2-3 0zM294 488l-4 0-2-3-2-2 0-2 0-1 0-3 0-1 0-2 3-2 4 0 2 0 1 2 2 4 0 4 0 1 0 2zM220 474l0-2 0 2zM216 475l0-1-2 1 1 1z" fill="#008ddd" fill-rule="evenodd"/><path d="M159 370l-8 0-1-2-2 0-2-2-1 0-5-4 0-2 0-2 0-1 0-2 2-2 1-1 1 0 2-2 4-2 14 0 4 3 2 2 0 3 0 1-2 6-4 5-2 0-2 0zM143 446l-2 0-3-2-3 0-1 0-9 0-1 0-1 0-3 0-2-2-2-2 0-2-2-1 0-3 0-1 0-5 6-10 1 0 2-2 6-2 2 0 1-2 3 0 1 0 8 0 1 0 11 0 16 12-2 2 0 3 0 1 0 2 0 2-2 2-2 3-1 1-7 0-4 4-3 0-1 0-2 0-1 2-3 0zM220 446l-7 0-4-2-2 0-4-2-1-1-2-2 0-2 4-3 2-2 2 0 1 0 4 0 1-2 5 0 1 2 4 0 4 2 4 3 0 3-3 2-4 2-2 0zM291 454l-1-2-2 0-1 2-4-2-3-4-3 0-3-3 0-2 0-3-2-1 5-5 3 0 4-2 2 0 1 2 7 0 1 0 2 0 2 2 3 2 0 2 0 1 0 2 2 2-7 5zM114 488l-6 0-2 0-4-5-2-2 0-4 2-2 3-3 2 0 1-2 9 0 5 4 0 2 0 4-2 4-2 2zM165 490l-4 0-1-2-5 0-3-4 0-5 5-5 2-2 9 0 1 2 2 0 4 2 3 3 0 4-2 3-4 2-2 0-1 0-3 0zM292 482l-2-1 0-2 2-1 2 1 0 2z" fill="#0067dd" fill-rule="evenodd"/><path d="M155 368l-2 0-3 0-4-2-4-4 0-2 0-3 0-2 5-5 2 0 2 0 4-2 9 0 4 3 0 9 0 2-5 4-2 2-5 0zM142 444l-3 0-1 0-7-2-4-2-3 0-4-5 0-7 2-6 3-2 6-4 2 0 1 0 8 0 1-2 10 0 1 0 2 0 3 2 1 0 2 3 1 1 1 0 4 5 0 3 2 1-2 5-1 0-4 4-3 0-6 4-2 0-1 0-3 0-1 2-4 0zM221 444l-10 0-1-2-2 0-4-3 0-2 3-3 2 0 2 0 1-2 9 0 1 2 2 0 3 2 1 2-2 4-2 0-2 0zM293 450l-7 0-4-2-4-5 0-3 0-2 5-2 4 0 1-2 1 2 5 0 2 0 4 4 0 4-5 4zM114 486l-6 0-4-3-2-2 0-4 5-5 2 0 1 0 3 0 1 0 2 0 2 2 2 1 0 2 0 1 0 2 0 2-4 4zM168 488l-8 0-1-2-2 0-3-3 0-3 2-2 0-2 6-2 7 0 4 2 3 3 0 4-5 3-2 0z" fill="#0009dd" fill-rule="evenodd"/><path d="M158 366l-6 0-4-2-4-3 0-2 0-2 3-5 3 0 5-4 9 0 4 3 0 4-2 2 0 3 0 2-3 2-2 2-2 0zM155 440l-18 0-1 0-2 0-6-4-2-2 0-3-2-1 0-2 2-4 3-2 1 0 2-2 3 0 1-2 10 0 1 0 2 0 1 0 3 0 1 2 2-2 3 0 2 2 3 0 4 5 0 3 2 1-2 5-1 0-4 4-3 0-1 2-3 0zM218 442l-4 0-1-2-2 0-1-1 0-2 1-1 3 0 1-2 3 0 1 2 2 0 3 2-3 2-2 0zM290 446l-2 0-1 0-2 0-3-2 0-2 2-4 5 0 1 0 2 0 2 2 0 4zM112 484l-2 0-2 0-2-3 0-3 0-2 3-2 5 0 2 3 0 4zM167 486l-5 0-2-2-2-2 0-2 4-4 6 0 2 2 2 2 0 2-2 2-2 0z" fill="#0000bd" fill-rule="evenodd"/><path d="M158 364l-6 0-2 0-4-4 0-4 6-6 1 0 2-2 9 0 4 3 0 4-2 3-2 0 0 2-3 4-2 0zM155 440l-11 0-1 0-5-2-2-3 0-2-2-2 0-3 0-2 3-2 2 0 2-2 3 0 2-2 2 0 4-2 2 2 2-2 3 0 2 2 3 0 4 5 0 3 2 1-2 5-1 0-4 4-3 0-1 2-3 0z" fill="#3800a3" fill-rule="evenodd"/><path d="M158 362l-5 0-3-2 0-3 2-2-2-1 2-2 4-4 7 0 5 4 0 2-8 8zM152 440l-7 0-1-2-2 0-4-2-2-1 0-6 6-5 2 0 6-4 8 0 1 2 2 0 5 4 2 4-7 8-3 0-1 0-4 0z" fill="#860097" fill-rule="evenodd"/><path d="M157 360l-3 0 0-3 2-4 1-1 3-2 2 2 2 2-5 4zM152 438l-4 0-1-2-3 0-4-3 0-4 4-3 4-2 2 0 1-2 5 0 1 2 2 0 2 0 3 3 0 4-2 2-1 1-2 2-2 0-1 0-3 0z" fill="#79008a" fill-rule="evenodd"/><path d="M154 434l-6 0-2-1-2-3 4-4 2 0 6 0 2 1 2 3-2 2z" fill="#25002b" fill-rule="evenodd"/></g></g><defs><clipPath id="ax3"><rect x="32.5" y="143.8" width="136.10" height="110.20"/></clipPath></defs><circle cx="77.3" cy="180.2" r="2.55" fill="#f7a900" stroke="#fff" stroke-width="0.9"/><circle cx="77.3" cy="221.5" r="2.55" fill="#e21fd0" stroke="#fff" stroke-width="0.9"/><circle cx="148.4" cy="224.5" r="2.55" fill="#1ab0e8" stroke="#fff" stroke-width="0.9"/><rect x="32.5" y="143.8" width="136.10" height="110.20" fill="none" stroke="#999" stroke-width="0.9"/><line x1="89.0" y1="254.0" x2="89.0" y2="256.0" stroke="#555" stroke-width="0.7"/><text x="89.00" y="263.80" font-size="8.47" text-anchor="middle" textLength="5.28" lengthAdjust="spacingAndGlyphs">0</text><line x1="147.1" y1="254.0" x2="147.1" y2="256.0" stroke="#555" stroke-width="0.7"/><text x="147.10" y="263.80" font-size="8.47" text-anchor="middle" textLength="5.28" lengthAdjust="spacingAndGlyphs">2</text><line x1="30.5" y1="155.60" x2="32.5" y2="155.60" stroke="#555" stroke-width="0.7"/><text x="28.70" y="158.70" font-size="8.47" text-anchor="end" textLength="5.28" lengthAdjust="spacingAndGlyphs">3</text><line x1="30.5" y1="174.05" x2="32.5" y2="174.05" stroke="#555" stroke-width="0.7"/><text x="28.70" y="177.15" font-size="8.47" text-anchor="end" textLength="5.28" lengthAdjust="spacingAndGlyphs">2</text><line x1="30.5" y1="192.50" x2="32.5" y2="192.50" stroke="#555" stroke-width="0.7"/><text x="28.70" y="195.60" font-size="8.47" text-anchor="end" textLength="5.28" lengthAdjust="spacingAndGlyphs">1</text><line x1="30.5" y1="210.95" x2="32.5" y2="210.95" stroke="#555" stroke-width="0.7"/><text x="28.70" y="214.05" font-size="8.47" text-anchor="end" textLength="5.28" lengthAdjust="spacingAndGlyphs">0</text><line x1="30.5" y1="229.40" x2="32.5" y2="229.40" stroke="#555" stroke-width="0.7"/><text x="28.70" y="232.50" font-size="8.47" text-anchor="end" textLength="12.23" lengthAdjust="spacingAndGlyphs">−1</text><line x1="30.5" y1="247.85" x2="32.5" y2="247.85" stroke="#555" stroke-width="0.7"/><text x="28.70" y="250.95" font-size="8.47" text-anchor="end" textLength="12.23" lengthAdjust="spacingAndGlyphs">−2</text><text x="100.50" y="274.50" font-size="8.47" text-anchor="middle" textLength="21.23" lengthAdjust="spacingAndGlyphs">TIC 1</text><text x="10.90" y="200.00" font-size="8.47" text-anchor="middle" textLength="21.23" lengthAdjust="spacingAndGlyphs" transform="rotate(-90 10.90 200.00)">TIC 2</text><text x="41.50" y="156.90" font-size="11.5" fill="#111" textLength="39.90" lengthAdjust="spacingAndGlyphs">CDR-H1</text><defs><linearGradient id="cbg3" x1="0" y1="0" x2="0" y2="1"><stop offset="0.000" stop-color="#ffc100"/><stop offset="0.025" stop-color="#fcd200"/><stop offset="0.050" stop-color="#f7dd00"/><stop offset="0.075" stop-color="#f0ea00"/><stop offset="0.100" stop-color="#e0f300"/><stop offset="0.125" stop-color="#ccf900"/><stop offset="0.150" stop-color="#b0ff00"/><stop offset="0.175" stop-color="#67ff00"/><stop offset="0.200" stop-color="#1dff00"/><stop offset="0.225" stop-color="#00f700"/><stop offset="0.250" stop-color="#00ec00"/><stop offset="0.275" stop-color="#00df00"/><stop offset="0.300" stop-color="#00d200"/><stop offset="0.325" stop-color="#00c400"/><stop offset="0.350" stop-color="#00b700"/><stop offset="0.375" stop-color="#00aa00"/><stop offset="0.400" stop-color="#009c00"/><stop offset="0.425" stop-color="#009e28"/><stop offset="0.450" stop-color="#00a353"/><stop offset="0.475" stop-color="#00aa88"/><stop offset="0.500" stop-color="#00aa95"/><stop offset="0.525" stop-color="#00aaa3"/><stop offset="0.550" stop-color="#00a7b3"/><stop offset="0.575" stop-color="#00a0c7"/><stop offset="0.600" stop-color="#009adb"/><stop offset="0.625" stop-color="#0090dd"/><stop offset="0.650" stop-color="#0082dd"/><stop offset="0.675" stop-color="#0070dd"/><stop offset="0.700" stop-color="#0041dd"/><stop offset="0.725" stop-color="#0013dd"/><stop offset="0.750" stop-color="#0000d1"/><stop offset="0.775" stop-color="#0000bd"/><stop offset="0.800" stop-color="#0300aa"/><stop offset="0.825" stop-color="#2d00a4"/><stop offset="0.850" stop-color="#63009e"/><stop offset="0.875" stop-color="#860097"/><stop offset="0.900" stop-color="#7f0090"/><stop offset="0.925" stop-color="#79008a"/><stop offset="0.950" stop-color="#540060"/><stop offset="0.975" stop-color="#25002b"/><stop offset="1.000" stop-color="#000000"/></linearGradient></defs><rect x="176.2" y="143.8" width="6.40" height="110.20" fill="url(#cbg3)"/><line x1="182.6" y1="254.00" x2="184.4" y2="254.00" stroke="#555" stroke-width="0.6"/><text x="185.60" y="257.10" font-size="8.47" textLength="5.28" lengthAdjust="spacingAndGlyphs">0</text><line x1="182.6" y1="241.93" x2="184.4" y2="241.93" stroke="#555" stroke-width="0.6"/><text x="185.60" y="245.03" font-size="8.47" textLength="5.28" lengthAdjust="spacingAndGlyphs">1</text><line x1="182.6" y1="229.86" x2="184.4" y2="229.86" stroke="#555" stroke-width="0.6"/><text x="185.60" y="232.96" font-size="8.47" textLength="5.28" lengthAdjust="spacingAndGlyphs">2</text><line x1="182.6" y1="217.79" x2="184.4" y2="217.79" stroke="#555" stroke-width="0.6"/><text x="185.60" y="220.89" font-size="8.47" textLength="5.28" lengthAdjust="spacingAndGlyphs">3</text><line x1="182.6" y1="205.72" x2="184.4" y2="205.72" stroke="#555" stroke-width="0.6"/><text x="185.60" y="208.82" font-size="8.47" textLength="5.28" lengthAdjust="spacingAndGlyphs">4</text><line x1="182.6" y1="193.65" x2="184.4" y2="193.65" stroke="#555" stroke-width="0.6"/><text x="185.60" y="196.75" font-size="8.47" textLength="5.28" lengthAdjust="spacingAndGlyphs">5</text><line x1="182.6" y1="181.58" x2="184.4" y2="181.58" stroke="#555" stroke-width="0.6"/><text x="185.60" y="184.68" font-size="8.47" textLength="5.28" lengthAdjust="spacingAndGlyphs">6</text><line x1="182.6" y1="169.51" x2="184.4" y2="169.51" stroke="#555" stroke-width="0.6"/><text x="185.60" y="172.61" font-size="8.47" textLength="5.28" lengthAdjust="spacingAndGlyphs">7</text><line x1="182.6" y1="157.44" x2="184.4" y2="157.44" stroke="#555" stroke-width="0.6"/><text x="185.60" y="160.54" font-size="8.47" textLength="5.28" lengthAdjust="spacingAndGlyphs">8</text><line x1="182.6" y1="145.37" x2="184.4" y2="145.37" stroke="#555" stroke-width="0.6"/><text x="185.60" y="148.47" font-size="8.47" textLength="5.28" lengthAdjust="spacingAndGlyphs">9</text><text x="199.50" y="199.00" font-size="8.47" text-anchor="middle" textLength="66.20" lengthAdjust="spacingAndGlyphs" transform="rotate(-90 199.50 199.00)">free energy / kT</text><g clip-path="url(#ax4)"><g transform="scale(0.5)"><path d="M745 442l-2 0-1-2-2 2-3 0-3-2 0-4-5 0-2 2-1 0 0-2 0-1 0-2-2-1 0-2-3 0-1-2 0-2-4-2 0-3-4-2 0-2-2-3-2 0-1 0-2 2-3 0-1 0-2 0-2 0-3-2-6 0-1 2-3-2-1 2-1-2-2 0-2 0-2-2-3 0-2-2-2-2-1 0-1-2-3 0-2-2 0-4-2-2-8-8-1 0-3 0 0-4-1-2-1 0-2-3 0-2 0-1 0-1 0-2 0-4 0-1 0-2-4-3 0-4-2-2 0-2 0-2-2-2 0-2 0-5 0-1 2-2 0-2-4-1-3-2-3 0 0-2-4 0 0-2-2-1 0-2-4-2 0-6 2-1 0-2-2 0-2-3 4-2 0-2-2-2 0-1 0-1 0-2 2-1 3 0 2-2 4 0 3 2 3-2 3 2 7 2 3 2 2 0 2 3 2 3 2 3 0 4 2 4 0 7-2 4 2 4-2 2 0 1 0 1 0 4 2 1 0 2 2 2 0 2 2 1 0 1-2 1 2 0 3 4 2-2 1 0 0 2 4 4 1 0 3 2 2 0 1 0 1 2 1 2 2 0 5 4 2-1 0-7-4-2 0-4 2-1 0-2-2-1-2 2 0-2 1-2 4 0 1-1-2-3-2-2 4-2 0-2 2-3 0-1 1 0 2 0 2-2 1 0 4 0 0 3 0 2 0 1 1 2 1 0 1-2 5 1 0 3 2 2-4 3 3 1 1 1 0 2 4 1 2 2 0 2 2 2 2 1 0 1 4 6 0 2 2 2 0 3 2 3 2 0 0 2-2 1 2 2 1 1 2-2 1 0 0 1-2 2 2 7 2 2 2 0 2 1 0 2-2 2 0 4 4 3-2 5 2 2 0 5 4 2-4 3 0 2 2 2 0 1 4 2 0 1-2 1-2-2zM641 306l-1-1 1-1 1 1zM502 422l-1 0-1-2-1 0-6 0-1 2-2-2 0-2 0-1 0-2 0-2-2-1-2-2 0-11 4-6 0-6 0-1 0-4 0-1 0-2-2-1-1 2-1-4 2 0 2 2 2-1 0-6 3-1 3-3 0-4 2-2 0-2 2-2 1-1 2 0 1-2-2-2 0-1 2-1 0-1 4-2 0-3 1 0 3-4 1 0 1 5 4 1 3-2 3-1-2-1 0-3 2-1 2 2 0 1 2 1-2 3 2 1 4-4 0-2 1-2 1 2 0 2-2 2 2 3 0 3 2 2 5 0 2-2 1 0 0 2-2 2 0 3-2 1 0 2 2 1 0 2 2 2-2 2 3 3 1 0 0 1 0 3-2 2 0 1-3 3-1-2-2 0-4 5 0 4-2 1-2 2 0 5 0 1 0 2 0 2-1 2-3 1-3 5-2 2-1 1-2 3-3 0-2 2-2 0-1-1-1-1-3 4-1 2-2 0-2 0zM530 340l0-2 0 1zM693 340l-1 0 1-2 1 1zM692 344l-1 0-1-2 2-2 0 1zM541 344l-1-2 2 0zM540 348l-2 0 0-2 2 0 0 2zM684 348l0-1 0-1 0 1zM686 352l0-1 0-1 0 1zM700 354l0-2-4 0 0 1 2 1zM694 356l-1-2-1 2zM545 360l-1-1 1-1 1 1zM690 367l0-1-2 0 1 2zM553 400l-3 0 0-1 3-1 1 1zM546 404l-1 0-1-2 2-1 0-2 1-1 1 1-2 1zM555 402l-1 0 1 0 1 0zM553 414l-1-4-1 0-3 0 4-2 0-1-2-1-1 0-1 0 2-4 2 0 4 4 4 0 0 3-2 1-2-2-2 2 0 2zM542 408l0-3 1-1 1 2zM549 416l-3 0 0-2-4-2 0-2 3 0 1 2 2 2 2 0zM595 412l-1 0 0-2 4 1zM557 412l-1 0 1 0 1 0zM600 424l-1-2-2 0-1 2-2-3 0-1 1-2 1 2 1-2 2 0 1-1 0-1-2-2 1-2 3 4 0 4-2 2zM594 418l-2-1 2-3zM589 416l-1-1 1-1 1 1zM587 418l-1-1 1-1 1 1zM590 426l-2-1 0-6 1-1 1 3 0 2 0 2zM712 420l-2 0 2 0zM510 424l-1 0-1-2 0-2 2 1 0 2zM487 424l-1-1 1-1 1 1zM599 424l-1 0 1 0 1 0zM595 426l-1 0 0-2 2 1zM607 428l-1-1 1-1 1 1zM616 446l-2 0 0-2-3 0-1 2-2 0-2-2 2-2 2 0-2-4-2 2-2-2-3 2-1 0 2-2 0-3 4-3-1 0-2 0-1 0 1-2 2 0 1 0 2 0 2 2 0 3 0 1 2 0 1 0 1 0 0 3-2 2 0 1 4 1 0 2zM615 436l-1-2-2-2 1-2 1 0 2 2zM749 434l-1-1 0-1 2 1zM600 436l-2 0-2-2 2-2 2 2 0 2zM537 468l-1 0-3-2-3 0-1-2-3 0-2-2 0-2-2-3-2-2 0-2-2-2 0-1 2 0 2-3 0-4 4-3 8-4 9 0 3 2 2 0 2 3 2 3 2 2 0 2 2 2-2 1 0 2 2 1 0 6-4 0-2 2-1 0-3 4-7 0zM591 438l-1-1 1-1 1 1zM586 472l-2 0-7 0-1-2-3 0-2-2-1 0-6-5 0-3 2-1 0-5-2-1 2-1 2 0 2-1-2-1 4-2 2 0 5 0 2-2 5 0 1 0 3 0 2-2 1 2 1-1 0-4-2-1 0-1 2-1 2 0 0 3 0 1 0 2 1 0 1 0 2 1-1 1-3 1 2 1 1 0 3 0 2 0 3 4 2 0 2 2 1 0 0-2 2-1-2-1-2 0 0-2 2 0 4 2 0-2 2-2 1 8 1-1 0-3 2-2 2 1 0 2-2 1 0 2 2 1-2 1 0 2 0 1 0 2 0 1 0 3-4 4 2 1-1 0-2 0-5 0 0-1 0-1-3-2-1 0 0-2-2 0 0 3-2 1-4 2-2-2-1 0-2 2-2 0-2 0-1 0-2 0zM620 446l-2-3-2-2 1-1 1 0 2 3zM603 444l-1-1 1-1 1 0zM596 447l-1-1-1 1 1 1zM559 456l-1-1 0-1 2 0zM610 457l-1-3-3 1 1 3zM616 457l0-1-2-2 0 3 0 1zM625 456l-1-1 1-1 1 1zM620 458l-1-2-1 1 1 1zM625 460l-1-1 1-1 1 1zM563 460l-1 0 1 0 1 0zM610 460l-1 0-1 0 1 0zM610 464l0-2-2 1 0 1 1 0zM609 472l-2 0-3-2 3-2 1 0 2 1zM617 474l-1-1 0-1 1-2 1 1zM613 476l-1 0-2 0-2-3 5-1 1 0zM614 480l0-2 2 1zM635 494l-5 0-2-2 0-3 1-1 7 0 2 2z" fill="#ec0000" fill-rule="evenodd"/><path d="M745 442l-2 0-1-2-2 2-3 0-3-2 0-4-5 0-1 0-2 2 0-2 0-1 0-2-2-1 0-2-3 0-1-2 0-2-4-2 0-3-4-2 0-2-5-5-2 4-3 0-1 0-2 0-2 0-3-2-6 0-1 2-2-2-2 2-1-2-2 0-4-2-3 0-2-2-3-2-1-2-2 0-2-2-1-1 0-3-2-2-8-8-1 0-3 0 2-2-2-2-4-3 0-2 0-1 0-2 0-1 0-2 0-4 0-1 0-2-2-2-2-2 0-3-2-2 0-2 0-2-2-2 0-2 0-5 0-1 2-2 0-2-4-1-3-2-2 0-2-2-3 0 0-2-2-1 0-2-4-2 0-6 2-1 0-2-2-2 0-1 2-2 0-2-2-2 0-1 0-1 0-2 2-1 1 0 5 0-2-1 1-1 4 0 3 2 3-2 3 2 7 2 3 2 2 0 2 3 2 3 2 3 0 4 2 4 0 7-2 4 2 4-2 0 0 3 0 1 0 5 4 4 0 5 2 0 3 4 2-2 1 0 0 2 4 4 1 0 3 2 2 0 1 0 1 2 1 2 2 0 5 4 2-1 0-7-4-2 2-2 2 2 0-2-3 0-1-1 2-1 0-3-2-1-2 2 0-2 2-2 3 0 1-1-2-3-2-2 4-1 0-3 3-4 2 0 2-2 1 0 4 1 0 2 0 2 0 1 1 2 1 0 1-2 2 0 2 0 1 2 0 2 2 2-4 3 2 1 1 0 1 1 0 2 4 1 2 4 2 2 1 0 1 2 2 3 0 2 2 1 0 2 2 2 0 3 2 3 2 0 0 2-2 1 2 2 2 1 0 2 2 6 2 2 2 0 2 2-2 2 0 5 4 3-2 5 2 2 0 5 2 1 0 2-2 2 0 2 2 2 0 2zM501 422l-1-2-1 0-4 0-1 0-1 0-2 0-1 0 2-1-2-2 0-2 0-2-2-1-2-2 0-11 4-6 0-6 0-1 0-4 0-1 0-2-3-1-1-2 1 0 3 2 2-1 0-6 3-1 3-3 0-4 2-2 0-2 2-2 1-1 2 0 1-2-2-2 0-1 6-4 0-3 4-4 2 1 0 2 1 3 3 0 3-2 3 0 0-1-2-1 0-2 2 0 2 2 2 0-2 3 2 1 4-4 0-2 1-2 1 4-2 2 2 3 0 3 2 2 5 0 1-2 2 1 0 1-2 1 0 4-2 1 0 2 2 1 0 2 2 2-2 2 4 3 0 4-2 2-1 2-2 2-1-2-2 0-4 5 0 4-2 1-2 2 0 5 0 1 0 2 0 2-1 2-2 0-1 1-2 5-2 0-4 4 0 2-3 0-2 2-2 0-1-1-1-1-3 4-1 2-4 0zM541 344l-1-1 1-1 1 0zM692 344l-2-1 1-1 1 0zM539 348l-1 0 0-2 2 1zM686 352l0-1 0-1 0 1zM700 354l0-2-4 0 0 1 2 1zM694 356l-1-2-1 2zM736 392l-2-1 1-1 1 1zM547 400l-1-1 1-1 1 1zM553 400l-2 0-1-1 4-1 0 1zM546 404l-2-1 2-3zM555 402l-1 0 1 0 1 0zM553 414l-1-4-1 0-3 0 4-2 0-1-2-1-1 0-1 0 2-4 2 0 4 4 4 0 0 3-2 1-2-2-2 2 0 2zM542 408l0-3 1-1 1 2zM549 416l-3 0 0-2-4-2 0-2 3 0 1 2 2 2 2 0zM595 412l-1 0 0-2 4 1zM557 412l-1 0 1 0 1 0zM600 424l-1-2-2 0-1 2-2-3 0-1 1-2 1 2 1-2 2 0 1-1 0-1-2-2 1-2 3 4 0 4-2 2zM594 418l-2-1 2-3zM589 416l-1-1 1-1 1 1zM587 418l-1-1 1-1 1 1zM589 424l-1 0 0-5 1-1 1 3zM508 422l0-1 0-1 0 1zM509 424l-1-1 1-1 1 0zM487 424l-1-1 1-1 1 1zM599 424l-1 0 1 0 1 0zM590 426l0-1 0-1 0 1zM595 426l-1 0 0-2 2 1zM607 428l-1-1 1-1 1 1zM616 446l-2 0 0-2-3 0-1 2-2 0-2-2 2-2 2 0-2-4-2 2-2-2-3 2-1 0 2-2 0-3 4-3-1 0-2 0-1 0 1-2 2 0 1 0 2 0 2 2 0 3 0 1 2 0 1 0 1 0 0 3-2 2 0 1 4 1 0 2zM614 434l-2-2 1-2 1 1zM748 434l0-1 0-1zM600 436l-2 0-2-2 2-2 2 2 0 2zM615 436l-1-1 1-1 1 0zM537 468l-1 0-3-2-2 0-2-2-3 0-2-2 0-2-2-3-2-5-2-1 0-1 2 0 2-3 0-3 0-2 2 0 2-2 8-4 9 0 3 2 2 0 2 3 2 3 2 2 0 2 2 2-2 1 0 2 2 1 0 6-4 0-2 2-1 0-2 4-2 0-6 0zM748 440l-2-2 1-2 1 0 2 2 0 1zM587 472l-10 0-1-2-3 0-2-2-1 0-6-6 2-2 0-6-2-1 4-1 2-1 0-3 9 0 2-2 5 0 1 0 3 0 1-2 2 2 1-1 0-4-2-1 0-1 2-1 2 0 0 3 0 1 0 2 1 0 1 0 2 1-1 1-3 1 2 1 1 0 5 0 3 4 2 0 2 2 1 0 0-2 2-1-2-1-2 0 0-1 0-1 2 0 4 2 0-2 2-2 1 8 1-1 0-3 2-2 2 2-2 2 0 2 2 1-2 1 0 2 0 1 0 2 0 1 0 3-4 4 2 1-1 0-2 0-5 0 0-1 0-1-3-2-1 0 0-2-2 0 0 3-4 3-5-2-3 2-3 0zM620 446l-2-3-2-2 1-1 1 0 2 3zM603 444l-1-1 1-1 1 0zM596 447l-1-1-1 1 1 1zM559 456l-1-2 2 0zM610 457l-1-3-3 1 1 3zM616 457l0-1-2-2 0 3 0 1zM620 458l-1-2-1 1 1 1zM625 460l-1-1 1-1 1 1zM610 460l-1 0-1 0 1 0zM610 464l0-2-2 1 0 1 1 0zM609 472l-2 0-3-2 3-2 1 0 2 1zM617 474l-1-1 0-1 1-2 1 1zM613 476l-1 0-2 0-2-3 5-1 1 0zM614 480l0-2 2 1zM635 494l-5 0-2-2 0-2 0-1 1-1 4 0 2 0 1 2 0 2z" fill="#ff2d00" fill-rule="evenodd"/><path d="M744 442l-1 0-1-2-2 2-3 0-3-2 0-4-5 0-1 0 0 1-2 1 0-2 0-1 0-2-2-1 0-2-3 0-1-2 0-2-4-2 0-3-4-2 0-2-5-5-2 4-3 0-1 0-2 0-2 0-3-2-6 0-1 2-2-2-2 2-1-2-2 0-4-2-3 0-2-2-3-2-1-2-2 0-2-2-1-1 0-3-2-2-8-8-1 0-3 0 2-2-2-2-4-3 0-2 0-1 0-2 0-1 0-2 0-4 0-1 0-2-4-4 0-3-2-2 0-2 0-2-2-1 0-8 0-1 2-2 0-2-4-1-3-2-2 0-2-2-3 0 0-2-2-1 0-2-4-2 0-6 2-1 0-2-2-2 0-1 2-2 0-2-2-2 0-1 2-2-2-1 2-1 1 0 5 0 2-1-2-1-1 2-1-1 1-1 3 0 4 2 3-2 3 2 7 2 3 2 2 0 2 3 2 3 2 3 0 4 2 4 0 7-2 4 2 2 0 2-2 1 0 2 0 1 0 5 4 4 0 5 2 0 3 4 2-2 1 0 0 2 4 4 1 0 3 2 2 0 1 0 1 2 1 2 2 0 5 4 2-1 0-7-2-1 0-2 0-1 2 2 0-2-3 0-1-1 2-1 0-3-4-1 2-2 3 0 1-1-2-3-2-2 4-1 0-3 3-4 3 0 1-2 4 0 1 2 0 1 0 2 0 1 1 2 1 0 1-2 1 0 3 0 1 2 0 1 0 3-2 3 2 1 1 0 1 1 0 2 4 1 2 4 2 2 1 0 1 2 2 3 2 5 2 2 0 3 2 3 2 0 0 2-2 1 2 2 2 1 0 2 2 6 6 4-2 2 0 5 4 3-2 5 2 2 0 5 2 1 0 2-2 2 0 2 2 2 0 1 0 1 0 3zM501 422l-1-2-1 0-4 0-1 0-1 0-2 0-1 0 2-1-2-2 0-2 0-2-2-1-2-2 0-11 4-6 0-2 0-1 0-3 2-1 0-2-2-3 0-2-3-1-1-1 1-1 2 0 1 2 2-1 0-5 2-2 4-2 0-5 2-2 0-2 2-2 1-1 2 0 1-2-2-2 0-1 6-4 0-2 2-2 1-1 2 0 2 4 3 0 3-2 3 0 0-1-2-1 0-2 2 0 2 2 2 0-2 3 2 1 4-4 0-2 1 0 1 1 0 1-2 2 2 3 0 3 2 2 4 0 2 1-2 1 2 1 0 2-2 1 0 2 2 1 0 2 2 2-2 2 4 3-2 2 2 2-2 2-1 2-5 0-4 5 0 4-2 1-2 2 0 5 0 1 0 2 0 2-3 2-1 1-2 3-6 6 0 1-2 1-3 2-2 0-1-1-1-1-3 4-1 2-4 0zM692 344l-2-1 1-1 1 0zM539 348l-1 0 0-2 2 1zM545 352l-1 0 1-2 1 1zM700 354l0-2-4 0 0 1 2 1zM694 356l-1-2-1 2zM736 392l-2-1 1-1 1 1zM547 400l-1-1 1-1 1 1zM553 400l-2 0-1-1 3-1 1 1zM546 404l-2-1 2-3zM555 402l-1 0 1 0 1 0zM553 414l-1-4-1 0-3 0 4-2 0-1-2-1-1 0-1 0 2-4 2 0 4 4 4 0 0 3-2 1-2-2-2 2 0 2zM542 408l0-3 1-1 1 2zM549 416l-3 0 0-2-4-2 0-2 3 0 1 2 2 2 2 0zM595 412l-1 0 0-2 2 1zM557 412l-1 0 1 0 1 0zM594 418l-2-1 2-3zM600 424l-1-2-2 0-1 2-2-3 0-1 1-2 1 2 1-2 2 0 1-1 0-1-2-2 1 0 3 0 0 3 0 1zM589 416l-1-1 1-1 1 1zM587 418l-1-1 1-1 1 1zM589 424l-1 0 0-5 1-1 1 3zM509 424l-1-1 1-1 1 1zM595 426l-1 0 0-2 2 1zM607 428l-1-1 1-1 1 1zM616 446l-2 0 0-2-3 0-1 2-2 0-2-2 2-2 2 0-2-4-2 2-2-2-3 2-1 0 2-2 0-3 4-3-2 0-2 0 3-2 1 0 2 0 2 2 0 3 0 1 2 0 1 0 1 0 0 3-2 2 0 1 4 1 0 2zM614 434l-2-2 1-2 1 1zM748 434l0-1 0-1zM600 436l-2 0-2-2 2-2 2 2 0 2zM615 436l-1-1 1-1 1 0zM537 468l-1 0-3-2-2 0-2-2-3 0-2-2 0-2-2-3-2-5-2-1 4-4 0-3 0-2 2 0 2-2 8-4 9 0 3 2 2 0 2 3 2 3 2 2 0 2 2 2-2 1 0 2 2 1 0 5-2 1-2 0-2 2-1 0-2 4-2 0-6 0zM749 440l-1 0-2-2 2-2 2 2zM587 472l-10 0-1-2-3 0-2-2-1 0-6-6 2-2 0-7 2-1 2-1 0-3 9 0 2-2 5 0 1 0 5 0 1 0 1-1 0-4-2-1 0-1 2-1 2 0 0 3 0 1 0 2 1 0 1 0 2 1-1 1-3 1 2 1 1 0 2 0 2 2 2 0 2 2 2 0 2 2 1 0 0-2 2-1-2-1-2 0 0-1 0-1 2 0 4 2 0-2 2-2 1 8 1-1 0-3 2-2 2 2-2 2 0 2 2 1-2 1 0 2 0 1 0 2 0 1 0 3-4 4 2 1-1 0-2 0-5 0 0-1 0-1-3-2-1 0 0-2-2 0-2 1 2 1-2 2-2 2-5-2-3 2-3 0zM620 446l-2-3-2-2 1-1 1 0 2 3zM603 444l-1-1 1-1 1 0zM596 447l-1-1-1 1 1 1zM559 454l-1 0 1 0 1 0zM610 457l-1-3-3 1 1 3zM616 457l0-1-2-2 0 3 0 1zM620 458l-1-2-1 1 1 1zM610 460l-1 0-1 0 1 0zM610 464l0-2-2 1 0 1 1 0zM609 472l-2 0-3-2 3-2 1 0 2 1zM617 474l-1-1 0-1 1-2 1 1zM613 476l-1 0-2 0-2-3 5-1 1 0zM614 480l0-1 0-1 0 1zM635 494l-5 0-2-2 2-2-2-1 1-1 2 0 2 0 3 3z" fill="#ffa500" fill-rule="evenodd"/><path d="M625 306l-1-1 1-1 1 0zM744 442l-1 0-1-2-2 2-3 0-3-2 0-4-5 0-1 0 0 1-2 1 0-2 0-1 0-2-2-1 0-2-3 0-1-2 0-2-4-2 0-3-4-2 0-2-5-5-2 4-3 0-1 0-2 0-2 0-3-2-6 0-1 2-2-2-2 2-1-2-2 0-4-2-3 0-2-2-3-2-1-2-2 0-2-2-1-1 0-3-2-2-8-8-1 0-3 0 2-2-2-2-4-3 0-2 0-1 0-2 0-1 0-2 0-4 0-1 0-2-4-4 0-3-2-2 0-2 0-2-2-1 0-8 0-1 2-2 0-2-4-1-3-2-2 0-2-2-3 0 0-2-2-1 0-2-4-2 0-6 2-1 0-2-2-2 0-1 2-2 0-2-2-2 0-1 2-2 0-2 6 0 2-2 3 0 1 2 3-2 3 2 7 2 3 2 2 0 2 3 2 3 2 3 0 4 2 4 0 7-2 4 2 2 0 2-2 1 0 2 0 1 0 5 4 4 0 5 2 0 3 4 2-2 1 0 0 2 4 4 1 0 3 2 2 0 1 0 1 2 1 2 2 0 5 4 2-1 0-7-2-1 0-2 0-1 2 2 0-2-3 0-1-1 2-1 0-3-4-1 2-2 3 0 1-1-2-3-2-2 4-1 0-3 3-4 3 0 1-2 1 2 3-2 1 2 0 1 0 2 0 1 1 2 1 0 1-2 3 0 2 2 0 1 0 3-2 3 2 1 1 0 1 1 0 2 4 1 2 4 2 2 1 0 1 2 2 3 2 5 2 2 0 3 2 3 2 0 0 2-2 1 2 2 2 1 0 2 2 6 2 2 4 1 0 2-2 1 0 5 4 3-2 5 2 2 0 5 2 1 0 2-2 2 0 2 2 2 0 1 0 1 0 3zM527 342l-1 0-2-1 1-1 1 0 2 1zM533 346l-1-2 2-2 0-2 1 0 1 1 0 1-1 0zM501 422l-1-2-1 0-4 0-1 0-2 0 0-1-2-2 0-2 0-2-2-1-2-2 0-11 2-1 0-2 2-6 0-3 2-1 0-3 0-1 0-2 2 0 2-2 0-3 4-9 2-9 1-1 2 0 1-2-2-2 0-1 6-4 0-2 2-1 1-2 2 0 1 3 2 1 2 0 1 0 4 0 3 3 0 2 2 4 2 1 2-2 2 1 0 3 3 0 2-2 1-1-2-2 1-1 1 0 2 1-2 1 2 1 0 2-2 1 0 2 2 1 0 2 2 2-2 2 2 3 0 2 2 2-2 1-1 3-5 0-6 5-2 6 0 2 0 4 0 1 0 3-4 4-2 3-6 6 0 1-2 1-3 2-2 0-1-1-1-1-3 4-1 2-4 0zM691 342l-1 0 1 0 1 0zM528 344l0-1 0-1 0 1zM539 348l-1-1 0-1 2 1zM545 352l-1-1 1-1 1 1zM700 354l0-2-4 0 0 1 2 1zM694 356l-1-2-1 2zM489 378l-2 0-1-1 3-1 1 1zM491 380l-1-1 1-1 1 1zM735 392l-1-1 1-1 1 0zM547 400l-1-1 1-1 1 1zM553 400l-2 0-1-1 3-1 1 1zM546 404l-2-1 2-3zM555 402l-1 0 1 0 1 0zM554 412l-1 0-1-2-1 0-3 0 4-2 0-1-2-1-1 0-1 0 2-4 2 0 4 4 4 0 0 3-2 1-2-2zM545 410l-1 0 1 0 1 0zM594 418l-2-1 2-1zM596 424l-2-3 0-1 1-2 1 2 1-2 2 0 1 4-3 0zM589 424l-1-2 2-2 0 2zM594 426l0-2 0 1zM614 434l-2-2 1-2 1 1zM748 434l0-1 0-1zM610 446l-2 0-2-2 2-2 2 0-2-4 0-1 0-3 2-2 0 1 0 2 0 1 2 0 1 0 1 0 0 2-4 1 2 2 2 2-3 1zM615 436l-1-1 1-1 1 0zM537 468l-1 0-3-2-2 0-2-2-3 0-2-2 0-2-2-3 0-2-2-4 2-4 0-3 0-2 2 0 2-2 8-4 9 0 3 2 2 0 2 3 2 3 2 2 0 2 2 2-2 1 0 2 2 1 0 5-2 1-2 0-2 2-1 0-2 4-2 0-6 0zM587 472l-10 0-1-2-3 0-2-2-1 0-6-6 2-2 0-7 2-1 3-4 8 0 2-2 5 0 1 0 5 0 1 0 1-1 0-4-2-1 0-1 2-1 2 0 0 3 0 1 0 2 1 0 1 0 2 1-1 1-3 1 2 1 1 0 2 0 3 2 1 0 2 2 2 0 2 2 1 0 0-2 2-1-2-1-2 0 0-1 0-1 2 0 4 2 0-2 2-2 1 8 1-1 0-3 2-2 2 2-2 2 0 2 2 1-2 1 0 2 0 1 0 2 0 1 0 3-3 3-2 2-2 0-1 0-2 0 0-1 0-1-3-2-1 0 0-2-2 0-2 1 0 3-2 2-5-2-3 2-3 0zM748 440l-2-2 1 0 3 0zM601 440l-1 0 1-2 1 0 0 1zM606 440l0-1 0-1 0 1zM620 446l-2-3-2-2 1-1 1 0 2 3zM603 444l-1-1 1-1 1 0zM616 446l-2 0 1-2 1 1zM596 447l-1-1-1 1 1 1zM610 457l-1-3-3 1 1 3zM616 457l0-1-2-2 0 3 0 1zM620 458l-1-2-1 1 1 1zM610 460l-1 0-1 0 1 0zM610 464l0-2-2 1 0 1 1 0zM609 472l-2 0-3-2 3-2 1 0 2 1zM617 472l-1 0 1-2 1 1zM613 476l-1 0-2 0-2-2 0-1 5-1 1 0zM614 480l0-1 0-1 0 1zM635 494l-2 0-1-2 2 0 2 1z" fill="#fdcf00" fill-rule="evenodd"/><path d="M625 306l-1-1 1-1 1 1zM744 442l-1 0-1-2-2 2-3 0-3-2 0-4-5 0-1 0 0 1-2 1 0-2 0-1 0-2-2-1 0-2-3 0-1-2 0-2-4-2 0-3-2-2 0-2-3-3-4-2-2 4-3 0-1 0-2 0-2 0-2-2-7 0-1 2-2-2-2 2-1-2-2 0-4-2-3 0-2-2-3-2-1-2-2 0-2-2-1-1 0-3-2-2-8-8-1 0-3 0 2-2-2-2-4-3 0-2 0-1 0-2 0-1 0-2 0-4 0-1 0-2-4-4 0-3-2-2 0-2 0-2-2-1 0-8 0-1 2-2 0-2-4-1-3-2-2 0-2-2-3 0 0-2-2-1 0-2-4-2 0-6 2-1 0-2-2-2 0-1 2-2 0-2-2-2 0-1 2-2 0-2 6 0 2-2 3 0 1 2 3-2 3 2 7 2 3 2 2 0 2 3 2 3 2 3 0 4 2 4 0 7-2 4 2 2 0 2-2 1 0 2 0 1 0 5 4 4 0 5 2 0 3 4 2-2 1 0 0 2 4 4 1 0 3 2 2 0 1 0 1 2 1 2 2 0 5 4 2-1 0-4 0-1 0-3 2-4 4-3 2-2 2 0 2-2 2 0 0-2-4-3 0-1-5 0-1 2-2 0-1-2-3 2-2-2 4-1 0-3 3-4 3 0 1-2 1 2 3-2 1 5 0 1 1 2 1 0 1-2 2 0 3 2-2 2 2 2-2 2-2 0 0 3 1 1 1-2 2 0 1 0 1 1 0 2 4 1 2 4 2 2 2 1 0 1 2 3 2 5 2 3 0 4 2 2 6 13 1 2 2 0 3 1 0 2-2 1 0 5 4 3-2 5 2 2 0 5 2 1 0 2-2 2 0 2 2 2 0 1 0 1 0 3zM499 418l-7 0 0-4-2-2-2 0-2-2 0-11 2-1 0-2 2-6 0-3 2-1 0-3 0-1 0-2 2 0 2-2 0-2 2-2 2-3 4-5 0-3 2-4 3-3 1 0 5-4 2-2 5 0 3 2 3 0 3 4 1 0 2-2 2 1 0 2 3 1 1 1 4 6 0 1-2 2 4 1 0 2-2 1 2 1-4 1 2 1 0 2-4 1-4 3 0 1-2 2 0 1-4 4 2 2-2 2 0 3-2 2 0 1-3 3-2 0-1 1 0 1-3 0-2 4-4 2-2 0-4 2-5 0-2 2-2 0 4 1 0 1-2 0zM688 360l-4 0 2-2 1 0 1 2zM553 408l-1 0-2-2-1 0-1-1 4-1 2 2zM551 410l-1-1 1-1 1 1zM503 418l-1-1 1-1 1 1zM748 434l0-1 0-1zM537 468l-4-2-3 0-5-4-1-2-2-3 0-5-2-1 0-2 2-1 0-4 6-6 2 0 3 0 1-2 6 0 1 2 3 0 1 0 2 0 7 8 0 3 0 1 0 6 2 1 0 2-2 1-2 0-2 2-1 0-4 4-7 0zM748 440l-2-2 1 0 1 0zM608 446l0-1 0-1 0 1zM587 472l-10 0-1-2-3 0-2-2-1 0-6-6 2-2 0-7 2-1 3-4 8 0 2-2 5 0 1 0 5 0 6 2 1 0 2 0 3 2 1 0 2 2 2 0 3 2 0 2-2 2-1-4-3 1 0 2 4 1-2 1 0 3-2-2 0 1 0 3-2 1 0 2-1 1-2 2-2-2-2 0-3 2-3 0zM610 450l0-1 0-1zM617 470l-2 0-2-2-3-2 0-5 3-3 5 0 2 0 2 4 0 2 0 2z" fill="#ecef00" fill-rule="evenodd"/><path d="M625 306l-1-1 1-1 1 1zM744 442l-2-2-1 0-2 2-2-2-2 0-1-4-5 0-3-2 0-2 0-2-6-4 0-2-1 0-3-3 0-2 0-2-2-2 0-1-5-4-1 1 2 2-2 1-2-2-1 4-4 0-1-2-6 0-1 0-4 0-1 0-8 0-4-2-3 0-2-2-3-2-1-2-2 0-2-2-1 0-2-6-4-6-1 0-3-2-1 0-3 0 2-2-2-2-4-3 0-2 0-1 0-2 0-1 0-2 0-4 0-2 0-1 0-2-4-3 0-2-2-2 0-2 0-2-2-1 0-10 2-1 0-2-4-1-3-2-2 0-2-2-3 0 0-2-2-1 0-2-4-2 0-6 2-1 0-2-2-2 0-1 2-2 0-2-2-2 0-1 2-2 0-2 6 0 2-2 3 0 1 2 3-2 3 2 7 2 3 2 2 0 2 3 2 3 2 3 0 4 2 4 0 7-2 4 2 2 0 2-2 1 0 2 0 1 0 5 4 4 0 5 2 0 3 4 2-2 1 0 0 2 5 4 1 0 2 2 2 0 1 2 2 2 2 0 5 4 2 0 1 0 1-1-2-1 0-2 4-6 8-10 7 2 2 2 2 2 1-2 2 2 2 5 3 1 1 1 2 2 0 3 2 3 0 5 6 10 0 2 0 1 0 2 2 2 4 4 0 1 2 1 0 3 2 4 0 3 0 2 2 4 0 4 2 1 0 1-2 2 0 2 2 1 0 4-2 1zM710 354l-7 0-4-4-3 0 0-2-2 0-1 0-1-1 0-1 1-2 3 0 1-2 1 2 3-2 1 8 2 0 1-2 2 0 2 2 1 1-2 1 2 2zM499 418l-7 0 0-4-2-2-2 0-2-2 0-11 2-1 0-2 2-6 0-3 2-1 0-3 0-1 0-2 2 0 2-2 0-2 2-2 4-6 2-1 0-2 0-1 0-2 6-4 5 0 2-2 2 0 1-2 3 0 3-2 2 0 3 4 1 0 2-2 2 1 0 2 3 1 1 1 4 6 0 1-2 2 4 1 0 2-2 1 2 1-4 1 2 1 0 2-4 1-4 3 0 1-2 2 0 1-4 4 2 2-2 2 0 3-2 2 0 1-3 3-2 0-1 1 0 1-3 0-2 4-4 2-2 0-4 2-5 0-2 2-2 0 4 1 0 1-2 0zM679 370l-1 0 1 0 1 0zM503 418l-1-1 1-1 1 1zM538 466l-3 0-3-2-2 0-8-7 0-2 0-1 0-9 0-2 2-1 6-4 3 0 1 0 7 0 1 0 2 0 4 2 4 7 0 2 2 1-2 2 0 3 2 1 0 3-1 1-1-2-2 2 0 1-5 5-6 0zM587 472l-10 0-1-2-3 0-2-2-1 0-6-6 2-2 0-7 2-1 3-4 8 0 2-2 5 0 1 0 5 0 6 2 1 0 2 0 3 2 1 0 1 1 0 1 0 4 0 1 0 3 0 1 0 3-2 1 0 2-3 3-2-2-2 0-3 2-3 0zM616 470l-1-2-2 0-3-2 0-5 2-2 2-1 4 0 2 0 2 4 0 2-4 4z" fill="#c0fd00" fill-rule="evenodd"/><path d="M625 306l-1-1 1-1 1 1zM737 438l-2 0-1-2-5 0-3-2 0-2 0-3-2-1 2-2-6-5-2-4-7-7-1 0-2-2 0 2-2 2-2 0-1 2-20 0-1 0-1 0-2 0-10-6-1-2-3-2-3-2 0-2 0-2-6-6-1-2-5-1 0-2-2-2-1-1-3-4 0-2 0-6 2-1-2-1 2-2 0-2-6-6-2-6 0-2 0-9 2-1-2-2-2 0-1 0-2 0-1-2-2 0-2 0-1-2-3 0 0-2-2-1 0-2-4-2 0-5 2-3-2-3 0-1 2-2 0-2-2-2 0-1 2-2 0-2 6 0 2-2 3 0 1 2 4 0 1 0 3 0 1 2 3 0 2 2 2 0 2 0 2 2 2 5 2 2 0 5 2 4 0 6-2 4 2 2 0 2-2 1 0 3 0 1 0 2 0 3 0 1 0 2 2 2 0 2 2 1 2 0 3 4 3-2 0 3 3 3 3 2 5 4 8 4 2 0 5 2 0-5 0-1 0-5 2-2 0-3 6-6 7 2 1 2 4 3 0 3 5 4 2 0 1 2 0 3 2 1 0 3 0 1 0 3 4 6 2 2 0 2 0 1 2 5 2 2 0 1 4 5 0 2 2 4 0 1 0 4 0 1 0 3 2 1 0 2 0 1 0 4 2 1 0 2-4 1 2-2-1 0zM701 350l-3-5 1-1 2-2 1 1 0 3-2 1 2 1zM707 350l-1 0 0-2 2 2zM499 418l-7 0 0-4-2-2-2 0-2-2 0-11 4-6 0-5 2-3 0-1 0-3 0-1 2 0 2-2 0-2 2-2 4-6 2-1 0-2 0-1 0-2 6-4 5 0 2-2 2 0 1-2 3 0 3-2 2 0 4 4 1 0 1-1 1-1 1 3 3 1 1 1 4 6 0 1-2 2 4 1 0 2-2 1 2 1-4 1 2 1 0 2-4 1-4 3 0 1-2 2 0 1-4 4 2 2-2 2 0 3-2 2 0 1-3 3-2 0-1 1 0 1-3 0-2 4-4 2-2 0-4 2-5 0-2 2-2 0 4 1 0 1-2 0zM698 385l-1-1-1 1 1 1zM698 387l0-1 0 1 0 1zM702 393l0-1-2-2 0 2 1 2zM706 400l-2-1 0-2-2-3 0 3 2 2 0 1zM503 418l-1-1 1-1 1 1zM537 466l-2 0-4-2-7-7 0-2 0-3-2-1 0-4 2-1 0-2 2-2 2 0 5-4 8 0 1 2 2 0 2 0 4 4 2 4 0 7-4 6-3 3-2 0-1 0-4 0zM587 472l-10 0-1-2-3 0-2-2-1 0-6-6 2-2 0-7 2-1 3-4 8 0 2-2 5 0 1 0 5 0 6 2 1 0 2 0 5 4 0 4 0 1 0 3 0 1 0 3-2 1 0 2-3 3-2-2-2 0-3 2-2 0-3 0zM617 468l-3 0-2-4 0-3 4-3 2 0 2 2 2 2-2 3z" fill="#1dff00" fill-rule="evenodd"/><path d="M737 438l-2 0-1-2-5 0-3-2-2-7 4-4 0-1-2-2-1 0-5-4 0-2-1 0-4-2-2 0-7-6-2 0 0 3-3 3-3 0-1 0-15 0-2 2-4-2-5-6-1 0-2-2-3 0-1-2-2-5-8-9-2 0-2-1 0-1-2-3 0-1 0-2-2-2 0-6 0-1 0-3 2-2-4-4 0-1-2-3-2-2 0-2 0-1 0-8 0-1 0-2-3-2-2 0-1-2-5 0-3-4-2 0-2-2 0-2-4-2 2-1 0-7-2-2 2-2 0-4-2-2 2-2 0-2 5 2 4-2 2 0 3 0 1 0 3 2 3 0 1 0 2 0 4 4 2 0 2 1 2 5 2 2 0 5 2 4 0 3 0 1 0 4-2 1 2 3-4 3-2 1 0 5 2 1 0 5 2 4 3 2 1-2 2 2 3 2 2 0 1 2 4 4 3 2 2 2 6 2 2 0 2 2 3 0 2 2 0 3 4 2 6 14 3 5 1-4 2-2 0-1-6-6 0-2 0-2-5-5-1 0-2-1 0-6 0-1 0-5 2-2 0-3 6-6 7 2 1 2 4 3 0 2 0 2 0 3 5 4 1 1 2 2 0 2 0 1 0 3 6 11 2 5 2 4 2 2 0 1 2 4 0 9 2 1 1 0 3 4 0 7zM498 418l-5 0-1-2 0-1-2-3-2 0-2-2 0-10 2-2 0-3 4-6 0-2 0-1 0-3 2-2 2-5 4-3 2-4 2-3 2-2-2-2 7-4 2 0 1 0 4-2 2 0 1-2 3 0 1 0 3 0 4 4 2 0 5 0 1 2 1 2 1 0 0 1 2 2 0 1-2 2 4 1 0 2-2 1 2 1-4 1 2 1 0 2 0 1-5 0-5 4 0 1-4 5 0 8-2 2 0 1-3 3-2 0-2 2-2 0-1 2 0 1-3 1-4 0-2 2-2 0-1 2-1-2-2 0-6 4-1 0 1 0 3 1 0 1zM705 410l-1 0 1 0 1 0zM540 464l-5 0-2-2-2-2-1 0-6-6 0-7 2-2 5-5 2 0 1 0 7 0 4 2 3 3 2 2 0 3 0 1 0 1 0 3-2 2-4 5zM583 470l-9 0-5-4-1 0-4-5 2-1 0-7 2-1 3-4 3 0 2 2 1-2 3 0 1 0 5 0 1-2 3 0 1 2 5 0 1 0 2 0 2 0 5 4 0 5 0 2 0 1-2 7-3 3-4-2-1 0-7 0-1 2-4 0zM618 466l-3 0-1-2 0-2 3-2 1 2z" fill="#00e700" fill-rule="evenodd"/><path d="M652 364l-2 0-6-6 0-1-2-2 0-2 0-1 0-4 0-1 0-2 0-1 0-2-1-2-4-2-3 0-1 0-2 0-9-6-2-4 0-4 2-1 0-7-2-1 0-3 2-1 0-2 1-1 4 0 1-2 4 0 2 2 2-2 1 2 5 0 8 4 0 2 2 2 4 6 0 2 0 1 0 3 2 1 0 4-2 1 0 3 0 1 0 3-1 1-1 2-4 0-2 1 2 5 0 1 2 5 0 1 0 6zM496 412l-4 0-1 0-2 0-1-2-2-2 0-2 2-1-2-1 0-3 2-1 2-2 0-3 2-4 0-2 2-3 0-2 4-8 8-12 0-2 1 0 2 0 2 0 3-4 2 0 4-2 4 0 1-2 3 0 1 2 3 2 5 4 2-2 1 3 0 1 0 2 1 0 2 4 1-2 2 2-2 2-2 1 0 2 2 2-2 1-3-2-1 1-4 4 0 1-4 5 0 2 0 7-2 0-2 3-1 1-6 4-3 2 0 2-2 0-1 0-1 0-2 0-1 2-6 0-3 2-3 0zM731 416l-5 0-3-2-2-2-5 0-1 0-2 0-2-2-1 0-4-5 0-5 4-3 0-1-4-4 0-1-2-2 0-3-2 0-2 0-6-5 0-6 0-1 0-1 0-4 4-3 0-1 4-3 2 0 1-2 3 0 6 5 0 2 0 2 0 5 0 1 0 2 6 6 0 2 0 2 4 4 2 6 2 5 4 10 0 2zM681 412l-2 0-2 0-6-6-4-2-3-4-2-3-10-12 0-1-2-2 0-2-4-3 0-3 2-1 0-4 6-7 8 0 8 8 1 0 2 2 14 8 2 0 1 1 2 2 0 1 4 4 2 4 0 2 2 3 0 2 2 4 0 4-3 3-4 0-1 2-12 0zM543 366l-1 0 1-2 1 0 0 1zM498 418l0-1 0-1 0 1zM737 436l-6 0-3-2-2-2 0-2 0-2 2-4 0-2 3-2 1 2 2 0 1-2 2 2 3 3 2 5-2 1 0 2zM539 462l-3 0-4-2-4-5-2-2 0-6 5-5 2 0 2 0 1-2 3 0 1 2 2 0 2 0 2 3 2 4 0 3-2 4-4 4-2 0zM580 470l-1-2-1 2-1-2-3 0-4-2-2-1 0-2-2-3 0-3 4-4 0-1 2-2 2 2 1-2 2 0 1 0 3 0 1-2 13 0 1 2 3 0 3 1 0 1 2 2 0 3-2 1 2 1 0 4-2 1-1 2-3 0-1 0-5 0-1 2-4 0-1 0-5 0z" fill="#00c700" fill-rule="evenodd"/><path d="M647 344l-3-2-3-2-2-2-2 0-1 0-3 0-6-4-5-3 0-2-2-3 2-4 0-6 0-2 2-2-2-2 1-2 3 0 1 0 10 0 1 0 2 0 3 2 2 0 2 2 5 4 4 8 0 2 0 1 0 7-2 4 0 4-6 0zM493 412l-6-4-1-1 4-1 0-5 0-1 0-5 2-1 0-5 4-5 0-2 2-6 2-2 2-3 4-5 0-1 4-1 2-2 2 0 2-2 2-2 2 0 3-2 4 0 6 4 4 4 1 0 0 3 3 3 1 0 0 2-1 2-2 0-1 1 0 1-6 8-4 6 0 2-2 4-2 2 0 1-2 1-2 2-1 0-3 2 0 2-2 0-2 0-1 0-2 0-2 2-4 0-1 2-8 0zM692 410l-13 0-3-2-1 0-5-4-1 0-5-6 0-1-4-3 0-1-4-5 0-1-4-3-4-8 0-3 2-1 0-2 6-6 1 0 2 0 1 0 2 0 2 2 1 0 6 6 3 2 2 2 4 2 2 0 4 2 8 7 2 6 0 2 2 1 0 5 2 1 0 5-4 3-3 0zM708 380l-4 0-2-2-2 0 0-1-2-2 0-5 4-4 4 0 2 2 2 4 0 5zM726 412l-10 0-1 0-2 0-2-2-1 0-4-5 0-5 3-2 5-1-4-8 0-3 1-2 3 2 6 5 4 10 2 2 4 6zM733 432l-2 0-1-3 2-3 2 0 2 2 0 3zM540 458l-5 0-2 0-3-4-2-2 0-3 2-2 3-3 2-2 5 0 2 2 4 3 0 2 0 1 0 2 0 2-4 4zM584 468l-7 0-1-2-2 0-4-3 0-6 4-3 6-4 14 0 1 2 2 0 3 1 0 2 0 4-3 5-4 2-3 0-1 0-4 0z" fill="#00a700" fill-rule="evenodd"/><path d="M650 342l-2-2-2 2-2 0-3-4-2 0-3 0-1-2-5 0-2-2-4-4-2-2 0-5 2-1 0-8 0-1 0-2 3-3 11 0 3 2 2 0 4 2 5 5 2 6 0 2 2 1 0 8-2 4-3 2zM498 408l-2 0-3 0-1-2 0-11 2-4 0-2 4-7 0-2 2-4 2-2 0-3 7-7 6-2 2 0 5-4 2 0 1 0 1 0 2 0 4 2 4 5 2 2 0 4-2 1 0 3-2 4 0 1-2 2-4 8 0 2-2 2-4 4-1 0-7 6-5 2-4 2-6 0zM689 410l-7 0-1-2-2 0-2-2-6-2-3-4-2 0 0-1-4-4 0-1-6-7 0-1-2-2-4-8 0-4 4-4 4-2 2 0 4 2 5 4 6 4 2 0 3 2 2 0 6 4 0 1 6 5 0 2 0 1 2 5 0 1 0 4 2 1 0 2-3 4-2 0-3 0zM540 372l0-1 0-1 0 1zM726 412l-7 0-1 0-4 0-2-2-4-3 0-1-2-2 0-2 0-2 2-2 2 0 1 0 4 0 1-2 4 2 2 0 4 5 2 4 0 3zM540 456l-5 0-3-3 0-3 3-4 5 0 2 1 2 2 0 3-2 2zM587 466l-10 0-3-4 0-4 0-2 8-4 7 0 1 0 3 0 2 2 1 1 0 5-3 4-2 0-3 0z" fill="#00a13d" fill-rule="evenodd"/><path d="M649 340l-4 0-1-2-5 0-4-2-3 0-4-2-4-4 0-2 0-5 0-1 0-7 3-5 2 0 9 0 1 0 2 0 6 4 3 3 4 8 0 8 0 1 0 2zM503 406l-6 0-2 0-1-2 0-3-2-1 0-4 2-1 0-3 4-10 0-2 2-4 2-2 2-4 4-4 1 0 4-2 5-2 6-2 2 0 1 0 2 0 2 2 3 2 2 4 0 3-2 1 0 3-6 14-2 2 0 1-9 8-3 2-2 2-2 0-3 2-3 0zM690 408l-8 0-1-2-2 0-2-2-8-4-3-3 0-1-8-8-2-6-2-5 0-1 0-4 3-4 4 0 9 6 1 0 4 2 2 0 3 2 2 0 6 4 0 1 6 5 0 2 0 1 0 13zM723 410l-8 0-2-2-3-3 0-3 3-2 4 0 1 0 2 0 2 2 1 0 1 3 0 3zM538 452l-2-1 2-1 2 1zM585 464l-2 0-1 0-2 0-2-2-2-3 3-3 4-2 6 0 5 3 0 3-3 2-2 2-3 0z" fill="#00aa95" fill-rule="evenodd"/><path d="M648 338l-2 0-4-2-3 0-1 0-3 0-1-2-2 0-4-2-1 0-1-2-2-2 0-5 2-1 0-4 0-1 0-3 4-4 8 0 1 2 2 0 6 2 5 6 0 2 0 2 2 1 0 8-2 2zM505 404l-7 0-4-3 0-8 2-1 0-2 2-5 0-2 4-8 2-2 0-1 6-6 2 0 5-2 6-2 3 0 1 0 2 0 3 4 0 2 2 1 0 3-2 1 0 3-6 14-10 10-8 4-2 0zM689 406l-7 0-1-2-2 0-4-2-2-2-3 0-4-5 0-1-4-3 0-1-2-2-2-4 0-3 0-1 0-7 0-1 3 0 5 2 4 0 1 0 4 2 2 0 3 2 2 0 6 4 0 1 6 5 0 2 0 1 0 4-2 4 0 3zM717 406l-1-1 1-1 1 1zM588 462l-5 0-1-2 0-2 1-2 6 0 1 3z" fill="#00a6b7" fill-rule="evenodd"/><path d="M648 336l-4 0-1 0-4 0-1-2-3 0-1 0-2 0-2-2-4-3 0-2 0-3 0-1 0-4 2-1 0-2 0-2 3-2 7 0 1 0 2 0 4 2 5 6 2 2 0 2 0 1 0 7 0 2zM507 402l-8 0-3-2 0-8 2-1 0-2 2-3 0-2 4-10 7-6 2-2 2 0 1 0 3 0 1-2 7 0 2 2 1 2 0 2 2 2-2 1 0 4-6 12-8 9-1 0-2 2zM685 404l-5-2-1 0-2 0-4-2-9-9 0-1-2-4 0-8 1-2 1 0 1-2 2 0 1 2 3-2 4 2 2 0 3 2 2 0 4 2 1 0 1 2 0 1 6 5 0 2 0 1 0 4 0 1 0 2-6 4-2 0z" fill="#0092dd" fill-rule="evenodd"/><path d="M648 334l-9 0-1 0-3 0-4-2-3-4 0-8 0-1 0-2 2-2 1-1 2-2 5 0 1 2 2 0 4 2 5 4 0 2 0 2 2 1 0 5zM507 400l-6 0-3-2 0-6 2-1 0-3 0-1 0-2 4-8 2-2 0-1 5-4 2-2 2 0 1 0 3 0 1-2 4 0 2 2 2 2 0 6 0 1 0 2-2 1 0 2-2 4-2 2 0 1-6 7-1 0-2 2zM690 400l-6 0-1 0-4 0-1-2-2 0-2 0-3-4-1 0 0-1-4-3-2-4 0-4 2-1-2-2 0-1 1-4 2 0 1 2 3-2 4 2 2 0 3 2 2 0 6 4 0 1 6 5 0 2 0 1 0 4 0 1 0 2z" fill="#0070dd" fill-rule="evenodd"/><path d="M645 334l-5 0-1-2-3 0-1 0-2 0-3-4-2-2 0-4 2-1 0-2 0-2 3-3 2 0 1 0 2 0 3 0 4 4 1 0 0 1 2 2 2 6 0 1 0 2zM508 398l-5 0-1-2 0-8 0-1 0-2 2-1 0-2 0-2 2-2 0-1 6-5 2-2 2 0 1 0 5 0 2 0 2 3 0 6-2 3 0 2-2 2-8 8zM686 400l-3 0-3-2-5-2-7-6 0-2 0-2-2-1 0-4 0-1 0-1 1-1 2-2 7 0 1 2 2 0 6 2 3 4 0 1 4 3 0 2 0 6-1 2-2 0-2 0z" fill="#0000dd" fill-rule="evenodd"/><path d="M645 332l-8 0-1-2-2 0-4-3 0-7 2-2 1-2 2 0 5 0 4 2 2 2 2 4 0 4 0 2zM509 394l-2 0-3-3 0-5 2-1 0-2 0-2 2-2 0-1 6-4 2 0 4-4 3 2 1 1 0 4-2 3 0 2-2 4-5 4zM685 394l-4 0-1 0-2 0-2-2-4-3 0-2 0-4 2-3 4 0 4 2 4 5 2 2 0 4z" fill="#0000b1" fill-rule="evenodd"/><path d="M643 330l-5 0-4-2-2-5 0-1 0-2 3-2 6 0 2 2 1 0 0 1 2 2 0 4zM521 380l-3 0-2-3 0-2 2-3 4 0 2 1 0 4zM512 386l0-3 2-3 0 3z" fill="#6d009c" fill-rule="evenodd"/><path d="M643 330l-4 0-5-4 0-5 2-1 4 0 4 2 0 2 0 4zM521 376l-3 0 1-2 3 0z" fill="#7d008e" fill-rule="evenodd"/><path d="M642 330l-2 0-2-3 0-4 2-1 3 0 1 2 0 3z" fill="#2f0035" fill-rule="evenodd"/></g></g><defs><clipPath id="ax4"><rect x="243.7" y="144.6" width="135.00" height="109.70"/></clipPath></defs><circle cx="255.9" cy="189.7" r="2.55" fill="#e21fd0" stroke="#fff" stroke-width="0.9"/><circle cx="261.3" cy="192.0" r="2.55" fill="#1ab0e8" stroke="#fff" stroke-width="0.9"/><circle cx="328" cy="182.7" r="2.55" fill="#f7a900" stroke="#fff" stroke-width="0.9"/><rect x="243.7" y="144.6" width="135.00" height="109.70" fill="none" stroke="#999" stroke-width="0.9"/><line x1="266" y1="254.3" x2="266" y2="256.3" stroke="#555" stroke-width="0.7"/><text x="266.00" y="264.10" font-size="8.47" text-anchor="middle" textLength="5.28" lengthAdjust="spacingAndGlyphs">0</text><line x1="316.3" y1="254.3" x2="316.3" y2="256.3" stroke="#555" stroke-width="0.7"/><text x="316.30" y="264.10" font-size="8.47" text-anchor="middle" textLength="5.28" lengthAdjust="spacingAndGlyphs">2</text><line x1="366" y1="254.3" x2="366" y2="256.3" stroke="#555" stroke-width="0.7"/><text x="366.00" y="264.10" font-size="8.47" text-anchor="middle" textLength="5.28" lengthAdjust="spacingAndGlyphs">4</text><line x1="241.7" y1="145.40" x2="243.7" y2="145.40" stroke="#555" stroke-width="0.7"/><text x="239.90" y="148.50" font-size="8.47" text-anchor="end" textLength="5.28" lengthAdjust="spacingAndGlyphs">4</text><line x1="241.7" y1="168.95" x2="243.7" y2="168.95" stroke="#555" stroke-width="0.7"/><text x="239.90" y="172.05" font-size="8.47" text-anchor="end" textLength="5.28" lengthAdjust="spacingAndGlyphs">2</text><line x1="241.7" y1="192.50" x2="243.7" y2="192.50" stroke="#555" stroke-width="0.7"/><text x="239.90" y="195.60" font-size="8.47" text-anchor="end" textLength="5.28" lengthAdjust="spacingAndGlyphs">0</text><line x1="241.7" y1="216.05" x2="243.7" y2="216.05" stroke="#555" stroke-width="0.7"/><text x="239.90" y="219.15" font-size="8.47" text-anchor="end" textLength="12.23" lengthAdjust="spacingAndGlyphs">−2</text><line x1="241.7" y1="239.60" x2="243.7" y2="239.60" stroke="#555" stroke-width="0.7"/><text x="239.90" y="242.70" font-size="8.47" text-anchor="end" textLength="12.23" lengthAdjust="spacingAndGlyphs">−4</text><text x="310.60" y="274.50" font-size="8.47" text-anchor="middle" textLength="21.23" lengthAdjust="spacingAndGlyphs">TIC 1</text><text x="222.10" y="200.50" font-size="8.47" text-anchor="middle" textLength="21.23" lengthAdjust="spacingAndGlyphs" transform="rotate(-90 222.10 200.50)">TIC 2</text><text x="247.80" y="248.50" font-size="11.5" fill="#111" textLength="39.90" lengthAdjust="spacingAndGlyphs">CDR-H2</text><defs><linearGradient id="cbg4" x1="0" y1="0" x2="0" y2="1"><stop offset="0.000" stop-color="#cc1c1c"/><stop offset="0.025" stop-color="#d20000"/><stop offset="0.050" stop-color="#da0000"/><stop offset="0.075" stop-color="#e90000"/><stop offset="0.100" stop-color="#f90000"/><stop offset="0.125" stop-color="#ff2d00"/><stop offset="0.150" stop-color="#ff7500"/><stop offset="0.175" stop-color="#ffa500"/><stop offset="0.200" stop-color="#ffbd00"/><stop offset="0.225" stop-color="#fcd200"/><stop offset="0.250" stop-color="#f4e200"/><stop offset="0.275" stop-color="#e8f000"/><stop offset="0.300" stop-color="#ccf900"/><stop offset="0.325" stop-color="#a1ff00"/><stop offset="0.350" stop-color="#49ff00"/><stop offset="0.375" stop-color="#00fc00"/><stop offset="0.400" stop-color="#00ec00"/><stop offset="0.425" stop-color="#00dc00"/><stop offset="0.450" stop-color="#00cc00"/><stop offset="0.475" stop-color="#00bc00"/><stop offset="0.500" stop-color="#00ac00"/><stop offset="0.525" stop-color="#009c00"/><stop offset="0.550" stop-color="#00a13d"/><stop offset="0.575" stop-color="#00a97d"/><stop offset="0.600" stop-color="#00aa95"/><stop offset="0.625" stop-color="#00aaa5"/><stop offset="0.650" stop-color="#00a4bb"/><stop offset="0.675" stop-color="#009cd3"/><stop offset="0.700" stop-color="#0090dd"/><stop offset="0.725" stop-color="#0080dd"/><stop offset="0.750" stop-color="#005ddd"/><stop offset="0.775" stop-color="#001cdd"/><stop offset="0.800" stop-color="#0000d1"/><stop offset="0.825" stop-color="#0000b9"/><stop offset="0.850" stop-color="#1800a7"/><stop offset="0.875" stop-color="#58009f"/><stop offset="0.900" stop-color="#860097"/><stop offset="0.925" stop-color="#7e008f"/><stop offset="0.950" stop-color="#700080"/><stop offset="0.975" stop-color="#380040"/><stop offset="1.000" stop-color="#000000"/></linearGradient></defs><rect x="386.3" y="144.6" width="5.80" height="109.70" fill="url(#cbg4)"/><line x1="392.1" y1="254.30" x2="393.90000000000003" y2="254.30" stroke="#555" stroke-width="0.6"/><text x="395.10" y="257.40" font-size="8.47" textLength="13.20" lengthAdjust="spacingAndGlyphs">0.0</text><line x1="392.1" y1="242.80" x2="393.90000000000003" y2="242.80" stroke="#555" stroke-width="0.6"/><text x="395.10" y="245.90" font-size="8.47" textLength="13.20" lengthAdjust="spacingAndGlyphs">1.2</text><line x1="392.1" y1="231.31" x2="393.90000000000003" y2="231.31" stroke="#555" stroke-width="0.6"/><text x="395.10" y="234.41" font-size="8.47" textLength="13.20" lengthAdjust="spacingAndGlyphs">2.4</text><line x1="392.1" y1="219.81" x2="393.90000000000003" y2="219.81" stroke="#555" stroke-width="0.6"/><text x="395.10" y="222.91" font-size="8.47" textLength="13.20" lengthAdjust="spacingAndGlyphs">3.6</text><line x1="392.1" y1="208.31" x2="393.90000000000003" y2="208.31" stroke="#555" stroke-width="0.6"/><text x="395.10" y="211.41" font-size="8.47" textLength="13.20" lengthAdjust="spacingAndGlyphs">4.8</text><line x1="392.1" y1="196.82" x2="393.90000000000003" y2="196.82" stroke="#555" stroke-width="0.6"/><text x="395.10" y="199.92" font-size="8.47" textLength="13.20" lengthAdjust="spacingAndGlyphs">6.0</text><line x1="392.1" y1="185.32" x2="393.90000000000003" y2="185.32" stroke="#555" stroke-width="0.6"/><text x="395.10" y="188.42" font-size="8.47" textLength="13.20" lengthAdjust="spacingAndGlyphs">7.2</text><line x1="392.1" y1="173.82" x2="393.90000000000003" y2="173.82" stroke="#555" stroke-width="0.6"/><text x="395.10" y="176.92" font-size="8.47" textLength="13.20" lengthAdjust="spacingAndGlyphs">8.4</text><line x1="392.1" y1="162.32" x2="393.90000000000003" y2="162.32" stroke="#555" stroke-width="0.6"/><text x="395.10" y="165.42" font-size="8.47" textLength="13.20" lengthAdjust="spacingAndGlyphs">9.6</text><line x1="392.1" y1="150.83" x2="393.90000000000003" y2="150.83" stroke="#555" stroke-width="0.6"/><text x="395.10" y="153.93" font-size="8.47" textLength="18.48" lengthAdjust="spacingAndGlyphs">10.8</text><text x="421.50" y="199.00" font-size="8.47" text-anchor="middle" textLength="66.20" lengthAdjust="spacingAndGlyphs" transform="rotate(-90 421.50 199.00)">free energy / kT</text><g clip-path="url(#ax5)"><g transform="scale(0.5)"><path d="M1069 420l-2 0-1-2-2 2-2 0-4-4-2 0-2 0-1-2-4 0-1 0-2 0-1 0-2 0-2 0-1 0-6 0-2 2-5 0-1-1-2-3-3 0-1 2-5-2-3 4-1-2-3 0-2 2-1 0-2 0-2 2-3 0-1-2-3 0-1 0-3 0 0 3-2 1-2-7-1-1-1-2-1 2-3-3 0-2 0-2-2-1-2 0-1 2-2 0-3 0-2 2-1 4-3-1-1-5-3 2-2-2-3 0-1-3 2-1 0-2-3-2-1-1 0-1-2-1 0-2 0-2-2-1 0-2 0-1 0-2 0-1 0-4 2 0 2 2 2 2 2-2-4-2-2-1 0-1 2-2 1 0 2 2 3 0 0-3-3-1-1-1 3-1 2 2 1-3 2-2 2-2 0-5 1 0 2-2 2 2 4-2 2-4 2 0 2-2 5 0 2 4 1-2 2 0 2 4 2 0 2-2 3 2 2 0 4-2 3 0 2-2 1-1 1-1 3 0 1-2 1 1 1 3 2 0 1-2 3 0 1 2 2-2 0-2-1 2-1-1 0-2-2-1 2-2 8 4 0-2 0-1 0-3 2 0 2-2 3 0 3 2 0 2 2 0 2 1 0 1-2 1 0 1 1 0 2 2 1 0 2-2 3 2 3 0 2-2 0-2 2 2 5 0 1-3 1-1 1 2-2 2 3 2 2 0 2 2 3 0 2 2 4 2 2-2 1 2 5 0 2-1-2-2 0-1 1 0 2 2 1 0 0-3-2-1 1-2 3 3 0 2 2 2-2 1 3 0 1 2 0 2 0 2 2 0 1-2 1 2 0-4-3-4-1 0 0-3-2-2 0-1 1 0 1 1 0 2 2 3 2 0 1 0 6 0 1 0 2 0 0-2-2-2 2-2 1 0 3 3-2 2 4 1 0 4 0 1 0 2-2 1 0 1 0 1-1 2-3 0-1 2-2 0-1 1 0 1 0 5 2 1-2 2 1 4 1-2 1-4 2 0 1 2 0 3-2 4 0 2 1 1 1 1-2 2 2 1 1-2 2 0 1 4-2 0-2-2-4 0 0 2-2 0 0-1-2-1 0 5-2 1-1 0-2 0-2-2-2 4-1-1 0-1 0-2-1-2-3 4-2 0-2 0-2 2 0 1 2 1 0 2-3 0-1-2-2 2-2-2-3 0-1 1 0 1 0 2-1 0-2-2-1 0-2 2 1 2 3 0-2 1 0 1-4 3 0 2zM1057 350l-1-1 1-3 1 1zM1038 350l0-1-1-1-1 1 1 1zM1049 350l-2 0-1-2 3 0 1 0zM1000 356l-4-1 2-1 3-2 1 1 0 2zM1106 356l-2 0-2-1 0-1 3 0 1 1zM1089 356l-1 0-2-1 3-1 1 1zM1111 358l-1 0-2-3 2-1 2 2zM976 361l-1-1-1 1 0 1zM990 361l-1-1-1 1 1 1zM1116 365l0-1-2 0 2 2zM1125 370l-1-1 0-3 2 2zM962 374l0-2-2 2 1 0zM1116 376l-2-3 0-1 4 1 0 1zM1129 378l-1-1 2-1 2 1zM962 379l0-2-1-1-1 2 2 2zM947 380l-1-1 1-1 1 0zM1120 394l0-2-2-1 0-3-2-2 5-4 2 0 1 2-2 2-2 1 1 1 1 0 0 3zM956 393l0-2 0-3 2-2 1 0 1 0-1 0-2 0-3 0-2 2 2 2-2 2 2 2zM945 392l-1-1 0-1 2 1zM934 400l-2-1 1-1 3 1zM953 402l-1 0 1-2 1 1zM964 402l-1 0-1 0zM968 404l-1-2-1 1 2 1zM1095 406l-2 0-1-2 1 0 2 0 1 1zM1066 416l0-2-2-2 0-2-1 2-2 0-1 1 0 1 1 0 2 2zM1084 412l0-1 0-1 0 1zM1018 418l-2-1 1-1 1 0z" fill="#a1ff00" fill-rule="evenodd"/><path d="M1069 420l-1 0-2-2-2 0-1 2-2-2-1-1-2-3-3 2-2-2-7 0-1 0-2 0-3 0-1 0-5 0-2 2-2 0-2 0-5-4-1 0-2 2-2 0-1-2-3 0-1 2-5 0-1 2-5 0-1 2-3 0-1-2-3 0-1 0-3 0 0 3-2 1-2-7-6-6 0-2-2-1-2 0-1 2-3 0-1 0-2 0-1-2-1-2-1 0 0 1 2 3 0 2 0 1-1 3-3-1 0-3-1-2-1 0-2 2-3-2-1 0-2-2 4-3-3-3-2 0-3-4 0-1 1-3 1 0 0 3 3 1 1-3 0-3 4-2-2 0-2 0-2 0-5 4-1-1 0-1 0-7 3-1 1 2 2 2 2-1 0-1-6-4 2-2 2 2 3 2 1-3 0-2 4-1 2-1 0-2 0-2 0-2 2-1 0-2-1 2-1-1 0-2 1-1 2-2 1 2 5-2 1 2 1 0 1-1-2-2 0-1 1-2 3 0 1-2 5 0 1 4 3-2 2 2-2 2 1 2 2-2 2 0 1-2 4 2 2 0 4-2 3 0 5-4 4 2 3 0 1-2 3 0 1 2 2 0 0-3-2-1 0-3 0-1 3 4 1-2 2 2 2 0 0-5 0-1 2 0 2-2 2 0 2 0 0 3 2 3 0 2 4 0 1 2 2-2 7 2 2-2 2 0 1 0 3 0 1 0 2 0 2 2 1 0 3 2 3 0 1 2 2 0 2 2 3-2 1 2 2 0 1 2 8-4 1 4 2-2 1 2 0 2 0 2 4-1 0-2 2-1-2-2 3-2 2 0 2 2 1-2 7 0 1 0 0 5 0 2 0 1-3-2-3 0 1 2 3 0 0 3-5 1-1 1-2 2 0 1 0 5 2 1-2 2 0 3 1 1 1-1 2-2 0-1 2 0 0 3-2 3 0 3 0 1 0 3-2 1-1 2-2-2-1 1 0 4-2 1-2-2-5 0-2-2-1 0-2 4-6 1 0 2 2 1 0 2-2-2-5 0-1 0-4 0 0 2 0 2-2 0-2-2-2 2 2 2-2 1 0 2-2 1 0 3zM1038 350l0-2-1 0-1 1 0 1zM1067 350l-1 0 1 0 1 0zM1100 358l0-3-2-2 0-1 1 0 1 2zM1001 356l-3-1 0-1 2-2 2 1zM1093 354l-1-1 1-1 1 1zM1116 356l-1 0-1-1-2-1 3-2 1 2zM1105 356l-3-2 1 0 3 1zM1088 356l0-2 0 1zM1111 356l-2 0-1-1 2-1 2 2zM1095 356l-1 0 1 0 1 0zM1103 360l-1-1 1-1 1 0zM1112 364l-1 0-1 0zM1125 370l-1-1 0-1 2 0zM961 372l-1 0 0-2 2 1zM957 374l-2 0-1-1 3-1 1 1zM962 379l0-2-1-1-1 2 2 2zM1129 378l-1-1 0-1 4 1zM947 380l-1-1 1-1 1 1zM1113 382l-1-1 1-1 1 1zM1121 394l-1 0-2-3 0-5 4-4 2 2 0 1-2 1-2 2 2 3zM945 392l-1-1 1-1 1 1zM1119 398l-1 0 0-1-2-1 3-2 1 1zM936 400l0-1 0-1 0 1zM953 402l-1-1 1-1 1 1zM964 402l-1 0-1 0zM1094 406l0-1 0-1 0 1zM1066 416l0-2-2-2 0-2-1 0-1 1-2 2 0 1 3 2zM1018 418l-2-1 1-1 1 1z" fill="#2cff00" fill-rule="evenodd"/><path d="M1040 346l-4 0 0-1 2-1 2 2zM1069 420l-1 0-2-2-4 0-2-2 1 0 1 0 4 0 1 2 1-1 0-2-4-3 0-2-2 0-2 2-1 2-3 0-1 2-2-4-2 0-1 2-14 0-4 2-1 0-1 0-3 0-1-2-2-2-3 0-2 2-2-2-3 0-2 2-4 0-2 2-4 0-1 0-6 0-4-2-1 2-1 4-1-2 0-5-6-4-2-2 0-2-1-1-3-2-2 2 0 1-2 1-1 0-2 0-1-3-1-1-1 1 2 2 0 5-2 2-2-2 0-4-5 2-5-4 2-2 1 0 1-1-8-6 0-1 2-2 1 2 2 0 1-3 0-2 4-3-1-2-2 2-1 0-2-1 2-3-3-2-1 0 0-2 3 2 2 0 1-2 2-2 0-1 2-1 2-1 2-6 0-2-2-1 0-1 2-1 7 0 2 0 1-2 1-2 2 0 1 0 0-1-2-2 1-1 2 2 1-2 2 0 0 5 1 1 2-2 1 0 1 4 1 0 1-2 1 0 3-2 3 4 2 0 3-4 2 0 2 0 4-4 3 0 1 2 2 0 1 0 3 0 1-2 1 2 4 0 1-4 1 2 3 0 0-3 2-1-2-1 3-3 1 4 2 0 2-2 2 3 1 1 2 0 2 2 2 0 1-2 2 2 1 0 3 0 2-2 2 0 1 0 3 0 1 0 2 0 2 2 3 0 1 2 2 0 2 2 1 0 2 2 3 0 1 2 5 0 4-4 3 0 1 4 3 0 0 1-2 1 0 1 2 1 2 0 2 0 2-1 0-2 0-1 1-2 3 0 1 0 5-2 3 0 1 0 0 5 0 1-4-2-2 0-1 2-2-2-3 1 1 3 2-2 2 0 5 4-2 2-3 0-1 2-2 0 0 2 0 2-2 2 0 1 2 2 0 2 0 2 1 1 1-1 2-3 2 1 0 2-2 3 0 3 0 1 0 2-2 0-1 2-3 1 0 3-2 2-2-2-5 0-2-2-1 0-3 4-3 0-2 0-1 4-2 0-2-2-5 2 0 2 0 1 0 1-1 0-2-2-3 1 0 6-2 1 0 3zM1025 352l-1 0 1 0 1 0zM1099 354l-1-1 1-1 1 0zM1116 356l-1 0-1-1-2-1 3-2 1 2zM1000 356l0-1 0-1zM1105 356l-1-1 0-1 2 1zM1110 356l-2 0 1-2 1 1zM1125 368l-1 0 1 0 1 0zM1104 371l0-1 0 1 0 1zM956 374l-2-1 1-1 1 1zM964 380l0-3-2-1-2 1 0 1 3 2zM1131 378l-3-1 3-1 1 1zM949 390l-1-1 0-8 2-1 4 5 0 1zM1119 388l-1-1 0-2 3-1 2 0 1 1-3 1zM952 392l0-1 0-1zM1121 394l-1-1 0-3 2 0zM945 392l-1-1 1-1 1 1zM1119 398l-1 0-2-2 2-2 2 1zM936 400l0-1 0-1 0 1zM953 402l-1-1 1-1 1 1zM964 402l-1 0-1 0zM1089 406l-1 0 1 0 1 0zM1070 412l2-1-1-1-1 1 0 1zM1018 418l-2-1 2-1 0 1z" fill="#00ef00" fill-rule="evenodd"/><path d="M1038 346l0-2 0 1zM989 418l-1 0 0-5-4-3-2-1 0-2 0-2-2-1-2-2-3 0-1 2-1 2-1 0 0-2-2 0-2-2-2 0 0 2 2 2-2 2 2 2-2 2-2-2 0-3-1-1-2 0-1 1-1 1-1-2-2 0-2-2 4-2 0-2-4-2-4-3 1-1 2 0 2 0 1-2 2-2 0-2 2-1-1-3-2 2-1 0-2-1 2-3-2-2 2 0 2 0 1-2 4 4 1-1 0-5-2-1 2-1 0-2 2-2 0-2 2-2 0-1-2-2 1-1 1 0 3 0 1 0 3 0 1-1 2-2 0-1 1 0 2 0 1-2 1-2 1 2 0 2 1 2 1 0 2-2 1 4 1 0 1-2 4 0 2 2 2 0 4-2 1 0 2-2 2 0 3-2 5 2 4-2 4 0 2 0 3-2 3 0 2-6 1 2 3 0 1 0 2 0 1 1 0 2 3 1 2 2 6 0 1-2 2 0 2-2 2 0 1 0 5 0 3 2 5 2 6 6 3 0 1 0 2 0 3 0 2-2 4-2 1 4 2 1 3 5 1 0 1 4 1 0 0-5 2-1 1 4 1-2 0-1 1-1 2 0 1-2 1 2 2 0 1 1 0 3-2 0-2-2-1 2-1 0-2 2 2 2 0 2-2 3 0 2 0 1 1-2 1 2 0 1 0 2 1 1 1 0 1-2 1 1 0 4-2 1 2 1 0 3-2 0-2 2-2 1-2 1 2 2-2 2-2-2-2 0-1 0-1 0-2-2-2 0-4 4-4 0-2 1 0 3-2-2-2 0-3 2-3 0-4 4-2 0-2 1 1 1 2 0 1 0 0 2-1 2-3 0-2-3-1-3-4 0-3 2 0 2-2 0-1 0-1-1-1-1-1 0-1 0-6 0-1 2-1-2-2 0-1 2-5 0-3 2-2-2-2 0-1-2-3-2-3 0-2 2-1 0-5 0-3 2-3 0-6 2-6 0-4-2-1 2zM1116 356l-2 0 0-2 1 0 1 1zM1109 356l-1-1 1-1 1 1zM1118 364l-1-2-5 0 1-2 4-2 3 0zM1110 362l-2-1 2-1 0 1zM1107 364l-1 0 1-2 1 0 0 1zM970 370l-1 0-1 0 1 0zM956 374l0-1 0-1 0 1zM1131 378l-3-1 3-1 1 1zM949 388l-1-2 2-1 0-3 4 3-2 3-2 0zM960 383l-1-1-1 1 1 1zM1119 388l-1-1 1-1 1 0zM944 392l0-1 0-1 0 1zM952 392l0-1 0-1 0 1zM1121 392l-1-1 0-1 2 1zM1119 398l-1 0-2-2 3-2 1 1zM1104 398l-1 0-1 0 1 0zM964 402l-2-2 0 1 0 1zM1077 410l-1-1 1-1 1 0zM1068 420l-2-1 2-1 2 0 0 1z" fill="#00da00" fill-rule="evenodd"/><path d="M1001 416l-6 0-4-2-1-2-3 0-1-5-4-1 0-2-2 0-3-2-2 0-2 2-1-2 0-1 0-1-1 0-1 2-1-2-2 0-2 2-2-2-4 2-1-2-2-2-2-1 0-1 2-1 0-2 3-3 1 0 0-3 2-1-2-2 0-2 1 0 2 0 1-1 0-2 0-2 0-1 0-2 2-2 4-1 0-2-2-1 1-4 1 2 1 2 1-1 0-3 2-2 2 0 2-2 3 0 1 1-2 1 2 2 0-2 3-2 2 0 1 2 3 0 1 0 3 2 4 0 4-4 1 0 2-2 2 0 2 0 1-2 1 2 6 0 1-2 9 0 1 0 2 0 2-2 2-2 2 0 1 0 1-2 2 0 1 3 0 1 3 0 1 2 2 2 3 0 6-4 2-2 2 2 2 0 1-2 1 2 2 0 2 2 3 0 1 0 2 0 1 2 4 4 2 0 1 2 2 0 1-2 2 2 4-2 2-2 2 1-2 2 2 1 4 4 0 2 4 4 0-1 3-3 1 3-2 2 0 1 2-2 2 1 0 1-4 3 0 3 2 2 4 4-2 2 0 3 0 1-1 2-2 0-1 2-3-2-3 2-2 0-2 0-3 2-2 2-4 0-1 0-3 0-3 2-3 0-1 2-2 0 0 1-4 1-3 4-1-1-1-3-4 0-3 4-4 0-1-2-1 2-7 0-1 0-4 0-1 2-5 0-1 0-2 0-1-2-6-2-4 0-1 0-5 0-4 2-7 2zM1115 368l-1 0 1 0 1 0zM957 386l-1-1 0-1 2 0zM968 384l-1 0-1 0 1 0zM951 386l-1-1 1-1 1 1zM966 390l-1-2-1 1 1 1z" fill="#00c200" fill-rule="evenodd"/><path d="M1001 416l-6 0-4-2-1-2-2-1-2-3-2-2 0-2-1-2-3 0-2-2-2 0-2 0-1-2-1 0-3 2-2 0-1 2-1 0-2-2-4 2-1-2-2-2-2-1 0-1 2-1 0-2 5-3 2 0 2 2 1-2 0-1-2-2 0-3 2 2 3 0 1-2-2-4-4-1 0-2 0-1 0-2 2-2 4-1 0-2-2-1 1-4 1 2 1 2 1 0 0-4 2-2 2 0 1-2 2 0 3 1-2 1 2 2 1-2 3-2 3 4 3 0 1 0 5 0 1 0 2 0 6-6 5 0 1 0 2 0 2 0 10 0 1-2 2 0 1 0 2 0 2-2 1 0-2-1 1-1 3 0 2-2 2 1 0 3 2 2 1 2 4 2 2 0 2-2 1 0 5-6 2 2 2 0 1-2 1 2 2 0 2 2 5 0 2 2 0 1 4 5 2 0 4 0 1 0 3 0 3-2 3 2 0 2 2 1 4 6 3 3 1 1 0 2 0 3 4 6 0 2 0 3 0 1-1 2-2 0-1 2-2-2-2 2-7 0-1 1-2 1-5 0-2 2-2 0-6 2-3 0-4 2-2 2 0 2-1 2-1-4-5 0-2 0-2 4-2-2-10 0-1 2-3 0-1 0-4 0-1 2-2 0-3-2-2 0-2-2-2 0-1-2-3 0-1 2-3 0-1 0-3 0-1 2-6 0-2 0zM957 384l-1 0 1 0 1 0z" fill="#00ac00" fill-rule="evenodd"/><path d="M1000 416l-2 0-2-2 0-2-1 2-2 0-2-4-3 0 0-2-2-2 0-2-5-4-1-1-4-4-1-1-3-2 0-2 2-2 0-5-2-1 4-2 4-3 0-4-3-1-3 4 0 2-2 0-2 2-2 0-4-4 0-2 2-2 4 0 0-1 4-3-2-2 0-2 4-2 2-2 2 0 0 3 2 1 2-2 3 0 1 2 2 0 2 2 4 0 1-2 3 0 4-2 3-2 2-2 18 0 1 0 5-2 4-2 2 0 9 6 4 0 7-6 2 0 1 0 2 0 2 0 2 2 2 0 2 2 2 0 0 1 5 5 1 0 2 2 7 0 4-2 1 1 0 1 1 2 2 0 1 1 0 1 2 2 0 2 4 3-2 2 2 1 0 3 2 1 0 1 4 3 0 6-3 0-1 2-2 0-2 0-3 2-1-2-3 0-4 4-2 0-3 0-1 0-2 0-1 2-3 0-3 2-2 0-5 2-7 0-1 2-2 0-2 2-10 0-1 0-3 0-4 2-6 0-1 0-2 0-2-2-2-2-5 0-1 0-3 0-1 2-3 0-1 0-7 0-4 2zM969 366l-1 0 1-2 1 1zM980 369l-1-1-1 0 0 2zM974 373l0-1 2-1-1-1-2 0-1 2 0 2zM959 402l-1-4-2-1 0-1 0-3 5-3 2 0 2 2 3 2 2 2 0 1-3 3-2 0-1 0-3 0z" fill="#009a08" fill-rule="evenodd"/><path d="M999 414l-1 0 0-2-2-2-2 2-3-2-2-2-1-1 0-2-2-2-6-7-2-2 0-2 0-1 0-4 2-6 0-2 2-1 0-2 0-2 0-1-2-7-3 0-1 2-1-2-1-1 0-1 4-2 2 0 0 2 1 2 2 0 1-3 1-1 1 0 1 2 4 2 9 0 4-2 3-4 2 0 19 0 1-2 2 0 4-2 3 0 1 0 4 2 1 0 3 4 5 0 2-2 2-1 0-2 4-3 1 0 5 0 2 2 2 0 9 8 1 0 4 4 4 0 1-2 3 0 4 2 4 5 0 2 0 1 0 5 4 3 1 0 2 4 1 0 0 5 0 1-2-2-2 2-1 0-4-2-3 4-2 0-3 2-5 0-4 2-3 0-1 2-2 0-6 2-5 0-1 2-5 0-3 2-6 0-1 2-4 0-1 0-3 0-1 2-8 0-6-4-8 0-1 0-4 0-1 2-6 0-1 0-2 0-2 2zM975 370l-1-1 1-1 1 1zM968 378l-1 0-3-3 3-3 1 0 2 3-1 1zM967 400l-2-2-2 0-1 0-1 0-2 0-1-1 0-4 4-1 1 2 2 0 2 2 1 0 2 1zM1099 396l-1 0 1 0 1 0z" fill="#00a668" fill-rule="evenodd"/><path d="M999 412l-2-2-2 0-5-3 0-2-2-2-2-2 0-1-4-5 0-2-2-1 0-8 2-3 0-2 2-4 0-5-2 0 0-2 2-2 2 0 2-2 3 2 3 0 1 2 2 0 1-2 2 0 4-2 5-4 11 0 1 2 4 0 1-2 3 0 1 0 5-2 1 0 3 0 8 4 5 0 2 0 6-6 4 0 1-2 4 4 4 2 11 10 4 0 1-2 3 0 1 2 2 0 1 1 2 4 0 2 0 2-4 4 0 1 6 5 0 2-2 1-2-2-5 6-4 2-2 0-4 2-3 0-8 4-6 0-8 4-5 0-1 0-5 0-4 2-5 0-1 2-1-2-2 0-2 0-4-4-8 0-1 2-4 0-1 0-5 0-1 2-5 0zM978 366l-2-1 2-3 0 1zM985 364l-1-1 1-1 1 1zM959 398l-1-4 2-2 1 0 1 2zM966 398l-2 0-2-2 3 0 1 1z" fill="#00aa95" fill-rule="evenodd"/><path d="M1037 410l-2 0-2 0-7-4-8 0-1 0-4 0-1 2-5 0-1 0-2 0-4 2-6-2-2-2-2-3-6-9 0-2-2-1 0-8 4-7 0-7 2-1 3 0 1 0 6 0 1 0 2 0 2-2 2-2 1 0 4-2 8 0 1 0 8 0 1 0 2 0 4-2 6 0 4 2 2 2 7 0 9-8 12 6 4 4 1 0 4 6 2 0 4 0 1 0 2 0 2 1 2 2-2 2-6 4 0 5 2 3 0 3-3 4-2 0-2 0-1 2-2 0-3 2-2 0-6 2-5 0-1 2-2 0-6 2-9 2-1 0-2 0-1 2-4 0z" fill="#00a8af" fill-rule="evenodd"/><path d="M1037 410l-1-2-3 0-7-4-8 0-1 2-5 0-1 0-4 0-1 2-3 0-1 0-4 0-2-2-1 0-3-2 0-1-6-8-2-4 0-3 0-1 0-1 0-4 2-2 2-4 0-2 2-2 1-2 3 0 1 0 4 0 12-8 6 0 1 2 10 0 4-2 4 0 1-2 2 2 2 0 5 2 7 0 8-4 5 0 4 2 3 2 3 2 1 0 3 3 0 1 2 2 0 3 4 4 0 7 0 1 0 5-2 2-10 6-2 0-1 0-3 0-1 2-4 0-8 4-9 0-4 2-4 0z" fill="#009ecf" fill-rule="evenodd"/><path d="M1041 408l-7 0-8-4-9 0-1 0-7 0-1 2-3 0-1 0-5 0-2 0-3-4 0-1-4-5-4-8 0-3 0-1 0-2 2-2 2-4 4-4 10-4 5-4 2 0 1 0 2 0 1 0 5 0 1 2 4 0 1-2 3 0 1 0 3 0 1-2 6 0 6 4 7 0 8-4 4 0 8 4 7 6 2 6 0 2 2 1 0 8-2 4-9 5-2 0-1 2-4 0-1 0-3 0-5 4-2 0-1 0-4 0-1 2-3 0-1 0-3 0z" fill="#008add" fill-rule="evenodd"/><path d="M1041 406l-6 0-8-4-13 0-1 2-6 0-1 0-7 0-5-5-2-3-2-2-2-4 0-3 0-2 2-4 8-9 5-2 2-2 6-2 6 0 1 0 9 0 1 0 3 0 1-2 3 0 2 0 1 0 3 0 1 2 2 0 1 0 9 0 1 0 2 0 4-2 4 0 8 4 3 3 4 8 2 7-2 1 0 2 0 2-5 5-4 2-2 0-1 0-4 0-8 4-2 0-1 2-4 0-1 0-3 0z" fill="#0070dd" fill-rule="evenodd"/><path d="M1039 406l-5-2-6-2-20 0-1 0-7 0-2 0-4-5-2-4 0-2-2-3 0-4 2-2 9-10 3 0 2-2 4-2 19 0 1-2 3 0 1 0 6 0 1 0 5 2 1 0 4 0 1 0 4 0 4-2 4 0 1 0 2 0 4 2 5 5 2 4 0 2 0 1 0 7-2 4-3 3-4 2-7 2-1 0-2 0-2 2-2 0-4 2-3 0-1 2-3 0-1 0-3 0z" fill="#001cdd" fill-rule="evenodd"/><path d="M1041 404l-4 0-1-2-5 0-1-2-6 0-1 0-21 0-4-4-2-4 0-2-2-3 0-2 2-4 4-4 0-1 1 0 2-2 8-4 17 0 4-2 9 0 1 0 3 0 1 2 8 0 1-2 5 0 2 0 1 0 3 0 2 2 6 4 2 4 0 2 0 1 0 4 0 1 0 2-4 4-1 0-2 2-7 2-9 4-3 0-1 2-3 0-1 0-3 0z" fill="#0000c9" fill-rule="evenodd"/><path d="M1041 402l-7-2-1 0-4 0-1-2-10 0-1 0-7 0-1-2-2 0-5-5 0-1-4-4 0-3 2-1 0-2 4-4 4-2 2 0 1-2 3 0 1 0 11 0 1-2 9 0 1-2 2 2 3 0 1 0 20 0 6 4 1 1 4 6 0 3-2 1 0 2-4 5-2 0-2 0-1 2-2 0-8 4-3 0-1 2-7 0z" fill="#0300aa" fill-rule="evenodd"/><path d="M1043 398l-7 0-1 0-12 0-1-2-10 0-1 0-3 0-4-4 0-3-2-1 2-2 0-1 0-4 3-3 2-2 3 0 6-2 8 0 1-2 4 0 1 0 4 0 1-2 2 2 5 0 1 0 13 0 1 2 2 0 4 2 3 2 0 2 0 5-4 5-7 2-2 2-4 2-3 0-1 2-3 0z" fill="#63009e" fill-rule="evenodd"/><path d="M1042 398l-5 0-1-2-16 0-1 0-8 0-2-2-3-3 0-7 2-4 3 0 1 0 2 0 4-4 2 0 1 0 7 0 1-2 3 0 1 0 11 0 1 0 6 0 1 2 4 0 2 0 4 4 0 2 0 1 0 2-4 4 0 2-4 1-4 4-5 0z" fill="#820093" fill-rule="evenodd"/><path d="M1040 394l-21 0-1 0-3 0-2-2-3-3 0-2 2-3 1 0 2-2 6-4 5 0 1 0 5 0 1-2 12 0 1 2 4 0 4 2 2 1 0 2 0 2-3 5-1 0-2 2-2 0-4 2-3 0z" fill="#700080" fill-rule="evenodd"/><path d="M1036 392l-13 0-5-4 0-2 4-4 5 0 1-2 4 0 1 0 9 0 1 0 2 0 2 2 1 1 0 3-2 2-2 2-2 0-1 0-4 0z" fill="#25002b" fill-rule="evenodd"/></g></g><defs><clipPath id="ax5"><rect x="464.8" y="146.9" width="129.70" height="104.30"/></clipPath></defs><circle cx="527.1" cy="185.7" r="2.55" fill="#f7a900" stroke="#fff" stroke-width="0.9"/><circle cx="515.3" cy="192.1" r="2.55" fill="#e21fd0" stroke="#fff" stroke-width="0.9"/><circle cx="522.0" cy="197.4" r="2.55" fill="#1ab0e8" stroke="#fff" stroke-width="0.9"/><rect x="464.8" y="146.9" width="129.70" height="104.30" fill="none" stroke="#999" stroke-width="0.9"/><line x1="475.8" y1="251.2" x2="475.8" y2="253.2" stroke="#555" stroke-width="0.7"/><text x="475.80" y="261.00" font-size="8.47" text-anchor="middle" textLength="12.23" lengthAdjust="spacingAndGlyphs">−2</text><line x1="518.8" y1="251.2" x2="518.8" y2="253.2" stroke="#555" stroke-width="0.7"/><text x="518.80" y="261.00" font-size="8.47" text-anchor="middle" textLength="5.28" lengthAdjust="spacingAndGlyphs">0</text><line x1="561.8" y1="251.2" x2="561.8" y2="253.2" stroke="#555" stroke-width="0.7"/><text x="561.80" y="261.00" font-size="8.47" text-anchor="middle" textLength="5.28" lengthAdjust="spacingAndGlyphs">2</text><line x1="462.8" y1="156.60" x2="464.8" y2="156.60" stroke="#555" stroke-width="0.7"/><text x="461.00" y="159.70" font-size="8.47" text-anchor="end" textLength="5.28" lengthAdjust="spacingAndGlyphs">2</text><line x1="462.8" y1="175.50" x2="464.8" y2="175.50" stroke="#555" stroke-width="0.7"/><text x="461.00" y="178.60" font-size="8.47" text-anchor="end" textLength="5.28" lengthAdjust="spacingAndGlyphs">1</text><line x1="462.8" y1="194.40" x2="464.8" y2="194.40" stroke="#555" stroke-width="0.7"/><text x="461.00" y="197.50" font-size="8.47" text-anchor="end" textLength="5.28" lengthAdjust="spacingAndGlyphs">0</text><line x1="462.8" y1="213.30" x2="464.8" y2="213.30" stroke="#555" stroke-width="0.7"/><text x="461.00" y="216.40" font-size="8.47" text-anchor="end" textLength="12.23" lengthAdjust="spacingAndGlyphs">−1</text><line x1="462.8" y1="232.20" x2="464.8" y2="232.20" stroke="#555" stroke-width="0.7"/><text x="461.00" y="235.30" font-size="8.47" text-anchor="end" textLength="12.23" lengthAdjust="spacingAndGlyphs">−2</text><line x1="462.8" y1="251.10" x2="464.8" y2="251.10" stroke="#555" stroke-width="0.7"/><text x="461.00" y="254.20" font-size="8.47" text-anchor="end" textLength="12.23" lengthAdjust="spacingAndGlyphs">−3</text><text x="528.90" y="270.50" font-size="8.47" text-anchor="middle" textLength="21.23" lengthAdjust="spacingAndGlyphs">TIC 1</text><text x="443.60" y="200.00" font-size="8.47" text-anchor="middle" textLength="21.23" lengthAdjust="spacingAndGlyphs" transform="rotate(-90 443.60 200.00)">TIC 2</text><text x="589.50" y="245.10" font-size="11.5" text-anchor="end" fill="#111" textLength="39.90" lengthAdjust="spacingAndGlyphs">CDR-H3</text><defs><linearGradient id="cbg5" x1="0" y1="0" x2="0" y2="1"><stop offset="0.000" stop-color="#d4f700"/><stop offset="0.025" stop-color="#c4fc00"/><stop offset="0.050" stop-color="#a1ff00"/><stop offset="0.075" stop-color="#58ff00"/><stop offset="0.100" stop-color="#1dff00"/><stop offset="0.125" stop-color="#00fa00"/><stop offset="0.150" stop-color="#00ec00"/><stop offset="0.175" stop-color="#00e200"/><stop offset="0.200" stop-color="#00d700"/><stop offset="0.225" stop-color="#00ca00"/><stop offset="0.250" stop-color="#00bf00"/><stop offset="0.275" stop-color="#00b400"/><stop offset="0.300" stop-color="#00a700"/><stop offset="0.325" stop-color="#009c00"/><stop offset="0.350" stop-color="#009d1d"/><stop offset="0.375" stop-color="#00a248"/><stop offset="0.400" stop-color="#00a97d"/><stop offset="0.425" stop-color="#00aa90"/><stop offset="0.450" stop-color="#00aa9b"/><stop offset="0.475" stop-color="#00aaa8"/><stop offset="0.500" stop-color="#00a6b7"/><stop offset="0.525" stop-color="#00a0c7"/><stop offset="0.550" stop-color="#009adb"/><stop offset="0.575" stop-color="#0090dd"/><stop offset="0.600" stop-color="#0085dd"/><stop offset="0.625" stop-color="#0078dd"/><stop offset="0.650" stop-color="#0054dd"/><stop offset="0.675" stop-color="#002fdd"/><stop offset="0.700" stop-color="#0000dd"/><stop offset="0.725" stop-color="#0000cd"/><stop offset="0.750" stop-color="#0000bd"/><stop offset="0.775" stop-color="#0300aa"/><stop offset="0.800" stop-color="#2d00a4"/><stop offset="0.825" stop-color="#58009f"/><stop offset="0.850" stop-color="#870098"/><stop offset="0.875" stop-color="#820093"/><stop offset="0.900" stop-color="#7d008e"/><stop offset="0.925" stop-color="#700080"/><stop offset="0.950" stop-color="#4b0055"/><stop offset="0.975" stop-color="#25002b"/><stop offset="1.000" stop-color="#000000"/></linearGradient></defs><rect x="601.8" y="146.9" width="5.50" height="104.30" fill="url(#cbg5)"/><line x1="607.3" y1="251.20" x2="609.0999999999999" y2="251.20" stroke="#555" stroke-width="0.6"/><text x="610.30" y="254.30" font-size="8.47" textLength="18.48" lengthAdjust="spacingAndGlyphs">0.00</text><line x1="607.3" y1="239.87" x2="609.0999999999999" y2="239.87" stroke="#555" stroke-width="0.6"/><text x="610.30" y="242.97" font-size="8.47" textLength="18.48" lengthAdjust="spacingAndGlyphs">0.88</text><line x1="607.3" y1="228.54" x2="609.0999999999999" y2="228.54" stroke="#555" stroke-width="0.6"/><text x="610.30" y="231.64" font-size="8.47" textLength="18.48" lengthAdjust="spacingAndGlyphs">1.76</text><line x1="607.3" y1="217.21" x2="609.0999999999999" y2="217.21" stroke="#555" stroke-width="0.6"/><text x="610.30" y="220.31" font-size="8.47" textLength="18.48" lengthAdjust="spacingAndGlyphs">2.64</text><line x1="607.3" y1="205.87" x2="609.0999999999999" y2="205.87" stroke="#555" stroke-width="0.6"/><text x="610.30" y="208.97" font-size="8.47" textLength="18.48" lengthAdjust="spacingAndGlyphs">3.52</text><line x1="607.3" y1="194.54" x2="609.0999999999999" y2="194.54" stroke="#555" stroke-width="0.6"/><text x="610.30" y="197.64" font-size="8.47" textLength="18.48" lengthAdjust="spacingAndGlyphs">4.40</text><line x1="607.3" y1="183.21" x2="609.0999999999999" y2="183.21" stroke="#555" stroke-width="0.6"/><text x="610.30" y="186.31" font-size="8.47" textLength="18.48" lengthAdjust="spacingAndGlyphs">5.28</text><line x1="607.3" y1="171.88" x2="609.0999999999999" y2="171.88" stroke="#555" stroke-width="0.6"/><text x="610.30" y="174.98" font-size="8.47" textLength="18.48" lengthAdjust="spacingAndGlyphs">6.16</text><line x1="607.3" y1="160.55" x2="609.0999999999999" y2="160.55" stroke="#555" stroke-width="0.6"/><text x="610.30" y="163.65" font-size="8.47" textLength="18.48" lengthAdjust="spacingAndGlyphs">7.04</text><line x1="607.3" y1="149.22" x2="609.0999999999999" y2="149.22" stroke="#555" stroke-width="0.6"/><text x="610.30" y="152.32" font-size="8.47" textLength="18.48" lengthAdjust="spacingAndGlyphs">7.92</text><text x="637.50" y="199.00" font-size="8.47" text-anchor="middle" textLength="66.20" lengthAdjust="spacingAndGlyphs" transform="rotate(-90 637.50 199.00)">free energy / kT</text><text x="-1.60" y="14.90" font-size="17.5" fill="#000">a.</text>
<rect x="51.30" y="335.50" width="4.20" height="2.40" fill="#d3d3d3"/><rect x="57.24" y="337.40" width="4.20" height="0.50" fill="#d3d3d3"/><rect x="69.13" y="333.60" width="4.20" height="4.30" fill="#d3d3d3"/><rect x="81.02" y="330.70" width="4.20" height="7.20" fill="#d3d3d3"/><rect x="86.97" y="337.20" width="4.20" height="0.70" fill="#d3d3d3"/><rect x="92.91" y="337.60" width="4.20" height="0.30" fill="#d3d3d3"/><rect x="98.86" y="332.60" width="4.20" height="5.30" fill="#d3d3d3"/><rect x="104.80" y="324.10" width="4.20" height="13.80" fill="#d3d3d3"/><rect x="113.65" y="391.67" width="2.40" height="4.20" fill="#d3d3d3"/><rect x="113.65" y="386.15" width="0.50" height="4.20" fill="#d3d3d3"/><rect x="113.65" y="375.09" width="4.30" height="4.20" fill="#d3d3d3"/><rect x="113.65" y="364.04" width="7.20" height="4.20" fill="#d3d3d3"/><rect x="113.65" y="358.51" width="0.70" height="4.20" fill="#d3d3d3"/><rect x="113.65" y="352.98" width="0.30" height="4.20" fill="#d3d3d3"/><rect x="113.65" y="347.45" width="5.30" height="4.20" fill="#d3d3d3"/><rect x="113.65" y="341.93" width="13.80" height="4.20" fill="#d3d3d3"/><rect x="145.33" y="337.30" width="4.30" height="0.60" fill="#d3d3d3"/><rect x="155.39" y="331.10" width="4.30" height="6.80" fill="#d3d3d3"/><rect x="170.48" y="337.10" width="4.30" height="0.80" fill="#d3d3d3"/><rect x="175.52" y="337.50" width="4.30" height="0.40" fill="#d3d3d3"/><rect x="195.64" y="332.60" width="4.30" height="5.30" fill="#d3d3d3"/><rect x="200.67" y="324.10" width="4.30" height="13.80" fill="#d3d3d3"/><rect x="208.65" y="391.67" width="2.40" height="4.20" fill="#d3d3d3"/><rect x="208.65" y="386.15" width="0.50" height="4.20" fill="#d3d3d3"/><rect x="208.65" y="375.09" width="4.30" height="4.20" fill="#d3d3d3"/><rect x="208.65" y="364.04" width="7.20" height="4.20" fill="#d3d3d3"/><rect x="208.65" y="358.51" width="0.70" height="4.20" fill="#d3d3d3"/><rect x="208.65" y="352.98" width="0.30" height="4.20" fill="#d3d3d3"/><rect x="208.65" y="347.45" width="5.30" height="4.20" fill="#d3d3d3"/><rect x="208.65" y="341.93" width="13.80" height="4.20" fill="#d3d3d3"/><rect x="241.08" y="324.10" width="6.00" height="13.80" fill="#d3d3d3"/><rect x="257.43" y="336.90" width="6.00" height="1.00" fill="#d3d3d3"/><rect x="265.60" y="337.10" width="6.00" height="0.80" fill="#d3d3d3"/><rect x="273.77" y="337.50" width="6.00" height="0.40" fill="#d3d3d3"/><rect x="281.95" y="330.70" width="6.00" height="7.20" fill="#d3d3d3"/><rect x="290.12" y="337.50" width="6.00" height="0.40" fill="#d3d3d3"/><rect x="302.10" y="391.67" width="2.40" height="4.20" fill="#d3d3d3"/><rect x="302.10" y="386.15" width="0.50" height="4.20" fill="#d3d3d3"/><rect x="302.10" y="375.09" width="4.30" height="4.20" fill="#d3d3d3"/><rect x="302.10" y="364.04" width="7.20" height="4.20" fill="#d3d3d3"/><rect x="302.10" y="358.51" width="0.70" height="4.20" fill="#d3d3d3"/><rect x="302.10" y="352.98" width="0.30" height="4.20" fill="#d3d3d3"/><rect x="302.10" y="347.45" width="5.30" height="4.20" fill="#d3d3d3"/><rect x="302.10" y="341.93" width="13.80" height="4.20" fill="#d3d3d3"/><rect x="332.41" y="337.50" width="4.50" height="0.40" fill="#d3d3d3"/><rect x="336.77" y="336.90" width="4.50" height="1.00" fill="#d3d3d3"/><rect x="341.13" y="331.30" width="4.50" height="6.60" fill="#d3d3d3"/><rect x="349.85" y="337.50" width="4.50" height="0.40" fill="#d3d3d3"/><rect x="354.21" y="337.10" width="4.50" height="0.80" fill="#d3d3d3"/><rect x="358.57" y="337.60" width="4.50" height="0.30" fill="#d3d3d3"/><rect x="362.93" y="324.10" width="4.50" height="13.80" fill="#d3d3d3"/><rect x="367.29" y="337.30" width="4.50" height="0.60" fill="#d3d3d3"/><rect x="371.65" y="334.40" width="4.50" height="3.50" fill="#d3d3d3"/><rect x="384.73" y="333.60" width="4.50" height="4.30" fill="#d3d3d3"/><rect x="389.09" y="337.30" width="4.50" height="0.60" fill="#d3d3d3"/><rect x="396.50" y="391.67" width="2.40" height="4.20" fill="#d3d3d3"/><rect x="396.50" y="386.15" width="0.50" height="4.20" fill="#d3d3d3"/><rect x="396.50" y="375.09" width="4.30" height="4.20" fill="#d3d3d3"/><rect x="396.50" y="364.04" width="7.20" height="4.20" fill="#d3d3d3"/><rect x="396.50" y="358.51" width="0.70" height="4.20" fill="#d3d3d3"/><rect x="396.50" y="352.98" width="0.30" height="4.20" fill="#d3d3d3"/><rect x="396.50" y="347.45" width="5.30" height="4.20" fill="#d3d3d3"/><rect x="396.50" y="341.93" width="13.80" height="4.20" fill="#d3d3d3"/><rect x="428.95" y="324.10" width="4.60" height="13.80" fill="#d3d3d3"/><rect x="434.89" y="337.60" width="4.60" height="0.30" fill="#d3d3d3"/><rect x="440.84" y="337.60" width="4.60" height="0.30" fill="#d3d3d3"/><rect x="452.73" y="337.30" width="4.60" height="0.60" fill="#d3d3d3"/><rect x="464.62" y="331.70" width="4.60" height="6.20" fill="#d3d3d3"/><rect x="476.51" y="337.60" width="4.60" height="0.30" fill="#d3d3d3"/><rect x="482.45" y="337.00" width="4.60" height="0.90" fill="#d3d3d3"/><rect x="491.50" y="391.67" width="2.40" height="4.20" fill="#d3d3d3"/><rect x="491.50" y="386.15" width="0.50" height="4.20" fill="#d3d3d3"/><rect x="491.50" y="375.09" width="4.30" height="4.20" fill="#d3d3d3"/><rect x="491.50" y="364.04" width="7.20" height="4.20" fill="#d3d3d3"/><rect x="491.50" y="358.51" width="0.70" height="4.20" fill="#d3d3d3"/><rect x="491.50" y="352.98" width="0.30" height="4.20" fill="#d3d3d3"/><rect x="491.50" y="347.45" width="5.30" height="4.20" fill="#d3d3d3"/><rect x="491.50" y="341.93" width="13.80" height="4.20" fill="#d3d3d3"/><rect x="523.50" y="332.60" width="4.50" height="5.30" fill="#d3d3d3"/><rect x="529.44" y="335.70" width="4.50" height="2.20" fill="#d3d3d3"/><rect x="535.39" y="337.10" width="4.50" height="0.80" fill="#d3d3d3"/><rect x="547.28" y="337.30" width="4.50" height="0.60" fill="#d3d3d3"/><rect x="553.22" y="336.90" width="4.50" height="1.00" fill="#d3d3d3"/><rect x="559.17" y="337.60" width="4.50" height="0.30" fill="#d3d3d3"/><rect x="565.11" y="336.60" width="4.50" height="1.30" fill="#d3d3d3"/><rect x="577.00" y="324.10" width="4.50" height="13.80" fill="#d3d3d3"/><rect x="586.00" y="391.67" width="2.40" height="4.20" fill="#d3d3d3"/><rect x="586.00" y="386.15" width="0.50" height="4.20" fill="#d3d3d3"/><rect x="586.00" y="375.09" width="4.30" height="4.20" fill="#d3d3d3"/><rect x="586.00" y="364.04" width="7.20" height="4.20" fill="#d3d3d3"/><rect x="586.00" y="358.51" width="0.70" height="4.20" fill="#d3d3d3"/><rect x="586.00" y="352.98" width="0.30" height="4.20" fill="#d3d3d3"/><rect x="586.00" y="347.45" width="5.30" height="4.20" fill="#d3d3d3"/><rect x="586.00" y="341.93" width="13.80" height="4.20" fill="#d3d3d3"/><rect x="51.30" y="424.45" width="4.20" height="2.40" fill="#d3d3d3"/><rect x="57.24" y="426.35" width="4.20" height="0.50" fill="#d3d3d3"/><rect x="69.13" y="422.55" width="4.20" height="4.30" fill="#d3d3d3"/><rect x="81.02" y="419.65" width="4.20" height="7.20" fill="#d3d3d3"/><rect x="86.97" y="426.15" width="4.20" height="0.70" fill="#d3d3d3"/><rect x="92.91" y="426.55" width="4.20" height="0.30" fill="#d3d3d3"/><rect x="98.86" y="421.55" width="4.20" height="5.30" fill="#d3d3d3"/><rect x="104.80" y="413.05" width="4.20" height="13.80" fill="#d3d3d3"/><rect x="113.65" y="481.42" width="0.60" height="4.30" fill="#d3d3d3"/><rect x="113.65" y="472.07" width="6.80" height="4.30" fill="#d3d3d3"/><rect x="113.65" y="458.04" width="0.80" height="4.30" fill="#d3d3d3"/><rect x="113.65" y="453.36" width="0.40" height="4.30" fill="#d3d3d3"/><rect x="113.65" y="434.65" width="5.30" height="4.30" fill="#d3d3d3"/><rect x="113.65" y="429.98" width="13.80" height="4.30" fill="#d3d3d3"/><rect x="145.33" y="426.25" width="4.30" height="0.60" fill="#d3d3d3"/><rect x="155.39" y="420.05" width="4.30" height="6.80" fill="#d3d3d3"/><rect x="170.48" y="426.05" width="4.30" height="0.80" fill="#d3d3d3"/><rect x="175.52" y="426.45" width="4.30" height="0.40" fill="#d3d3d3"/><rect x="195.64" y="421.55" width="4.30" height="5.30" fill="#d3d3d3"/><rect x="200.67" y="413.05" width="4.30" height="13.80" fill="#d3d3d3"/><rect x="208.65" y="481.42" width="0.60" height="4.30" fill="#d3d3d3"/><rect x="208.65" y="472.07" width="6.80" height="4.30" fill="#d3d3d3"/><rect x="208.65" y="458.04" width="0.80" height="4.30" fill="#d3d3d3"/><rect x="208.65" y="453.36" width="0.40" height="4.30" fill="#d3d3d3"/><rect x="208.65" y="434.65" width="5.30" height="4.30" fill="#d3d3d3"/><rect x="208.65" y="429.98" width="13.80" height="4.30" fill="#d3d3d3"/><rect x="241.08" y="413.05" width="6.00" height="13.80" fill="#d3d3d3"/><rect x="257.43" y="425.85" width="6.00" height="1.00" fill="#d3d3d3"/><rect x="265.60" y="426.05" width="6.00" height="0.80" fill="#d3d3d3"/><rect x="273.77" y="426.45" width="6.00" height="0.40" fill="#d3d3d3"/><rect x="281.95" y="419.65" width="6.00" height="7.20" fill="#d3d3d3"/><rect x="290.12" y="426.45" width="6.00" height="0.40" fill="#d3d3d3"/><rect x="302.10" y="481.42" width="0.60" height="4.30" fill="#d3d3d3"/><rect x="302.10" y="472.07" width="6.80" height="4.30" fill="#d3d3d3"/><rect x="302.10" y="458.04" width="0.80" height="4.30" fill="#d3d3d3"/><rect x="302.10" y="453.36" width="0.40" height="4.30" fill="#d3d3d3"/><rect x="302.10" y="434.65" width="5.30" height="4.30" fill="#d3d3d3"/><rect x="302.10" y="429.98" width="13.80" height="4.30" fill="#d3d3d3"/><rect x="332.41" y="426.45" width="4.50" height="0.40" fill="#d3d3d3"/><rect x="336.77" y="425.85" width="4.50" height="1.00" fill="#d3d3d3"/><rect x="341.13" y="420.25" width="4.50" height="6.60" fill="#d3d3d3"/><rect x="349.85" y="426.45" width="4.50" height="0.40" fill="#d3d3d3"/><rect x="354.21" y="426.05" width="4.50" height="0.80" fill="#d3d3d3"/><rect x="358.57" y="426.55" width="4.50" height="0.30" fill="#d3d3d3"/><rect x="362.93" y="413.05" width="4.50" height="13.80" fill="#d3d3d3"/><rect x="367.29" y="426.25" width="4.50" height="0.60" fill="#d3d3d3"/><rect x="371.65" y="423.35" width="4.50" height="3.50" fill="#d3d3d3"/><rect x="384.73" y="422.55" width="4.50" height="4.30" fill="#d3d3d3"/><rect x="389.09" y="426.25" width="4.50" height="0.60" fill="#d3d3d3"/><rect x="396.50" y="481.42" width="0.60" height="4.30" fill="#d3d3d3"/><rect x="396.50" y="472.07" width="6.80" height="4.30" fill="#d3d3d3"/><rect x="396.50" y="458.04" width="0.80" height="4.30" fill="#d3d3d3"/><rect x="396.50" y="453.36" width="0.40" height="4.30" fill="#d3d3d3"/><rect x="396.50" y="434.65" width="5.30" height="4.30" fill="#d3d3d3"/><rect x="396.50" y="429.98" width="13.80" height="4.30" fill="#d3d3d3"/><rect x="428.95" y="413.05" width="4.60" height="13.80" fill="#d3d3d3"/><rect x="434.89" y="426.55" width="4.60" height="0.30" fill="#d3d3d3"/><rect x="440.84" y="426.55" width="4.60" height="0.30" fill="#d3d3d3"/><rect x="452.73" y="426.25" width="4.60" height="0.60" fill="#d3d3d3"/><rect x="464.62" y="420.65" width="4.60" height="6.20" fill="#d3d3d3"/><rect x="476.51" y="426.55" width="4.60" height="0.30" fill="#d3d3d3"/><rect x="482.45" y="425.95" width="4.60" height="0.90" fill="#d3d3d3"/><rect x="491.50" y="481.42" width="0.60" height="4.30" fill="#d3d3d3"/><rect x="491.50" y="472.07" width="6.80" height="4.30" fill="#d3d3d3"/><rect x="491.50" y="458.04" width="0.80" height="4.30" fill="#d3d3d3"/><rect x="491.50" y="453.36" width="0.40" height="4.30" fill="#d3d3d3"/><rect x="491.50" y="434.65" width="5.30" height="4.30" fill="#d3d3d3"/><rect x="491.50" y="429.98" width="13.80" height="4.30" fill="#d3d3d3"/><rect x="523.50" y="421.55" width="4.50" height="5.30" fill="#d3d3d3"/><rect x="529.44" y="424.65" width="4.50" height="2.20" fill="#d3d3d3"/><rect x="535.39" y="426.05" width="4.50" height="0.80" fill="#d3d3d3"/><rect x="547.28" y="426.25" width="4.50" height="0.60" fill="#d3d3d3"/><rect x="553.22" y="425.85" width="4.50" height="1.00" fill="#d3d3d3"/><rect x="559.17" y="426.55" width="4.50" height="0.30" fill="#d3d3d3"/><rect x="565.11" y="425.55" width="4.50" height="1.30" fill="#d3d3d3"/><rect x="577.00" y="413.05" width="4.50" height="13.80" fill="#d3d3d3"/><rect x="586.00" y="481.42" width="0.60" height="4.30" fill="#d3d3d3"/><rect x="586.00" y="472.07" width="6.80" height="4.30" fill="#d3d3d3"/><rect x="586.00" y="458.04" width="0.80" height="4.30" fill="#d3d3d3"/><rect x="586.00" y="453.36" width="0.40" height="4.30" fill="#d3d3d3"/><rect x="586.00" y="434.65" width="5.30" height="4.30" fill="#d3d3d3"/><rect x="586.00" y="429.98" width="13.80" height="4.30" fill="#d3d3d3"/><rect x="51.30" y="513.50" width="4.20" height="2.40" fill="#d3d3d3"/><rect x="57.24" y="515.40" width="4.20" height="0.50" fill="#d3d3d3"/><rect x="69.13" y="511.60" width="4.20" height="4.30" fill="#d3d3d3"/><rect x="81.02" y="508.70" width="4.20" height="7.20" fill="#d3d3d3"/><rect x="86.97" y="515.20" width="4.20" height="0.70" fill="#d3d3d3"/><rect x="92.91" y="515.60" width="4.20" height="0.30" fill="#d3d3d3"/><rect x="98.86" y="510.60" width="4.20" height="5.30" fill="#d3d3d3"/><rect x="104.80" y="502.10" width="4.20" height="13.80" fill="#d3d3d3"/><rect x="113.65" y="566.70" width="13.80" height="6.00" fill="#d3d3d3"/><rect x="113.65" y="551.50" width="1.00" height="6.00" fill="#d3d3d3"/><rect x="113.65" y="543.90" width="0.80" height="6.00" fill="#d3d3d3"/><rect x="113.65" y="536.30" width="0.40" height="6.00" fill="#d3d3d3"/><rect x="113.65" y="528.70" width="7.20" height="6.00" fill="#d3d3d3"/><rect x="113.65" y="521.10" width="0.40" height="6.00" fill="#d3d3d3"/><rect x="145.33" y="515.30" width="4.30" height="0.60" fill="#d3d3d3"/><rect x="155.39" y="509.10" width="4.30" height="6.80" fill="#d3d3d3"/><rect x="170.48" y="515.10" width="4.30" height="0.80" fill="#d3d3d3"/><rect x="175.52" y="515.50" width="4.30" height="0.40" fill="#d3d3d3"/><rect x="195.64" y="510.60" width="4.30" height="5.30" fill="#d3d3d3"/><rect x="200.67" y="502.10" width="4.30" height="13.80" fill="#d3d3d3"/><rect x="208.65" y="566.70" width="13.80" height="6.00" fill="#d3d3d3"/><rect x="208.65" y="551.50" width="1.00" height="6.00" fill="#d3d3d3"/><rect x="208.65" y="543.90" width="0.80" height="6.00" fill="#d3d3d3"/><rect x="208.65" y="536.30" width="0.40" height="6.00" fill="#d3d3d3"/><rect x="208.65" y="528.70" width="7.20" height="6.00" fill="#d3d3d3"/><rect x="208.65" y="521.10" width="0.40" height="6.00" fill="#d3d3d3"/><rect x="241.08" y="502.10" width="6.00" height="13.80" fill="#d3d3d3"/><rect x="257.43" y="514.90" width="6.00" height="1.00" fill="#d3d3d3"/><rect x="265.60" y="515.10" width="6.00" height="0.80" fill="#d3d3d3"/><rect x="273.77" y="515.50" width="6.00" height="0.40" fill="#d3d3d3"/><rect x="281.95" y="508.70" width="6.00" height="7.20" fill="#d3d3d3"/><rect x="290.12" y="515.50" width="6.00" height="0.40" fill="#d3d3d3"/><rect x="302.10" y="566.70" width="13.80" height="6.00" fill="#d3d3d3"/><rect x="302.10" y="551.50" width="1.00" height="6.00" fill="#d3d3d3"/><rect x="302.10" y="543.90" width="0.80" height="6.00" fill="#d3d3d3"/><rect x="302.10" y="536.30" width="0.40" height="6.00" fill="#d3d3d3"/><rect x="302.10" y="528.70" width="7.20" height="6.00" fill="#d3d3d3"/><rect x="302.10" y="521.10" width="0.40" height="6.00" fill="#d3d3d3"/><rect x="332.41" y="515.50" width="4.50" height="0.40" fill="#d3d3d3"/><rect x="336.77" y="514.90" width="4.50" height="1.00" fill="#d3d3d3"/><rect x="341.13" y="509.30" width="4.50" height="6.60" fill="#d3d3d3"/><rect x="349.85" y="515.50" width="4.50" height="0.40" fill="#d3d3d3"/><rect x="354.21" y="515.10" width="4.50" height="0.80" fill="#d3d3d3"/><rect x="358.57" y="515.60" width="4.50" height="0.30" fill="#d3d3d3"/><rect x="362.93" y="502.10" width="4.50" height="13.80" fill="#d3d3d3"/><rect x="367.29" y="515.30" width="4.50" height="0.60" fill="#d3d3d3"/><rect x="371.65" y="512.40" width="4.50" height="3.50" fill="#d3d3d3"/><rect x="384.73" y="511.60" width="4.50" height="4.30" fill="#d3d3d3"/><rect x="389.09" y="515.30" width="4.50" height="0.60" fill="#d3d3d3"/><rect x="396.50" y="566.70" width="13.80" height="6.00" fill="#d3d3d3"/><rect x="396.50" y="551.50" width="1.00" height="6.00" fill="#d3d3d3"/><rect x="396.50" y="543.90" width="0.80" height="6.00" fill="#d3d3d3"/><rect x="396.50" y="536.30" width="0.40" height="6.00" fill="#d3d3d3"/><rect x="396.50" y="528.70" width="7.20" height="6.00" fill="#d3d3d3"/><rect x="396.50" y="521.10" width="0.40" height="6.00" fill="#d3d3d3"/><rect x="428.95" y="502.10" width="4.60" height="13.80" fill="#d3d3d3"/><rect x="434.89" y="515.60" width="4.60" height="0.30" fill="#d3d3d3"/><rect x="440.84" y="515.60" width="4.60" height="0.30" fill="#d3d3d3"/><rect x="452.73" y="515.30" width="4.60" height="0.60" fill="#d3d3d3"/><rect x="464.62" y="509.70" width="4.60" height="6.20" fill="#d3d3d3"/><rect x="476.51" y="515.60" width="4.60" height="0.30" fill="#d3d3d3"/><rect x="482.45" y="515.00" width="4.60" height="0.90" fill="#d3d3d3"/><rect x="491.50" y="566.70" width="13.80" height="6.00" fill="#d3d3d3"/><rect x="491.50" y="551.50" width="1.00" height="6.00" fill="#d3d3d3"/><rect x="491.50" y="543.90" width="0.80" height="6.00" fill="#d3d3d3"/><rect x="491.50" y="536.30" width="0.40" height="6.00" fill="#d3d3d3"/><rect x="491.50" y="528.70" width="7.20" height="6.00" fill="#d3d3d3"/><rect x="491.50" y="521.10" width="0.40" height="6.00" fill="#d3d3d3"/><rect x="523.50" y="510.60" width="4.50" height="5.30" fill="#d3d3d3"/><rect x="529.44" y="513.70" width="4.50" height="2.20" fill="#d3d3d3"/><rect x="535.39" y="515.10" width="4.50" height="0.80" fill="#d3d3d3"/><rect x="547.28" y="515.30" width="4.50" height="0.60" fill="#d3d3d3"/><rect x="553.22" y="514.90" width="4.50" height="1.00" fill="#d3d3d3"/><rect x="559.17" y="515.60" width="4.50" height="0.30" fill="#d3d3d3"/><rect x="565.11" y="514.60" width="4.50" height="1.30" fill="#d3d3d3"/><rect x="577.00" y="502.10" width="4.50" height="13.80" fill="#d3d3d3"/><rect x="586.00" y="566.70" width="13.80" height="6.00" fill="#d3d3d3"/><rect x="586.00" y="551.50" width="1.00" height="6.00" fill="#d3d3d3"/><rect x="586.00" y="543.90" width="0.80" height="6.00" fill="#d3d3d3"/><rect x="586.00" y="536.30" width="0.40" height="6.00" fill="#d3d3d3"/><rect x="586.00" y="528.70" width="7.20" height="6.00" fill="#d3d3d3"/><rect x="586.00" y="521.10" width="0.40" height="6.00" fill="#d3d3d3"/><rect x="51.30" y="602.45" width="4.20" height="2.40" fill="#d3d3d3"/><rect x="57.24" y="604.35" width="4.20" height="0.50" fill="#d3d3d3"/><rect x="69.13" y="600.55" width="4.20" height="4.30" fill="#d3d3d3"/><rect x="81.02" y="597.65" width="4.20" height="7.20" fill="#d3d3d3"/><rect x="86.97" y="604.15" width="4.20" height="0.70" fill="#d3d3d3"/><rect x="92.91" y="604.55" width="4.20" height="0.30" fill="#d3d3d3"/><rect x="98.86" y="599.55" width="4.20" height="5.30" fill="#d3d3d3"/><rect x="104.80" y="591.05" width="4.20" height="13.80" fill="#d3d3d3"/><rect x="113.65" y="659.95" width="0.40" height="4.50" fill="#d3d3d3"/><rect x="113.65" y="655.89" width="1.00" height="4.50" fill="#d3d3d3"/><rect x="113.65" y="651.84" width="6.60" height="4.50" fill="#d3d3d3"/><rect x="113.65" y="643.73" width="0.40" height="4.50" fill="#d3d3d3"/><rect x="113.65" y="639.68" width="0.80" height="4.50" fill="#d3d3d3"/><rect x="113.65" y="635.63" width="0.30" height="4.50" fill="#d3d3d3"/><rect x="113.65" y="631.57" width="13.80" height="4.50" fill="#d3d3d3"/><rect x="113.65" y="627.52" width="0.60" height="4.50" fill="#d3d3d3"/><rect x="113.65" y="623.47" width="3.50" height="4.50" fill="#d3d3d3"/><rect x="113.65" y="611.31" width="4.30" height="4.50" fill="#d3d3d3"/><rect x="113.65" y="607.25" width="0.60" height="4.50" fill="#d3d3d3"/><rect x="145.33" y="604.25" width="4.30" height="0.60" fill="#d3d3d3"/><rect x="155.39" y="598.05" width="4.30" height="6.80" fill="#d3d3d3"/><rect x="170.48" y="604.05" width="4.30" height="0.80" fill="#d3d3d3"/><rect x="175.52" y="604.45" width="4.30" height="0.40" fill="#d3d3d3"/><rect x="195.64" y="599.55" width="4.30" height="5.30" fill="#d3d3d3"/><rect x="200.67" y="591.05" width="4.30" height="13.80" fill="#d3d3d3"/><rect x="208.65" y="659.95" width="0.40" height="4.50" fill="#d3d3d3"/><rect x="208.65" y="655.89" width="1.00" height="4.50" fill="#d3d3d3"/><rect x="208.65" y="651.84" width="6.60" height="4.50" fill="#d3d3d3"/><rect x="208.65" y="643.73" width="0.40" height="4.50" fill="#d3d3d3"/><rect x="208.65" y="639.68" width="0.80" height="4.50" fill="#d3d3d3"/><rect x="208.65" y="635.63" width="0.30" height="4.50" fill="#d3d3d3"/><rect x="208.65" y="631.57" width="13.80" height="4.50" fill="#d3d3d3"/><rect x="208.65" y="627.52" width="0.60" height="4.50" fill="#d3d3d3"/><rect x="208.65" y="623.47" width="3.50" height="4.50" fill="#d3d3d3"/><rect x="208.65" y="611.31" width="4.30" height="4.50" fill="#d3d3d3"/><rect x="208.65" y="607.25" width="0.60" height="4.50" fill="#d3d3d3"/><rect x="241.08" y="591.05" width="6.00" height="13.80" fill="#d3d3d3"/><rect x="257.43" y="603.85" width="6.00" height="1.00" fill="#d3d3d3"/><rect x="265.60" y="604.05" width="6.00" height="0.80" fill="#d3d3d3"/><rect x="273.77" y="604.45" width="6.00" height="0.40" fill="#d3d3d3"/><rect x="281.95" y="597.65" width="6.00" height="7.20" fill="#d3d3d3"/><rect x="290.12" y="604.45" width="6.00" height="0.40" fill="#d3d3d3"/><rect x="302.10" y="659.95" width="0.40" height="4.50" fill="#d3d3d3"/><rect x="302.10" y="655.89" width="1.00" height="4.50" fill="#d3d3d3"/><rect x="302.10" y="651.84" width="6.60" height="4.50" fill="#d3d3d3"/><rect x="302.10" y="643.73" width="0.40" height="4.50" fill="#d3d3d3"/><rect x="302.10" y="639.68" width="0.80" height="4.50" fill="#d3d3d3"/><rect x="302.10" y="635.63" width="0.30" height="4.50" fill="#d3d3d3"/><rect x="302.10" y="631.57" width="13.80" height="4.50" fill="#d3d3d3"/><rect x="302.10" y="627.52" width="0.60" height="4.50" fill="#d3d3d3"/><rect x="302.10" y="623.47" width="3.50" height="4.50" fill="#d3d3d3"/><rect x="302.10" y="611.31" width="4.30" height="4.50" fill="#d3d3d3"/><rect x="302.10" y="607.25" width="0.60" height="4.50" fill="#d3d3d3"/><rect x="332.41" y="604.45" width="4.50" height="0.40" fill="#d3d3d3"/><rect x="336.77" y="603.85" width="4.50" height="1.00" fill="#d3d3d3"/><rect x="341.13" y="598.25" width="4.50" height="6.60" fill="#d3d3d3"/><rect x="349.85" y="604.45" width="4.50" height="0.40" fill="#d3d3d3"/><rect x="354.21" y="604.05" width="4.50" height="0.80" fill="#d3d3d3"/><rect x="358.57" y="604.55" width="4.50" height="0.30" fill="#d3d3d3"/><rect x="362.93" y="591.05" width="4.50" height="13.80" fill="#d3d3d3"/><rect x="367.29" y="604.25" width="4.50" height="0.60" fill="#d3d3d3"/><rect x="371.65" y="601.35" width="4.50" height="3.50" fill="#d3d3d3"/><rect x="384.73" y="600.55" width="4.50" height="4.30" fill="#d3d3d3"/><rect x="389.09" y="604.25" width="4.50" height="0.60" fill="#d3d3d3"/><rect x="396.50" y="659.95" width="0.40" height="4.50" fill="#d3d3d3"/><rect x="396.50" y="655.89" width="1.00" height="4.50" fill="#d3d3d3"/><rect x="396.50" y="651.84" width="6.60" height="4.50" fill="#d3d3d3"/><rect x="396.50" y="643.73" width="0.40" height="4.50" fill="#d3d3d3"/><rect x="396.50" y="639.68" width="0.80" height="4.50" fill="#d3d3d3"/><rect x="396.50" y="635.63" width="0.30" height="4.50" fill="#d3d3d3"/><rect x="396.50" y="631.57" width="13.80" height="4.50" fill="#d3d3d3"/><rect x="396.50" y="627.52" width="0.60" height="4.50" fill="#d3d3d3"/><rect x="396.50" y="623.47" width="3.50" height="4.50" fill="#d3d3d3"/><rect x="396.50" y="611.31" width="4.30" height="4.50" fill="#d3d3d3"/><rect x="396.50" y="607.25" width="0.60" height="4.50" fill="#d3d3d3"/><rect x="428.95" y="591.05" width="4.60" height="13.80" fill="#d3d3d3"/><rect x="434.89" y="604.55" width="4.60" height="0.30" fill="#d3d3d3"/><rect x="440.84" y="604.55" width="4.60" height="0.30" fill="#d3d3d3"/><rect x="452.73" y="604.25" width="4.60" height="0.60" fill="#d3d3d3"/><rect x="464.62" y="598.65" width="4.60" height="6.20" fill="#d3d3d3"/><rect x="476.51" y="604.55" width="4.60" height="0.30" fill="#d3d3d3"/><rect x="482.45" y="603.95" width="4.60" height="0.90" fill="#d3d3d3"/><rect x="491.50" y="659.95" width="0.40" height="4.50" fill="#d3d3d3"/><rect x="491.50" y="655.89" width="1.00" height="4.50" fill="#d3d3d3"/><rect x="491.50" y="651.84" width="6.60" height="4.50" fill="#d3d3d3"/><rect x="491.50" y="643.73" width="0.40" height="4.50" fill="#d3d3d3"/><rect x="491.50" y="639.68" width="0.80" height="4.50" fill="#d3d3d3"/><rect x="491.50" y="635.63" width="0.30" height="4.50" fill="#d3d3d3"/><rect x="491.50" y="631.57" width="13.80" height="4.50" fill="#d3d3d3"/><rect x="491.50" y="627.52" width="0.60" height="4.50" fill="#d3d3d3"/><rect x="491.50" y="623.47" width="3.50" height="4.50" fill="#d3d3d3"/><rect x="491.50" y="611.31" width="4.30" height="4.50" fill="#d3d3d3"/><rect x="491.50" y="607.25" width="0.60" height="4.50" fill="#d3d3d3"/><rect x="523.50" y="599.55" width="4.50" height="5.30" fill="#d3d3d3"/><rect x="529.44" y="602.65" width="4.50" height="2.20" fill="#d3d3d3"/><rect x="535.39" y="604.05" width="4.50" height="0.80" fill="#d3d3d3"/><rect x="547.28" y="604.25" width="4.50" height="0.60" fill="#d3d3d3"/><rect x="553.22" y="603.85" width="4.50" height="1.00" fill="#d3d3d3"/><rect x="559.17" y="604.55" width="4.50" height="0.30" fill="#d3d3d3"/><rect x="565.11" y="603.55" width="4.50" height="1.30" fill="#d3d3d3"/><rect x="577.00" y="591.05" width="4.50" height="13.80" fill="#d3d3d3"/><rect x="586.00" y="659.95" width="0.40" height="4.50" fill="#d3d3d3"/><rect x="586.00" y="655.89" width="1.00" height="4.50" fill="#d3d3d3"/><rect x="586.00" y="651.84" width="6.60" height="4.50" fill="#d3d3d3"/><rect x="586.00" y="643.73" width="0.40" height="4.50" fill="#d3d3d3"/><rect x="586.00" y="639.68" width="0.80" height="4.50" fill="#d3d3d3"/><rect x="586.00" y="635.63" width="0.30" height="4.50" fill="#d3d3d3"/><rect x="586.00" y="631.57" width="13.80" height="4.50" fill="#d3d3d3"/><rect x="586.00" y="627.52" width="0.60" height="4.50" fill="#d3d3d3"/><rect x="586.00" y="623.47" width="3.50" height="4.50" fill="#d3d3d3"/><rect x="586.00" y="611.31" width="4.30" height="4.50" fill="#d3d3d3"/><rect x="586.00" y="607.25" width="0.60" height="4.50" fill="#d3d3d3"/><rect x="51.30" y="691.60" width="4.20" height="2.40" fill="#d3d3d3"/><rect x="57.24" y="693.50" width="4.20" height="0.50" fill="#d3d3d3"/><rect x="69.13" y="689.70" width="4.20" height="4.30" fill="#d3d3d3"/><rect x="81.02" y="686.80" width="4.20" height="7.20" fill="#d3d3d3"/><rect x="86.97" y="693.30" width="4.20" height="0.70" fill="#d3d3d3"/><rect x="92.91" y="693.70" width="4.20" height="0.30" fill="#d3d3d3"/><rect x="98.86" y="688.70" width="4.20" height="5.30" fill="#d3d3d3"/><rect x="104.80" y="680.20" width="4.20" height="13.80" fill="#d3d3d3"/><rect x="113.65" y="747.57" width="13.80" height="4.60" fill="#d3d3d3"/><rect x="113.65" y="742.05" width="0.30" height="4.60" fill="#d3d3d3"/><rect x="113.65" y="736.52" width="0.30" height="4.60" fill="#d3d3d3"/><rect x="113.65" y="725.46" width="0.60" height="4.60" fill="#d3d3d3"/><rect x="113.65" y="714.41" width="6.20" height="4.60" fill="#d3d3d3"/><rect x="113.65" y="703.35" width="0.30" height="4.60" fill="#d3d3d3"/><rect x="113.65" y="697.83" width="0.90" height="4.60" fill="#d3d3d3"/><rect x="145.33" y="693.40" width="4.30" height="0.60" fill="#d3d3d3"/><rect x="155.39" y="687.20" width="4.30" height="6.80" fill="#d3d3d3"/><rect x="170.48" y="693.20" width="4.30" height="0.80" fill="#d3d3d3"/><rect x="175.52" y="693.60" width="4.30" height="0.40" fill="#d3d3d3"/><rect x="195.64" y="688.70" width="4.30" height="5.30" fill="#d3d3d3"/><rect x="200.67" y="680.20" width="4.30" height="13.80" fill="#d3d3d3"/><rect x="208.65" y="747.57" width="13.80" height="4.60" fill="#d3d3d3"/><rect x="208.65" y="742.05" width="0.30" height="4.60" fill="#d3d3d3"/><rect x="208.65" y="736.52" width="0.30" height="4.60" fill="#d3d3d3"/><rect x="208.65" y="725.46" width="0.60" height="4.60" fill="#d3d3d3"/><rect x="208.65" y="714.41" width="6.20" height="4.60" fill="#d3d3d3"/><rect x="208.65" y="703.35" width="0.30" height="4.60" fill="#d3d3d3"/><rect x="208.65" y="697.83" width="0.90" height="4.60" fill="#d3d3d3"/><rect x="241.08" y="680.20" width="6.00" height="13.80" fill="#d3d3d3"/><rect x="257.43" y="693.00" width="6.00" height="1.00" fill="#d3d3d3"/><rect x="265.60" y="693.20" width="6.00" height="0.80" fill="#d3d3d3"/><rect x="273.77" y="693.60" width="6.00" height="0.40" fill="#d3d3d3"/><rect x="281.95" y="686.80" width="6.00" height="7.20" fill="#d3d3d3"/><rect x="290.12" y="693.60" width="6.00" height="0.40" fill="#d3d3d3"/><rect x="302.10" y="747.57" width="13.80" height="4.60" fill="#d3d3d3"/><rect x="302.10" y="742.05" width="0.30" height="4.60" fill="#d3d3d3"/><rect x="302.10" y="736.52" width="0.30" height="4.60" fill="#d3d3d3"/><rect x="302.10" y="725.46" width="0.60" height="4.60" fill="#d3d3d3"/><rect x="302.10" y="714.41" width="6.20" height="4.60" fill="#d3d3d3"/><rect x="302.10" y="703.35" width="0.30" height="4.60" fill="#d3d3d3"/><rect x="302.10" y="697.83" width="0.90" height="4.60" fill="#d3d3d3"/><rect x="332.41" y="693.60" width="4.50" height="0.40" fill="#d3d3d3"/><rect x="336.77" y="693.00" width="4.50" height="1.00" fill="#d3d3d3"/><rect x="341.13" y="687.40" width="4.50" height="6.60" fill="#d3d3d3"/><rect x="349.85" y="693.60" width="4.50" height="0.40" fill="#d3d3d3"/><rect x="354.21" y="693.20" width="4.50" height="0.80" fill="#d3d3d3"/><rect x="358.57" y="693.70" width="4.50" height="0.30" fill="#d3d3d3"/><rect x="362.93" y="680.20" width="4.50" height="13.80" fill="#d3d3d3"/><rect x="367.29" y="693.40" width="4.50" height="0.60" fill="#d3d3d3"/><rect x="371.65" y="690.50" width="4.50" height="3.50" fill="#d3d3d3"/><rect x="384.73" y="689.70" width="4.50" height="4.30" fill="#d3d3d3"/><rect x="389.09" y="693.40" width="4.50" height="0.60" fill="#d3d3d3"/><rect x="396.50" y="747.57" width="13.80" height="4.60" fill="#d3d3d3"/><rect x="396.50" y="742.05" width="0.30" height="4.60" fill="#d3d3d3"/><rect x="396.50" y="736.52" width="0.30" height="4.60" fill="#d3d3d3"/><rect x="396.50" y="725.46" width="0.60" height="4.60" fill="#d3d3d3"/><rect x="396.50" y="714.41" width="6.20" height="4.60" fill="#d3d3d3"/><rect x="396.50" y="703.35" width="0.30" height="4.60" fill="#d3d3d3"/><rect x="396.50" y="697.83" width="0.90" height="4.60" fill="#d3d3d3"/><rect x="428.95" y="680.20" width="4.60" height="13.80" fill="#d3d3d3"/><rect x="434.89" y="693.70" width="4.60" height="0.30" fill="#d3d3d3"/><rect x="440.84" y="693.70" width="4.60" height="0.30" fill="#d3d3d3"/><rect x="452.73" y="693.40" width="4.60" height="0.60" fill="#d3d3d3"/><rect x="464.62" y="687.80" width="4.60" height="6.20" fill="#d3d3d3"/><rect x="476.51" y="693.70" width="4.60" height="0.30" fill="#d3d3d3"/><rect x="482.45" y="693.10" width="4.60" height="0.90" fill="#d3d3d3"/><rect x="491.50" y="747.57" width="13.80" height="4.60" fill="#d3d3d3"/><rect x="491.50" y="742.05" width="0.30" height="4.60" fill="#d3d3d3"/><rect x="491.50" y="736.52" width="0.30" height="4.60" fill="#d3d3d3"/><rect x="491.50" y="725.46" width="0.60" height="4.60" fill="#d3d3d3"/><rect x="491.50" y="714.41" width="6.20" height="4.60" fill="#d3d3d3"/><rect x="491.50" y="703.35" width="0.30" height="4.60" fill="#d3d3d3"/><rect x="491.50" y="697.83" width="0.90" height="4.60" fill="#d3d3d3"/><rect x="523.50" y="688.70" width="4.50" height="5.30" fill="#d3d3d3"/><rect x="529.44" y="691.80" width="4.50" height="2.20" fill="#d3d3d3"/><rect x="535.39" y="693.20" width="4.50" height="0.80" fill="#d3d3d3"/><rect x="547.28" y="693.40" width="4.50" height="0.60" fill="#d3d3d3"/><rect x="553.22" y="693.00" width="4.50" height="1.00" fill="#d3d3d3"/><rect x="559.17" y="693.70" width="4.50" height="0.30" fill="#d3d3d3"/><rect x="565.11" y="692.70" width="4.50" height="1.30" fill="#d3d3d3"/><rect x="577.00" y="680.20" width="4.50" height="13.80" fill="#d3d3d3"/><rect x="586.00" y="747.57" width="13.80" height="4.60" fill="#d3d3d3"/><rect x="586.00" y="742.05" width="0.30" height="4.60" fill="#d3d3d3"/><rect x="586.00" y="736.52" width="0.30" height="4.60" fill="#d3d3d3"/><rect x="586.00" y="725.46" width="0.60" height="4.60" fill="#d3d3d3"/><rect x="586.00" y="714.41" width="6.20" height="4.60" fill="#d3d3d3"/><rect x="586.00" y="703.35" width="0.30" height="4.60" fill="#d3d3d3"/><rect x="586.00" y="697.83" width="0.90" height="4.60" fill="#d3d3d3"/><rect x="51.30" y="780.45" width="4.20" height="2.40" fill="#d3d3d3"/><rect x="57.24" y="782.35" width="4.20" height="0.50" fill="#d3d3d3"/><rect x="69.13" y="778.55" width="4.20" height="4.30" fill="#d3d3d3"/><rect x="81.02" y="775.65" width="4.20" height="7.20" fill="#d3d3d3"/><rect x="86.97" y="782.15" width="4.20" height="0.70" fill="#d3d3d3"/><rect x="92.91" y="782.55" width="4.20" height="0.30" fill="#d3d3d3"/><rect x="98.86" y="777.55" width="4.20" height="5.30" fill="#d3d3d3"/><rect x="104.80" y="769.05" width="4.20" height="13.80" fill="#d3d3d3"/><rect x="113.65" y="836.47" width="5.30" height="4.50" fill="#d3d3d3"/><rect x="113.65" y="830.95" width="2.20" height="4.50" fill="#d3d3d3"/><rect x="113.65" y="825.42" width="0.80" height="4.50" fill="#d3d3d3"/><rect x="113.65" y="814.36" width="0.60" height="4.50" fill="#d3d3d3"/><rect x="113.65" y="808.84" width="1.00" height="4.50" fill="#d3d3d3"/><rect x="113.65" y="803.31" width="0.30" height="4.50" fill="#d3d3d3"/><rect x="113.65" y="797.78" width="1.30" height="4.50" fill="#d3d3d3"/><rect x="113.65" y="786.73" width="13.80" height="4.50" fill="#d3d3d3"/><rect x="145.33" y="782.25" width="4.30" height="0.60" fill="#d3d3d3"/><rect x="155.39" y="776.05" width="4.30" height="6.80" fill="#d3d3d3"/><rect x="170.48" y="782.05" width="4.30" height="0.80" fill="#d3d3d3"/><rect x="175.52" y="782.45" width="4.30" height="0.40" fill="#d3d3d3"/><rect x="195.64" y="777.55" width="4.30" height="5.30" fill="#d3d3d3"/><rect x="200.67" y="769.05" width="4.30" height="13.80" fill="#d3d3d3"/><rect x="208.65" y="836.47" width="5.30" height="4.50" fill="#d3d3d3"/><rect x="208.65" y="830.95" width="2.20" height="4.50" fill="#d3d3d3"/><rect x="208.65" y="825.42" width="0.80" height="4.50" fill="#d3d3d3"/><rect x="208.65" y="814.36" width="0.60" height="4.50" fill="#d3d3d3"/><rect x="208.65" y="808.84" width="1.00" height="4.50" fill="#d3d3d3"/><rect x="208.65" y="803.31" width="0.30" height="4.50" fill="#d3d3d3"/><rect x="208.65" y="797.78" width="1.30" height="4.50" fill="#d3d3d3"/><rect x="208.65" y="786.73" width="13.80" height="4.50" fill="#d3d3d3"/><rect x="241.08" y="769.05" width="6.00" height="13.80" fill="#d3d3d3"/><rect x="257.43" y="781.85" width="6.00" height="1.00" fill="#d3d3d3"/><rect x="265.60" y="782.05" width="6.00" height="0.80" fill="#d3d3d3"/><rect x="273.77" y="782.45" width="6.00" height="0.40" fill="#d3d3d3"/><rect x="281.95" y="775.65" width="6.00" height="7.20" fill="#d3d3d3"/><rect x="290.12" y="782.45" width="6.00" height="0.40" fill="#d3d3d3"/><rect x="302.10" y="836.47" width="5.30" height="4.50" fill="#d3d3d3"/><rect x="302.10" y="830.95" width="2.20" height="4.50" fill="#d3d3d3"/><rect x="302.10" y="825.42" width="0.80" height="4.50" fill="#d3d3d3"/><rect x="302.10" y="814.36" width="0.60" height="4.50" fill="#d3d3d3"/><rect x="302.10" y="808.84" width="1.00" height="4.50" fill="#d3d3d3"/><rect x="302.10" y="803.31" width="0.30" height="4.50" fill="#d3d3d3"/><rect x="302.10" y="797.78" width="1.30" height="4.50" fill="#d3d3d3"/><rect x="302.10" y="786.73" width="13.80" height="4.50" fill="#d3d3d3"/><rect x="332.41" y="782.45" width="4.50" height="0.40" fill="#d3d3d3"/><rect x="336.77" y="781.85" width="4.50" height="1.00" fill="#d3d3d3"/><rect x="341.13" y="776.25" width="4.50" height="6.60" fill="#d3d3d3"/><rect x="349.85" y="782.45" width="4.50" height="0.40" fill="#d3d3d3"/><rect x="354.21" y="782.05" width="4.50" height="0.80" fill="#d3d3d3"/><rect x="358.57" y="782.55" width="4.50" height="0.30" fill="#d3d3d3"/><rect x="362.93" y="769.05" width="4.50" height="13.80" fill="#d3d3d3"/><rect x="367.29" y="782.25" width="4.50" height="0.60" fill="#d3d3d3"/><rect x="371.65" y="779.35" width="4.50" height="3.50" fill="#d3d3d3"/><rect x="384.73" y="778.55" width="4.50" height="4.30" fill="#d3d3d3"/><rect x="389.09" y="782.25" width="4.50" height="0.60" fill="#d3d3d3"/><rect x="396.50" y="836.47" width="5.30" height="4.50" fill="#d3d3d3"/><rect x="396.50" y="830.95" width="2.20" height="4.50" fill="#d3d3d3"/><rect x="396.50" y="825.42" width="0.80" height="4.50" fill="#d3d3d3"/><rect x="396.50" y="814.36" width="0.60" height="4.50" fill="#d3d3d3"/><rect x="396.50" y="808.84" width="1.00" height="4.50" fill="#d3d3d3"/><rect x="396.50" y="803.31" width="0.30" height="4.50" fill="#d3d3d3"/><rect x="396.50" y="797.78" width="1.30" height="4.50" fill="#d3d3d3"/><rect x="396.50" y="786.73" width="13.80" height="4.50" fill="#d3d3d3"/><rect x="428.95" y="769.05" width="4.60" height="13.80" fill="#d3d3d3"/><rect x="434.89" y="782.55" width="4.60" height="0.30" fill="#d3d3d3"/><rect x="440.84" y="782.55" width="4.60" height="0.30" fill="#d3d3d3"/><rect x="452.73" y="782.25" width="4.60" height="0.60" fill="#d3d3d3"/><rect x="464.62" y="776.65" width="4.60" height="6.20" fill="#d3d3d3"/><rect x="476.51" y="782.55" width="4.60" height="0.30" fill="#d3d3d3"/><rect x="482.45" y="781.95" width="4.60" height="0.90" fill="#d3d3d3"/><rect x="491.50" y="836.47" width="5.30" height="4.50" fill="#d3d3d3"/><rect x="491.50" y="830.95" width="2.20" height="4.50" fill="#d3d3d3"/><rect x="491.50" y="825.42" width="0.80" height="4.50" fill="#d3d3d3"/><rect x="491.50" y="814.36" width="0.60" height="4.50" fill="#d3d3d3"/><rect x="491.50" y="808.84" width="1.00" height="4.50" fill="#d3d3d3"/><rect x="491.50" y="803.31" width="0.30" height="4.50" fill="#d3d3d3"/><rect x="491.50" y="797.78" width="1.30" height="4.50" fill="#d3d3d3"/><rect x="491.50" y="786.73" width="13.80" height="4.50" fill="#d3d3d3"/><rect x="523.50" y="777.55" width="4.50" height="5.30" fill="#d3d3d3"/><rect x="529.44" y="780.65" width="4.50" height="2.20" fill="#d3d3d3"/><rect x="535.39" y="782.05" width="4.50" height="0.80" fill="#d3d3d3"/><rect x="547.28" y="782.25" width="4.50" height="0.60" fill="#d3d3d3"/><rect x="553.22" y="781.85" width="4.50" height="1.00" fill="#d3d3d3"/><rect x="559.17" y="782.55" width="4.50" height="0.30" fill="#d3d3d3"/><rect x="565.11" y="781.55" width="4.50" height="1.30" fill="#d3d3d3"/><rect x="577.00" y="769.05" width="4.50" height="13.80" fill="#d3d3d3"/><rect x="586.00" y="836.47" width="5.30" height="4.50" fill="#d3d3d3"/><rect x="586.00" y="830.95" width="2.20" height="4.50" fill="#d3d3d3"/><rect x="586.00" y="825.42" width="0.80" height="4.50" fill="#d3d3d3"/><rect x="586.00" y="814.36" width="0.60" height="4.50" fill="#d3d3d3"/><rect x="586.00" y="808.84" width="1.00" height="4.50" fill="#d3d3d3"/><rect x="586.00" y="803.31" width="0.30" height="4.50" fill="#d3d3d3"/><rect x="586.00" y="797.78" width="1.30" height="4.50" fill="#d3d3d3"/><rect x="586.00" y="786.73" width="13.80" height="4.50" fill="#d3d3d3"/><rect x="47.45" y="338.50" width="65.4" height="60.8" fill="#fff" stroke="#cfcfcf" stroke-width="0.9"/><circle cx="59.34" cy="388.25" r="2.25" fill="#fcfdf2"/><circle cx="95.01" cy="355.08" r="2.25" fill="#fcfdf2"/><circle cx="89.07" cy="360.61" r="2.25" fill="#f8fbe2"/><circle cx="53.40" cy="393.77" r="2.25" fill="#8ed3ba"/><circle cx="71.23" cy="377.19" r="2.25" fill="#1e83ba"/><circle cx="100.96" cy="349.55" r="2.25" fill="#243f99"/><circle cx="83.12" cy="366.14" r="2.25" fill="#081d58"/><circle cx="106.90" cy="344.03" r="2.25" fill="#081d58"/><text class="tk" x="47.5" y="403.9">0</text><text class="tk" x="59.3" y="403.9">2</text><text class="tk" x="71.2" y="403.9">4</text><text class="tk" x="83.1" y="403.9">6</text><text class="tk" x="95.0" y="403.9">8</text><text class="tk" x="106.9" y="403.9">10</text><text x="80.15" y="409.90" font-size="5.41" text-anchor="middle" fill="#262626" textLength="26.03" lengthAdjust="spacingAndGlyphs">cluster L1</text><text class="tk" transform="translate(45.2 399.3) rotate(-90)">0</text><text class="tk" transform="translate(45.2 388.2) rotate(-90)">2</text><text class="tk" transform="translate(45.2 377.2) rotate(-90)">4</text><text class="tk" transform="translate(45.2 366.1) rotate(-90)">6</text><text class="tk" transform="translate(45.2 355.1) rotate(-90)">8</text><text class="tk" transform="translate(45.2 344.0) rotate(-90)">10</text><text x="39.15" y="368.90" font-size="5.41" text-anchor="middle" fill="#262626" textLength="26.03" lengthAdjust="spacingAndGlyphs" transform="rotate(-90 39.15 368.90)">cluster L1</text><rect x="142.45" y="338.50" width="65.4" height="60.8" fill="#fff" stroke="#cfcfcf" stroke-width="0.9"/><circle cx="157.54" cy="388.25" r="2.25" fill="#fcfdf2"/><circle cx="157.54" cy="344.03" r="2.25" fill="#fcfdf2"/><circle cx="172.63" cy="344.03" r="2.25" fill="#fcfdf2"/><circle cx="202.82" cy="355.08" r="2.25" fill="#fcfdf2"/><circle cx="197.79" cy="393.77" r="2.25" fill="#fcfdf2"/><circle cx="147.48" cy="366.14" r="2.25" fill="#f8fbe2"/><circle cx="177.67" cy="349.55" r="2.25" fill="#f8fbe2"/><circle cx="202.82" cy="366.14" r="2.25" fill="#f8fbe2"/><circle cx="147.48" cy="393.77" r="2.25" fill="#f2f9cf"/><circle cx="172.63" cy="360.61" r="2.25" fill="#f2f9cf"/><circle cx="157.54" cy="377.19" r="2.25" fill="#e6f5ab"/><circle cx="172.63" cy="349.55" r="2.25" fill="#e6f5ab"/><circle cx="197.79" cy="366.14" r="2.25" fill="#d8efa6"/><circle cx="202.82" cy="377.19" r="2.25" fill="#d8efa6"/><circle cx="157.54" cy="393.77" r="2.25" fill="#abdeb7"/><circle cx="197.79" cy="377.19" r="2.25" fill="#7fcdbb"/><circle cx="197.79" cy="344.03" r="2.25" fill="#41b6c4"/><circle cx="202.82" cy="349.55" r="2.25" fill="#225ea8"/><circle cx="157.54" cy="366.14" r="2.25" fill="#081d58"/><circle cx="202.82" cy="344.03" r="2.25" fill="#081d58"/><text class="tk" x="142.4" y="403.9">0</text><text class="tk" x="152.5" y="403.9">2</text><text class="tk" x="162.6" y="403.9">4</text><text class="tk" x="172.6" y="403.9">6</text><text class="tk" x="182.7" y="403.9">8</text><text class="tk" x="192.8" y="403.9">10</text><text class="tk" x="202.8" y="403.9">12</text><text x="175.15" y="409.90" font-size="5.41" text-anchor="middle" fill="#262626" textLength="26.03" lengthAdjust="spacingAndGlyphs">cluster L2</text><text class="tk" transform="translate(140.1 399.3) rotate(-90)">0</text><text class="tk" transform="translate(140.1 388.2) rotate(-90)">2</text><text class="tk" transform="translate(140.1 377.2) rotate(-90)">4</text><text class="tk" transform="translate(140.1 366.1) rotate(-90)">6</text><text class="tk" transform="translate(140.1 355.1) rotate(-90)">8</text><text class="tk" transform="translate(140.1 344.0) rotate(-90)">10</text><text x="134.15" y="368.90" font-size="5.41" text-anchor="middle" fill="#262626" textLength="26.03" lengthAdjust="spacingAndGlyphs" transform="rotate(-90 134.15 368.90)">cluster L1</text><rect x="235.90" y="338.50" width="65.4" height="60.8" fill="#fff" stroke="#cfcfcf" stroke-width="0.9"/><circle cx="260.43" cy="344.03" r="2.25" fill="#fcfdf2"/><circle cx="276.77" cy="366.14" r="2.25" fill="#fcfdf2"/><circle cx="284.95" cy="388.25" r="2.25" fill="#fcfdf2"/><circle cx="293.12" cy="344.03" r="2.25" fill="#fcfdf2"/><circle cx="260.43" cy="360.61" r="2.25" fill="#f8fbe2"/><circle cx="244.08" cy="366.14" r="2.25" fill="#f2f9cf"/><circle cx="268.60" cy="366.14" r="2.25" fill="#f2f9cf"/><circle cx="268.60" cy="377.19" r="2.25" fill="#f2f9cf"/><circle cx="284.95" cy="344.03" r="2.25" fill="#e6f5ab"/><circle cx="260.43" cy="349.55" r="2.25" fill="#c4e8b3"/><circle cx="284.95" cy="377.19" r="2.25" fill="#c4e8b3"/><circle cx="284.95" cy="393.77" r="2.25" fill="#a4dbb6"/><circle cx="244.08" cy="377.19" r="2.25" fill="#7fcdbb"/><circle cx="244.08" cy="349.55" r="2.25" fill="#2c7fb8"/><circle cx="244.08" cy="344.03" r="2.25" fill="#081d58"/><circle cx="284.95" cy="366.14" r="2.25" fill="#081d58"/><text class="tk" x="235.9" y="403.9">0</text><text class="tk" x="244.1" y="403.9">1</text><text class="tk" x="252.2" y="403.9">2</text><text class="tk" x="260.4" y="403.9">3</text><text class="tk" x="268.6" y="403.9">4</text><text class="tk" x="276.8" y="403.9">5</text><text class="tk" x="284.9" y="403.9">6</text><text class="tk" x="293.1" y="403.9">7</text><text class="tk" x="301.3" y="403.9">8</text><text x="268.60" y="409.90" font-size="5.41" text-anchor="middle" fill="#262626" textLength="26.03" lengthAdjust="spacingAndGlyphs">cluster L3</text><text class="tk" transform="translate(233.6 399.3) rotate(-90)">0</text><text class="tk" transform="translate(233.6 388.2) rotate(-90)">2</text><text class="tk" transform="translate(233.6 377.2) rotate(-90)">4</text><text class="tk" transform="translate(233.6 366.1) rotate(-90)">6</text><text class="tk" transform="translate(233.6 355.1) rotate(-90)">8</text><text class="tk" transform="translate(233.6 344.0) rotate(-90)">10</text><text x="227.60" y="368.90" font-size="5.41" text-anchor="middle" fill="#262626" textLength="26.03" lengthAdjust="spacingAndGlyphs" transform="rotate(-90 227.60 368.90)">cluster L1</text><rect x="330.30" y="338.50" width="65.4" height="60.8" fill="#fff" stroke="#cfcfcf" stroke-width="0.9"/><circle cx="360.82" cy="344.03" r="2.25" fill="#fcfdf2"/><circle cx="360.82" cy="349.55" r="2.25" fill="#fcfdf2"/><circle cx="369.54" cy="349.55" r="2.25" fill="#fcfdf2"/><circle cx="365.18" cy="366.14" r="2.25" fill="#fcfdf2"/><circle cx="369.54" cy="366.14" r="2.25" fill="#fcfdf2"/><circle cx="339.02" cy="377.19" r="2.25" fill="#fcfdf2"/><circle cx="360.82" cy="377.19" r="2.25" fill="#fcfdf2"/><circle cx="391.34" cy="377.19" r="2.25" fill="#fcfdf2"/><circle cx="343.38" cy="388.25" r="2.25" fill="#fcfdf2"/><circle cx="339.02" cy="393.77" r="2.25" fill="#fcfdf2"/><circle cx="356.46" cy="349.55" r="2.25" fill="#f8fbe2"/><circle cx="386.98" cy="349.55" r="2.25" fill="#f8fbe2"/><circle cx="365.18" cy="360.61" r="2.25" fill="#f8fbe2"/><circle cx="352.10" cy="366.14" r="2.25" fill="#f8fbe2"/><circle cx="373.90" cy="366.14" r="2.25" fill="#f8fbe2"/><circle cx="391.34" cy="366.14" r="2.25" fill="#f8fbe2"/><circle cx="369.54" cy="377.19" r="2.25" fill="#f8fbe2"/><circle cx="373.90" cy="377.19" r="2.25" fill="#f8fbe2"/><circle cx="343.38" cy="344.03" r="2.25" fill="#f2f9cf"/><circle cx="373.90" cy="349.55" r="2.25" fill="#f2f9cf"/><circle cx="334.66" cy="366.14" r="2.25" fill="#f2f9cf"/><circle cx="343.38" cy="377.19" r="2.25" fill="#f2f9cf"/><circle cx="334.66" cy="393.77" r="2.25" fill="#f2f9cf"/><circle cx="356.46" cy="344.03" r="2.25" fill="#e6f5ab"/><circle cx="369.54" cy="344.03" r="2.25" fill="#e6f5ab"/><circle cx="386.98" cy="366.14" r="2.25" fill="#e6f5ab"/><circle cx="339.02" cy="366.14" r="2.25" fill="#c4e8b3"/><circle cx="365.18" cy="377.19" r="2.25" fill="#c4e8b3"/><circle cx="386.98" cy="377.19" r="2.25" fill="#c4e8b3"/><circle cx="343.38" cy="393.77" r="2.25" fill="#c4e8b3"/><circle cx="386.98" cy="344.03" r="2.25" fill="#8ed3ba"/><circle cx="373.90" cy="344.03" r="2.25" fill="#7fcdbb"/><circle cx="365.18" cy="349.55" r="2.25" fill="#1d91c0"/><circle cx="343.38" cy="366.14" r="2.25" fill="#225ea8"/><circle cx="365.18" cy="344.03" r="2.25" fill="#081d58"/><text class="tk" x="330.3" y="403.9">0</text><text class="tk" x="339.0" y="403.9">2</text><text class="tk" x="347.7" y="403.9">4</text><text class="tk" x="356.5" y="403.9">6</text><text class="tk" x="365.2" y="403.9">8</text><text class="tk" x="373.9" y="403.9">10</text><text class="tk" x="382.6" y="403.9">12</text><text class="tk" x="391.3" y="403.9">14</text><text x="363.00" y="409.90" font-size="5.41" text-anchor="middle" fill="#262626" textLength="27.07" lengthAdjust="spacingAndGlyphs">cluster H1</text><text class="tk" transform="translate(328.0 399.3) rotate(-90)">0</text><text class="tk" transform="translate(328.0 388.2) rotate(-90)">2</text><text class="tk" transform="translate(328.0 377.2) rotate(-90)">4</text><text class="tk" transform="translate(328.0 366.1) rotate(-90)">6</text><text class="tk" transform="translate(328.0 355.1) rotate(-90)">8</text><text class="tk" transform="translate(328.0 344.0) rotate(-90)">10</text><text x="322.00" y="368.90" font-size="5.41" text-anchor="middle" fill="#262626" textLength="26.03" lengthAdjust="spacingAndGlyphs" transform="rotate(-90 322.00 368.90)">cluster L1</text><rect x="425.30" y="338.50" width="65.4" height="60.8" fill="#fff" stroke="#cfcfcf" stroke-width="0.9"/><circle cx="431.25" cy="355.08" r="2.25" fill="#fcfdf2"/><circle cx="455.03" cy="366.14" r="2.25" fill="#fcfdf2"/><circle cx="466.92" cy="388.25" r="2.25" fill="#fcfdf2"/><circle cx="484.75" cy="377.19" r="2.25" fill="#fcfdf2"/><circle cx="484.75" cy="393.77" r="2.25" fill="#fcfdf2"/><circle cx="431.25" cy="360.61" r="2.25" fill="#f8fbe2"/><circle cx="431.25" cy="366.14" r="2.25" fill="#f2f9cf"/><circle cx="455.03" cy="393.77" r="2.25" fill="#f2f9cf"/><circle cx="466.92" cy="344.03" r="2.25" fill="#e6f5ab"/><circle cx="484.75" cy="366.14" r="2.25" fill="#e6f5ab"/><circle cx="466.92" cy="377.19" r="2.25" fill="#c4e8b3"/><circle cx="466.92" cy="393.77" r="2.25" fill="#c4e8b3"/><circle cx="431.25" cy="377.19" r="2.25" fill="#41b6c4"/><circle cx="431.25" cy="349.55" r="2.25" fill="#253494"/><circle cx="431.25" cy="344.03" r="2.25" fill="#081d58"/><circle cx="466.92" cy="366.14" r="2.25" fill="#081d58"/><text class="tk" x="425.3" y="403.9">0</text><text class="tk" x="437.2" y="403.9">2</text><text class="tk" x="449.1" y="403.9">4</text><text class="tk" x="461.0" y="403.9">6</text><text class="tk" x="472.9" y="403.9">8</text><text class="tk" x="484.8" y="403.9">10</text><text x="458.00" y="409.90" font-size="5.41" text-anchor="middle" fill="#262626" textLength="27.07" lengthAdjust="spacingAndGlyphs">cluster H2</text><text class="tk" transform="translate(423.0 399.3) rotate(-90)">0</text><text class="tk" transform="translate(423.0 388.2) rotate(-90)">2</text><text class="tk" transform="translate(423.0 377.2) rotate(-90)">4</text><text class="tk" transform="translate(423.0 366.1) rotate(-90)">6</text><text class="tk" transform="translate(423.0 355.1) rotate(-90)">8</text><text class="tk" transform="translate(423.0 344.0) rotate(-90)">10</text><text x="417.00" y="368.90" font-size="5.41" text-anchor="middle" fill="#262626" textLength="26.03" lengthAdjust="spacingAndGlyphs" transform="rotate(-90 417.00 368.90)">cluster L1</text><rect x="519.80" y="338.50" width="65.4" height="60.8" fill="#fff" stroke="#cfcfcf" stroke-width="0.9"/><circle cx="549.53" cy="349.55" r="2.25" fill="#fcfdf2"/><circle cx="567.36" cy="349.55" r="2.25" fill="#fcfdf2"/><circle cx="579.25" cy="355.08" r="2.25" fill="#fcfdf2"/><circle cx="561.42" cy="366.14" r="2.25" fill="#fcfdf2"/><circle cx="555.47" cy="377.19" r="2.25" fill="#fcfdf2"/><circle cx="525.75" cy="388.25" r="2.25" fill="#fcfdf2"/><circle cx="531.69" cy="393.77" r="2.25" fill="#fcfdf2"/><circle cx="525.75" cy="344.03" r="2.25" fill="#f8fbe2"/><circle cx="567.36" cy="344.03" r="2.25" fill="#f8fbe2"/><circle cx="579.25" cy="360.61" r="2.25" fill="#f8fbe2"/><circle cx="537.64" cy="366.14" r="2.25" fill="#f8fbe2"/><circle cx="537.64" cy="393.77" r="2.25" fill="#f8fbe2"/><circle cx="555.47" cy="349.55" r="2.25" fill="#f2f9cf"/><circle cx="567.36" cy="366.14" r="2.25" fill="#f2f9cf"/><circle cx="525.75" cy="377.19" r="2.25" fill="#f2f9cf"/><circle cx="531.69" cy="377.19" r="2.25" fill="#f2f9cf"/><circle cx="531.69" cy="344.03" r="2.25" fill="#e6f5ab"/><circle cx="549.53" cy="344.03" r="2.25" fill="#e6f5ab"/><circle cx="579.25" cy="366.14" r="2.25" fill="#e6f5ab"/><circle cx="567.36" cy="377.19" r="2.25" fill="#e6f5ab"/><circle cx="555.47" cy="344.03" r="2.25" fill="#d8efa6"/><circle cx="531.69" cy="366.14" r="2.25" fill="#c4e8b3"/><circle cx="525.75" cy="393.77" r="2.25" fill="#c4e8b3"/><circle cx="579.25" cy="377.19" r="2.25" fill="#6fc7bd"/><circle cx="579.25" cy="349.55" r="2.25" fill="#225ea8"/><circle cx="525.75" cy="366.14" r="2.25" fill="#253494"/><circle cx="579.25" cy="344.03" r="2.25" fill="#081d58"/><text class="tk" x="519.8" y="403.9">0</text><text class="tk" x="531.7" y="403.9">2</text><text class="tk" x="543.6" y="403.9">4</text><text class="tk" x="555.5" y="403.9">6</text><text class="tk" x="567.4" y="403.9">8</text><text class="tk" x="579.3" y="403.9">10</text><text x="552.50" y="409.90" font-size="5.41" text-anchor="middle" fill="#262626" textLength="27.07" lengthAdjust="spacingAndGlyphs">cluster H3</text><text class="tk" transform="translate(517.5 399.3) rotate(-90)">0</text><text class="tk" transform="translate(517.5 388.2) rotate(-90)">2</text><text class="tk" transform="translate(517.5 377.2) rotate(-90)">4</text><text class="tk" transform="translate(517.5 366.1) rotate(-90)">6</text><text class="tk" transform="translate(517.5 355.1) rotate(-90)">8</text><text class="tk" transform="translate(517.5 344.0) rotate(-90)">10</text><text x="511.50" y="368.90" font-size="5.41" text-anchor="middle" fill="#262626" textLength="26.03" lengthAdjust="spacingAndGlyphs" transform="rotate(-90 511.50 368.90)">cluster L1</text><rect x="47.45" y="427.45" width="65.4" height="60.8" fill="#fff" stroke="#cfcfcf" stroke-width="0.9"/><circle cx="95.01" cy="432.13" r="2.25" fill="#fcfdf2"/><circle cx="53.40" cy="436.80" r="2.25" fill="#fcfdf2"/><circle cx="100.96" cy="455.51" r="2.25" fill="#fcfdf2"/><circle cx="106.90" cy="460.19" r="2.25" fill="#fcfdf2"/><circle cx="59.34" cy="474.22" r="2.25" fill="#fcfdf2"/><circle cx="106.90" cy="474.22" r="2.25" fill="#fcfdf2"/><circle cx="83.12" cy="432.13" r="2.25" fill="#f8fbe2"/><circle cx="89.07" cy="460.19" r="2.25" fill="#f8fbe2"/><circle cx="53.40" cy="483.57" r="2.25" fill="#f8fbe2"/><circle cx="83.12" cy="483.57" r="2.25" fill="#f8fbe2"/><circle cx="100.96" cy="460.19" r="2.25" fill="#e6f5ab"/><circle cx="71.23" cy="474.22" r="2.25" fill="#e6f5ab"/><circle cx="83.12" cy="436.80" r="2.25" fill="#d8efa6"/><circle cx="71.23" cy="432.13" r="2.25" fill="#c4e8b3"/><circle cx="53.40" cy="474.22" r="2.25" fill="#a4dbb6"/><circle cx="71.23" cy="436.80" r="2.25" fill="#7fcdbb"/><circle cx="106.90" cy="436.80" r="2.25" fill="#41b6c4"/><circle cx="100.96" cy="432.13" r="2.25" fill="#225ea8"/><circle cx="106.90" cy="432.13" r="2.25" fill="#081d58"/><circle cx="83.12" cy="474.22" r="2.25" fill="#081d58"/><text class="tk" x="47.5" y="492.9">0</text><text class="tk" x="59.3" y="492.9">2</text><text class="tk" x="71.2" y="492.9">4</text><text class="tk" x="83.1" y="492.9">6</text><text class="tk" x="95.0" y="492.9">8</text><text class="tk" x="106.9" y="492.9">10</text><text x="80.15" y="498.85" font-size="5.41" text-anchor="middle" fill="#262626" textLength="26.03" lengthAdjust="spacingAndGlyphs">cluster L1</text><text class="tk te" x="46.1" y="489.9">0</text><text class="tk te" x="46.1" y="480.5">2</text><text class="tk te" x="46.1" y="471.1">4</text><text class="tk te" x="46.1" y="461.8">6</text><text class="tk te" x="46.1" y="452.4">8</text><text class="tk te" x="46.1" y="443.1">10</text><text class="tk te" x="46.1" y="433.7">12</text><text x="39.15" y="457.85" font-size="5.41" text-anchor="middle" fill="#262626" textLength="26.03" lengthAdjust="spacingAndGlyphs" transform="rotate(-90 39.15 457.85)">cluster L2</text><rect x="142.45" y="427.45" width="65.4" height="60.8" fill="#fff" stroke="#cfcfcf" stroke-width="0.9"/><circle cx="177.67" cy="455.51" r="2.25" fill="#fcfdf2"/><circle cx="147.48" cy="483.57" r="2.25" fill="#f2f9cf"/><circle cx="172.63" cy="460.19" r="2.25" fill="#d8efa6"/><circle cx="157.54" cy="474.22" r="2.25" fill="#081d58"/><circle cx="197.79" cy="436.80" r="2.25" fill="#081d58"/><circle cx="202.82" cy="432.13" r="2.25" fill="#081d58"/><text class="tk" x="142.4" y="492.9">0</text><text class="tk" x="152.5" y="492.9">2</text><text class="tk" x="162.6" y="492.9">4</text><text class="tk" x="172.6" y="492.9">6</text><text class="tk" x="182.7" y="492.9">8</text><text class="tk" x="192.8" y="492.9">10</text><text class="tk" x="202.8" y="492.9">12</text><text x="175.15" y="498.85" font-size="5.41" text-anchor="middle" fill="#262626" textLength="26.03" lengthAdjust="spacingAndGlyphs">cluster L2</text><text class="tk te" x="141.0" y="489.9">0</text><text class="tk te" x="141.0" y="480.5">2</text><text class="tk te" x="141.0" y="471.1">4</text><text class="tk te" x="141.0" y="461.8">6</text><text class="tk te" x="141.0" y="452.4">8</text><text class="tk te" x="141.0" y="443.1">10</text><text class="tk te" x="141.0" y="433.7">12</text><text x="134.15" y="457.85" font-size="5.41" text-anchor="middle" fill="#262626" textLength="26.03" lengthAdjust="spacingAndGlyphs" transform="rotate(-90 134.15 457.85)">cluster L2</text><rect x="235.90" y="427.45" width="65.4" height="60.8" fill="#fff" stroke="#cfcfcf" stroke-width="0.9"/><circle cx="293.12" cy="432.13" r="2.25" fill="#fcfdf2"/><circle cx="244.08" cy="455.51" r="2.25" fill="#fcfdf2"/><circle cx="276.77" cy="474.22" r="2.25" fill="#fcfdf2"/><circle cx="268.60" cy="436.80" r="2.25" fill="#f8fbe2"/><circle cx="244.08" cy="460.19" r="2.25" fill="#f8fbe2"/><circle cx="268.60" cy="432.13" r="2.25" fill="#f2f9cf"/><circle cx="284.95" cy="483.57" r="2.25" fill="#f2f9cf"/><circle cx="260.43" cy="432.13" r="2.25" fill="#e6f5ab"/><circle cx="284.95" cy="432.13" r="2.25" fill="#e6f5ab"/><circle cx="260.43" cy="460.19" r="2.25" fill="#e6f5ab"/><circle cx="244.08" cy="474.22" r="2.25" fill="#e6f5ab"/><circle cx="284.95" cy="436.80" r="2.25" fill="#a4dbb6"/><circle cx="244.08" cy="436.80" r="2.25" fill="#2c7fb8"/><circle cx="244.08" cy="432.13" r="2.25" fill="#081d58"/><circle cx="284.95" cy="474.22" r="2.25" fill="#081d58"/><text class="tk" x="235.9" y="492.9">0</text><text class="tk" x="244.1" y="492.9">1</text><text class="tk" x="252.2" y="492.9">2</text><text class="tk" x="260.4" y="492.9">3</text><text class="tk" x="268.6" y="492.9">4</text><text class="tk" x="276.8" y="492.9">5</text><text class="tk" x="284.9" y="492.9">6</text><text class="tk" x="293.1" y="492.9">7</text><text class="tk" x="301.3" y="492.9">8</text><text x="268.60" y="498.85" font-size="5.41" text-anchor="middle" fill="#262626" textLength="26.03" lengthAdjust="spacingAndGlyphs">cluster L3</text><text class="tk te" x="234.5" y="489.9">0</text><text class="tk te" x="234.5" y="480.5">2</text><text class="tk te" x="234.5" y="471.1">4</text><text class="tk te" x="234.5" y="461.8">6</text><text class="tk te" x="234.5" y="452.4">8</text><text class="tk te" x="234.5" y="443.1">10</text><text class="tk te" x="234.5" y="433.7">12</text><text x="227.60" y="457.85" font-size="5.41" text-anchor="middle" fill="#262626" textLength="26.03" lengthAdjust="spacingAndGlyphs" transform="rotate(-90 227.60 457.85)">cluster L2</text><rect x="330.30" y="427.45" width="65.4" height="60.8" fill="#fff" stroke="#cfcfcf" stroke-width="0.9"/><circle cx="343.38" cy="432.13" r="2.25" fill="#fcfdf2"/><circle cx="339.02" cy="436.80" r="2.25" fill="#fcfdf2"/><circle cx="356.46" cy="436.80" r="2.25" fill="#fcfdf2"/><circle cx="360.82" cy="436.80" r="2.25" fill="#fcfdf2"/><circle cx="391.34" cy="436.80" r="2.25" fill="#fcfdf2"/><circle cx="365.18" cy="455.51" r="2.25" fill="#fcfdf2"/><circle cx="373.90" cy="460.19" r="2.25" fill="#fcfdf2"/><circle cx="369.54" cy="474.22" r="2.25" fill="#fcfdf2"/><circle cx="334.66" cy="483.57" r="2.25" fill="#fcfdf2"/><circle cx="343.38" cy="483.57" r="2.25" fill="#fcfdf2"/><circle cx="360.82" cy="432.13" r="2.25" fill="#f8fbe2"/><circle cx="369.54" cy="436.80" r="2.25" fill="#f8fbe2"/><circle cx="352.10" cy="474.22" r="2.25" fill="#f8fbe2"/><circle cx="365.18" cy="474.22" r="2.25" fill="#f8fbe2"/><circle cx="373.90" cy="474.22" r="2.25" fill="#f8fbe2"/><circle cx="386.98" cy="474.22" r="2.25" fill="#f8fbe2"/><circle cx="391.34" cy="474.22" r="2.25" fill="#f8fbe2"/><circle cx="334.66" cy="474.22" r="2.25" fill="#f2f9cf"/><circle cx="356.46" cy="432.13" r="2.25" fill="#e6f5ab"/><circle cx="369.54" cy="432.13" r="2.25" fill="#e6f5ab"/><circle cx="373.90" cy="436.80" r="2.25" fill="#e6f5ab"/><circle cx="365.18" cy="460.19" r="2.25" fill="#e6f5ab"/><circle cx="343.38" cy="436.80" r="2.25" fill="#d8efa6"/><circle cx="339.02" cy="474.22" r="2.25" fill="#c4e8b3"/><circle cx="386.98" cy="436.80" r="2.25" fill="#a4dbb6"/><circle cx="373.90" cy="432.13" r="2.25" fill="#7fcdbb"/><circle cx="386.98" cy="432.13" r="2.25" fill="#7fcdbb"/><circle cx="365.18" cy="436.80" r="2.25" fill="#7fcdbb"/><circle cx="343.38" cy="474.22" r="2.25" fill="#253494"/><circle cx="365.18" cy="432.13" r="2.25" fill="#081d58"/><text class="tk" x="330.3" y="492.9">0</text><text class="tk" x="339.0" y="492.9">2</text><text class="tk" x="347.7" y="492.9">4</text><text class="tk" x="356.5" y="492.9">6</text><text class="tk" x="365.2" y="492.9">8</text><text class="tk" x="373.9" y="492.9">10</text><text class="tk" x="382.6" y="492.9">12</text><text class="tk" x="391.3" y="492.9">14</text><text x="363.00" y="498.85" font-size="5.41" text-anchor="middle" fill="#262626" textLength="27.07" lengthAdjust="spacingAndGlyphs">cluster H1</text><text class="tk te" x="328.9" y="489.9">0</text><text class="tk te" x="328.9" y="480.5">2</text><text class="tk te" x="328.9" y="471.1">4</text><text class="tk te" x="328.9" y="461.8">6</text><text class="tk te" x="328.9" y="452.4">8</text><text class="tk te" x="328.9" y="443.1">10</text><text class="tk te" x="328.9" y="433.7">12</text><text x="322.00" y="457.85" font-size="5.41" text-anchor="middle" fill="#262626" textLength="26.03" lengthAdjust="spacingAndGlyphs" transform="rotate(-90 322.00 457.85)">cluster L2</text><rect x="425.30" y="427.45" width="65.4" height="60.8" fill="#fff" stroke="#cfcfcf" stroke-width="0.9"/><circle cx="431.25" cy="455.51" r="2.25" fill="#fcfdf2"/><circle cx="455.03" cy="483.57" r="2.25" fill="#fcfdf2"/><circle cx="484.75" cy="436.80" r="2.25" fill="#fcfdf2"/><circle cx="455.03" cy="474.22" r="2.25" fill="#f8fbe2"/><circle cx="466.92" cy="483.57" r="2.25" fill="#f8fbe2"/><circle cx="431.25" cy="474.22" r="2.25" fill="#f2f9cf"/><circle cx="431.25" cy="460.19" r="2.25" fill="#e6f5ab"/><circle cx="466.92" cy="432.13" r="2.25" fill="#e6f5ab"/><circle cx="484.75" cy="474.22" r="2.25" fill="#e6f5ab"/><circle cx="466.92" cy="436.80" r="2.25" fill="#87d0ba"/><circle cx="431.25" cy="436.80" r="2.25" fill="#2c7fb8"/><circle cx="431.25" cy="432.13" r="2.25" fill="#081d58"/><circle cx="466.92" cy="474.22" r="2.25" fill="#081d58"/><text class="tk" x="425.3" y="492.9">0</text><text class="tk" x="437.2" y="492.9">2</text><text class="tk" x="449.1" y="492.9">4</text><text class="tk" x="461.0" y="492.9">6</text><text class="tk" x="472.9" y="492.9">8</text><text class="tk" x="484.8" y="492.9">10</text><text x="458.00" y="498.85" font-size="5.41" text-anchor="middle" fill="#262626" textLength="27.07" lengthAdjust="spacingAndGlyphs">cluster H2</text><text class="tk te" x="423.9" y="489.9">0</text><text class="tk te" x="423.9" y="480.5">2</text><text class="tk te" x="423.9" y="471.1">4</text><text class="tk te" x="423.9" y="461.8">6</text><text class="tk te" x="423.9" y="452.4">8</text><text class="tk te" x="423.9" y="443.1">10</text><text class="tk te" x="423.9" y="433.7">12</text><text x="417.00" y="457.85" font-size="5.41" text-anchor="middle" fill="#262626" textLength="26.03" lengthAdjust="spacingAndGlyphs" transform="rotate(-90 417.00 457.85)">cluster L2</text><rect x="519.80" y="427.45" width="65.4" height="60.8" fill="#fff" stroke="#cfcfcf" stroke-width="0.9"/><circle cx="531.69" cy="432.13" r="2.25" fill="#fcfdf2"/><circle cx="549.53" cy="436.80" r="2.25" fill="#fcfdf2"/><circle cx="555.47" cy="436.80" r="2.25" fill="#fcfdf2"/><circle cx="579.25" cy="455.51" r="2.25" fill="#fcfdf2"/><circle cx="567.36" cy="474.22" r="2.25" fill="#fcfdf2"/><circle cx="525.75" cy="483.57" r="2.25" fill="#fcfdf2"/><circle cx="567.36" cy="436.80" r="2.25" fill="#f8fbe2"/><circle cx="537.64" cy="474.22" r="2.25" fill="#f8fbe2"/><circle cx="537.64" cy="483.57" r="2.25" fill="#f8fbe2"/><circle cx="549.53" cy="432.13" r="2.25" fill="#e6f5ab"/><circle cx="567.36" cy="432.13" r="2.25" fill="#e6f5ab"/><circle cx="525.75" cy="436.80" r="2.25" fill="#e6f5ab"/><circle cx="579.25" cy="460.19" r="2.25" fill="#e6f5ab"/><circle cx="579.25" cy="474.22" r="2.25" fill="#e6f5ab"/><circle cx="531.69" cy="436.80" r="2.25" fill="#d8efa6"/><circle cx="555.47" cy="432.13" r="2.25" fill="#c4e8b3"/><circle cx="531.69" cy="474.22" r="2.25" fill="#c4e8b3"/><circle cx="579.25" cy="436.80" r="2.25" fill="#1d91c0"/><circle cx="579.25" cy="432.13" r="2.25" fill="#081d58"/><circle cx="525.75" cy="474.22" r="2.25" fill="#081d58"/><text class="tk" x="519.8" y="492.9">0</text><text class="tk" x="531.7" y="492.9">2</text><text class="tk" x="543.6" y="492.9">4</text><text class="tk" x="555.5" y="492.9">6</text><text class="tk" x="567.4" y="492.9">8</text><text class="tk" x="579.3" y="492.9">10</text><text x="552.50" y="498.85" font-size="5.41" text-anchor="middle" fill="#262626" textLength="27.07" lengthAdjust="spacingAndGlyphs">cluster H3</text><text class="tk te" x="518.4" y="489.9">0</text><text class="tk te" x="518.4" y="480.5">2</text><text class="tk te" x="518.4" y="471.1">4</text><text class="tk te" x="518.4" y="461.8">6</text><text class="tk te" x="518.4" y="452.4">8</text><text class="tk te" x="518.4" y="443.1">10</text><text class="tk te" x="518.4" y="433.7">12</text><text x="511.50" y="457.85" font-size="5.41" text-anchor="middle" fill="#262626" textLength="26.03" lengthAdjust="spacingAndGlyphs" transform="rotate(-90 511.50 457.85)">cluster L2</text><rect x="47.45" y="516.50" width="65.4" height="60.8" fill="#fff" stroke="#cfcfcf" stroke-width="0.9"/><circle cx="106.90" cy="524.10" r="2.25" fill="#fcfdf2"/><circle cx="59.34" cy="531.70" r="2.25" fill="#fcfdf2"/><circle cx="83.12" cy="539.30" r="2.25" fill="#fcfdf2"/><circle cx="106.90" cy="554.50" r="2.25" fill="#fcfdf2"/><circle cx="89.07" cy="554.50" r="2.25" fill="#f8fbe2"/><circle cx="71.23" cy="546.90" r="2.25" fill="#f2f9cf"/><circle cx="83.12" cy="546.90" r="2.25" fill="#f2f9cf"/><circle cx="83.12" cy="569.70" r="2.25" fill="#f2f9cf"/><circle cx="106.90" cy="531.70" r="2.25" fill="#e6f5ab"/><circle cx="100.96" cy="554.50" r="2.25" fill="#d8efa6"/><circle cx="71.23" cy="531.70" r="2.25" fill="#c4e8b3"/><circle cx="53.40" cy="531.70" r="2.25" fill="#92d5b9"/><circle cx="71.23" cy="569.70" r="2.25" fill="#7fcdbb"/><circle cx="100.96" cy="569.70" r="2.25" fill="#225ea8"/><circle cx="83.12" cy="531.70" r="2.25" fill="#081d58"/><circle cx="106.90" cy="569.70" r="2.25" fill="#081d58"/><text class="tk" x="47.5" y="581.9">0</text><text class="tk" x="59.3" y="581.9">2</text><text class="tk" x="71.2" y="581.9">4</text><text class="tk" x="83.1" y="581.9">6</text><text class="tk" x="95.0" y="581.9">8</text><text class="tk" x="106.9" y="581.9">10</text><text x="80.15" y="587.90" font-size="5.41" text-anchor="middle" fill="#262626" textLength="26.03" lengthAdjust="spacingAndGlyphs">cluster L1</text><text class="tk te" x="46.1" y="578.9">0</text><text class="tk te" x="46.1" y="571.3">1</text><text class="tk te" x="46.1" y="563.7">2</text><text class="tk te" x="46.1" y="556.1">3</text><text class="tk te" x="46.1" y="548.5">4</text><text class="tk te" x="46.1" y="540.9">5</text><text class="tk te" x="46.1" y="533.3">6</text><text class="tk te" x="46.1" y="525.7">7</text><text class="tk te" x="46.1" y="518.1">8</text><text x="39.15" y="546.90" font-size="5.41" text-anchor="middle" fill="#262626" textLength="26.03" lengthAdjust="spacingAndGlyphs" transform="rotate(-90 39.15 546.90)">cluster L3</text><rect x="142.45" y="516.50" width="65.4" height="60.8" fill="#fff" stroke="#cfcfcf" stroke-width="0.9"/><circle cx="202.82" cy="524.10" r="2.25" fill="#fcfdf2"/><circle cx="157.54" cy="539.30" r="2.25" fill="#fcfdf2"/><circle cx="177.67" cy="569.70" r="2.25" fill="#fcfdf2"/><circle cx="197.79" cy="546.90" r="2.25" fill="#f8fbe2"/><circle cx="172.63" cy="569.70" r="2.25" fill="#f8fbe2"/><circle cx="147.48" cy="531.70" r="2.25" fill="#e6f5ab"/><circle cx="202.82" cy="531.70" r="2.25" fill="#e6f5ab"/><circle cx="202.82" cy="546.90" r="2.25" fill="#e6f5ab"/><circle cx="172.63" cy="554.50" r="2.25" fill="#e6f5ab"/><circle cx="202.82" cy="554.50" r="2.25" fill="#e6f5ab"/><circle cx="157.54" cy="569.70" r="2.25" fill="#e6f5ab"/><circle cx="197.79" cy="531.70" r="2.25" fill="#a4dbb6"/><circle cx="197.79" cy="569.70" r="2.25" fill="#2c7fb8"/><circle cx="157.54" cy="531.70" r="2.25" fill="#081d58"/><circle cx="202.82" cy="569.70" r="2.25" fill="#081d58"/><text class="tk" x="142.4" y="581.9">0</text><text class="tk" x="152.5" y="581.9">2</text><text class="tk" x="162.6" y="581.9">4</text><text class="tk" x="172.6" y="581.9">6</text><text class="tk" x="182.7" y="581.9">8</text><text class="tk" x="192.8" y="581.9">10</text><text class="tk" x="202.8" y="581.9">12</text><text x="175.15" y="587.90" font-size="5.41" text-anchor="middle" fill="#262626" textLength="26.03" lengthAdjust="spacingAndGlyphs">cluster L2</text><text class="tk te" x="141.0" y="578.9">0</text><text class="tk te" x="141.0" y="571.3">1</text><text class="tk te" x="141.0" y="563.7">2</text><text class="tk te" x="141.0" y="556.1">3</text><text class="tk te" x="141.0" y="548.5">4</text><text class="tk te" x="141.0" y="540.9">5</text><text class="tk te" x="141.0" y="533.3">6</text><text class="tk te" x="141.0" y="525.7">7</text><text class="tk te" x="141.0" y="518.1">8</text><text x="134.15" y="546.90" font-size="5.41" text-anchor="middle" fill="#262626" textLength="26.03" lengthAdjust="spacingAndGlyphs" transform="rotate(-90 134.15 546.90)">cluster L3</text><rect x="235.90" y="516.50" width="65.4" height="60.8" fill="#fff" stroke="#cfcfcf" stroke-width="0.9"/><circle cx="276.77" cy="539.30" r="2.25" fill="#fcfdf2"/><circle cx="293.12" cy="524.10" r="2.25" fill="#fcfdf2"/><circle cx="268.60" cy="546.90" r="2.25" fill="#e3f4b2"/><circle cx="260.43" cy="554.50" r="2.25" fill="#c4e8b3"/><circle cx="244.08" cy="569.70" r="2.25" fill="#081d58"/><circle cx="284.95" cy="531.70" r="2.25" fill="#081d58"/><text class="tk" x="235.9" y="581.9">0</text><text class="tk" x="244.1" y="581.9">1</text><text class="tk" x="252.2" y="581.9">2</text><text class="tk" x="260.4" y="581.9">3</text><text class="tk" x="268.6" y="581.9">4</text><text class="tk" x="276.8" y="581.9">5</text><text class="tk" x="284.9" y="581.9">6</text><text class="tk" x="293.1" y="581.9">7</text><text class="tk" x="301.3" y="581.9">8</text><text x="268.60" y="587.90" font-size="5.41" text-anchor="middle" fill="#262626" textLength="26.03" lengthAdjust="spacingAndGlyphs">cluster L3</text><text class="tk te" x="234.5" y="578.9">0</text><text class="tk te" x="234.5" y="571.3">1</text><text class="tk te" x="234.5" y="563.7">2</text><text class="tk te" x="234.5" y="556.1">3</text><text class="tk te" x="234.5" y="548.5">4</text><text class="tk te" x="234.5" y="540.9">5</text><text class="tk te" x="234.5" y="533.3">6</text><text class="tk te" x="234.5" y="525.7">7</text><text class="tk te" x="234.5" y="518.1">8</text><text x="227.60" y="546.90" font-size="5.41" text-anchor="middle" fill="#262626" textLength="26.03" lengthAdjust="spacingAndGlyphs" transform="rotate(-90 227.60 546.90)">cluster L3</text><rect x="330.30" y="516.50" width="65.4" height="60.8" fill="#fff" stroke="#cfcfcf" stroke-width="0.9"/><circle cx="369.54" cy="531.70" r="2.25" fill="#fcfdf2"/><circle cx="343.38" cy="539.30" r="2.25" fill="#fcfdf2"/><circle cx="343.38" cy="546.90" r="2.25" fill="#fcfdf2"/><circle cx="365.18" cy="546.90" r="2.25" fill="#fcfdf2"/><circle cx="356.46" cy="554.50" r="2.25" fill="#fcfdf2"/><circle cx="360.82" cy="554.50" r="2.25" fill="#fcfdf2"/><circle cx="373.90" cy="554.50" r="2.25" fill="#fcfdf2"/><circle cx="386.98" cy="554.50" r="2.25" fill="#fcfdf2"/><circle cx="339.02" cy="569.70" r="2.25" fill="#fcfdf2"/><circle cx="391.34" cy="569.70" r="2.25" fill="#fcfdf2"/><circle cx="352.10" cy="531.70" r="2.25" fill="#f8fbe2"/><circle cx="391.34" cy="531.70" r="2.25" fill="#f8fbe2"/><circle cx="360.82" cy="569.70" r="2.25" fill="#f8fbe2"/><circle cx="373.90" cy="531.70" r="2.25" fill="#f2f9cf"/><circle cx="334.66" cy="531.70" r="2.25" fill="#e6f5ab"/><circle cx="386.98" cy="531.70" r="2.25" fill="#e6f5ab"/><circle cx="386.98" cy="546.90" r="2.25" fill="#e6f5ab"/><circle cx="343.38" cy="569.70" r="2.25" fill="#e6f5ab"/><circle cx="356.46" cy="569.70" r="2.25" fill="#e6f5ab"/><circle cx="365.18" cy="531.70" r="2.25" fill="#d8efa6"/><circle cx="369.54" cy="569.70" r="2.25" fill="#d8efa6"/><circle cx="339.02" cy="531.70" r="2.25" fill="#c4e8b3"/><circle cx="365.18" cy="554.50" r="2.25" fill="#c4e8b3"/><circle cx="373.90" cy="569.70" r="2.25" fill="#41b6c4"/><circle cx="386.98" cy="569.70" r="2.25" fill="#41b6c4"/><circle cx="343.38" cy="531.70" r="2.25" fill="#162874"/><circle cx="365.18" cy="569.70" r="2.25" fill="#081d58"/><text class="tk" x="330.3" y="581.9">0</text><text class="tk" x="339.0" y="581.9">2</text><text class="tk" x="347.7" y="581.9">4</text><text class="tk" x="356.5" y="581.9">6</text><text class="tk" x="365.2" y="581.9">8</text><text class="tk" x="373.9" y="581.9">10</text><text class="tk" x="382.6" y="581.9">12</text><text class="tk" x="391.3" y="581.9">14</text><text x="363.00" y="587.90" font-size="5.41" text-anchor="middle" fill="#262626" textLength="27.07" lengthAdjust="spacingAndGlyphs">cluster H1</text><text class="tk te" x="328.9" y="578.9">0</text><text class="tk te" x="328.9" y="571.3">1</text><text class="tk te" x="328.9" y="563.7">2</text><text class="tk te" x="328.9" y="556.1">3</text><text class="tk te" x="328.9" y="548.5">4</text><text class="tk te" x="328.9" y="540.9">5</text><text class="tk te" x="328.9" y="533.3">6</text><text class="tk te" x="328.9" y="525.7">7</text><text class="tk te" x="328.9" y="518.1">8</text><text x="322.00" y="546.90" font-size="5.41" text-anchor="middle" fill="#262626" textLength="26.03" lengthAdjust="spacingAndGlyphs" transform="rotate(-90 322.00 546.90)">cluster L3</text><rect x="425.30" y="516.50" width="65.4" height="60.8" fill="#fff" stroke="#cfcfcf" stroke-width="0.9"/><circle cx="431.25" cy="524.10" r="2.25" fill="#fcfdf2"/><circle cx="437.19" cy="569.70" r="2.25" fill="#fcfdf2"/><circle cx="443.14" cy="569.70" r="2.25" fill="#fcfdf2"/><circle cx="466.92" cy="539.30" r="2.25" fill="#fcfdf2"/><circle cx="478.81" cy="531.70" r="2.25" fill="#fcfdf2"/><circle cx="484.75" cy="569.70" r="2.25" fill="#fcfdf2"/><circle cx="431.25" cy="546.90" r="2.25" fill="#f8fbe2"/><circle cx="455.03" cy="531.70" r="2.25" fill="#e6f5ab"/><circle cx="466.92" cy="546.90" r="2.25" fill="#e6f5ab"/><circle cx="484.75" cy="531.70" r="2.25" fill="#e6f5ab"/><circle cx="466.92" cy="569.70" r="2.25" fill="#c4e8b3"/><circle cx="431.25" cy="531.70" r="2.25" fill="#a4dbb6"/><circle cx="431.25" cy="554.50" r="2.25" fill="#a4dbb6"/><circle cx="431.25" cy="569.70" r="2.25" fill="#081d58"/><circle cx="466.92" cy="531.70" r="2.25" fill="#081d58"/><text class="tk" x="425.3" y="581.9">0</text><text class="tk" x="437.2" y="581.9">2</text><text class="tk" x="449.1" y="581.9">4</text><text class="tk" x="461.0" y="581.9">6</text><text class="tk" x="472.9" y="581.9">8</text><text class="tk" x="484.8" y="581.9">10</text><text x="458.00" y="587.90" font-size="5.41" text-anchor="middle" fill="#262626" textLength="27.07" lengthAdjust="spacingAndGlyphs">cluster H2</text><text class="tk te" x="423.9" y="578.9">0</text><text class="tk te" x="423.9" y="571.3">1</text><text class="tk te" x="423.9" y="563.7">2</text><text class="tk te" x="423.9" y="556.1">3</text><text class="tk te" x="423.9" y="548.5">4</text><text class="tk te" x="423.9" y="540.9">5</text><text class="tk te" x="423.9" y="533.3">6</text><text class="tk te" x="423.9" y="525.7">7</text><text class="tk te" x="423.9" y="518.1">8</text><text x="417.00" y="546.90" font-size="5.41" text-anchor="middle" fill="#262626" textLength="26.03" lengthAdjust="spacingAndGlyphs" transform="rotate(-90 417.00 546.90)">cluster L3</text><rect x="519.80" y="516.50" width="65.4" height="60.8" fill="#fff" stroke="#cfcfcf" stroke-width="0.9"/><circle cx="525.75" cy="539.30" r="2.25" fill="#fcfdf2"/><circle cx="525.75" cy="546.90" r="2.25" fill="#fcfdf2"/><circle cx="561.42" cy="546.90" r="2.25" fill="#fcfdf2"/><circle cx="579.25" cy="546.90" r="2.25" fill="#fcfdf2"/><circle cx="549.53" cy="554.50" r="2.25" fill="#fcfdf2"/><circle cx="555.47" cy="554.50" r="2.25" fill="#fcfdf2"/><circle cx="567.36" cy="569.70" r="2.25" fill="#f8fbe2"/><circle cx="567.36" cy="531.70" r="2.25" fill="#f2f9cf"/><circle cx="537.64" cy="531.70" r="2.25" fill="#e6f5ab"/><circle cx="567.36" cy="546.90" r="2.25" fill="#e6f5ab"/><circle cx="525.75" cy="569.70" r="2.25" fill="#e6f5ab"/><circle cx="549.53" cy="569.70" r="2.25" fill="#e6f5ab"/><circle cx="531.69" cy="531.70" r="2.25" fill="#c4e8b3"/><circle cx="579.25" cy="554.50" r="2.25" fill="#c4e8b3"/><circle cx="531.69" cy="569.70" r="2.25" fill="#c4e8b3"/><circle cx="555.47" cy="569.70" r="2.25" fill="#c4e8b3"/><circle cx="579.25" cy="531.70" r="2.25" fill="#7fcdbb"/><circle cx="525.75" cy="531.70" r="2.25" fill="#081d58"/><circle cx="579.25" cy="569.70" r="2.25" fill="#081d58"/><text class="tk" x="519.8" y="581.9">0</text><text class="tk" x="531.7" y="581.9">2</text><text class="tk" x="543.6" y="581.9">4</text><text class="tk" x="555.5" y="581.9">6</text><text class="tk" x="567.4" y="581.9">8</text><text class="tk" x="579.3" y="581.9">10</text><text x="552.50" y="587.90" font-size="5.41" text-anchor="middle" fill="#262626" textLength="27.07" lengthAdjust="spacingAndGlyphs">cluster H3</text><text class="tk te" x="518.4" y="578.9">0</text><text class="tk te" x="518.4" y="571.3">1</text><text class="tk te" x="518.4" y="563.7">2</text><text class="tk te" x="518.4" y="556.1">3</text><text class="tk te" x="518.4" y="548.5">4</text><text class="tk te" x="518.4" y="540.9">5</text><text class="tk te" x="518.4" y="533.3">6</text><text class="tk te" x="518.4" y="525.7">7</text><text class="tk te" x="518.4" y="518.1">8</text><text x="511.50" y="546.90" font-size="5.41" text-anchor="middle" fill="#262626" textLength="26.03" lengthAdjust="spacingAndGlyphs" transform="rotate(-90 511.50 546.90)">cluster L3</text><rect x="47.45" y="605.45" width="65.4" height="60.8" fill="#fff" stroke="#cfcfcf" stroke-width="0.9"/><circle cx="53.40" cy="658.14" r="2.25" fill="#fcfdf2"/><circle cx="59.34" cy="654.09" r="2.25" fill="#fcfdf2"/><circle cx="71.23" cy="609.50" r="2.25" fill="#fcfdf2"/><circle cx="71.23" cy="629.77" r="2.25" fill="#fcfdf2"/><circle cx="71.23" cy="658.14" r="2.25" fill="#fcfdf2"/><circle cx="83.12" cy="609.50" r="2.25" fill="#fcfdf2"/><circle cx="83.12" cy="629.77" r="2.25" fill="#fcfdf2"/><circle cx="83.12" cy="633.82" r="2.25" fill="#fcfdf2"/><circle cx="100.96" cy="637.88" r="2.25" fill="#fcfdf2"/><circle cx="106.90" cy="637.88" r="2.25" fill="#fcfdf2"/><circle cx="53.40" cy="662.20" r="2.25" fill="#f8fbe2"/><circle cx="83.12" cy="625.72" r="2.25" fill="#f8fbe2"/><circle cx="83.12" cy="645.98" r="2.25" fill="#f8fbe2"/><circle cx="83.12" cy="662.20" r="2.25" fill="#f8fbe2"/><circle cx="89.07" cy="633.82" r="2.25" fill="#f8fbe2"/><circle cx="100.96" cy="613.56" r="2.25" fill="#f8fbe2"/><circle cx="100.96" cy="641.93" r="2.25" fill="#f8fbe2"/><circle cx="106.90" cy="654.09" r="2.25" fill="#f8fbe2"/><circle cx="71.23" cy="625.72" r="2.25" fill="#f2f9cf"/><circle cx="71.23" cy="654.09" r="2.25" fill="#f2f9cf"/><circle cx="83.12" cy="613.56" r="2.25" fill="#e6f5ab"/><circle cx="100.96" cy="625.72" r="2.25" fill="#e6f5ab"/><circle cx="106.90" cy="629.77" r="2.25" fill="#e6f5ab"/><circle cx="106.90" cy="641.93" r="2.25" fill="#e6f5ab"/><circle cx="71.23" cy="613.56" r="2.25" fill="#d8efa6"/><circle cx="53.40" cy="654.09" r="2.25" fill="#c4e8b3"/><circle cx="71.23" cy="633.82" r="2.25" fill="#c4e8b3"/><circle cx="83.12" cy="658.14" r="2.25" fill="#c4e8b3"/><circle cx="106.90" cy="613.56" r="2.25" fill="#7fcdbb"/><circle cx="106.90" cy="625.72" r="2.25" fill="#7fcdbb"/><circle cx="100.96" cy="633.82" r="2.25" fill="#1d91c0"/><circle cx="83.12" cy="654.09" r="2.25" fill="#225ea8"/><circle cx="106.90" cy="633.82" r="2.25" fill="#081d58"/><text class="tk" x="47.5" y="670.9">0</text><text class="tk" x="59.3" y="670.9">2</text><text class="tk" x="71.2" y="670.9">4</text><text class="tk" x="83.1" y="670.9">6</text><text class="tk" x="95.0" y="670.9">8</text><text class="tk" x="106.9" y="670.9">10</text><text x="80.15" y="676.85" font-size="5.41" text-anchor="middle" fill="#262626" textLength="26.03" lengthAdjust="spacingAndGlyphs">cluster L1</text><text class="tk te" x="46.1" y="667.9">0</text><text class="tk te" x="46.1" y="659.7">2</text><text class="tk te" x="46.1" y="651.6">4</text><text class="tk te" x="46.1" y="643.5">6</text><text class="tk te" x="46.1" y="635.4">8</text><text class="tk te" x="46.1" y="627.3">10</text><text class="tk te" x="46.1" y="619.2">12</text><text class="tk te" x="46.1" y="611.1">14</text><text x="39.15" y="635.85" font-size="5.41" text-anchor="middle" fill="#262626" textLength="27.07" lengthAdjust="spacingAndGlyphs" transform="rotate(-90 39.15 635.85)">cluster H1</text><rect x="142.45" y="605.45" width="65.4" height="60.8" fill="#fff" stroke="#cfcfcf" stroke-width="0.9"/><circle cx="147.48" cy="654.09" r="2.25" fill="#fcfdf2"/><circle cx="157.54" cy="629.77" r="2.25" fill="#fcfdf2"/><circle cx="157.54" cy="633.82" r="2.25" fill="#fcfdf2"/><circle cx="172.63" cy="625.72" r="2.25" fill="#fcfdf2"/><circle cx="197.79" cy="609.50" r="2.25" fill="#fcfdf2"/><circle cx="197.79" cy="637.88" r="2.25" fill="#fcfdf2"/><circle cx="197.79" cy="641.93" r="2.25" fill="#fcfdf2"/><circle cx="197.79" cy="658.14" r="2.25" fill="#fcfdf2"/><circle cx="202.82" cy="654.09" r="2.25" fill="#fcfdf2"/><circle cx="147.48" cy="662.20" r="2.25" fill="#f8fbe2"/><circle cx="157.54" cy="609.50" r="2.25" fill="#f8fbe2"/><circle cx="157.54" cy="625.72" r="2.25" fill="#f8fbe2"/><circle cx="157.54" cy="645.98" r="2.25" fill="#f8fbe2"/><circle cx="177.67" cy="633.82" r="2.25" fill="#f8fbe2"/><circle cx="197.79" cy="629.77" r="2.25" fill="#f8fbe2"/><circle cx="202.82" cy="637.88" r="2.25" fill="#f8fbe2"/><circle cx="157.54" cy="613.56" r="2.25" fill="#f2f9cf"/><circle cx="157.54" cy="662.20" r="2.25" fill="#e6f5ab"/><circle cx="172.63" cy="633.82" r="2.25" fill="#e6f5ab"/><circle cx="197.79" cy="625.72" r="2.25" fill="#e6f5ab"/><circle cx="202.82" cy="629.77" r="2.25" fill="#e6f5ab"/><circle cx="202.82" cy="641.93" r="2.25" fill="#e6f5ab"/><circle cx="197.79" cy="654.09" r="2.25" fill="#d8efa6"/><circle cx="157.54" cy="658.14" r="2.25" fill="#c4e8b3"/><circle cx="197.79" cy="613.56" r="2.25" fill="#a4dbb6"/><circle cx="197.79" cy="633.82" r="2.25" fill="#7fcdbb"/><circle cx="202.82" cy="613.56" r="2.25" fill="#7fcdbb"/><circle cx="202.82" cy="625.72" r="2.25" fill="#7fcdbb"/><circle cx="157.54" cy="654.09" r="2.25" fill="#253494"/><circle cx="202.82" cy="633.82" r="2.25" fill="#081d58"/><text class="tk" x="142.4" y="670.9">0</text><text class="tk" x="152.5" y="670.9">2</text><text class="tk" x="162.6" y="670.9">4</text><text class="tk" x="172.6" y="670.9">6</text><text class="tk" x="182.7" y="670.9">8</text><text class="tk" x="192.8" y="670.9">10</text><text class="tk" x="202.8" y="670.9">12</text><text x="175.15" y="676.85" font-size="5.41" text-anchor="middle" fill="#262626" textLength="26.03" lengthAdjust="spacingAndGlyphs">cluster L2</text><text class="tk te" x="141.0" y="667.9">0</text><text class="tk te" x="141.0" y="659.7">2</text><text class="tk te" x="141.0" y="651.6">4</text><text class="tk te" x="141.0" y="643.5">6</text><text class="tk te" x="141.0" y="635.4">8</text><text class="tk te" x="141.0" y="627.3">10</text><text class="tk te" x="141.0" y="619.2">12</text><text class="tk te" x="141.0" y="611.1">14</text><text x="134.15" y="635.85" font-size="5.41" text-anchor="middle" fill="#262626" textLength="27.07" lengthAdjust="spacingAndGlyphs" transform="rotate(-90 134.15 635.85)">cluster H1</text><rect x="235.90" y="605.45" width="65.4" height="60.8" fill="#fff" stroke="#cfcfcf" stroke-width="0.9"/><circle cx="244.08" cy="609.50" r="2.25" fill="#fcfdf2"/><circle cx="244.08" cy="658.14" r="2.25" fill="#fcfdf2"/><circle cx="260.43" cy="613.56" r="2.25" fill="#fcfdf2"/><circle cx="260.43" cy="625.72" r="2.25" fill="#fcfdf2"/><circle cx="260.43" cy="637.88" r="2.25" fill="#fcfdf2"/><circle cx="260.43" cy="641.93" r="2.25" fill="#fcfdf2"/><circle cx="268.60" cy="633.82" r="2.25" fill="#fcfdf2"/><circle cx="268.60" cy="654.09" r="2.25" fill="#fcfdf2"/><circle cx="276.77" cy="654.09" r="2.25" fill="#fcfdf2"/><circle cx="284.95" cy="629.77" r="2.25" fill="#fcfdf2"/><circle cx="244.08" cy="637.88" r="2.25" fill="#f8fbe2"/><circle cx="284.95" cy="609.50" r="2.25" fill="#f8fbe2"/><circle cx="284.95" cy="645.98" r="2.25" fill="#f8fbe2"/><circle cx="284.95" cy="625.72" r="2.25" fill="#f2f9cf"/><circle cx="244.08" cy="629.77" r="2.25" fill="#e6f5ab"/><circle cx="244.08" cy="641.93" r="2.25" fill="#e6f5ab"/><circle cx="244.08" cy="654.09" r="2.25" fill="#e6f5ab"/><circle cx="268.60" cy="613.56" r="2.25" fill="#e6f5ab"/><circle cx="284.95" cy="613.56" r="2.25" fill="#e6f5ab"/><circle cx="284.95" cy="662.20" r="2.25" fill="#e6f5ab"/><circle cx="284.95" cy="633.82" r="2.25" fill="#d8efa6"/><circle cx="260.43" cy="633.82" r="2.25" fill="#c4e8b3"/><circle cx="284.95" cy="658.14" r="2.25" fill="#c4e8b3"/><circle cx="244.08" cy="613.56" r="2.25" fill="#41b6c4"/><circle cx="244.08" cy="625.72" r="2.25" fill="#41b6c4"/><circle cx="284.95" cy="654.09" r="2.25" fill="#253494"/><circle cx="244.08" cy="633.82" r="2.25" fill="#081d58"/><text class="tk" x="235.9" y="670.9">0</text><text class="tk" x="244.1" y="670.9">1</text><text class="tk" x="252.2" y="670.9">2</text><text class="tk" x="260.4" y="670.9">3</text><text class="tk" x="268.6" y="670.9">4</text><text class="tk" x="276.8" y="670.9">5</text><text class="tk" x="284.9" y="670.9">6</text><text class="tk" x="293.1" y="670.9">7</text><text class="tk" x="301.3" y="670.9">8</text><text x="268.60" y="676.85" font-size="5.41" text-anchor="middle" fill="#262626" textLength="26.03" lengthAdjust="spacingAndGlyphs">cluster L3</text><text class="tk te" x="234.5" y="667.9">0</text><text class="tk te" x="234.5" y="659.7">2</text><text class="tk te" x="234.5" y="651.6">4</text><text class="tk te" x="234.5" y="643.5">6</text><text class="tk te" x="234.5" y="635.4">8</text><text class="tk te" x="234.5" y="627.3">10</text><text class="tk te" x="234.5" y="619.2">12</text><text class="tk te" x="234.5" y="611.1">14</text><text x="227.60" y="635.85" font-size="5.41" text-anchor="middle" fill="#262626" textLength="27.07" lengthAdjust="spacingAndGlyphs" transform="rotate(-90 227.60 635.85)">cluster H1</text><rect x="330.30" y="605.45" width="65.4" height="60.8" fill="#fff" stroke="#cfcfcf" stroke-width="0.9"/><circle cx="352.10" cy="645.98" r="2.25" fill="#f8fbe2"/><circle cx="360.82" cy="637.88" r="2.25" fill="#f2f9cf"/><circle cx="391.34" cy="609.50" r="2.25" fill="#f2f9cf"/><circle cx="334.66" cy="662.20" r="2.25" fill="#e6f5ab"/><circle cx="356.46" cy="641.93" r="2.25" fill="#e6f5ab"/><circle cx="369.54" cy="629.77" r="2.25" fill="#d8efa6"/><circle cx="339.02" cy="658.14" r="2.25" fill="#c4e8b3"/><circle cx="373.90" cy="625.72" r="2.25" fill="#1d91c0"/><circle cx="386.98" cy="613.56" r="2.25" fill="#225ea8"/><circle cx="343.38" cy="654.09" r="2.25" fill="#081d58"/><circle cx="365.18" cy="633.82" r="2.25" fill="#081d58"/><text class="tk" x="330.3" y="670.9">0</text><text class="tk" x="339.0" y="670.9">2</text><text class="tk" x="347.7" y="670.9">4</text><text class="tk" x="356.5" y="670.9">6</text><text class="tk" x="365.2" y="670.9">8</text><text class="tk" x="373.9" y="670.9">10</text><text class="tk" x="382.6" y="670.9">12</text><text class="tk" x="391.3" y="670.9">14</text><text x="363.00" y="676.85" font-size="5.41" text-anchor="middle" fill="#262626" textLength="27.07" lengthAdjust="spacingAndGlyphs">cluster H1</text><text class="tk te" x="328.9" y="667.9">0</text><text class="tk te" x="328.9" y="659.7">2</text><text class="tk te" x="328.9" y="651.6">4</text><text class="tk te" x="328.9" y="643.5">6</text><text class="tk te" x="328.9" y="635.4">8</text><text class="tk te" x="328.9" y="627.3">10</text><text class="tk te" x="328.9" y="619.2">12</text><text class="tk te" x="328.9" y="611.1">14</text><text x="322.00" y="635.85" font-size="5.41" text-anchor="middle" fill="#262626" textLength="27.07" lengthAdjust="spacingAndGlyphs" transform="rotate(-90 322.00 635.85)">cluster H1</text><rect x="425.30" y="605.45" width="65.4" height="60.8" fill="#fff" stroke="#cfcfcf" stroke-width="0.9"/><circle cx="431.25" cy="654.09" r="2.25" fill="#fcfdf2"/><circle cx="443.14" cy="637.88" r="2.25" fill="#fcfdf2"/><circle cx="455.03" cy="609.50" r="2.25" fill="#fcfdf2"/><circle cx="466.92" cy="629.77" r="2.25" fill="#fcfdf2"/><circle cx="466.92" cy="633.82" r="2.25" fill="#fcfdf2"/><circle cx="478.81" cy="658.14" r="2.25" fill="#fcfdf2"/><circle cx="484.75" cy="625.72" r="2.25" fill="#fcfdf2"/><circle cx="455.03" cy="654.09" r="2.25" fill="#f8fbe2"/><circle cx="455.03" cy="662.20" r="2.25" fill="#f8fbe2"/><circle cx="466.92" cy="609.50" r="2.25" fill="#f8fbe2"/><circle cx="466.92" cy="645.98" r="2.25" fill="#f8fbe2"/><circle cx="431.25" cy="637.88" r="2.25" fill="#f2f9cf"/><circle cx="466.92" cy="662.20" r="2.25" fill="#f2f9cf"/><circle cx="431.25" cy="641.93" r="2.25" fill="#e6f5ab"/><circle cx="466.92" cy="625.72" r="2.25" fill="#e6f5ab"/><circle cx="466.92" cy="658.14" r="2.25" fill="#e6f5ab"/><circle cx="484.75" cy="658.14" r="2.25" fill="#e6f5ab"/><circle cx="431.25" cy="629.77" r="2.25" fill="#c4e8b3"/><circle cx="466.92" cy="613.56" r="2.25" fill="#c4e8b3"/><circle cx="431.25" cy="613.56" r="2.25" fill="#41b6c4"/><circle cx="431.25" cy="625.72" r="2.25" fill="#41b6c4"/><circle cx="431.25" cy="633.82" r="2.25" fill="#081d58"/><circle cx="466.92" cy="654.09" r="2.25" fill="#081d58"/><text class="tk" x="425.3" y="670.9">0</text><text class="tk" x="437.2" y="670.9">2</text><text class="tk" x="449.1" y="670.9">4</text><text class="tk" x="461.0" y="670.9">6</text><text class="tk" x="472.9" y="670.9">8</text><text class="tk" x="484.8" y="670.9">10</text><text x="458.00" y="676.85" font-size="5.41" text-anchor="middle" fill="#262626" textLength="27.07" lengthAdjust="spacingAndGlyphs">cluster H2</text><text class="tk te" x="423.9" y="667.9">0</text><text class="tk te" x="423.9" y="659.7">2</text><text class="tk te" x="423.9" y="651.6">4</text><text class="tk te" x="423.9" y="643.5">6</text><text class="tk te" x="423.9" y="635.4">8</text><text class="tk te" x="423.9" y="627.3">10</text><text class="tk te" x="423.9" y="619.2">12</text><text class="tk te" x="423.9" y="611.1">14</text><text x="417.00" y="635.85" font-size="5.41" text-anchor="middle" fill="#262626" textLength="27.07" lengthAdjust="spacingAndGlyphs" transform="rotate(-90 417.00 635.85)">cluster H1</text><rect x="519.80" y="605.45" width="65.4" height="60.8" fill="#fff" stroke="#cfcfcf" stroke-width="0.9"/><circle cx="525.75" cy="613.56" r="2.25" fill="#fcfdf2"/><circle cx="525.75" cy="625.72" r="2.25" fill="#fcfdf2"/><circle cx="531.69" cy="629.77" r="2.25" fill="#fcfdf2"/><circle cx="531.69" cy="658.14" r="2.25" fill="#fcfdf2"/><circle cx="537.64" cy="609.50" r="2.25" fill="#fcfdf2"/><circle cx="537.64" cy="658.14" r="2.25" fill="#fcfdf2"/><circle cx="549.53" cy="629.77" r="2.25" fill="#fcfdf2"/><circle cx="561.42" cy="613.56" r="2.25" fill="#fcfdf2"/><circle cx="525.75" cy="609.50" r="2.25" fill="#f8fbe2"/><circle cx="525.75" cy="645.98" r="2.25" fill="#f8fbe2"/><circle cx="537.64" cy="654.09" r="2.25" fill="#f8fbe2"/><circle cx="537.64" cy="662.20" r="2.25" fill="#f8fbe2"/><circle cx="549.53" cy="633.82" r="2.25" fill="#f8fbe2"/><circle cx="567.36" cy="654.09" r="2.25" fill="#f8fbe2"/><circle cx="579.25" cy="641.93" r="2.25" fill="#f8fbe2"/><circle cx="579.25" cy="654.09" r="2.25" fill="#f8fbe2"/><circle cx="531.69" cy="633.82" r="2.25" fill="#f2f9cf"/><circle cx="579.25" cy="637.88" r="2.25" fill="#f2f9cf"/><circle cx="525.75" cy="662.20" r="2.25" fill="#e6f5ab"/><circle cx="531.69" cy="613.56" r="2.25" fill="#e6f5ab"/><circle cx="531.69" cy="625.72" r="2.25" fill="#e6f5ab"/><circle cx="549.53" cy="641.93" r="2.25" fill="#e6f5ab"/><circle cx="567.36" cy="613.56" r="2.25" fill="#e6f5ab"/><circle cx="567.36" cy="633.82" r="2.25" fill="#e6f5ab"/><circle cx="579.25" cy="629.77" r="2.25" fill="#e6f5ab"/><circle cx="531.69" cy="654.09" r="2.25" fill="#d8efa6"/><circle cx="525.75" cy="658.14" r="2.25" fill="#c4e8b3"/><circle cx="555.47" cy="633.82" r="2.25" fill="#a4dbb6"/><circle cx="579.25" cy="613.56" r="2.25" fill="#41b6c4"/><circle cx="579.25" cy="625.72" r="2.25" fill="#41b6c4"/><circle cx="525.75" cy="654.09" r="2.25" fill="#225ea8"/><circle cx="579.25" cy="633.82" r="2.25" fill="#081d58"/><text class="tk" x="519.8" y="670.9">0</text><text class="tk" x="531.7" y="670.9">2</text><text class="tk" x="543.6" y="670.9">4</text><text class="tk" x="555.5" y="670.9">6</text><text class="tk" x="567.4" y="670.9">8</text><text class="tk" x="579.3" y="670.9">10</text><text x="552.50" y="676.85" font-size="5.41" text-anchor="middle" fill="#262626" textLength="27.07" lengthAdjust="spacingAndGlyphs">cluster H3</text><text class="tk te" x="518.4" y="667.9">0</text><text class="tk te" x="518.4" y="659.7">2</text><text class="tk te" x="518.4" y="651.6">4</text><text class="tk te" x="518.4" y="643.5">6</text><text class="tk te" x="518.4" y="635.4">8</text><text class="tk te" x="518.4" y="627.3">10</text><text class="tk te" x="518.4" y="619.2">12</text><text class="tk te" x="518.4" y="611.1">14</text><text x="511.50" y="635.85" font-size="5.41" text-anchor="middle" fill="#262626" textLength="27.07" lengthAdjust="spacingAndGlyphs" transform="rotate(-90 511.50 635.85)">cluster H1</text><rect x="47.45" y="694.60" width="65.4" height="60.8" fill="#fff" stroke="#cfcfcf" stroke-width="0.9"/><circle cx="53.40" cy="700.13" r="2.25" fill="#fcfdf2"/><circle cx="71.23" cy="700.13" r="2.25" fill="#fcfdf2"/><circle cx="59.34" cy="716.71" r="2.25" fill="#fcfdf2"/><circle cx="83.12" cy="727.76" r="2.25" fill="#fcfdf2"/><circle cx="95.01" cy="749.87" r="2.25" fill="#fcfdf2"/><circle cx="89.07" cy="749.87" r="2.25" fill="#f8fbe2"/><circle cx="53.40" cy="727.76" r="2.25" fill="#f2f9cf"/><circle cx="83.12" cy="749.87" r="2.25" fill="#f2f9cf"/><circle cx="83.12" cy="700.13" r="2.25" fill="#e6f5ab"/><circle cx="106.90" cy="716.71" r="2.25" fill="#e6f5ab"/><circle cx="53.40" cy="716.71" r="2.25" fill="#c4e8b3"/><circle cx="71.23" cy="716.71" r="2.25" fill="#c4e8b3"/><circle cx="71.23" cy="749.87" r="2.25" fill="#4cbac2"/><circle cx="100.96" cy="749.87" r="2.25" fill="#253494"/><circle cx="83.12" cy="716.71" r="2.25" fill="#081d58"/><circle cx="106.90" cy="749.87" r="2.25" fill="#081d58"/><text class="tk" x="47.5" y="760.0">0</text><text class="tk" x="59.3" y="760.0">2</text><text class="tk" x="71.2" y="760.0">4</text><text class="tk" x="83.1" y="760.0">6</text><text class="tk" x="95.0" y="760.0">8</text><text class="tk" x="106.9" y="760.0">10</text><text x="80.15" y="766.00" font-size="5.41" text-anchor="middle" fill="#262626" textLength="26.03" lengthAdjust="spacingAndGlyphs">cluster L1</text><text class="tk te" x="46.1" y="757.0">0</text><text class="tk te" x="46.1" y="745.9">2</text><text class="tk te" x="46.1" y="734.9">4</text><text class="tk te" x="46.1" y="723.8">6</text><text class="tk te" x="46.1" y="712.8">8</text><text class="tk te" x="46.1" y="701.7">10</text><text x="39.15" y="725.00" font-size="5.41" text-anchor="middle" fill="#262626" textLength="27.07" lengthAdjust="spacingAndGlyphs" transform="rotate(-90 39.15 725.00)">cluster H2</text><rect x="142.45" y="694.60" width="65.4" height="60.8" fill="#fff" stroke="#cfcfcf" stroke-width="0.9"/><circle cx="147.48" cy="727.76" r="2.25" fill="#fcfdf2"/><circle cx="177.67" cy="749.87" r="2.25" fill="#fcfdf2"/><circle cx="197.79" cy="700.13" r="2.25" fill="#fcfdf2"/><circle cx="147.48" cy="716.71" r="2.25" fill="#f8fbe2"/><circle cx="157.54" cy="727.76" r="2.25" fill="#f8fbe2"/><circle cx="157.54" cy="749.87" r="2.25" fill="#f2f9cf"/><circle cx="157.54" cy="700.13" r="2.25" fill="#e6f5ab"/><circle cx="172.63" cy="749.87" r="2.25" fill="#e6f5ab"/><circle cx="202.82" cy="716.71" r="2.25" fill="#e6f5ab"/><circle cx="197.79" cy="716.71" r="2.25" fill="#7fcdbb"/><circle cx="197.79" cy="749.87" r="2.25" fill="#2c7fb8"/><circle cx="157.54" cy="716.71" r="2.25" fill="#081d58"/><circle cx="202.82" cy="749.87" r="2.25" fill="#081d58"/><text class="tk" x="142.4" y="760.0">0</text><text class="tk" x="152.5" y="760.0">2</text><text class="tk" x="162.6" y="760.0">4</text><text class="tk" x="172.6" y="760.0">6</text><text class="tk" x="182.7" y="760.0">8</text><text class="tk" x="192.8" y="760.0">10</text><text class="tk" x="202.8" y="760.0">12</text><text x="175.15" y="766.00" font-size="5.41" text-anchor="middle" fill="#262626" textLength="26.03" lengthAdjust="spacingAndGlyphs">cluster L2</text><text class="tk te" x="141.0" y="757.0">0</text><text class="tk te" x="141.0" y="745.9">2</text><text class="tk te" x="141.0" y="734.9">4</text><text class="tk te" x="141.0" y="723.8">6</text><text class="tk te" x="141.0" y="712.8">8</text><text class="tk te" x="141.0" y="701.7">10</text><text x="134.15" y="725.00" font-size="5.41" text-anchor="middle" fill="#262626" textLength="27.07" lengthAdjust="spacingAndGlyphs" transform="rotate(-90 134.15 725.00)">cluster H2</text><rect x="235.90" y="694.60" width="65.4" height="60.8" fill="#fff" stroke="#cfcfcf" stroke-width="0.9"/><circle cx="244.08" cy="700.13" r="2.25" fill="#fcfdf2"/><circle cx="244.08" cy="738.82" r="2.25" fill="#fcfdf2"/><circle cx="244.08" cy="744.35" r="2.25" fill="#fcfdf2"/><circle cx="268.60" cy="749.87" r="2.25" fill="#fcfdf2"/><circle cx="276.77" cy="716.71" r="2.25" fill="#fcfdf2"/><circle cx="284.95" cy="705.65" r="2.25" fill="#fcfdf2"/><circle cx="293.12" cy="749.87" r="2.25" fill="#fcfdf2"/><circle cx="284.95" cy="727.76" r="2.25" fill="#f2f9cf"/><circle cx="268.60" cy="716.71" r="2.25" fill="#e6f5ab"/><circle cx="284.95" cy="700.13" r="2.25" fill="#e6f5ab"/><circle cx="244.08" cy="716.71" r="2.25" fill="#c4e8b3"/><circle cx="260.43" cy="749.87" r="2.25" fill="#c4e8b3"/><circle cx="284.95" cy="749.87" r="2.25" fill="#c4e8b3"/><circle cx="244.08" cy="749.87" r="2.25" fill="#081d58"/><circle cx="284.95" cy="716.71" r="2.25" fill="#081d58"/><text class="tk" x="235.9" y="760.0">0</text><text class="tk" x="244.1" y="760.0">1</text><text class="tk" x="252.2" y="760.0">2</text><text class="tk" x="260.4" y="760.0">3</text><text class="tk" x="268.6" y="760.0">4</text><text class="tk" x="276.8" y="760.0">5</text><text class="tk" x="284.9" y="760.0">6</text><text class="tk" x="293.1" y="760.0">7</text><text class="tk" x="301.3" y="760.0">8</text><text x="268.60" y="766.00" font-size="5.41" text-anchor="middle" fill="#262626" textLength="26.03" lengthAdjust="spacingAndGlyphs">cluster L3</text><text class="tk te" x="234.5" y="757.0">0</text><text class="tk te" x="234.5" y="745.9">2</text><text class="tk te" x="234.5" y="734.9">4</text><text class="tk te" x="234.5" y="723.8">6</text><text class="tk te" x="234.5" y="712.8">8</text><text class="tk te" x="234.5" y="701.7">10</text><text x="227.60" y="725.00" font-size="5.41" text-anchor="middle" fill="#262626" textLength="27.07" lengthAdjust="spacingAndGlyphs" transform="rotate(-90 227.60 725.00)">cluster H2</text><rect x="330.30" y="694.60" width="65.4" height="60.8" fill="#fff" stroke="#cfcfcf" stroke-width="0.9"/><circle cx="373.90" cy="700.13" r="2.25" fill="#fcfdf2"/><circle cx="339.02" cy="705.65" r="2.25" fill="#fcfdf2"/><circle cx="365.18" cy="716.71" r="2.25" fill="#fcfdf2"/><circle cx="369.54" cy="716.71" r="2.25" fill="#fcfdf2"/><circle cx="334.66" cy="727.76" r="2.25" fill="#fcfdf2"/><circle cx="343.38" cy="727.76" r="2.25" fill="#fcfdf2"/><circle cx="391.34" cy="727.76" r="2.25" fill="#fcfdf2"/><circle cx="360.82" cy="738.82" r="2.25" fill="#fcfdf2"/><circle cx="343.38" cy="749.87" r="2.25" fill="#fcfdf2"/><circle cx="352.10" cy="716.71" r="2.25" fill="#f8fbe2"/><circle cx="391.34" cy="716.71" r="2.25" fill="#f8fbe2"/><circle cx="360.82" cy="749.87" r="2.25" fill="#f8fbe2"/><circle cx="334.66" cy="716.71" r="2.25" fill="#f2f9cf"/><circle cx="373.90" cy="716.71" r="2.25" fill="#f2f9cf"/><circle cx="339.02" cy="700.13" r="2.25" fill="#e6f5ab"/><circle cx="339.02" cy="716.71" r="2.25" fill="#e6f5ab"/><circle cx="356.46" cy="749.87" r="2.25" fill="#e6f5ab"/><circle cx="386.98" cy="716.71" r="2.25" fill="#c4e8b3"/><circle cx="369.54" cy="749.87" r="2.25" fill="#c4e8b3"/><circle cx="373.90" cy="749.87" r="2.25" fill="#41b6c4"/><circle cx="386.98" cy="749.87" r="2.25" fill="#41b6c4"/><circle cx="343.38" cy="716.71" r="2.25" fill="#081d58"/><circle cx="365.18" cy="749.87" r="2.25" fill="#081d58"/><text class="tk" x="330.3" y="760.0">0</text><text class="tk" x="339.0" y="760.0">2</text><text class="tk" x="347.7" y="760.0">4</text><text class="tk" x="356.5" y="760.0">6</text><text class="tk" x="365.2" y="760.0">8</text><text class="tk" x="373.9" y="760.0">10</text><text class="tk" x="382.6" y="760.0">12</text><text class="tk" x="391.3" y="760.0">14</text><text x="363.00" y="766.00" font-size="5.41" text-anchor="middle" fill="#262626" textLength="27.07" lengthAdjust="spacingAndGlyphs">cluster H1</text><text class="tk te" x="328.9" y="757.0">0</text><text class="tk te" x="328.9" y="745.9">2</text><text class="tk te" x="328.9" y="734.9">4</text><text class="tk te" x="328.9" y="723.8">6</text><text class="tk te" x="328.9" y="712.8">8</text><text class="tk te" x="328.9" y="701.7">10</text><text x="322.00" y="725.00" font-size="5.41" text-anchor="middle" fill="#262626" textLength="27.07" lengthAdjust="spacingAndGlyphs" transform="rotate(-90 322.00 725.00)">cluster H2</text><rect x="425.30" y="694.60" width="65.4" height="60.8" fill="#fff" stroke="#cfcfcf" stroke-width="0.9"/><circle cx="437.19" cy="744.35" r="2.25" fill="#fcfdf2"/><circle cx="443.14" cy="738.82" r="2.25" fill="#fcfdf2"/><circle cx="478.81" cy="705.65" r="2.25" fill="#fcfdf2"/><circle cx="455.03" cy="727.76" r="2.25" fill="#f2f9cf"/><circle cx="484.75" cy="700.13" r="2.25" fill="#e6f5ab"/><circle cx="431.25" cy="749.87" r="2.25" fill="#081d58"/><circle cx="466.92" cy="716.71" r="2.25" fill="#081d58"/><text class="tk" x="425.3" y="760.0">0</text><text class="tk" x="437.2" y="760.0">2</text><text class="tk" x="449.1" y="760.0">4</text><text class="tk" x="461.0" y="760.0">6</text><text class="tk" x="472.9" y="760.0">8</text><text class="tk" x="484.8" y="760.0">10</text><text x="458.00" y="766.00" font-size="5.41" text-anchor="middle" fill="#262626" textLength="27.07" lengthAdjust="spacingAndGlyphs">cluster H2</text><text class="tk te" x="423.9" y="757.0">0</text><text class="tk te" x="423.9" y="745.9">2</text><text class="tk te" x="423.9" y="734.9">4</text><text class="tk te" x="423.9" y="723.8">6</text><text class="tk te" x="423.9" y="712.8">8</text><text class="tk te" x="423.9" y="701.7">10</text><text x="417.00" y="725.00" font-size="5.41" text-anchor="middle" fill="#262626" textLength="27.07" lengthAdjust="spacingAndGlyphs" transform="rotate(-90 417.00 725.00)">cluster H2</text><rect x="519.80" y="694.60" width="65.4" height="60.8" fill="#fff" stroke="#cfcfcf" stroke-width="0.9"/><circle cx="525.75" cy="727.76" r="2.25" fill="#fcfdf2"/><circle cx="561.42" cy="716.71" r="2.25" fill="#fcfdf2"/><circle cx="579.25" cy="738.82" r="2.25" fill="#fcfdf2"/><circle cx="579.25" cy="744.35" r="2.25" fill="#fcfdf2"/><circle cx="531.69" cy="700.13" r="2.25" fill="#f8fbe2"/><circle cx="537.64" cy="727.76" r="2.25" fill="#f8fbe2"/><circle cx="537.64" cy="716.71" r="2.25" fill="#f2f9cf"/><circle cx="525.75" cy="700.13" r="2.25" fill="#e6f5ab"/><circle cx="531.69" cy="749.87" r="2.25" fill="#e6f5ab"/><circle cx="549.53" cy="749.87" r="2.25" fill="#e6f5ab"/><circle cx="567.36" cy="716.71" r="2.25" fill="#e6f5ab"/><circle cx="567.36" cy="749.87" r="2.25" fill="#e6f5ab"/><circle cx="579.25" cy="716.71" r="2.25" fill="#e6f5ab"/><circle cx="531.69" cy="716.71" r="2.25" fill="#a4dbb6"/><circle cx="555.47" cy="749.87" r="2.25" fill="#a4dbb6"/><circle cx="525.75" cy="716.71" r="2.25" fill="#081d58"/><circle cx="579.25" cy="749.87" r="2.25" fill="#081d58"/><text class="tk" x="519.8" y="760.0">0</text><text class="tk" x="531.7" y="760.0">2</text><text class="tk" x="543.6" y="760.0">4</text><text class="tk" x="555.5" y="760.0">6</text><text class="tk" x="567.4" y="760.0">8</text><text class="tk" x="579.3" y="760.0">10</text><text x="552.50" y="766.00" font-size="5.41" text-anchor="middle" fill="#262626" textLength="27.07" lengthAdjust="spacingAndGlyphs">cluster H3</text><text class="tk te" x="518.4" y="757.0">0</text><text class="tk te" x="518.4" y="745.9">2</text><text class="tk te" x="518.4" y="734.9">4</text><text class="tk te" x="518.4" y="723.8">6</text><text class="tk te" x="518.4" y="712.8">8</text><text class="tk te" x="518.4" y="701.7">10</text><text x="511.50" y="725.00" font-size="5.41" text-anchor="middle" fill="#262626" textLength="27.07" lengthAdjust="spacingAndGlyphs" transform="rotate(-90 511.50 725.00)">cluster H2</text><rect x="47.45" y="783.45" width="65.4" height="60.8" fill="#fff" stroke="#cfcfcf" stroke-width="0.9"/><circle cx="95.01" cy="788.98" r="2.25" fill="#fcfdf2"/><circle cx="100.96" cy="800.03" r="2.25" fill="#fcfdf2"/><circle cx="83.12" cy="805.56" r="2.25" fill="#fcfdf2"/><circle cx="71.23" cy="811.09" r="2.25" fill="#fcfdf2"/><circle cx="100.96" cy="816.61" r="2.25" fill="#fcfdf2"/><circle cx="53.40" cy="833.20" r="2.25" fill="#fcfdf2"/><circle cx="59.34" cy="838.72" r="2.25" fill="#fcfdf2"/><circle cx="106.90" cy="838.72" r="2.25" fill="#fcfdf2"/><circle cx="89.07" cy="788.98" r="2.25" fill="#f8fbe2"/><circle cx="106.90" cy="800.03" r="2.25" fill="#f8fbe2"/><circle cx="53.40" cy="827.67" r="2.25" fill="#f8fbe2"/><circle cx="83.12" cy="827.67" r="2.25" fill="#f8fbe2"/><circle cx="71.23" cy="838.72" r="2.25" fill="#f8fbe2"/><circle cx="83.12" cy="800.03" r="2.25" fill="#f2f9cf"/><circle cx="100.96" cy="811.09" r="2.25" fill="#f2f9cf"/><circle cx="71.23" cy="833.20" r="2.25" fill="#f2f9cf"/><circle cx="83.12" cy="788.98" r="2.25" fill="#e6f5ab"/><circle cx="71.23" cy="800.03" r="2.25" fill="#e6f5ab"/><circle cx="106.90" cy="811.09" r="2.25" fill="#e6f5ab"/><circle cx="106.90" cy="816.61" r="2.25" fill="#e6f5ab"/><circle cx="106.90" cy="833.20" r="2.25" fill="#e6f5ab"/><circle cx="83.12" cy="833.20" r="2.25" fill="#c4e8b3"/><circle cx="53.40" cy="838.72" r="2.25" fill="#c4e8b3"/><circle cx="71.23" cy="788.98" r="2.25" fill="#7fcdbb"/><circle cx="100.96" cy="788.98" r="2.25" fill="#253494"/><circle cx="83.12" cy="838.72" r="2.25" fill="#253494"/><circle cx="106.90" cy="788.98" r="2.25" fill="#081d58"/><text class="tk" x="47.5" y="848.9">0</text><text class="tk" x="59.3" y="848.9">2</text><text class="tk" x="71.2" y="848.9">4</text><text class="tk" x="83.1" y="848.9">6</text><text class="tk" x="95.0" y="848.9">8</text><text class="tk" x="106.9" y="848.9">10</text><text x="80.15" y="854.85" font-size="5.41" text-anchor="middle" fill="#262626" textLength="26.03" lengthAdjust="spacingAndGlyphs">cluster L1</text><text class="tk" transform="translate(45.2 844.2) rotate(-90)">0</text><text class="tk" transform="translate(45.2 833.2) rotate(-90)">2</text><text class="tk" transform="translate(45.2 822.1) rotate(-90)">4</text><text class="tk" transform="translate(45.2 811.1) rotate(-90)">6</text><text class="tk" transform="translate(45.2 800.0) rotate(-90)">8</text><text class="tk" transform="translate(45.2 789.0) rotate(-90)">10</text><text x="39.15" y="813.85" font-size="5.41" text-anchor="middle" fill="#262626" textLength="27.07" lengthAdjust="spacingAndGlyphs" transform="rotate(-90 39.15 813.85)">cluster H3</text><rect x="142.45" y="783.45" width="65.4" height="60.8" fill="#fff" stroke="#cfcfcf" stroke-width="0.9"/><circle cx="157.54" cy="800.03" r="2.25" fill="#fcfdf2"/><circle cx="177.67" cy="788.98" r="2.25" fill="#fcfdf2"/><circle cx="197.79" cy="816.61" r="2.25" fill="#fcfdf2"/><circle cx="147.48" cy="827.67" r="2.25" fill="#f8fbe2"/><circle cx="147.48" cy="838.72" r="2.25" fill="#f8fbe2"/><circle cx="197.79" cy="811.09" r="2.25" fill="#f8fbe2"/><circle cx="202.82" cy="833.20" r="2.25" fill="#f8fbe2"/><circle cx="157.54" cy="827.67" r="2.25" fill="#f2f9cf"/><circle cx="197.79" cy="800.03" r="2.25" fill="#f2f9cf"/><circle cx="157.54" cy="788.98" r="2.25" fill="#e6f5ab"/><circle cx="172.63" cy="788.98" r="2.25" fill="#e6f5ab"/><circle cx="197.79" cy="838.72" r="2.25" fill="#e6f5ab"/><circle cx="202.82" cy="816.61" r="2.25" fill="#e6f5ab"/><circle cx="197.79" cy="833.20" r="2.25" fill="#d8efa6"/><circle cx="202.82" cy="800.03" r="2.25" fill="#d8efa6"/><circle cx="157.54" cy="833.20" r="2.25" fill="#c4e8b3"/><circle cx="202.82" cy="811.09" r="2.25" fill="#c4e8b3"/><circle cx="197.79" cy="788.98" r="2.25" fill="#1d91c0"/><circle cx="157.54" cy="838.72" r="2.25" fill="#081d58"/><circle cx="202.82" cy="788.98" r="2.25" fill="#081d58"/><text class="tk" x="142.4" y="848.9">0</text><text class="tk" x="152.5" y="848.9">2</text><text class="tk" x="162.6" y="848.9">4</text><text class="tk" x="172.6" y="848.9">6</text><text class="tk" x="182.7" y="848.9">8</text><text class="tk" x="192.8" y="848.9">10</text><text class="tk" x="202.8" y="848.9">12</text><text x="175.15" y="854.85" font-size="5.41" text-anchor="middle" fill="#262626" textLength="26.03" lengthAdjust="spacingAndGlyphs">cluster L2</text><text class="tk" transform="translate(140.1 844.2) rotate(-90)">0</text><text class="tk" transform="translate(140.1 833.2) rotate(-90)">2</text><text class="tk" transform="translate(140.1 822.1) rotate(-90)">4</text><text class="tk" transform="translate(140.1 811.1) rotate(-90)">6</text><text class="tk" transform="translate(140.1 800.0) rotate(-90)">8</text><text class="tk" transform="translate(140.1 789.0) rotate(-90)">10</text><text x="134.15" y="813.85" font-size="5.41" text-anchor="middle" fill="#262626" textLength="27.07" lengthAdjust="spacingAndGlyphs" transform="rotate(-90 134.15 813.85)">cluster H3</text><rect x="235.90" y="783.45" width="65.4" height="60.8" fill="#fff" stroke="#cfcfcf" stroke-width="0.9"/><circle cx="260.43" cy="811.09" r="2.25" fill="#fcfdf2"/><circle cx="260.43" cy="816.61" r="2.25" fill="#fcfdf2"/><circle cx="268.60" cy="788.98" r="2.25" fill="#fcfdf2"/><circle cx="268.60" cy="805.56" r="2.25" fill="#fcfdf2"/><circle cx="268.60" cy="838.72" r="2.25" fill="#fcfdf2"/><circle cx="276.77" cy="838.72" r="2.25" fill="#fcfdf2"/><circle cx="244.08" cy="800.03" r="2.25" fill="#f8fbe2"/><circle cx="244.08" cy="838.72" r="2.25" fill="#f2f9cf"/><circle cx="284.95" cy="800.03" r="2.25" fill="#f2f9cf"/><circle cx="244.08" cy="816.61" r="2.25" fill="#e6f5ab"/><circle cx="268.60" cy="800.03" r="2.25" fill="#e6f5ab"/><circle cx="284.95" cy="827.67" r="2.25" fill="#e6f5ab"/><circle cx="244.08" cy="833.20" r="2.25" fill="#d8efa6"/><circle cx="244.08" cy="811.09" r="2.25" fill="#c4e8b3"/><circle cx="260.43" cy="788.98" r="2.25" fill="#c4e8b3"/><circle cx="284.95" cy="833.20" r="2.25" fill="#c4e8b3"/><circle cx="284.95" cy="788.98" r="2.25" fill="#92d5b9"/><circle cx="244.08" cy="788.98" r="2.25" fill="#081d58"/><circle cx="284.95" cy="838.72" r="2.25" fill="#081d58"/><text class="tk" x="235.9" y="848.9">0</text><text class="tk" x="244.1" y="848.9">1</text><text class="tk" x="252.2" y="848.9">2</text><text class="tk" x="260.4" y="848.9">3</text><text class="tk" x="268.6" y="848.9">4</text><text class="tk" x="276.8" y="848.9">5</text><text class="tk" x="284.9" y="848.9">6</text><text class="tk" x="293.1" y="848.9">7</text><text class="tk" x="301.3" y="848.9">8</text><text x="268.60" y="854.85" font-size="5.41" text-anchor="middle" fill="#262626" textLength="26.03" lengthAdjust="spacingAndGlyphs">cluster L3</text><text class="tk" transform="translate(233.6 844.2) rotate(-90)">0</text><text class="tk" transform="translate(233.6 833.2) rotate(-90)">2</text><text class="tk" transform="translate(233.6 822.1) rotate(-90)">4</text><text class="tk" transform="translate(233.6 811.1) rotate(-90)">6</text><text class="tk" transform="translate(233.6 800.0) rotate(-90)">8</text><text class="tk" transform="translate(233.6 789.0) rotate(-90)">10</text><text x="227.60" y="813.85" font-size="5.41" text-anchor="middle" fill="#262626" textLength="27.07" lengthAdjust="spacingAndGlyphs" transform="rotate(-90 227.60 813.85)">cluster H3</text><rect x="330.30" y="783.45" width="65.4" height="60.8" fill="#fff" stroke="#cfcfcf" stroke-width="0.9"/><circle cx="343.38" cy="800.03" r="2.25" fill="#fcfdf2"/><circle cx="386.98" cy="805.56" r="2.25" fill="#fcfdf2"/><circle cx="369.54" cy="816.61" r="2.25" fill="#fcfdf2"/><circle cx="339.02" cy="827.67" r="2.25" fill="#fcfdf2"/><circle cx="369.54" cy="833.20" r="2.25" fill="#fcfdf2"/><circle cx="373.90" cy="838.72" r="2.25" fill="#fcfdf2"/><circle cx="386.98" cy="838.72" r="2.25" fill="#fcfdf2"/><circle cx="343.38" cy="788.98" r="2.25" fill="#f8fbe2"/><circle cx="360.82" cy="788.98" r="2.25" fill="#f8fbe2"/><circle cx="365.18" cy="816.61" r="2.25" fill="#f8fbe2"/><circle cx="334.66" cy="827.67" r="2.25" fill="#f8fbe2"/><circle cx="343.38" cy="827.67" r="2.25" fill="#f8fbe2"/><circle cx="339.02" cy="833.20" r="2.25" fill="#f8fbe2"/><circle cx="352.10" cy="838.72" r="2.25" fill="#f8fbe2"/><circle cx="391.34" cy="838.72" r="2.25" fill="#f8fbe2"/><circle cx="356.46" cy="788.98" r="2.25" fill="#f2f9cf"/><circle cx="365.18" cy="833.20" r="2.25" fill="#f2f9cf"/><circle cx="373.90" cy="833.20" r="2.25" fill="#f2f9cf"/><circle cx="386.98" cy="833.20" r="2.25" fill="#f2f9cf"/><circle cx="365.18" cy="800.03" r="2.25" fill="#e6f5ab"/><circle cx="386.98" cy="800.03" r="2.25" fill="#e6f5ab"/><circle cx="356.46" cy="816.61" r="2.25" fill="#e6f5ab"/><circle cx="334.66" cy="838.72" r="2.25" fill="#e6f5ab"/><circle cx="369.54" cy="788.98" r="2.25" fill="#d8efa6"/><circle cx="343.38" cy="833.20" r="2.25" fill="#d8efa6"/><circle cx="365.18" cy="811.09" r="2.25" fill="#c4e8b3"/><circle cx="339.02" cy="838.72" r="2.25" fill="#c4e8b3"/><circle cx="373.90" cy="788.98" r="2.25" fill="#41b6c4"/><circle cx="386.98" cy="788.98" r="2.25" fill="#41b6c4"/><circle cx="343.38" cy="838.72" r="2.25" fill="#225ea8"/><circle cx="365.18" cy="788.98" r="2.25" fill="#081d58"/><text class="tk" x="330.3" y="848.9">0</text><text class="tk" x="339.0" y="848.9">2</text><text class="tk" x="347.7" y="848.9">4</text><text class="tk" x="356.5" y="848.9">6</text><text class="tk" x="365.2" y="848.9">8</text><text class="tk" x="373.9" y="848.9">10</text><text class="tk" x="382.6" y="848.9">12</text><text class="tk" x="391.3" y="848.9">14</text><text x="363.00" y="854.85" font-size="5.41" text-anchor="middle" fill="#262626" textLength="27.07" lengthAdjust="spacingAndGlyphs">cluster H1</text><text class="tk" transform="translate(328.0 844.2) rotate(-90)">0</text><text class="tk" transform="translate(328.0 833.2) rotate(-90)">2</text><text class="tk" transform="translate(328.0 822.1) rotate(-90)">4</text><text class="tk" transform="translate(328.0 811.1) rotate(-90)">6</text><text class="tk" transform="translate(328.0 800.0) rotate(-90)">8</text><text class="tk" transform="translate(328.0 789.0) rotate(-90)">10</text><text x="322.00" y="813.85" font-size="5.41" text-anchor="middle" fill="#262626" textLength="27.07" lengthAdjust="spacingAndGlyphs" transform="rotate(-90 322.00 813.85)">cluster H3</text><rect x="425.30" y="783.45" width="65.4" height="60.8" fill="#fff" stroke="#cfcfcf" stroke-width="0.9"/><circle cx="437.19" cy="788.98" r="2.25" fill="#fcfdf2"/><circle cx="443.14" cy="788.98" r="2.25" fill="#fcfdf2"/><circle cx="455.03" cy="838.72" r="2.25" fill="#fcfdf2"/><circle cx="466.92" cy="805.56" r="2.25" fill="#fcfdf2"/><circle cx="455.03" cy="827.67" r="2.25" fill="#f8fbe2"/><circle cx="466.92" cy="827.67" r="2.25" fill="#f8fbe2"/><circle cx="484.75" cy="833.20" r="2.25" fill="#f8fbe2"/><circle cx="431.25" cy="800.03" r="2.25" fill="#e6f5ab"/><circle cx="431.25" cy="816.61" r="2.25" fill="#e6f5ab"/><circle cx="431.25" cy="833.20" r="2.25" fill="#e6f5ab"/><circle cx="466.92" cy="788.98" r="2.25" fill="#e6f5ab"/><circle cx="466.92" cy="800.03" r="2.25" fill="#e6f5ab"/><circle cx="484.75" cy="838.72" r="2.25" fill="#e6f5ab"/><circle cx="431.25" cy="811.09" r="2.25" fill="#a4dbb6"/><circle cx="466.92" cy="833.20" r="2.25" fill="#a4dbb6"/><circle cx="431.25" cy="788.98" r="2.25" fill="#081d58"/><circle cx="466.92" cy="838.72" r="2.25" fill="#081d58"/><text class="tk" x="425.3" y="848.9">0</text><text class="tk" x="437.2" y="848.9">2</text><text class="tk" x="449.1" y="848.9">4</text><text class="tk" x="461.0" y="848.9">6</text><text class="tk" x="472.9" y="848.9">8</text><text class="tk" x="484.8" y="848.9">10</text><text x="458.00" y="854.85" font-size="5.41" text-anchor="middle" fill="#262626" textLength="27.07" lengthAdjust="spacingAndGlyphs">cluster H2</text><text class="tk" transform="translate(423.0 844.2) rotate(-90)">0</text><text class="tk" transform="translate(423.0 833.2) rotate(-90)">2</text><text class="tk" transform="translate(423.0 822.1) rotate(-90)">4</text><text class="tk" transform="translate(423.0 811.1) rotate(-90)">6</text><text class="tk" transform="translate(423.0 800.0) rotate(-90)">8</text><text class="tk" transform="translate(423.0 789.0) rotate(-90)">10</text><text x="417.00" y="813.85" font-size="5.41" text-anchor="middle" fill="#262626" textLength="27.07" lengthAdjust="spacingAndGlyphs" transform="rotate(-90 417.00 813.85)">cluster H3</text><rect x="519.80" y="783.45" width="65.4" height="60.8" fill="#fff" stroke="#cfcfcf" stroke-width="0.9"/><circle cx="561.42" cy="805.56" r="2.25" fill="#fcfdf2"/><circle cx="537.64" cy="827.67" r="2.25" fill="#e6f5ab"/><circle cx="549.53" cy="816.61" r="2.25" fill="#e6f5ab"/><circle cx="555.47" cy="811.09" r="2.25" fill="#c4e8b3"/><circle cx="567.36" cy="800.03" r="2.25" fill="#c4e8b3"/><circle cx="531.69" cy="833.20" r="2.25" fill="#55bec1"/><circle cx="525.75" cy="838.72" r="2.25" fill="#081d58"/><circle cx="579.25" cy="788.98" r="2.25" fill="#081d58"/><text class="tk" x="519.8" y="848.9">0</text><text class="tk" x="531.7" y="848.9">2</text><text class="tk" x="543.6" y="848.9">4</text><text class="tk" x="555.5" y="848.9">6</text><text class="tk" x="567.4" y="848.9">8</text><text class="tk" x="579.3" y="848.9">10</text><text x="552.50" y="854.85" font-size="5.41" text-anchor="middle" fill="#262626" textLength="27.07" lengthAdjust="spacingAndGlyphs">cluster H3</text><text class="tk" transform="translate(517.5 844.2) rotate(-90)">0</text><text class="tk" transform="translate(517.5 833.2) rotate(-90)">2</text><text class="tk" transform="translate(517.5 822.1) rotate(-90)">4</text><text class="tk" transform="translate(517.5 811.1) rotate(-90)">6</text><text class="tk" transform="translate(517.5 800.0) rotate(-90)">8</text><text class="tk" transform="translate(517.5 789.0) rotate(-90)">10</text><text x="511.50" y="813.85" font-size="5.41" text-anchor="middle" fill="#262626" textLength="27.07" lengthAdjust="spacingAndGlyphs" transform="rotate(-90 511.50 813.85)">cluster H3</text><text x="81.05" y="320.40" font-size="19.18" text-anchor="middle" fill="#000" textLength="22.43" lengthAdjust="spacingAndGlyphs">L1</text><text x="80.00" y="884.40" font-size="19.18" text-anchor="middle" fill="#000" textLength="22.43" lengthAdjust="spacingAndGlyphs">L1</text><text x="175.65" y="318.40" font-size="19.18" text-anchor="middle" fill="#000" textLength="22.43" lengthAdjust="spacingAndGlyphs">L2</text><text x="175.00" y="882.20" font-size="19.18" text-anchor="middle" fill="#000" textLength="22.43" lengthAdjust="spacingAndGlyphs">L2</text><text x="270.55" y="318.40" font-size="19.18" text-anchor="middle" fill="#000" textLength="22.43" lengthAdjust="spacingAndGlyphs">L3</text><text x="268.95" y="882.20" font-size="19.18" text-anchor="middle" fill="#000" textLength="22.43" lengthAdjust="spacingAndGlyphs">L3</text><text x="364.70" y="318.40" font-size="19.18" text-anchor="middle" fill="#000" textLength="26.09" lengthAdjust="spacingAndGlyphs">H1</text><text x="363.85" y="882.20" font-size="19.18" text-anchor="middle" fill="#000" textLength="26.09" lengthAdjust="spacingAndGlyphs">H1</text><text x="459.55" y="318.40" font-size="19.18" text-anchor="middle" fill="#000" textLength="26.09" lengthAdjust="spacingAndGlyphs">H2</text><text x="458.50" y="882.20" font-size="19.18" text-anchor="middle" fill="#000" textLength="26.09" lengthAdjust="spacingAndGlyphs">H2</text><text x="554.45" y="318.40" font-size="19.18" text-anchor="middle" fill="#000" textLength="26.09" lengthAdjust="spacingAndGlyphs">H3</text><text x="553.35" y="882.20" font-size="19.18" text-anchor="middle" fill="#000" textLength="26.09" lengthAdjust="spacingAndGlyphs">H3</text><text x="6.40" y="373.85" font-size="19.18" fill="#000" textLength="22.43" lengthAdjust="spacingAndGlyphs">L1</text><text x="605.40" y="373.85" font-size="19.18" fill="#000" textLength="22.43" lengthAdjust="spacingAndGlyphs">L1</text><text x="6.40" y="462.80" font-size="19.18" fill="#000" textLength="22.43" lengthAdjust="spacingAndGlyphs">L2</text><text x="605.40" y="462.80" font-size="19.18" fill="#000" textLength="22.43" lengthAdjust="spacingAndGlyphs">L2</text><text x="6.40" y="551.85" font-size="19.18" fill="#000" textLength="22.43" lengthAdjust="spacingAndGlyphs">L3</text><text x="605.40" y="551.85" font-size="19.18" fill="#000" textLength="22.43" lengthAdjust="spacingAndGlyphs">L3</text><text x="6.40" y="640.80" font-size="19.18" fill="#000" textLength="26.09" lengthAdjust="spacingAndGlyphs">H1</text><text x="605.40" y="640.80" font-size="19.18" fill="#000" textLength="26.09" lengthAdjust="spacingAndGlyphs">H1</text><text x="6.40" y="729.95" font-size="19.18" fill="#000" textLength="26.09" lengthAdjust="spacingAndGlyphs">H2</text><text x="605.40" y="729.95" font-size="19.18" fill="#000" textLength="26.09" lengthAdjust="spacingAndGlyphs">H2</text><text x="6.40" y="818.80" font-size="19.18" fill="#000" textLength="26.09" lengthAdjust="spacingAndGlyphs">H3</text><text x="605.40" y="818.80" font-size="19.18" fill="#000" textLength="26.09" lengthAdjust="spacingAndGlyphs">H3</text><text x="-1.00" y="297.50" font-size="17.5" fill="#000">b.</text><defs><linearGradient id="ygb" x1="0" y1="0" x2="0" y2="1"><stop offset="0.000" stop-color="#081d58"/><stop offset="0.050" stop-color="#13266f"/><stop offset="0.100" stop-color="#1f2f87"/><stop offset="0.150" stop-color="#243c98"/><stop offset="0.200" stop-color="#234da0"/><stop offset="0.250" stop-color="#225da8"/><stop offset="0.300" stop-color="#2072b1"/><stop offset="0.350" stop-color="#1e86bb"/><stop offset="0.400" stop-color="#2498c1"/><stop offset="0.450" stop-color="#33a7c2"/><stop offset="0.500" stop-color="#40b5c4"/><stop offset="0.550" stop-color="#59bfc0"/><stop offset="0.600" stop-color="#73c8bd"/><stop offset="0.650" stop-color="#8ed3ba"/><stop offset="0.700" stop-color="#abdeb7"/><stop offset="0.750" stop-color="#c6e9b4"/><stop offset="0.800" stop-color="#d6efb3"/><stop offset="0.850" stop-color="#e6f5b2"/><stop offset="0.900" stop-color="#f1faba"/><stop offset="0.950" stop-color="#f8fcca"/><stop offset="1.000" stop-color="#ffffd9"/></linearGradient></defs><rect x="644.0" y="498.1" width="11.20" height="181.50" fill="url(#ygb)" stroke="#bbb" stroke-width="0.5"/><line x1="655.2" y1="679.60" x2="657.2" y2="679.60" stroke="#333" stroke-width="0.6"/><text x="659.20" y="682.60" font-size="8.57" textLength="5.34" lengthAdjust="spacingAndGlyphs">0</text><line x1="655.2" y1="643.30" x2="657.2" y2="643.30" stroke="#333" stroke-width="0.6"/><text x="659.20" y="646.30" font-size="8.57" textLength="16.03" lengthAdjust="spacingAndGlyphs">100</text><line x1="655.2" y1="607.00" x2="657.2" y2="607.00" stroke="#333" stroke-width="0.6"/><text x="659.20" y="610.00" font-size="8.57" textLength="16.03" lengthAdjust="spacingAndGlyphs">200</text><line x1="655.2" y1="570.70" x2="657.2" y2="570.70" stroke="#333" stroke-width="0.6"/><text x="659.20" y="573.70" font-size="8.57" textLength="16.03" lengthAdjust="spacingAndGlyphs">300</text><line x1="655.2" y1="534.40" x2="657.2" y2="534.40" stroke="#333" stroke-width="0.6"/><text x="659.20" y="537.40" font-size="8.57" textLength="16.03" lengthAdjust="spacingAndGlyphs">400</text><line x1="655.2" y1="498.10" x2="657.2" y2="498.10" stroke="#333" stroke-width="0.6"/><text x="659.20" y="501.10" font-size="8.57" textLength="16.03" lengthAdjust="spacingAndGlyphs">500</text><text x="683.60" y="589.30" font-size="8.57" text-anchor="middle" textLength="100.27" lengthAdjust="spacingAndGlyphs" transform="rotate(-90 683.60 589.30)">number of joint clusters</text>
</svg></body></html>
